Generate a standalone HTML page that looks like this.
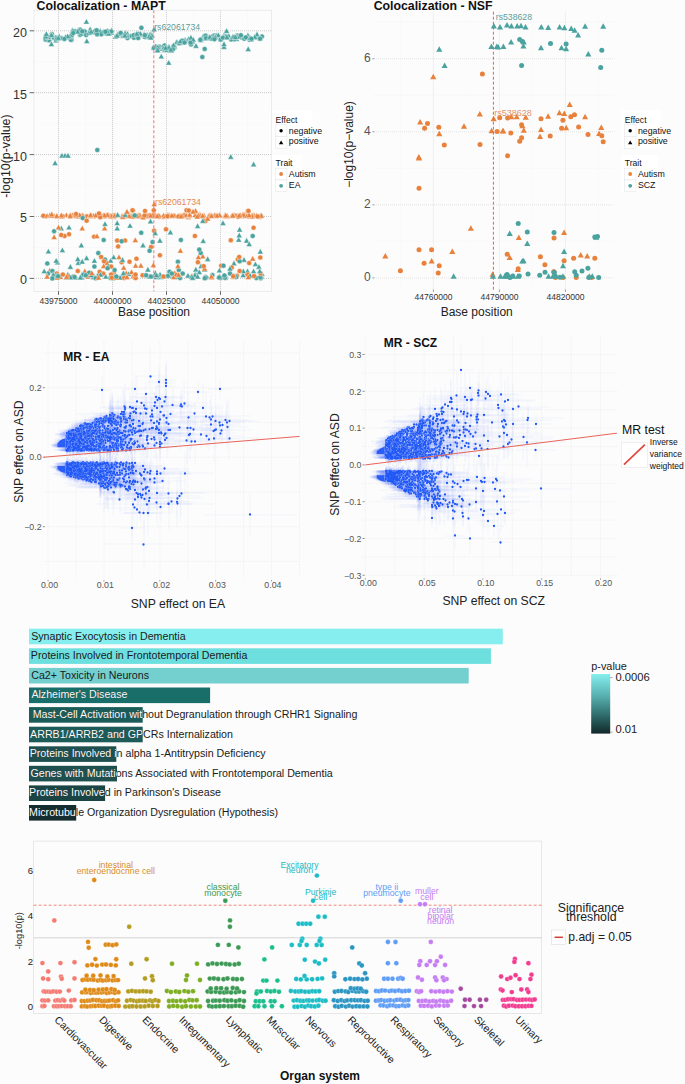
<!DOCTYPE html>
<html><head><meta charset="utf-8"><style>
html,body{margin:0;padding:0;background:#fcfcfc;}
svg{display:block;font-family:"Liberation Sans",sans-serif;}
</style></head><body>
<svg width="685" height="1084" viewBox="0 0 685 1084">
<rect width="685" height="1084" fill="#fcfcfc"/>
<line x1="34.00" y1="247.45" x2="271.50" y2="247.45" stroke="#f6f6f6" stroke-width="0.6"/>
<line x1="34.00" y1="185.55" x2="271.50" y2="185.55" stroke="#f6f6f6" stroke-width="0.6"/>
<line x1="34.00" y1="123.65" x2="271.50" y2="123.65" stroke="#f6f6f6" stroke-width="0.6"/>
<line x1="34.00" y1="61.75" x2="271.50" y2="61.75" stroke="#f6f6f6" stroke-width="0.6"/>
<line x1="85.50" y1="10.20" x2="85.50" y2="291.30" stroke="#f6f6f6" stroke-width="0.6"/>
<line x1="139.50" y1="10.20" x2="139.50" y2="291.30" stroke="#f6f6f6" stroke-width="0.6"/>
<line x1="193.50" y1="10.20" x2="193.50" y2="291.30" stroke="#f6f6f6" stroke-width="0.6"/>
<line x1="247.50" y1="10.20" x2="247.50" y2="291.30" stroke="#f6f6f6" stroke-width="0.6"/>
<line x1="34.00" y1="278.40" x2="271.50" y2="278.40" stroke="#b4b4b4" stroke-width="0.7" stroke-dasharray="1,1"/>
<line x1="34.00" y1="216.50" x2="271.50" y2="216.50" stroke="#b4b4b4" stroke-width="0.7" stroke-dasharray="1,1"/>
<line x1="34.00" y1="154.60" x2="271.50" y2="154.60" stroke="#b4b4b4" stroke-width="0.7" stroke-dasharray="1,1"/>
<line x1="34.00" y1="92.70" x2="271.50" y2="92.70" stroke="#b4b4b4" stroke-width="0.7" stroke-dasharray="1,1"/>
<line x1="34.00" y1="30.80" x2="271.50" y2="30.80" stroke="#b4b4b4" stroke-width="0.7" stroke-dasharray="1,1"/>
<line x1="58.50" y1="10.20" x2="58.50" y2="291.30" stroke="#b4b4b4" stroke-width="0.7" stroke-dasharray="1,1"/>
<line x1="112.50" y1="10.20" x2="112.50" y2="291.30" stroke="#b4b4b4" stroke-width="0.7" stroke-dasharray="1,1"/>
<line x1="166.50" y1="10.20" x2="166.50" y2="291.30" stroke="#b4b4b4" stroke-width="0.7" stroke-dasharray="1,1"/>
<line x1="220.50" y1="10.20" x2="220.50" y2="291.30" stroke="#b4b4b4" stroke-width="0.7" stroke-dasharray="1,1"/>
<rect x="34.0" y="10.2" width="237.5" height="281.1" fill="none" stroke="#e4e4e4" stroke-width="0.7"/>
<line x1="29.60" y1="278.40" x2="34.00" y2="278.40" stroke="#444" stroke-width="0.8"/>
<text transform="translate(27.00,284.30) scale(1,1)" font-size="12.5" text-anchor="end" fill="#333">0</text>
<line x1="29.60" y1="216.50" x2="34.00" y2="216.50" stroke="#444" stroke-width="0.8"/>
<text transform="translate(27.00,222.40) scale(1,1)" font-size="12.5" text-anchor="end" fill="#333">5</text>
<line x1="29.60" y1="154.60" x2="34.00" y2="154.60" stroke="#444" stroke-width="0.8"/>
<text transform="translate(27.00,160.50) scale(1,1)" font-size="12.5" text-anchor="end" fill="#333">10</text>
<line x1="29.60" y1="92.70" x2="34.00" y2="92.70" stroke="#444" stroke-width="0.8"/>
<text transform="translate(27.00,98.60) scale(1,1)" font-size="12.5" text-anchor="end" fill="#333">15</text>
<line x1="29.60" y1="30.80" x2="34.00" y2="30.80" stroke="#444" stroke-width="0.8"/>
<text transform="translate(27.00,36.70) scale(1,1)" font-size="12.5" text-anchor="end" fill="#333">20</text>
<line x1="58.50" y1="291.30" x2="58.50" y2="294.90" stroke="#444" stroke-width="0.8"/>
<text transform="translate(58.50,303.60) scale(1,1)" font-size="8.55" text-anchor="middle" fill="#333">43975000</text>
<line x1="112.50" y1="291.30" x2="112.50" y2="294.90" stroke="#444" stroke-width="0.8"/>
<text transform="translate(112.50,303.60) scale(1,1)" font-size="8.55" text-anchor="middle" fill="#333">44000000</text>
<line x1="166.50" y1="291.30" x2="166.50" y2="294.90" stroke="#444" stroke-width="0.8"/>
<text transform="translate(166.50,303.60) scale(1,1)" font-size="8.55" text-anchor="middle" fill="#333">44025000</text>
<line x1="220.50" y1="291.30" x2="220.50" y2="294.90" stroke="#444" stroke-width="0.8"/>
<text transform="translate(220.50,303.60) scale(1,1)" font-size="8.55" text-anchor="middle" fill="#333">44050000</text>
<text transform="translate(154.00,316.20) scale(1,1)" font-size="12" text-anchor="middle" fill="#222">Base position</text>
<text transform="translate(10.00,156.10) rotate(-90) scale(1,1)" font-size="12.4" text-anchor="middle" fill="#222">-log10(p-value)</text>
<text transform="translate(36.60,10.00) scale(1,1)" font-size="12.3" font-weight="bold" fill="#111">Colocalization - MAPT</text>
<path d="M97.3 217.1L103.3 217.1L100.3 211.7Z" fill="#e8813c" stroke="#fff" stroke-width="0.5" stroke-opacity="0.8"/>
<circle cx="163.4" cy="217.1" r="2.5" fill="#e8813c" stroke="#fff" stroke-width="0.5" stroke-opacity="0.8"/>
<circle cx="149.2" cy="216.2" r="2.5" fill="#e8813c" stroke="#fff" stroke-width="0.5" stroke-opacity="0.8"/>
<path d="M216.3 217.9L222.3 217.9L219.3 212.5Z" fill="#e8813c" stroke="#fff" stroke-width="0.5" stroke-opacity="0.8"/>
<circle cx="159.1" cy="216.7" r="2.5" fill="#e8813c" stroke="#fff" stroke-width="0.5" stroke-opacity="0.8"/>
<path d="M184.7 218.1L190.7 218.1L187.7 212.7Z" fill="#e8813c" stroke="#fff" stroke-width="0.5" stroke-opacity="0.8"/>
<path d="M42.4 218.6L48.4 218.6L45.4 213.2Z" fill="#e8813c" stroke="#fff" stroke-width="0.5" stroke-opacity="0.8"/>
<path d="M196.9 218.0L202.9 218.0L199.9 212.6Z" fill="#e8813c" stroke="#fff" stroke-width="0.5" stroke-opacity="0.8"/>
<path d="M74.6 217.8L80.6 217.8L77.6 212.4Z" fill="#e8813c" stroke="#fff" stroke-width="0.5" stroke-opacity="0.8"/>
<path d="M231.2 217.6L237.2 217.6L234.2 212.2Z" fill="#e8813c" stroke="#fff" stroke-width="0.5" stroke-opacity="0.8"/>
<path d="M180.1 217.6L186.1 217.6L183.1 212.2Z" fill="#e8813c" stroke="#fff" stroke-width="0.5" stroke-opacity="0.8"/>
<path d="M73.1 218.1L79.1 218.1L76.1 212.7Z" fill="#e8813c" stroke="#fff" stroke-width="0.5" stroke-opacity="0.8"/>
<circle cx="43.3" cy="215.8" r="2.5" fill="#e8813c" stroke="#fff" stroke-width="0.5" stroke-opacity="0.8"/>
<path d="M58.1 219.0L64.1 219.0L61.1 213.6Z" fill="#e8813c" stroke="#fff" stroke-width="0.5" stroke-opacity="0.8"/>
<path d="M197.6 217.5L203.6 217.5L200.6 212.1Z" fill="#e8813c" stroke="#fff" stroke-width="0.5" stroke-opacity="0.8"/>
<path d="M250.2 217.7L256.2 217.7L253.2 212.3Z" fill="#e8813c" stroke="#fff" stroke-width="0.5" stroke-opacity="0.8"/>
<path d="M228.6 218.4L234.6 218.4L231.6 213.0Z" fill="#e8813c" stroke="#fff" stroke-width="0.5" stroke-opacity="0.8"/>
<path d="M241.7 217.1L247.7 217.1L244.7 211.7Z" fill="#e8813c" stroke="#fff" stroke-width="0.5" stroke-opacity="0.8"/>
<path d="M221.8 217.9L227.8 217.9L224.8 212.5Z" fill="#e8813c" stroke="#fff" stroke-width="0.5" stroke-opacity="0.8"/>
<circle cx="77.7" cy="215.6" r="2.5" fill="#e8813c" stroke="#fff" stroke-width="0.5" stroke-opacity="0.8"/>
<path d="M108.5 218.1L114.5 218.1L111.5 212.7Z" fill="#e8813c" stroke="#fff" stroke-width="0.5" stroke-opacity="0.8"/>
<path d="M142.8 217.8L148.8 217.8L145.8 212.4Z" fill="#e8813c" stroke="#fff" stroke-width="0.5" stroke-opacity="0.8"/>
<path d="M119.1 218.2L125.1 218.2L122.1 212.8Z" fill="#e8813c" stroke="#fff" stroke-width="0.5" stroke-opacity="0.8"/>
<circle cx="144.6" cy="216.5" r="2.5" fill="#e8813c" stroke="#fff" stroke-width="0.5" stroke-opacity="0.8"/>
<path d="M222.5 218.1L228.5 218.1L225.5 212.7Z" fill="#e8813c" stroke="#fff" stroke-width="0.5" stroke-opacity="0.8"/>
<path d="M196.2 218.1L202.2 218.1L199.2 212.7Z" fill="#e8813c" stroke="#fff" stroke-width="0.5" stroke-opacity="0.8"/>
<circle cx="167.1" cy="216.3" r="2.5" fill="#e8813c" stroke="#fff" stroke-width="0.5" stroke-opacity="0.8"/>
<path d="M215.9 218.0L221.9 218.0L218.9 212.6Z" fill="#e8813c" stroke="#fff" stroke-width="0.5" stroke-opacity="0.8"/>
<path d="M175.5 218.2L181.5 218.2L178.5 212.8Z" fill="#e8813c" stroke="#fff" stroke-width="0.5" stroke-opacity="0.8"/>
<path d="M105.6 217.5L111.6 217.5L108.6 212.1Z" fill="#e8813c" stroke="#fff" stroke-width="0.5" stroke-opacity="0.8"/>
<path d="M126.3 218.3L132.3 218.3L129.3 212.9Z" fill="#e8813c" stroke="#fff" stroke-width="0.5" stroke-opacity="0.8"/>
<path d="M200.9 218.4L206.9 218.4L203.9 213.0Z" fill="#e8813c" stroke="#fff" stroke-width="0.5" stroke-opacity="0.8"/>
<path d="M247.9 218.9L253.9 218.9L250.9 213.5Z" fill="#e8813c" stroke="#fff" stroke-width="0.5" stroke-opacity="0.8"/>
<path d="M221.9 218.4L227.9 218.4L224.9 213.0Z" fill="#e8813c" stroke="#fff" stroke-width="0.5" stroke-opacity="0.8"/>
<path d="M71.0 217.4L77.0 217.4L74.0 212.0Z" fill="#e8813c" stroke="#fff" stroke-width="0.5" stroke-opacity="0.8"/>
<path d="M79.6 217.6L85.6 217.6L82.6 212.2Z" fill="#e8813c" stroke="#fff" stroke-width="0.5" stroke-opacity="0.8"/>
<path d="M224.1 218.3L230.1 218.3L227.1 212.9Z" fill="#e8813c" stroke="#fff" stroke-width="0.5" stroke-opacity="0.8"/>
<path d="M74.6 218.2L80.6 218.2L77.6 212.8Z" fill="#e8813c" stroke="#fff" stroke-width="0.5" stroke-opacity="0.8"/>
<path d="M129.5 216.9L135.5 216.9L132.5 211.5Z" fill="#e8813c" stroke="#fff" stroke-width="0.5" stroke-opacity="0.8"/>
<path d="M152.5 217.5L158.5 217.5L155.5 212.1Z" fill="#e8813c" stroke="#fff" stroke-width="0.5" stroke-opacity="0.8"/>
<path d="M208.7 217.8L214.7 217.8L211.7 212.4Z" fill="#e8813c" stroke="#fff" stroke-width="0.5" stroke-opacity="0.8"/>
<path d="M130.7 218.5L136.7 218.5L133.7 213.1Z" fill="#e8813c" stroke="#fff" stroke-width="0.5" stroke-opacity="0.8"/>
<path d="M128.2 218.5L134.2 218.5L131.2 213.1Z" fill="#e8813c" stroke="#fff" stroke-width="0.5" stroke-opacity="0.8"/>
<path d="M185.3 219.6L191.3 219.6L188.3 214.2Z" fill="#e8813c" stroke="#fff" stroke-width="0.5" stroke-opacity="0.8"/>
<path d="M44.1 218.3L50.1 218.3L47.1 212.9Z" fill="#e8813c" stroke="#fff" stroke-width="0.5" stroke-opacity="0.8"/>
<path d="M63.4 217.6L69.4 217.6L66.4 212.2Z" fill="#e8813c" stroke="#fff" stroke-width="0.5" stroke-opacity="0.8"/>
<path d="M152.1 217.8L158.1 217.8L155.1 212.4Z" fill="#e8813c" stroke="#fff" stroke-width="0.5" stroke-opacity="0.8"/>
<path d="M74.8 219.1L80.8 219.1L77.8 213.7Z" fill="#e8813c" stroke="#fff" stroke-width="0.5" stroke-opacity="0.8"/>
<path d="M238.7 218.5L244.7 218.5L241.7 213.1Z" fill="#e8813c" stroke="#fff" stroke-width="0.5" stroke-opacity="0.8"/>
<path d="M71.2 218.2L77.2 218.2L74.2 212.8Z" fill="#e8813c" stroke="#fff" stroke-width="0.5" stroke-opacity="0.8"/>
<circle cx="260.1" cy="217.1" r="2.5" fill="#e8813c" stroke="#fff" stroke-width="0.5" stroke-opacity="0.8"/>
<circle cx="86.4" cy="216.3" r="2.5" fill="#e8813c" stroke="#fff" stroke-width="0.5" stroke-opacity="0.8"/>
<path d="M178.0 218.0L184.0 218.0L181.0 212.6Z" fill="#e8813c" stroke="#fff" stroke-width="0.5" stroke-opacity="0.8"/>
<path d="M166.8 217.8L172.8 217.8L169.8 212.4Z" fill="#e8813c" stroke="#fff" stroke-width="0.5" stroke-opacity="0.8"/>
<path d="M112.4 217.6L118.4 217.6L115.4 212.2Z" fill="#e8813c" stroke="#fff" stroke-width="0.5" stroke-opacity="0.8"/>
<circle cx="70.3" cy="216.5" r="2.5" fill="#e8813c" stroke="#fff" stroke-width="0.5" stroke-opacity="0.8"/>
<path d="M69.8 217.5L75.8 217.5L72.8 212.1Z" fill="#e8813c" stroke="#fff" stroke-width="0.5" stroke-opacity="0.8"/>
<path d="M163.3 218.4L169.3 218.4L166.3 213.0Z" fill="#e8813c" stroke="#fff" stroke-width="0.5" stroke-opacity="0.8"/>
<path d="M240.1 217.0L246.1 217.0L243.1 211.6Z" fill="#e8813c" stroke="#fff" stroke-width="0.5" stroke-opacity="0.8"/>
<circle cx="70.0" cy="216.3" r="2.5" fill="#e8813c" stroke="#fff" stroke-width="0.5" stroke-opacity="0.8"/>
<path d="M103.5 217.7L109.5 217.7L106.5 212.3Z" fill="#e8813c" stroke="#fff" stroke-width="0.5" stroke-opacity="0.8"/>
<path d="M222.8 218.3L228.8 218.3L225.8 212.9Z" fill="#e8813c" stroke="#fff" stroke-width="0.5" stroke-opacity="0.8"/>
<path d="M160.5 217.9L166.5 217.9L163.5 212.5Z" fill="#e8813c" stroke="#fff" stroke-width="0.5" stroke-opacity="0.8"/>
<circle cx="260.1" cy="216.2" r="2.5" fill="#e8813c" stroke="#fff" stroke-width="0.5" stroke-opacity="0.8"/>
<path d="M184.8 218.3L190.8 218.3L187.8 212.9Z" fill="#e8813c" stroke="#fff" stroke-width="0.5" stroke-opacity="0.8"/>
<path d="M124.0 217.3L130.0 217.3L127.0 211.9Z" fill="#e8813c" stroke="#fff" stroke-width="0.5" stroke-opacity="0.8"/>
<path d="M216.8 217.7L222.8 217.7L219.8 212.3Z" fill="#e8813c" stroke="#fff" stroke-width="0.5" stroke-opacity="0.8"/>
<path d="M71.5 218.0L77.5 218.0L74.5 212.6Z" fill="#e8813c" stroke="#fff" stroke-width="0.5" stroke-opacity="0.8"/>
<path d="M165.3 217.7L171.3 217.7L168.3 212.3Z" fill="#e8813c" stroke="#fff" stroke-width="0.5" stroke-opacity="0.8"/>
<path d="M165.0 217.5L171.0 217.5L168.0 212.1Z" fill="#e8813c" stroke="#fff" stroke-width="0.5" stroke-opacity="0.8"/>
<path d="M181.2 217.2L187.2 217.2L184.2 211.8Z" fill="#e8813c" stroke="#fff" stroke-width="0.5" stroke-opacity="0.8"/>
<path d="M251.1 217.9L257.1 217.9L254.1 212.5Z" fill="#e8813c" stroke="#fff" stroke-width="0.5" stroke-opacity="0.8"/>
<path d="M143.4 218.7L149.4 218.7L146.4 213.3Z" fill="#e8813c" stroke="#fff" stroke-width="0.5" stroke-opacity="0.8"/>
<path d="M206.8 217.6L212.8 217.6L209.8 212.2Z" fill="#e8813c" stroke="#fff" stroke-width="0.5" stroke-opacity="0.8"/>
<circle cx="149.9" cy="215.2" r="2.5" fill="#e8813c" stroke="#fff" stroke-width="0.5" stroke-opacity="0.8"/>
<path d="M130.0 218.1L136.0 218.1L133.0 212.7Z" fill="#e8813c" stroke="#fff" stroke-width="0.5" stroke-opacity="0.8"/>
<path d="M164.5 217.5L170.5 217.5L167.5 212.1Z" fill="#e8813c" stroke="#fff" stroke-width="0.5" stroke-opacity="0.8"/>
<circle cx="138.1" cy="216.6" r="2.5" fill="#e8813c" stroke="#fff" stroke-width="0.5" stroke-opacity="0.8"/>
<circle cx="113.6" cy="215.4" r="2.5" fill="#e8813c" stroke="#fff" stroke-width="0.5" stroke-opacity="0.8"/>
<path d="M201.0 217.8L207.0 217.8L204.0 212.4Z" fill="#e8813c" stroke="#fff" stroke-width="0.5" stroke-opacity="0.8"/>
<path d="M205.4 218.3L211.4 218.3L208.4 212.9Z" fill="#e8813c" stroke="#fff" stroke-width="0.5" stroke-opacity="0.8"/>
<path d="M67.4 217.3L73.4 217.3L70.4 211.9Z" fill="#e8813c" stroke="#fff" stroke-width="0.5" stroke-opacity="0.8"/>
<path d="M150.6 218.2L156.6 218.2L153.6 212.8Z" fill="#e8813c" stroke="#fff" stroke-width="0.5" stroke-opacity="0.8"/>
<path d="M155.8 217.9L161.8 217.9L158.8 212.5Z" fill="#e8813c" stroke="#fff" stroke-width="0.5" stroke-opacity="0.8"/>
<path d="M107.4 218.4L113.4 218.4L110.4 213.0Z" fill="#e8813c" stroke="#fff" stroke-width="0.5" stroke-opacity="0.8"/>
<circle cx="243.5" cy="216.0" r="2.5" fill="#e8813c" stroke="#fff" stroke-width="0.5" stroke-opacity="0.8"/>
<circle cx="189.5" cy="215.9" r="2.5" fill="#e8813c" stroke="#fff" stroke-width="0.5" stroke-opacity="0.8"/>
<path d="M88.8 218.5L94.8 218.5L91.8 213.1Z" fill="#e8813c" stroke="#fff" stroke-width="0.5" stroke-opacity="0.8"/>
<path d="M164.7 217.8L170.7 217.8L167.7 212.4Z" fill="#e8813c" stroke="#fff" stroke-width="0.5" stroke-opacity="0.8"/>
<path d="M67.2 218.2L73.2 218.2L70.2 212.8Z" fill="#e8813c" stroke="#fff" stroke-width="0.5" stroke-opacity="0.8"/>
<path d="M249.2 217.6L255.2 217.6L252.2 212.2Z" fill="#e8813c" stroke="#fff" stroke-width="0.5" stroke-opacity="0.8"/>
<path d="M111.4 218.1L117.4 218.1L114.4 212.7Z" fill="#e8813c" stroke="#fff" stroke-width="0.5" stroke-opacity="0.8"/>
<path d="M236.9 217.8L242.9 217.8L239.9 212.4Z" fill="#e8813c" stroke="#fff" stroke-width="0.5" stroke-opacity="0.8"/>
<path d="M168.8 218.6L174.8 218.6L171.8 213.2Z" fill="#e8813c" stroke="#fff" stroke-width="0.5" stroke-opacity="0.8"/>
<path d="M46.8 217.7L52.8 217.7L49.8 212.3Z" fill="#e8813c" stroke="#fff" stroke-width="0.5" stroke-opacity="0.8"/>
<circle cx="248.5" cy="216.5" r="2.5" fill="#e8813c" stroke="#fff" stroke-width="0.5" stroke-opacity="0.8"/>
<circle cx="147.0" cy="216.1" r="2.5" fill="#e8813c" stroke="#fff" stroke-width="0.5" stroke-opacity="0.8"/>
<path d="M237.3 217.6L243.3 217.6L240.3 212.2Z" fill="#e8813c" stroke="#fff" stroke-width="0.5" stroke-opacity="0.8"/>
<path d="M224.3 218.4L230.3 218.4L227.3 213.0Z" fill="#e8813c" stroke="#fff" stroke-width="0.5" stroke-opacity="0.8"/>
<circle cx="236.5" cy="215.8" r="2.5" fill="#e8813c" stroke="#fff" stroke-width="0.5" stroke-opacity="0.8"/>
<circle cx="87.4" cy="216.5" r="2.5" fill="#e8813c" stroke="#fff" stroke-width="0.5" stroke-opacity="0.8"/>
<path d="M51.0 218.3L57.0 218.3L54.0 212.9Z" fill="#e8813c" stroke="#fff" stroke-width="0.5" stroke-opacity="0.8"/>
<circle cx="202.7" cy="216.7" r="2.5" fill="#e8813c" stroke="#fff" stroke-width="0.5" stroke-opacity="0.8"/>
<path d="M196.9 216.9L202.9 216.9L199.9 211.5Z" fill="#e8813c" stroke="#fff" stroke-width="0.5" stroke-opacity="0.8"/>
<path d="M193.1 217.5L199.1 217.5L196.1 212.1Z" fill="#e8813c" stroke="#fff" stroke-width="0.5" stroke-opacity="0.8"/>
<path d="M89.1 218.3L95.1 218.3L92.1 212.9Z" fill="#e8813c" stroke="#fff" stroke-width="0.5" stroke-opacity="0.8"/>
<path d="M196.3 217.9L202.3 217.9L199.3 212.5Z" fill="#e8813c" stroke="#fff" stroke-width="0.5" stroke-opacity="0.8"/>
<path d="M186.2 217.7L192.2 217.7L189.2 212.3Z" fill="#e8813c" stroke="#fff" stroke-width="0.5" stroke-opacity="0.8"/>
<path d="M122.0 218.7L128.0 218.7L125.0 213.3Z" fill="#e8813c" stroke="#fff" stroke-width="0.5" stroke-opacity="0.8"/>
<path d="M90.4 219.0L96.4 219.0L93.4 213.6Z" fill="#e8813c" stroke="#fff" stroke-width="0.5" stroke-opacity="0.8"/>
<path d="M243.9 218.3L249.9 218.3L246.9 212.9Z" fill="#e8813c" stroke="#fff" stroke-width="0.5" stroke-opacity="0.8"/>
<circle cx="62.8" cy="216.6" r="2.5" fill="#e8813c" stroke="#fff" stroke-width="0.5" stroke-opacity="0.8"/>
<path d="M136.9 218.7L142.9 218.7L139.9 213.3Z" fill="#e8813c" stroke="#fff" stroke-width="0.5" stroke-opacity="0.8"/>
<path d="M171.9 218.2L177.9 218.2L174.9 212.8Z" fill="#e8813c" stroke="#fff" stroke-width="0.5" stroke-opacity="0.8"/>
<path d="M95.2 218.0L101.2 218.0L98.2 212.6Z" fill="#e8813c" stroke="#fff" stroke-width="0.5" stroke-opacity="0.8"/>
<path d="M206.2 218.3L212.2 218.3L209.2 212.9Z" fill="#e8813c" stroke="#fff" stroke-width="0.5" stroke-opacity="0.8"/>
<circle cx="104.4" cy="216.6" r="2.5" fill="#e8813c" stroke="#fff" stroke-width="0.5" stroke-opacity="0.8"/>
<path d="M257.3 218.2L263.3 218.2L260.3 212.8Z" fill="#e8813c" stroke="#fff" stroke-width="0.5" stroke-opacity="0.8"/>
<circle cx="144.6" cy="216.3" r="2.5" fill="#e8813c" stroke="#fff" stroke-width="0.5" stroke-opacity="0.8"/>
<path d="M150.0 218.6L156.0 218.6L153.0 213.2Z" fill="#e8813c" stroke="#fff" stroke-width="0.5" stroke-opacity="0.8"/>
<path d="M162.3 218.4L168.3 218.4L165.3 213.0Z" fill="#e8813c" stroke="#fff" stroke-width="0.5" stroke-opacity="0.8"/>
<path d="M212.3 218.5L218.3 218.5L215.3 213.1Z" fill="#e8813c" stroke="#fff" stroke-width="0.5" stroke-opacity="0.8"/>
<path d="M151.2 217.6L157.2 217.6L154.2 212.2Z" fill="#e8813c" stroke="#fff" stroke-width="0.5" stroke-opacity="0.8"/>
<path d="M249.3 218.8L255.3 218.8L252.3 213.4Z" fill="#e8813c" stroke="#fff" stroke-width="0.5" stroke-opacity="0.8"/>
<path d="M211.5 217.7L217.5 217.7L214.5 212.3Z" fill="#e8813c" stroke="#fff" stroke-width="0.5" stroke-opacity="0.8"/>
<path d="M136.9 217.4L142.9 217.4L139.9 212.0Z" fill="#e8813c" stroke="#fff" stroke-width="0.5" stroke-opacity="0.8"/>
<path d="M213.0 217.9L219.0 217.9L216.0 212.5Z" fill="#e8813c" stroke="#fff" stroke-width="0.5" stroke-opacity="0.8"/>
<path d="M88.7 218.4L94.7 218.4L91.7 213.0Z" fill="#e8813c" stroke="#fff" stroke-width="0.5" stroke-opacity="0.8"/>
<path d="M149.8 217.3L155.8 217.3L152.8 211.9Z" fill="#e8813c" stroke="#fff" stroke-width="0.5" stroke-opacity="0.8"/>
<circle cx="169.0" cy="216.1" r="2.5" fill="#e8813c" stroke="#fff" stroke-width="0.5" stroke-opacity="0.8"/>
<path d="M79.6 218.0L85.6 218.0L82.6 212.6Z" fill="#e8813c" stroke="#fff" stroke-width="0.5" stroke-opacity="0.8"/>
<path d="M135.6 218.0L141.6 218.0L138.6 212.6Z" fill="#e8813c" stroke="#fff" stroke-width="0.5" stroke-opacity="0.8"/>
<circle cx="100.8" cy="216.2" r="2.5" fill="#e8813c" stroke="#fff" stroke-width="0.5" stroke-opacity="0.8"/>
<path d="M165.2 218.3L171.2 218.3L168.2 212.9Z" fill="#e8813c" stroke="#fff" stroke-width="0.5" stroke-opacity="0.8"/>
<path d="M214.2 218.0L220.2 218.0L217.2 212.6Z" fill="#e8813c" stroke="#fff" stroke-width="0.5" stroke-opacity="0.8"/>
<path d="M49.3 217.7L55.3 217.7L52.3 212.3Z" fill="#e8813c" stroke="#fff" stroke-width="0.5" stroke-opacity="0.8"/>
<path d="M176.7 218.5L182.7 218.5L179.7 213.1Z" fill="#e8813c" stroke="#fff" stroke-width="0.5" stroke-opacity="0.8"/>
<circle cx="62.5" cy="216.3" r="2.5" fill="#e8813c" stroke="#fff" stroke-width="0.5" stroke-opacity="0.8"/>
<path d="M77.8 218.1L83.8 218.1L80.8 212.7Z" fill="#e8813c" stroke="#fff" stroke-width="0.5" stroke-opacity="0.8"/>
<path d="M222.8 217.7L228.8 217.7L225.8 212.3Z" fill="#e8813c" stroke="#fff" stroke-width="0.5" stroke-opacity="0.8"/>
<path d="M53.5 218.5L59.5 218.5L56.5 213.1Z" fill="#e8813c" stroke="#fff" stroke-width="0.5" stroke-opacity="0.8"/>
<path d="M253.5 217.8L259.5 217.8L256.5 212.4Z" fill="#e8813c" stroke="#fff" stroke-width="0.5" stroke-opacity="0.8"/>
<path d="M147.7 217.9L153.7 217.9L150.7 212.5Z" fill="#e8813c" stroke="#fff" stroke-width="0.5" stroke-opacity="0.8"/>
<path d="M140.2 219.7L146.2 219.7L143.2 214.3Z" fill="#e8813c" stroke="#fff" stroke-width="0.5" stroke-opacity="0.8"/>
<path d="M48.6 218.0L54.6 218.0L51.6 212.6Z" fill="#e8813c" stroke="#fff" stroke-width="0.5" stroke-opacity="0.8"/>
<path d="M126.4 216.9L132.4 216.9L129.4 211.5Z" fill="#e8813c" stroke="#fff" stroke-width="0.5" stroke-opacity="0.8"/>
<circle cx="136.4" cy="216.1" r="2.5" fill="#e8813c" stroke="#fff" stroke-width="0.5" stroke-opacity="0.8"/>
<path d="M207.9 218.0L213.9 218.0L210.9 212.6Z" fill="#e8813c" stroke="#fff" stroke-width="0.5" stroke-opacity="0.8"/>
<path d="M90.6 218.1L96.6 218.1L93.6 212.7Z" fill="#e8813c" stroke="#fff" stroke-width="0.5" stroke-opacity="0.8"/>
<circle cx="144.5" cy="215.5" r="2.5" fill="#e8813c" stroke="#fff" stroke-width="0.5" stroke-opacity="0.8"/>
<path d="M120.1 218.9L126.1 218.9L123.1 213.5Z" fill="#e8813c" stroke="#fff" stroke-width="0.5" stroke-opacity="0.8"/>
<path d="M48.7 216.7L54.7 216.7L51.7 211.3Z" fill="#e8813c" stroke="#fff" stroke-width="0.5" stroke-opacity="0.8"/>
<path d="M183.0 217.6L189.0 217.6L186.0 212.2Z" fill="#e8813c" stroke="#fff" stroke-width="0.5" stroke-opacity="0.8"/>
<path d="M230.2 217.9L236.2 217.9L233.2 212.5Z" fill="#e8813c" stroke="#fff" stroke-width="0.5" stroke-opacity="0.8"/>
<circle cx="238.0" cy="216.8" r="2.5" fill="#e8813c" stroke="#fff" stroke-width="0.5" stroke-opacity="0.8"/>
<path d="M123.8 217.9L129.8 217.9L126.8 212.5Z" fill="#e8813c" stroke="#fff" stroke-width="0.5" stroke-opacity="0.8"/>
<path d="M87.4 218.3L93.4 218.3L90.4 212.9Z" fill="#e8813c" stroke="#fff" stroke-width="0.5" stroke-opacity="0.8"/>
<path d="M76.1 217.8L82.1 217.8L79.1 212.4Z" fill="#e8813c" stroke="#fff" stroke-width="0.5" stroke-opacity="0.8"/>
<path d="M87.2 218.5L93.2 218.5L90.2 213.1Z" fill="#e8813c" stroke="#fff" stroke-width="0.5" stroke-opacity="0.8"/>
<path d="M258.5 218.0L264.5 218.0L261.5 212.6Z" fill="#e8813c" stroke="#fff" stroke-width="0.5" stroke-opacity="0.8"/>
<path d="M229.8 217.9L235.8 217.9L232.8 212.5Z" fill="#e8813c" stroke="#fff" stroke-width="0.5" stroke-opacity="0.8"/>
<path d="M192.1 217.5L198.1 217.5L195.1 212.1Z" fill="#e8813c" stroke="#fff" stroke-width="0.5" stroke-opacity="0.8"/>
<path d="M100.4 217.7L106.4 217.7L103.4 212.3Z" fill="#e8813c" stroke="#fff" stroke-width="0.5" stroke-opacity="0.8"/>
<circle cx="129.5" cy="216.2" r="2.5" fill="#e8813c" stroke="#fff" stroke-width="0.5" stroke-opacity="0.8"/>
<path d="M197.3 218.1L203.3 218.1L200.3 212.7Z" fill="#e8813c" stroke="#fff" stroke-width="0.5" stroke-opacity="0.8"/>
<path d="M246.1 217.5L252.1 217.5L249.1 212.1Z" fill="#e8813c" stroke="#fff" stroke-width="0.5" stroke-opacity="0.8"/>
<path d="M208.5 218.3L214.5 218.3L211.5 212.9Z" fill="#e8813c" stroke="#fff" stroke-width="0.5" stroke-opacity="0.8"/>
<path d="M110.9 219.2L116.9 219.2L113.9 213.8Z" fill="#e8813c" stroke="#fff" stroke-width="0.5" stroke-opacity="0.8"/>
<path d="M58.3 217.7L64.3 217.7L61.3 212.3Z" fill="#e8813c" stroke="#fff" stroke-width="0.5" stroke-opacity="0.8"/>
<path d="M154.2 218.4L160.2 218.4L157.2 213.0Z" fill="#e8813c" stroke="#fff" stroke-width="0.5" stroke-opacity="0.8"/>
<path d="M126.7 218.0L132.7 218.0L129.7 212.6Z" fill="#e8813c" stroke="#fff" stroke-width="0.5" stroke-opacity="0.8"/>
<path d="M171.0 217.9L177.0 217.9L174.0 212.5Z" fill="#e8813c" stroke="#fff" stroke-width="0.5" stroke-opacity="0.8"/>
<path d="M108.7 218.7L114.7 218.7L111.7 213.3Z" fill="#e8813c" stroke="#fff" stroke-width="0.5" stroke-opacity="0.8"/>
<path d="M195.5 217.7L201.5 217.7L198.5 212.3Z" fill="#e8813c" stroke="#fff" stroke-width="0.5" stroke-opacity="0.8"/>
<path d="M199.6 218.2L205.6 218.2L202.6 212.8Z" fill="#e8813c" stroke="#fff" stroke-width="0.5" stroke-opacity="0.8"/>
<path d="M101.7 218.3L107.7 218.3L104.7 212.9Z" fill="#e8813c" stroke="#fff" stroke-width="0.5" stroke-opacity="0.8"/>
<path d="M129.2 218.9L135.2 218.9L132.2 213.5Z" fill="#e8813c" stroke="#fff" stroke-width="0.5" stroke-opacity="0.8"/>
<path d="M104.3 217.3L110.3 217.3L107.3 211.9Z" fill="#e8813c" stroke="#fff" stroke-width="0.5" stroke-opacity="0.8"/>
<path d="M87.5 217.9L93.5 217.9L90.5 212.5Z" fill="#e8813c" stroke="#fff" stroke-width="0.5" stroke-opacity="0.8"/>
<circle cx="167.5" cy="216.2" r="2.5" fill="#e8813c" stroke="#fff" stroke-width="0.5" stroke-opacity="0.8"/>
<circle cx="257.6" cy="216.5" r="2.5" fill="#e8813c" stroke="#fff" stroke-width="0.5" stroke-opacity="0.8"/>
<path d="M87.6 217.3L93.6 217.3L90.6 211.9Z" fill="#e8813c" stroke="#fff" stroke-width="0.5" stroke-opacity="0.8"/>
<path d="M186.7 217.0L192.7 217.0L189.7 211.6Z" fill="#e8813c" stroke="#fff" stroke-width="0.5" stroke-opacity="0.8"/>
<path d="M179.2 218.4L185.2 218.4L182.2 213.0Z" fill="#e8813c" stroke="#fff" stroke-width="0.5" stroke-opacity="0.8"/>
<path d="M134.1 218.2L140.1 218.2L137.1 212.8Z" fill="#e8813c" stroke="#fff" stroke-width="0.5" stroke-opacity="0.8"/>
<path d="M112.2 217.9L118.2 217.9L115.2 212.5Z" fill="#e8813c" stroke="#fff" stroke-width="0.5" stroke-opacity="0.8"/>
<path d="M101.6 217.7L107.6 217.7L104.6 212.3Z" fill="#e8813c" stroke="#fff" stroke-width="0.5" stroke-opacity="0.8"/>
<path d="M76.7 217.6L82.7 217.6L79.7 212.2Z" fill="#e8813c" stroke="#fff" stroke-width="0.5" stroke-opacity="0.8"/>
<path d="M92.8 217.6L98.8 217.6L95.8 212.2Z" fill="#e8813c" stroke="#fff" stroke-width="0.5" stroke-opacity="0.8"/>
<path d="M73.2 217.8L79.2 217.8L76.2 212.4Z" fill="#e8813c" stroke="#fff" stroke-width="0.5" stroke-opacity="0.8"/>
<path d="M194.3 218.9L200.3 218.9L197.3 213.5Z" fill="#e8813c" stroke="#fff" stroke-width="0.5" stroke-opacity="0.8"/>
<path d="M126.1 218.3L132.1 218.3L129.1 212.9Z" fill="#e8813c" stroke="#fff" stroke-width="0.5" stroke-opacity="0.8"/>
<path d="M53.8 218.2L59.8 218.2L56.8 212.8Z" fill="#e8813c" stroke="#fff" stroke-width="0.5" stroke-opacity="0.8"/>
<path d="M168.9 217.9L174.9 217.9L171.9 212.5Z" fill="#e8813c" stroke="#fff" stroke-width="0.5" stroke-opacity="0.8"/>
<path d="M111.6 218.1L117.6 218.1L114.6 212.7Z" fill="#e8813c" stroke="#fff" stroke-width="0.5" stroke-opacity="0.8"/>
<path d="M236.2 217.9L242.2 217.9L239.2 212.5Z" fill="#e8813c" stroke="#fff" stroke-width="0.5" stroke-opacity="0.8"/>
<path d="M97.6 218.2L103.6 218.2L100.6 212.8Z" fill="#e8813c" stroke="#fff" stroke-width="0.5" stroke-opacity="0.8"/>
<circle cx="178.4" cy="216.6" r="2.5" fill="#e8813c" stroke="#fff" stroke-width="0.5" stroke-opacity="0.8"/>
<path d="M119.8 219.2L125.8 219.2L122.8 213.8Z" fill="#e8813c" stroke="#fff" stroke-width="0.5" stroke-opacity="0.8"/>
<path d="M178.0 218.7L184.0 218.7L181.0 213.3Z" fill="#e8813c" stroke="#fff" stroke-width="0.5" stroke-opacity="0.8"/>
<path d="M69.7 34.5L75.7 34.5L72.7 29.1Z" fill="#4ba39f" stroke="#fff" stroke-width="0.5" stroke-opacity="0.8"/>
<path d="M201.8 41.0L207.8 41.0L204.8 35.6Z" fill="#4ba39f" stroke="#fff" stroke-width="0.5" stroke-opacity="0.8"/>
<path d="M252.4 266.6L258.4 266.6L255.4 261.2Z" fill="#4ba39f" stroke="#fff" stroke-width="0.5" stroke-opacity="0.8"/>
<path d="M69.8 34.9L75.8 34.9L72.8 29.5Z" fill="#4ba39f" stroke="#fff" stroke-width="0.5" stroke-opacity="0.8"/>
<circle cx="98.3" cy="253.1" r="2.5" fill="#4ba39f" stroke="#fff" stroke-width="0.5" stroke-opacity="0.8"/>
<path d="M147.5 223.7L153.5 223.7L150.5 218.3Z" fill="#4ba39f" stroke="#fff" stroke-width="0.5" stroke-opacity="0.8"/>
<circle cx="133.4" cy="277.0" r="2.5" fill="#e8813c" stroke="#fff" stroke-width="0.5" stroke-opacity="0.8"/>
<path d="M67.8 39.6L73.8 39.6L70.8 34.2Z" fill="#4ba39f" stroke="#fff" stroke-width="0.5" stroke-opacity="0.8"/>
<path d="M123.2 275.5L129.2 275.5L126.2 270.1Z" fill="#e8813c" stroke="#fff" stroke-width="0.5" stroke-opacity="0.8"/>
<path d="M153.1 279.4L159.1 279.4L156.1 274.0Z" fill="#4ba39f" stroke="#fff" stroke-width="0.5" stroke-opacity="0.8"/>
<circle cx="200.1" cy="40.0" r="2.5" fill="#4ba39f" stroke="#fff" stroke-width="0.5" stroke-opacity="0.8"/>
<path d="M58.2 230.7L64.2 230.7L61.2 225.3Z" fill="#4ba39f" stroke="#fff" stroke-width="0.5" stroke-opacity="0.8"/>
<circle cx="77.8" cy="271.0" r="2.5" fill="#e8813c" stroke="#fff" stroke-width="0.5" stroke-opacity="0.8"/>
<path d="M42.7 39.8L48.7 39.8L45.7 34.4Z" fill="#4ba39f" stroke="#fff" stroke-width="0.5" stroke-opacity="0.8"/>
<path d="M230.6 279.2L236.6 279.2L233.6 273.8Z" fill="#e8813c" stroke="#fff" stroke-width="0.5" stroke-opacity="0.8"/>
<circle cx="123.2" cy="277.2" r="2.5" fill="#4ba39f" stroke="#fff" stroke-width="0.5" stroke-opacity="0.8"/>
<circle cx="157.5" cy="47.9" r="2.5" fill="#4ba39f" stroke="#fff" stroke-width="0.5" stroke-opacity="0.8"/>
<circle cx="261.9" cy="36.4" r="2.5" fill="#4ba39f" stroke="#fff" stroke-width="0.5" stroke-opacity="0.8"/>
<path d="M69.4 32.7L75.4 32.7L72.4 27.3Z" fill="#4ba39f" stroke="#fff" stroke-width="0.5" stroke-opacity="0.8"/>
<circle cx="205.4" cy="221.0" r="2.5" fill="#e8813c" stroke="#fff" stroke-width="0.5" stroke-opacity="0.8"/>
<circle cx="72.9" cy="276.7" r="2.5" fill="#4ba39f" stroke="#fff" stroke-width="0.5" stroke-opacity="0.8"/>
<circle cx="71.4" cy="38.3" r="2.5" fill="#4ba39f" stroke="#fff" stroke-width="0.5" stroke-opacity="0.8"/>
<circle cx="164.5" cy="45.4" r="2.5" fill="#4ba39f" stroke="#fff" stroke-width="0.5" stroke-opacity="0.8"/>
<path d="M150.7 49.9L156.7 49.9L153.7 44.5Z" fill="#4ba39f" stroke="#fff" stroke-width="0.5" stroke-opacity="0.8"/>
<path d="M259.0 276.3L265.0 276.3L262.0 270.9Z" fill="#4ba39f" stroke="#fff" stroke-width="0.5" stroke-opacity="0.8"/>
<path d="M220.9 37.7L226.9 37.7L223.9 32.3Z" fill="#4ba39f" stroke="#fff" stroke-width="0.5" stroke-opacity="0.8"/>
<path d="M125.6 276.3L131.6 276.3L128.6 270.9Z" fill="#4ba39f" stroke="#fff" stroke-width="0.5" stroke-opacity="0.8"/>
<circle cx="256.3" cy="278.0" r="2.5" fill="#4ba39f" stroke="#fff" stroke-width="0.5" stroke-opacity="0.8"/>
<circle cx="151.7" cy="37.0" r="2.5" fill="#4ba39f" stroke="#fff" stroke-width="0.5" stroke-opacity="0.8"/>
<circle cx="162.2" cy="47.4" r="2.5" fill="#4ba39f" stroke="#fff" stroke-width="0.5" stroke-opacity="0.8"/>
<circle cx="186.5" cy="210.3" r="2.5" fill="#e8813c" stroke="#fff" stroke-width="0.5" stroke-opacity="0.8"/>
<path d="M157.5 279.5L163.5 279.5L160.5 274.1Z" fill="#4ba39f" stroke="#fff" stroke-width="0.5" stroke-opacity="0.8"/>
<path d="M203.9 38.9L209.9 38.9L206.9 33.5Z" fill="#4ba39f" stroke="#fff" stroke-width="0.5" stroke-opacity="0.8"/>
<path d="M233.5 41.2L239.5 41.2L236.5 35.8Z" fill="#4ba39f" stroke="#fff" stroke-width="0.5" stroke-opacity="0.8"/>
<path d="M81.8 273.6L87.8 273.6L84.8 268.2Z" fill="#e8813c" stroke="#fff" stroke-width="0.5" stroke-opacity="0.8"/>
<path d="M108.7 32.6L114.7 32.6L111.7 27.2Z" fill="#4ba39f" stroke="#fff" stroke-width="0.5" stroke-opacity="0.8"/>
<circle cx="256.9" cy="36.6" r="2.5" fill="#4ba39f" stroke="#fff" stroke-width="0.5" stroke-opacity="0.8"/>
<circle cx="113.7" cy="272.7" r="2.5" fill="#e8813c" stroke="#fff" stroke-width="0.5" stroke-opacity="0.8"/>
<path d="M46.8 272.8L52.8 272.8L49.8 267.4Z" fill="#e8813c" stroke="#fff" stroke-width="0.5" stroke-opacity="0.8"/>
<path d="M107.6 263.1L113.6 263.1L110.6 257.7Z" fill="#4ba39f" stroke="#fff" stroke-width="0.5" stroke-opacity="0.8"/>
<path d="M71.8 33.4L77.8 33.4L74.8 28.0Z" fill="#4ba39f" stroke="#fff" stroke-width="0.5" stroke-opacity="0.8"/>
<path d="M50.8 40.2L56.8 40.2L53.8 34.8Z" fill="#4ba39f" stroke="#fff" stroke-width="0.5" stroke-opacity="0.8"/>
<path d="M122.1 217.2L128.1 217.2L125.1 211.8Z" fill="#4ba39f" stroke="#fff" stroke-width="0.5" stroke-opacity="0.8"/>
<circle cx="188.7" cy="40.4" r="2.5" fill="#4ba39f" stroke="#fff" stroke-width="0.5" stroke-opacity="0.8"/>
<circle cx="100.2" cy="217.2" r="2.5" fill="#e8813c" stroke="#fff" stroke-width="0.5" stroke-opacity="0.8"/>
<path d="M231.0 265.7L237.0 265.7L234.0 260.3Z" fill="#4ba39f" stroke="#fff" stroke-width="0.5" stroke-opacity="0.8"/>
<path d="M258.6 278.9L264.6 278.9L261.6 273.5Z" fill="#4ba39f" stroke="#fff" stroke-width="0.5" stroke-opacity="0.8"/>
<circle cx="136.5" cy="258.7" r="2.5" fill="#e8813c" stroke="#fff" stroke-width="0.5" stroke-opacity="0.8"/>
<path d="M132.5 37.1L138.5 37.1L135.5 31.7Z" fill="#4ba39f" stroke="#fff" stroke-width="0.5" stroke-opacity="0.8"/>
<circle cx="237.1" cy="35.6" r="2.5" fill="#4ba39f" stroke="#fff" stroke-width="0.5" stroke-opacity="0.8"/>
<path d="M156.9 243.0L162.9 243.0L159.9 237.6Z" fill="#4ba39f" stroke="#fff" stroke-width="0.5" stroke-opacity="0.8"/>
<circle cx="113.7" cy="278.3" r="2.5" fill="#4ba39f" stroke="#fff" stroke-width="0.5" stroke-opacity="0.8"/>
<path d="M78.7 280.1L84.7 280.1L81.7 274.7Z" fill="#4ba39f" stroke="#fff" stroke-width="0.5" stroke-opacity="0.8"/>
<circle cx="106.7" cy="263.1" r="2.5" fill="#e8813c" stroke="#fff" stroke-width="0.5" stroke-opacity="0.8"/>
<circle cx="146.1" cy="275.3" r="2.5" fill="#4ba39f" stroke="#fff" stroke-width="0.5" stroke-opacity="0.8"/>
<circle cx="188.7" cy="40.3" r="2.5" fill="#4ba39f" stroke="#fff" stroke-width="0.5" stroke-opacity="0.8"/>
<path d="M160.0 278.8L166.0 278.8L163.0 273.4Z" fill="#4ba39f" stroke="#fff" stroke-width="0.5" stroke-opacity="0.8"/>
<circle cx="174.6" cy="47.5" r="2.5" fill="#4ba39f" stroke="#fff" stroke-width="0.5" stroke-opacity="0.8"/>
<path d="M177.4 253.1L183.4 253.1L180.4 247.7Z" fill="#e8813c" stroke="#fff" stroke-width="0.5" stroke-opacity="0.8"/>
<path d="M201.6 271.9L207.6 271.9L204.6 266.5Z" fill="#4ba39f" stroke="#fff" stroke-width="0.5" stroke-opacity="0.8"/>
<path d="M185.0 278.0L191.0 278.0L188.0 272.6Z" fill="#4ba39f" stroke="#fff" stroke-width="0.5" stroke-opacity="0.8"/>
<circle cx="72.7" cy="32.9" r="2.5" fill="#4ba39f" stroke="#fff" stroke-width="0.5" stroke-opacity="0.8"/>
<path d="M91.4 33.1L97.4 33.1L94.4 27.7Z" fill="#4ba39f" stroke="#fff" stroke-width="0.5" stroke-opacity="0.8"/>
<circle cx="188.8" cy="210.5" r="2.5" fill="#e8813c" stroke="#fff" stroke-width="0.5" stroke-opacity="0.8"/>
<path d="M110.8 278.8L116.8 278.8L113.8 273.4Z" fill="#4ba39f" stroke="#fff" stroke-width="0.5" stroke-opacity="0.8"/>
<circle cx="191.0" cy="44.4" r="2.5" fill="#4ba39f" stroke="#fff" stroke-width="0.5" stroke-opacity="0.8"/>
<path d="M185.6 41.4L191.6 41.4L188.6 36.0Z" fill="#4ba39f" stroke="#fff" stroke-width="0.5" stroke-opacity="0.8"/>
<path d="M253.8 39.7L259.8 39.7L256.8 34.3Z" fill="#4ba39f" stroke="#fff" stroke-width="0.5" stroke-opacity="0.8"/>
<path d="M170.0 278.9L176.0 278.9L173.0 273.5Z" fill="#4ba39f" stroke="#fff" stroke-width="0.5" stroke-opacity="0.8"/>
<path d="M73.0 280.1L79.0 280.1L76.0 274.7Z" fill="#4ba39f" stroke="#fff" stroke-width="0.5" stroke-opacity="0.8"/>
<circle cx="249.6" cy="39.8" r="2.5" fill="#4ba39f" stroke="#fff" stroke-width="0.5" stroke-opacity="0.8"/>
<path d="M102.8 278.9L108.8 278.9L105.8 273.5Z" fill="#4ba39f" stroke="#fff" stroke-width="0.5" stroke-opacity="0.8"/>
<path d="M254.0 36.7L260.0 36.7L257.0 31.3Z" fill="#4ba39f" stroke="#fff" stroke-width="0.5" stroke-opacity="0.8"/>
<path d="M62.6 39.3L68.6 39.3L65.6 33.9Z" fill="#4ba39f" stroke="#fff" stroke-width="0.5" stroke-opacity="0.8"/>
<path d="M124.0 214.0L130.0 214.0L127.0 208.6Z" fill="#e8813c" stroke="#fff" stroke-width="0.5" stroke-opacity="0.8"/>
<path d="M161.6 52.5L167.6 52.5L164.6 47.1Z" fill="#4ba39f" stroke="#fff" stroke-width="0.5" stroke-opacity="0.8"/>
<circle cx="214.0" cy="35.4" r="2.5" fill="#4ba39f" stroke="#fff" stroke-width="0.5" stroke-opacity="0.8"/>
<path d="M157.0 276.8L163.0 276.8L160.0 271.4Z" fill="#4ba39f" stroke="#fff" stroke-width="0.5" stroke-opacity="0.8"/>
<path d="M216.4 278.9L222.4 278.9L219.4 273.5Z" fill="#4ba39f" stroke="#fff" stroke-width="0.5" stroke-opacity="0.8"/>
<path d="M124.4 36.1L130.4 36.1L127.4 30.7Z" fill="#4ba39f" stroke="#fff" stroke-width="0.5" stroke-opacity="0.8"/>
<path d="M244.5 273.6L250.5 273.6L247.5 268.2Z" fill="#4ba39f" stroke="#fff" stroke-width="0.5" stroke-opacity="0.8"/>
<path d="M132.3 242.4L138.3 242.4L135.3 237.0Z" fill="#e8813c" stroke="#fff" stroke-width="0.5" stroke-opacity="0.8"/>
<circle cx="85.1" cy="33.9" r="2.5" fill="#4ba39f" stroke="#fff" stroke-width="0.5" stroke-opacity="0.8"/>
<circle cx="98.9" cy="274.9" r="2.5" fill="#4ba39f" stroke="#fff" stroke-width="0.5" stroke-opacity="0.8"/>
<path d="M236.6 231.9L242.6 231.9L239.6 226.5Z" fill="#4ba39f" stroke="#fff" stroke-width="0.5" stroke-opacity="0.8"/>
<circle cx="146.7" cy="35.1" r="2.5" fill="#4ba39f" stroke="#fff" stroke-width="0.5" stroke-opacity="0.8"/>
<path d="M138.3 37.1L144.3 37.1L141.3 31.7Z" fill="#4ba39f" stroke="#fff" stroke-width="0.5" stroke-opacity="0.8"/>
<path d="M146.3 279.0L152.3 279.0L149.3 273.6Z" fill="#4ba39f" stroke="#fff" stroke-width="0.5" stroke-opacity="0.8"/>
<path d="M105.5 268.4L111.5 268.4L108.5 263.0Z" fill="#4ba39f" stroke="#fff" stroke-width="0.5" stroke-opacity="0.8"/>
<path d="M45.4 253.8L51.4 253.8L48.4 248.4Z" fill="#4ba39f" stroke="#fff" stroke-width="0.5" stroke-opacity="0.8"/>
<path d="M239.8 39.9L245.8 39.9L242.8 34.5Z" fill="#4ba39f" stroke="#fff" stroke-width="0.5" stroke-opacity="0.8"/>
<path d="M257.0 40.6L263.0 40.6L260.0 35.2Z" fill="#4ba39f" stroke="#fff" stroke-width="0.5" stroke-opacity="0.8"/>
<circle cx="69.0" cy="234.2" r="2.5" fill="#e8813c" stroke="#fff" stroke-width="0.5" stroke-opacity="0.8"/>
<path d="M112.4 38.9L118.4 38.9L115.4 33.5Z" fill="#4ba39f" stroke="#fff" stroke-width="0.5" stroke-opacity="0.8"/>
<circle cx="248.8" cy="36.9" r="2.5" fill="#4ba39f" stroke="#fff" stroke-width="0.5" stroke-opacity="0.8"/>
<path d="M57.3 278.5L63.3 278.5L60.3 273.1Z" fill="#4ba39f" stroke="#fff" stroke-width="0.5" stroke-opacity="0.8"/>
<circle cx="234.0" cy="37.0" r="2.5" fill="#4ba39f" stroke="#fff" stroke-width="0.5" stroke-opacity="0.8"/>
<path d="M241.0 262.2L247.0 262.2L244.0 256.8Z" fill="#4ba39f" stroke="#fff" stroke-width="0.5" stroke-opacity="0.8"/>
<path d="M119.3 37.1L125.3 37.1L122.3 31.7Z" fill="#4ba39f" stroke="#fff" stroke-width="0.5" stroke-opacity="0.8"/>
<path d="M111.5 279.2L117.5 279.2L114.5 273.8Z" fill="#4ba39f" stroke="#fff" stroke-width="0.5" stroke-opacity="0.8"/>
<path d="M66.4 39.7L72.4 39.7L69.4 34.3Z" fill="#4ba39f" stroke="#fff" stroke-width="0.5" stroke-opacity="0.8"/>
<circle cx="247.5" cy="274.5" r="2.5" fill="#e8813c" stroke="#fff" stroke-width="0.5" stroke-opacity="0.8"/>
<circle cx="54.1" cy="231.2" r="2.5" fill="#4ba39f" stroke="#fff" stroke-width="0.5" stroke-opacity="0.8"/>
<path d="M71.6 279.0L77.6 279.0L74.6 273.6Z" fill="#e8813c" stroke="#fff" stroke-width="0.5" stroke-opacity="0.8"/>
<path d="M165.6 278.0L171.6 278.0L168.6 272.6Z" fill="#4ba39f" stroke="#fff" stroke-width="0.5" stroke-opacity="0.8"/>
<path d="M219.8 39.5L225.8 39.5L222.8 34.1Z" fill="#4ba39f" stroke="#fff" stroke-width="0.5" stroke-opacity="0.8"/>
<path d="M132.2 278.3L138.2 278.3L135.2 272.9Z" fill="#e8813c" stroke="#fff" stroke-width="0.5" stroke-opacity="0.8"/>
<circle cx="55.8" cy="37.5" r="2.5" fill="#4ba39f" stroke="#fff" stroke-width="0.5" stroke-opacity="0.8"/>
<path d="M200.4 38.4L206.4 38.4L203.4 33.0Z" fill="#4ba39f" stroke="#fff" stroke-width="0.5" stroke-opacity="0.8"/>
<circle cx="172.8" cy="46.9" r="2.5" fill="#4ba39f" stroke="#fff" stroke-width="0.5" stroke-opacity="0.8"/>
<circle cx="97.2" cy="34.5" r="2.5" fill="#4ba39f" stroke="#fff" stroke-width="0.5" stroke-opacity="0.8"/>
<circle cx="82.7" cy="218.0" r="2.5" fill="#4ba39f" stroke="#fff" stroke-width="0.5" stroke-opacity="0.8"/>
<path d="M209.3 39.5L215.3 39.5L212.3 34.1Z" fill="#4ba39f" stroke="#fff" stroke-width="0.5" stroke-opacity="0.8"/>
<circle cx="157.6" cy="276.2" r="2.5" fill="#4ba39f" stroke="#fff" stroke-width="0.5" stroke-opacity="0.8"/>
<circle cx="105.0" cy="259.6" r="2.5" fill="#4ba39f" stroke="#fff" stroke-width="0.5" stroke-opacity="0.8"/>
<circle cx="111.1" cy="274.5" r="2.5" fill="#e8813c" stroke="#fff" stroke-width="0.5" stroke-opacity="0.8"/>
<path d="M53.1 42.8L59.1 42.8L56.1 37.4Z" fill="#4ba39f" stroke="#fff" stroke-width="0.5" stroke-opacity="0.8"/>
<circle cx="237.0" cy="275.7" r="2.5" fill="#e8813c" stroke="#fff" stroke-width="0.5" stroke-opacity="0.8"/>
<path d="M240.1 277.6L246.1 277.6L243.1 272.2Z" fill="#4ba39f" stroke="#fff" stroke-width="0.5" stroke-opacity="0.8"/>
<circle cx="97.3" cy="150.0" r="2.5" fill="#4ba39f" stroke="#fff" stroke-width="0.5" stroke-opacity="0.8"/>
<circle cx="127.4" cy="38.1" r="2.5" fill="#4ba39f" stroke="#fff" stroke-width="0.5" stroke-opacity="0.8"/>
<path d="M75.3 265.2L81.3 265.2L78.3 259.8Z" fill="#4ba39f" stroke="#fff" stroke-width="0.5" stroke-opacity="0.8"/>
<path d="M132.1 37.7L138.1 37.7L135.1 32.3Z" fill="#4ba39f" stroke="#fff" stroke-width="0.5" stroke-opacity="0.8"/>
<path d="M83.8 43.5L89.8 43.5L86.8 38.1Z" fill="#4ba39f" stroke="#fff" stroke-width="0.5" stroke-opacity="0.8"/>
<circle cx="236.1" cy="277.1" r="2.5" fill="#4ba39f" stroke="#fff" stroke-width="0.5" stroke-opacity="0.8"/>
<circle cx="111.1" cy="266.6" r="2.5" fill="#e8813c" stroke="#fff" stroke-width="0.5" stroke-opacity="0.8"/>
<circle cx="172.6" cy="48.0" r="2.5" fill="#4ba39f" stroke="#fff" stroke-width="0.5" stroke-opacity="0.8"/>
<path d="M59.0 158.0L65.0 158.0L62.0 152.6Z" fill="#4ba39f" stroke="#fff" stroke-width="0.5" stroke-opacity="0.8"/>
<path d="M220.3 40.1L226.3 40.1L223.3 34.7Z" fill="#4ba39f" stroke="#fff" stroke-width="0.5" stroke-opacity="0.8"/>
<path d="M192.8 271.9L198.8 271.9L195.8 266.5Z" fill="#4ba39f" stroke="#fff" stroke-width="0.5" stroke-opacity="0.8"/>
<path d="M213.1 37.6L219.1 37.6L216.1 32.2Z" fill="#4ba39f" stroke="#fff" stroke-width="0.5" stroke-opacity="0.8"/>
<path d="M158.3 58.8L164.3 58.8L161.3 53.4Z" fill="#4ba39f" stroke="#fff" stroke-width="0.5" stroke-opacity="0.8"/>
<path d="M62.0 158.0L68.0 158.0L65.0 152.6Z" fill="#4ba39f" stroke="#fff" stroke-width="0.5" stroke-opacity="0.8"/>
<path d="M167.0 52.3L173.0 52.3L170.0 46.9Z" fill="#4ba39f" stroke="#fff" stroke-width="0.5" stroke-opacity="0.8"/>
<circle cx="79.9" cy="35.0" r="2.5" fill="#4ba39f" stroke="#fff" stroke-width="0.5" stroke-opacity="0.8"/>
<path d="M79.2 230.7L85.2 230.7L82.2 225.3Z" fill="#e8813c" stroke="#fff" stroke-width="0.5" stroke-opacity="0.8"/>
<path d="M85.0 278.9L91.0 278.9L88.0 273.5Z" fill="#e8813c" stroke="#fff" stroke-width="0.5" stroke-opacity="0.8"/>
<circle cx="79.9" cy="29.6" r="2.5" fill="#4ba39f" stroke="#fff" stroke-width="0.5" stroke-opacity="0.8"/>
<path d="M103.9 34.2L109.9 34.2L106.9 28.8Z" fill="#4ba39f" stroke="#fff" stroke-width="0.5" stroke-opacity="0.8"/>
<path d="M67.4 269.2L73.4 269.2L70.4 263.8Z" fill="#4ba39f" stroke="#fff" stroke-width="0.5" stroke-opacity="0.8"/>
<path d="M201.6 38.8L207.6 38.8L204.6 33.4Z" fill="#4ba39f" stroke="#fff" stroke-width="0.5" stroke-opacity="0.8"/>
<circle cx="201.0" cy="39.6" r="2.5" fill="#4ba39f" stroke="#fff" stroke-width="0.5" stroke-opacity="0.8"/>
<path d="M59.4 252.6L65.4 252.6L62.4 247.2Z" fill="#4ba39f" stroke="#fff" stroke-width="0.5" stroke-opacity="0.8"/>
<path d="M247.1 278.0L253.1 278.0L250.1 272.6Z" fill="#4ba39f" stroke="#fff" stroke-width="0.5" stroke-opacity="0.8"/>
<path d="M132.6 268.0L138.6 268.0L135.6 262.6Z" fill="#e8813c" stroke="#fff" stroke-width="0.5" stroke-opacity="0.8"/>
<circle cx="244.3" cy="38.7" r="2.5" fill="#4ba39f" stroke="#fff" stroke-width="0.5" stroke-opacity="0.8"/>
<circle cx="202.3" cy="57.0" r="2.5" fill="#4ba39f" stroke="#fff" stroke-width="0.5" stroke-opacity="0.8"/>
<path d="M42.9 37.2L48.9 37.2L45.9 31.8Z" fill="#4ba39f" stroke="#fff" stroke-width="0.5" stroke-opacity="0.8"/>
<circle cx="247.8" cy="210.9" r="2.5" fill="#e8813c" stroke="#fff" stroke-width="0.5" stroke-opacity="0.8"/>
<path d="M173.2 45.0L179.2 45.0L176.2 39.6Z" fill="#4ba39f" stroke="#fff" stroke-width="0.5" stroke-opacity="0.8"/>
<circle cx="133.2" cy="36.1" r="2.5" fill="#4ba39f" stroke="#fff" stroke-width="0.5" stroke-opacity="0.8"/>
<path d="M77.1 34.2L83.1 34.2L80.1 28.8Z" fill="#4ba39f" stroke="#fff" stroke-width="0.5" stroke-opacity="0.8"/>
<circle cx="226.6" cy="36.2" r="2.5" fill="#4ba39f" stroke="#fff" stroke-width="0.5" stroke-opacity="0.8"/>
<circle cx="89.6" cy="32.2" r="2.5" fill="#4ba39f" stroke="#fff" stroke-width="0.5" stroke-opacity="0.8"/>
<path d="M192.7 276.8L198.7 276.8L195.7 271.4Z" fill="#4ba39f" stroke="#fff" stroke-width="0.5" stroke-opacity="0.8"/>
<path d="M56.2 38.7L62.2 38.7L59.2 33.3Z" fill="#4ba39f" stroke="#fff" stroke-width="0.5" stroke-opacity="0.8"/>
<path d="M49.1 39.7L55.1 39.7L52.1 34.3Z" fill="#4ba39f" stroke="#fff" stroke-width="0.5" stroke-opacity="0.8"/>
<path d="M189.0 278.5L195.0 278.5L192.0 273.1Z" fill="#e8813c" stroke="#fff" stroke-width="0.5" stroke-opacity="0.8"/>
<circle cx="230.8" cy="240.3" r="2.5" fill="#e8813c" stroke="#fff" stroke-width="0.5" stroke-opacity="0.8"/>
<path d="M46.2 39.8L52.2 39.8L49.2 34.4Z" fill="#4ba39f" stroke="#fff" stroke-width="0.5" stroke-opacity="0.8"/>
<path d="M137.2 37.4L143.2 37.4L140.2 32.0Z" fill="#4ba39f" stroke="#fff" stroke-width="0.5" stroke-opacity="0.8"/>
<path d="M76.1 32.7L82.1 32.7L79.1 27.3Z" fill="#4ba39f" stroke="#fff" stroke-width="0.5" stroke-opacity="0.8"/>
<path d="M220.0 225.5L226.0 225.5L223.0 220.1Z" fill="#4ba39f" stroke="#fff" stroke-width="0.5" stroke-opacity="0.8"/>
<path d="M117.1 280.0L123.1 280.0L120.1 274.6Z" fill="#4ba39f" stroke="#fff" stroke-width="0.5" stroke-opacity="0.8"/>
<path d="M221.0 49.3L227.0 49.3L224.0 43.9Z" fill="#4ba39f" stroke="#fff" stroke-width="0.5" stroke-opacity="0.8"/>
<path d="M90.1 278.3L96.1 278.3L93.1 272.9Z" fill="#4ba39f" stroke="#fff" stroke-width="0.5" stroke-opacity="0.8"/>
<path d="M245.2 51.4L251.2 51.4L248.2 46.0Z" fill="#4ba39f" stroke="#fff" stroke-width="0.5" stroke-opacity="0.8"/>
<path d="M87.0 34.7L93.0 34.7L90.0 29.3Z" fill="#4ba39f" stroke="#fff" stroke-width="0.5" stroke-opacity="0.8"/>
<path d="M196.3 274.5L202.3 274.5L199.3 269.1Z" fill="#4ba39f" stroke="#fff" stroke-width="0.5" stroke-opacity="0.8"/>
<circle cx="259.4" cy="38.4" r="2.5" fill="#4ba39f" stroke="#fff" stroke-width="0.5" stroke-opacity="0.8"/>
<circle cx="225.8" cy="278.1" r="2.5" fill="#4ba39f" stroke="#fff" stroke-width="0.5" stroke-opacity="0.8"/>
<path d="M66.0 229.8L72.0 229.8L69.0 224.4Z" fill="#4ba39f" stroke="#fff" stroke-width="0.5" stroke-opacity="0.8"/>
<path d="M193.0 48.2L199.0 48.2L196.0 42.8Z" fill="#4ba39f" stroke="#fff" stroke-width="0.5" stroke-opacity="0.8"/>
<path d="M200.2 243.3L206.2 243.3L203.2 237.9Z" fill="#4ba39f" stroke="#fff" stroke-width="0.5" stroke-opacity="0.8"/>
<circle cx="89.2" cy="272.7" r="2.5" fill="#4ba39f" stroke="#fff" stroke-width="0.5" stroke-opacity="0.8"/>
<circle cx="49.2" cy="38.3" r="2.5" fill="#4ba39f" stroke="#fff" stroke-width="0.5" stroke-opacity="0.8"/>
<path d="M157.5 51.1L163.5 51.1L160.5 45.7Z" fill="#4ba39f" stroke="#fff" stroke-width="0.5" stroke-opacity="0.8"/>
<path d="M131.6 37.4L137.6 37.4L134.6 32.0Z" fill="#4ba39f" stroke="#fff" stroke-width="0.5" stroke-opacity="0.8"/>
<path d="M173.9 44.4L179.9 44.4L176.9 39.0Z" fill="#4ba39f" stroke="#fff" stroke-width="0.5" stroke-opacity="0.8"/>
<circle cx="48.4" cy="39.9" r="2.5" fill="#4ba39f" stroke="#fff" stroke-width="0.5" stroke-opacity="0.8"/>
<circle cx="131.5" cy="36.1" r="2.5" fill="#4ba39f" stroke="#fff" stroke-width="0.5" stroke-opacity="0.8"/>
<path d="M143.9 39.4L149.9 39.4L146.9 34.0Z" fill="#4ba39f" stroke="#fff" stroke-width="0.5" stroke-opacity="0.8"/>
<path d="M135.2 36.8L141.2 36.8L138.2 31.4Z" fill="#4ba39f" stroke="#fff" stroke-width="0.5" stroke-opacity="0.8"/>
<circle cx="108.0" cy="31.5" r="2.5" fill="#4ba39f" stroke="#fff" stroke-width="0.5" stroke-opacity="0.8"/>
<circle cx="145.4" cy="35.6" r="2.5" fill="#4ba39f" stroke="#fff" stroke-width="0.5" stroke-opacity="0.8"/>
<circle cx="249.2" cy="263.1" r="2.5" fill="#e8813c" stroke="#fff" stroke-width="0.5" stroke-opacity="0.8"/>
<circle cx="64.5" cy="236.0" r="2.5" fill="#e8813c" stroke="#fff" stroke-width="0.5" stroke-opacity="0.8"/>
<circle cx="231.7" cy="267.4" r="2.5" fill="#e8813c" stroke="#fff" stroke-width="0.5" stroke-opacity="0.8"/>
<circle cx="137.6" cy="36.4" r="2.5" fill="#4ba39f" stroke="#fff" stroke-width="0.5" stroke-opacity="0.8"/>
<path d="M147.4 278.9L153.4 278.9L150.4 273.5Z" fill="#4ba39f" stroke="#fff" stroke-width="0.5" stroke-opacity="0.8"/>
<path d="M43.4 40.4L49.4 40.4L46.4 35.0Z" fill="#4ba39f" stroke="#fff" stroke-width="0.5" stroke-opacity="0.8"/>
<path d="M178.7 44.9L184.7 44.9L181.7 39.5Z" fill="#4ba39f" stroke="#fff" stroke-width="0.5" stroke-opacity="0.8"/>
<path d="M57.3 279.3L63.3 279.3L60.3 273.9Z" fill="#e8813c" stroke="#fff" stroke-width="0.5" stroke-opacity="0.8"/>
<circle cx="56.8" cy="273.6" r="2.5" fill="#e8813c" stroke="#fff" stroke-width="0.5" stroke-opacity="0.8"/>
<circle cx="100.3" cy="33.7" r="2.5" fill="#4ba39f" stroke="#fff" stroke-width="0.5" stroke-opacity="0.8"/>
<path d="M168.4 53.1L174.4 53.1L171.4 47.7Z" fill="#4ba39f" stroke="#fff" stroke-width="0.5" stroke-opacity="0.8"/>
<path d="M147.7 38.6L153.7 38.6L150.7 33.2Z" fill="#4ba39f" stroke="#fff" stroke-width="0.5" stroke-opacity="0.8"/>
<path d="M79.0 277.0L85.0 277.0L82.0 271.6Z" fill="#4ba39f" stroke="#fff" stroke-width="0.5" stroke-opacity="0.8"/>
<circle cx="82.3" cy="32.8" r="2.5" fill="#4ba39f" stroke="#fff" stroke-width="0.5" stroke-opacity="0.8"/>
<path d="M204.7 261.4L210.7 261.4L207.7 256.0Z" fill="#4ba39f" stroke="#fff" stroke-width="0.5" stroke-opacity="0.8"/>
<circle cx="169.4" cy="50.8" r="2.5" fill="#4ba39f" stroke="#fff" stroke-width="0.5" stroke-opacity="0.8"/>
<path d="M221.0 46.5L227.0 46.5L224.0 41.1Z" fill="#4ba39f" stroke="#fff" stroke-width="0.5" stroke-opacity="0.8"/>
<path d="M63.4 279.8L69.4 279.8L66.4 274.4Z" fill="#4ba39f" stroke="#fff" stroke-width="0.5" stroke-opacity="0.8"/>
<circle cx="61.2" cy="235.0" r="2.5" fill="#e8813c" stroke="#fff" stroke-width="0.5" stroke-opacity="0.8"/>
<path d="M55.5 229.8L61.5 229.8L58.5 224.4Z" fill="#e8813c" stroke="#fff" stroke-width="0.5" stroke-opacity="0.8"/>
<path d="M64.8 276.9L70.8 276.9L67.8 271.5Z" fill="#4ba39f" stroke="#fff" stroke-width="0.5" stroke-opacity="0.8"/>
<path d="M147.9 36.8L153.9 36.8L150.9 31.4Z" fill="#4ba39f" stroke="#fff" stroke-width="0.5" stroke-opacity="0.8"/>
<circle cx="167.2" cy="49.6" r="2.5" fill="#4ba39f" stroke="#fff" stroke-width="0.5" stroke-opacity="0.8"/>
<path d="M137.6 36.7L143.6 36.7L140.6 31.3Z" fill="#4ba39f" stroke="#fff" stroke-width="0.5" stroke-opacity="0.8"/>
<circle cx="138.7" cy="35.2" r="2.5" fill="#4ba39f" stroke="#fff" stroke-width="0.5" stroke-opacity="0.8"/>
<path d="M120.0 38.2L126.0 38.2L123.0 32.8Z" fill="#4ba39f" stroke="#fff" stroke-width="0.5" stroke-opacity="0.8"/>
<circle cx="94.4" cy="266.6" r="2.5" fill="#4ba39f" stroke="#fff" stroke-width="0.5" stroke-opacity="0.8"/>
<path d="M66.1 278.5L72.1 278.5L69.1 273.1Z" fill="#e8813c" stroke="#fff" stroke-width="0.5" stroke-opacity="0.8"/>
<path d="M199.8 258.7L205.8 258.7L202.8 253.3Z" fill="#e8813c" stroke="#fff" stroke-width="0.5" stroke-opacity="0.8"/>
<path d="M147.2 37.7L153.2 37.7L150.2 32.3Z" fill="#4ba39f" stroke="#fff" stroke-width="0.5" stroke-opacity="0.8"/>
<circle cx="48.0" cy="273.6" r="2.5" fill="#4ba39f" stroke="#fff" stroke-width="0.5" stroke-opacity="0.8"/>
<path d="M235.7 242.1L241.7 242.1L238.7 236.7Z" fill="#4ba39f" stroke="#fff" stroke-width="0.5" stroke-opacity="0.8"/>
<circle cx="168.6" cy="47.8" r="2.5" fill="#4ba39f" stroke="#fff" stroke-width="0.5" stroke-opacity="0.8"/>
<path d="M222.3 279.8L228.3 279.8L225.3 274.4Z" fill="#4ba39f" stroke="#fff" stroke-width="0.5" stroke-opacity="0.8"/>
<path d="M245.3 279.6L251.3 279.6L248.3 274.2Z" fill="#e8813c" stroke="#fff" stroke-width="0.5" stroke-opacity="0.8"/>
<circle cx="260.1" cy="38.7" r="2.5" fill="#4ba39f" stroke="#fff" stroke-width="0.5" stroke-opacity="0.8"/>
<circle cx="159.1" cy="46.5" r="2.5" fill="#4ba39f" stroke="#fff" stroke-width="0.5" stroke-opacity="0.8"/>
<circle cx="166.0" cy="229.3" r="2.5" fill="#e8813c" stroke="#fff" stroke-width="0.5" stroke-opacity="0.8"/>
<circle cx="48.5" cy="37.9" r="2.5" fill="#4ba39f" stroke="#fff" stroke-width="0.5" stroke-opacity="0.8"/>
<circle cx="103.2" cy="273.6" r="2.5" fill="#e8813c" stroke="#fff" stroke-width="0.5" stroke-opacity="0.8"/>
<circle cx="94.1" cy="236.8" r="2.5" fill="#e8813c" stroke="#fff" stroke-width="0.5" stroke-opacity="0.8"/>
<circle cx="135.6" cy="278.0" r="2.5" fill="#e8813c" stroke="#fff" stroke-width="0.5" stroke-opacity="0.8"/>
<path d="M171.3 48.2L177.3 48.2L174.3 42.8Z" fill="#4ba39f" stroke="#fff" stroke-width="0.5" stroke-opacity="0.8"/>
<circle cx="220.4" cy="39.8" r="2.5" fill="#4ba39f" stroke="#fff" stroke-width="0.5" stroke-opacity="0.8"/>
<path d="M189.3 43.1L195.3 43.1L192.3 37.7Z" fill="#4ba39f" stroke="#fff" stroke-width="0.5" stroke-opacity="0.8"/>
<circle cx="252.7" cy="235.9" r="2.5" fill="#4ba39f" stroke="#fff" stroke-width="0.5" stroke-opacity="0.8"/>
<circle cx="145.0" cy="210.9" r="2.5" fill="#e8813c" stroke="#fff" stroke-width="0.5" stroke-opacity="0.8"/>
<circle cx="212.4" cy="275.0" r="2.5" fill="#4ba39f" stroke="#fff" stroke-width="0.5" stroke-opacity="0.8"/>
<path d="M87.2 31.6L93.2 31.6L90.2 26.2Z" fill="#4ba39f" stroke="#fff" stroke-width="0.5" stroke-opacity="0.8"/>
<circle cx="180.9" cy="239.9" r="2.5" fill="#4ba39f" stroke="#fff" stroke-width="0.5" stroke-opacity="0.8"/>
<path d="M189.2 43.9L195.2 43.9L192.2 38.5Z" fill="#4ba39f" stroke="#fff" stroke-width="0.5" stroke-opacity="0.8"/>
<circle cx="133.0" cy="210.5" r="2.5" fill="#e8813c" stroke="#fff" stroke-width="0.5" stroke-opacity="0.8"/>
<circle cx="176.5" cy="277.1" r="2.5" fill="#4ba39f" stroke="#fff" stroke-width="0.5" stroke-opacity="0.8"/>
<circle cx="99.0" cy="213.4" r="2.5" fill="#e8813c" stroke="#fff" stroke-width="0.5" stroke-opacity="0.8"/>
<path d="M81.8 33.7L87.8 33.7L84.8 28.3Z" fill="#4ba39f" stroke="#fff" stroke-width="0.5" stroke-opacity="0.8"/>
<circle cx="45.5" cy="39.8" r="2.5" fill="#4ba39f" stroke="#fff" stroke-width="0.5" stroke-opacity="0.8"/>
<path d="M101.6 230.7L107.6 230.7L104.6 225.3Z" fill="#e8813c" stroke="#fff" stroke-width="0.5" stroke-opacity="0.8"/>
<circle cx="221.2" cy="265.7" r="2.5" fill="#e8813c" stroke="#fff" stroke-width="0.5" stroke-opacity="0.8"/>
<circle cx="138.3" cy="33.9" r="2.5" fill="#4ba39f" stroke="#fff" stroke-width="0.5" stroke-opacity="0.8"/>
<circle cx="169.5" cy="271.8" r="2.5" fill="#4ba39f" stroke="#fff" stroke-width="0.5" stroke-opacity="0.8"/>
<path d="M227.0 271.0L233.0 271.0L230.0 265.6Z" fill="#4ba39f" stroke="#fff" stroke-width="0.5" stroke-opacity="0.8"/>
<circle cx="151.0" cy="247.0" r="2.5" fill="#e8813c" stroke="#fff" stroke-width="0.5" stroke-opacity="0.8"/>
<path d="M225.8 38.3L231.8 38.3L228.8 32.9Z" fill="#4ba39f" stroke="#fff" stroke-width="0.5" stroke-opacity="0.8"/>
<path d="M166.0 49.2L172.0 49.2L169.0 43.8Z" fill="#4ba39f" stroke="#fff" stroke-width="0.5" stroke-opacity="0.8"/>
<path d="M156.1 49.7L162.1 49.7L159.1 44.3Z" fill="#4ba39f" stroke="#fff" stroke-width="0.5" stroke-opacity="0.8"/>
<circle cx="180.1" cy="278.0" r="2.5" fill="#4ba39f" stroke="#fff" stroke-width="0.5" stroke-opacity="0.8"/>
<circle cx="121.6" cy="262.2" r="2.5" fill="#e8813c" stroke="#fff" stroke-width="0.5" stroke-opacity="0.8"/>
<path d="M97.4 33.2L103.4 33.2L100.4 27.8Z" fill="#4ba39f" stroke="#fff" stroke-width="0.5" stroke-opacity="0.8"/>
<circle cx="132.5" cy="210.3" r="2.5" fill="#e8813c" stroke="#fff" stroke-width="0.5" stroke-opacity="0.8"/>
<circle cx="49.1" cy="40.2" r="2.5" fill="#4ba39f" stroke="#fff" stroke-width="0.5" stroke-opacity="0.8"/>
<circle cx="234.6" cy="37.3" r="2.5" fill="#4ba39f" stroke="#fff" stroke-width="0.5" stroke-opacity="0.8"/>
<circle cx="124.3" cy="278.0" r="2.5" fill="#e8813c" stroke="#fff" stroke-width="0.5" stroke-opacity="0.8"/>
<circle cx="248.5" cy="210.9" r="2.5" fill="#e8813c" stroke="#fff" stroke-width="0.5" stroke-opacity="0.8"/>
<path d="M108.3 34.9L114.3 34.9L111.3 29.5Z" fill="#4ba39f" stroke="#fff" stroke-width="0.5" stroke-opacity="0.8"/>
<path d="M187.7 41.5L193.7 41.5L190.7 36.1Z" fill="#4ba39f" stroke="#fff" stroke-width="0.5" stroke-opacity="0.8"/>
<path d="M54.5 264.8L60.5 264.8L57.5 259.4Z" fill="#4ba39f" stroke="#fff" stroke-width="0.5" stroke-opacity="0.8"/>
<path d="M77.6 36.1L83.6 36.1L80.6 30.7Z" fill="#4ba39f" stroke="#fff" stroke-width="0.5" stroke-opacity="0.8"/>
<path d="M114.7 217.2L120.7 217.2L117.7 211.8Z" fill="#4ba39f" stroke="#fff" stroke-width="0.5" stroke-opacity="0.8"/>
<circle cx="71.5" cy="40.0" r="2.5" fill="#4ba39f" stroke="#fff" stroke-width="0.5" stroke-opacity="0.8"/>
<path d="M250.6 166.7L256.6 166.7L253.6 161.3Z" fill="#4ba39f" stroke="#fff" stroke-width="0.5" stroke-opacity="0.8"/>
<path d="M94.0 238.6L100.0 238.6L97.0 233.2Z" fill="#e8813c" stroke="#fff" stroke-width="0.5" stroke-opacity="0.8"/>
<path d="M220.8 40.1L226.8 40.1L223.8 34.7Z" fill="#4ba39f" stroke="#fff" stroke-width="0.5" stroke-opacity="0.8"/>
<path d="M96.4 33.8L102.4 33.8L99.4 28.4Z" fill="#4ba39f" stroke="#fff" stroke-width="0.5" stroke-opacity="0.8"/>
<path d="M91.4 278.9L97.4 278.9L94.4 273.5Z" fill="#4ba39f" stroke="#fff" stroke-width="0.5" stroke-opacity="0.8"/>
<path d="M74.8 261.4L80.8 261.4L77.8 256.0Z" fill="#4ba39f" stroke="#fff" stroke-width="0.5" stroke-opacity="0.8"/>
<circle cx="83.4" cy="274.7" r="2.5" fill="#4ba39f" stroke="#fff" stroke-width="0.5" stroke-opacity="0.8"/>
<circle cx="52.4" cy="271.0" r="2.5" fill="#4ba39f" stroke="#fff" stroke-width="0.5" stroke-opacity="0.8"/>
<circle cx="108.2" cy="33.4" r="2.5" fill="#4ba39f" stroke="#fff" stroke-width="0.5" stroke-opacity="0.8"/>
<circle cx="234.4" cy="39.3" r="2.5" fill="#4ba39f" stroke="#fff" stroke-width="0.5" stroke-opacity="0.8"/>
<path d="M243.6 243.0L249.6 243.0L246.6 237.6Z" fill="#4ba39f" stroke="#fff" stroke-width="0.5" stroke-opacity="0.8"/>
<circle cx="152.6" cy="242.0" r="2.5" fill="#4ba39f" stroke="#fff" stroke-width="0.5" stroke-opacity="0.8"/>
<circle cx="211.8" cy="38.1" r="2.5" fill="#4ba39f" stroke="#fff" stroke-width="0.5" stroke-opacity="0.8"/>
<circle cx="205.4" cy="277.1" r="2.5" fill="#4ba39f" stroke="#fff" stroke-width="0.5" stroke-opacity="0.8"/>
<circle cx="51.8" cy="33.9" r="2.5" fill="#4ba39f" stroke="#fff" stroke-width="0.5" stroke-opacity="0.8"/>
<circle cx="197.9" cy="262.2" r="2.5" fill="#e8813c" stroke="#fff" stroke-width="0.5" stroke-opacity="0.8"/>
<path d="M222.3 278.9L228.3 278.9L225.3 273.5Z" fill="#e8813c" stroke="#fff" stroke-width="0.5" stroke-opacity="0.8"/>
<path d="M141.0 36.7L147.0 36.7L144.0 31.3Z" fill="#4ba39f" stroke="#fff" stroke-width="0.5" stroke-opacity="0.8"/>
<path d="M152.5 275.4L158.5 275.4L155.5 270.0Z" fill="#4ba39f" stroke="#fff" stroke-width="0.5" stroke-opacity="0.8"/>
<path d="M187.9 40.0L193.9 40.0L190.9 34.6Z" fill="#4ba39f" stroke="#fff" stroke-width="0.5" stroke-opacity="0.8"/>
<circle cx="154.8" cy="47.0" r="2.5" fill="#4ba39f" stroke="#fff" stroke-width="0.5" stroke-opacity="0.8"/>
<circle cx="154.1" cy="230.7" r="2.5" fill="#e8813c" stroke="#fff" stroke-width="0.5" stroke-opacity="0.8"/>
<path d="M48.4 46.5L54.4 46.5L51.4 41.1Z" fill="#4ba39f" stroke="#fff" stroke-width="0.5" stroke-opacity="0.8"/>
<path d="M83.4 24.1L89.4 24.1L86.4 18.7Z" fill="#4ba39f" stroke="#fff" stroke-width="0.5" stroke-opacity="0.8"/>
<circle cx="223.5" cy="265.7" r="2.5" fill="#4ba39f" stroke="#fff" stroke-width="0.5" stroke-opacity="0.8"/>
<path d="M195.4 259.6L201.4 259.6L198.4 254.2Z" fill="#e8813c" stroke="#fff" stroke-width="0.5" stroke-opacity="0.8"/>
<circle cx="151.2" cy="35.1" r="2.5" fill="#4ba39f" stroke="#fff" stroke-width="0.5" stroke-opacity="0.8"/>
<circle cx="76.0" cy="214.0" r="2.5" fill="#e8813c" stroke="#fff" stroke-width="0.5" stroke-opacity="0.8"/>
<circle cx="110.6" cy="278.0" r="2.5" fill="#4ba39f" stroke="#fff" stroke-width="0.5" stroke-opacity="0.8"/>
<circle cx="86.6" cy="220.7" r="2.5" fill="#e8813c" stroke="#fff" stroke-width="0.5" stroke-opacity="0.8"/>
<circle cx="153.8" cy="210.3" r="2.5" fill="#e8813c" stroke="#fff" stroke-width="0.5" stroke-opacity="0.8"/>
<circle cx="125.1" cy="240.6" r="2.5" fill="#e8813c" stroke="#fff" stroke-width="0.5" stroke-opacity="0.8"/>
<path d="M154.4 53.1L160.4 53.1L157.4 47.7Z" fill="#4ba39f" stroke="#fff" stroke-width="0.5" stroke-opacity="0.8"/>
<circle cx="117.2" cy="240.6" r="2.5" fill="#e8813c" stroke="#fff" stroke-width="0.5" stroke-opacity="0.8"/>
<path d="M114.2 230.7L120.2 230.7L117.2 225.3Z" fill="#4ba39f" stroke="#fff" stroke-width="0.5" stroke-opacity="0.8"/>
<path d="M151.0 31.8L157.0 31.8L154.0 26.4Z" fill="#4ba39f" stroke="#fff" stroke-width="0.5" stroke-opacity="0.8"/>
<path d="M151.2 206.5L157.2 206.5L154.2 201.1Z" fill="#e8813c" stroke="#fff" stroke-width="0.5" stroke-opacity="0.8"/>
<path d="M52.1 165.4L58.1 165.4L55.1 160.0Z" fill="#4ba39f" stroke="#fff" stroke-width="0.5" stroke-opacity="0.8"/>
<path d="M240.3 273.6L246.3 273.6L243.3 268.2Z" fill="#4ba39f" stroke="#fff" stroke-width="0.5" stroke-opacity="0.8"/>
<path d="M176.4 45.3L182.4 45.3L179.4 39.9Z" fill="#4ba39f" stroke="#fff" stroke-width="0.5" stroke-opacity="0.8"/>
<circle cx="101.5" cy="32.5" r="2.5" fill="#4ba39f" stroke="#fff" stroke-width="0.5" stroke-opacity="0.8"/>
<circle cx="71.9" cy="35.0" r="2.5" fill="#4ba39f" stroke="#fff" stroke-width="0.5" stroke-opacity="0.8"/>
<path d="M198.1 268.4L204.1 268.4L201.1 263.0Z" fill="#4ba39f" stroke="#fff" stroke-width="0.5" stroke-opacity="0.8"/>
<path d="M171.8 275.4L177.8 275.4L174.8 270.0Z" fill="#e8813c" stroke="#fff" stroke-width="0.5" stroke-opacity="0.8"/>
<circle cx="178.8" cy="270.1" r="2.5" fill="#4ba39f" stroke="#fff" stroke-width="0.5" stroke-opacity="0.8"/>
<path d="M167.4 234.7L173.4 234.7L170.4 229.3Z" fill="#4ba39f" stroke="#fff" stroke-width="0.5" stroke-opacity="0.8"/>
<path d="M153.4 277.5L159.4 277.5L156.4 272.1Z" fill="#4ba39f" stroke="#fff" stroke-width="0.5" stroke-opacity="0.8"/>
<circle cx="99.7" cy="271.8" r="2.5" fill="#e8813c" stroke="#fff" stroke-width="0.5" stroke-opacity="0.8"/>
<circle cx="75.2" cy="31.2" r="2.5" fill="#4ba39f" stroke="#fff" stroke-width="0.5" stroke-opacity="0.8"/>
<circle cx="231.1" cy="39.4" r="2.5" fill="#4ba39f" stroke="#fff" stroke-width="0.5" stroke-opacity="0.8"/>
<circle cx="260.7" cy="278.3" r="2.5" fill="#4ba39f" stroke="#fff" stroke-width="0.5" stroke-opacity="0.8"/>
<path d="M74.6 33.9L80.6 33.9L77.6 28.5Z" fill="#4ba39f" stroke="#fff" stroke-width="0.5" stroke-opacity="0.8"/>
<circle cx="57.7" cy="39.1" r="2.5" fill="#4ba39f" stroke="#fff" stroke-width="0.5" stroke-opacity="0.8"/>
<circle cx="95.9" cy="32.8" r="2.5" fill="#4ba39f" stroke="#fff" stroke-width="0.5" stroke-opacity="0.8"/>
<circle cx="111.2" cy="31.5" r="2.5" fill="#4ba39f" stroke="#fff" stroke-width="0.5" stroke-opacity="0.8"/>
<circle cx="182.7" cy="273.6" r="2.5" fill="#4ba39f" stroke="#fff" stroke-width="0.5" stroke-opacity="0.8"/>
<path d="M100.7 268.4L106.7 268.4L103.7 263.0Z" fill="#e8813c" stroke="#fff" stroke-width="0.5" stroke-opacity="0.8"/>
<circle cx="220.5" cy="277.9" r="2.5" fill="#4ba39f" stroke="#fff" stroke-width="0.5" stroke-opacity="0.8"/>
<circle cx="260.3" cy="277.2" r="2.5" fill="#4ba39f" stroke="#fff" stroke-width="0.5" stroke-opacity="0.8"/>
<path d="M233.6 39.0L239.6 39.0L236.6 33.6Z" fill="#4ba39f" stroke="#fff" stroke-width="0.5" stroke-opacity="0.8"/>
<path d="M216.4 272.8L222.4 272.8L219.4 267.4Z" fill="#4ba39f" stroke="#fff" stroke-width="0.5" stroke-opacity="0.8"/>
<circle cx="237.8" cy="259.6" r="2.5" fill="#e8813c" stroke="#fff" stroke-width="0.5" stroke-opacity="0.8"/>
<path d="M165.7 65.1L171.7 65.1L168.7 59.7Z" fill="#4ba39f" stroke="#fff" stroke-width="0.5" stroke-opacity="0.8"/>
<circle cx="123.9" cy="35.3" r="2.5" fill="#4ba39f" stroke="#fff" stroke-width="0.5" stroke-opacity="0.8"/>
<path d="M236.0 38.9L242.0 38.9L239.0 33.5Z" fill="#4ba39f" stroke="#fff" stroke-width="0.5" stroke-opacity="0.8"/>
<circle cx="206.1" cy="35.7" r="2.5" fill="#4ba39f" stroke="#fff" stroke-width="0.5" stroke-opacity="0.8"/>
<circle cx="70.8" cy="39.8" r="2.5" fill="#4ba39f" stroke="#fff" stroke-width="0.5" stroke-opacity="0.8"/>
<circle cx="45.9" cy="36.1" r="2.5" fill="#4ba39f" stroke="#fff" stroke-width="0.5" stroke-opacity="0.8"/>
<circle cx="101.5" cy="33.3" r="2.5" fill="#4ba39f" stroke="#fff" stroke-width="0.5" stroke-opacity="0.8"/>
<path d="M65.0 158.0L71.0 158.0L68.0 152.6Z" fill="#4ba39f" stroke="#fff" stroke-width="0.5" stroke-opacity="0.8"/>
<circle cx="111.9" cy="277.8" r="2.5" fill="#e8813c" stroke="#fff" stroke-width="0.5" stroke-opacity="0.8"/>
<circle cx="167.9" cy="275.9" r="2.5" fill="#4ba39f" stroke="#fff" stroke-width="0.5" stroke-opacity="0.8"/>
<path d="M215.3 37.4L221.3 37.4L218.3 32.0Z" fill="#4ba39f" stroke="#fff" stroke-width="0.5" stroke-opacity="0.8"/>
<circle cx="247.0" cy="37.1" r="2.5" fill="#4ba39f" stroke="#fff" stroke-width="0.5" stroke-opacity="0.8"/>
<circle cx="58.1" cy="39.0" r="2.5" fill="#4ba39f" stroke="#fff" stroke-width="0.5" stroke-opacity="0.8"/>
<path d="M170.8 279.6L176.8 279.6L173.8 274.2Z" fill="#e8813c" stroke="#fff" stroke-width="0.5" stroke-opacity="0.8"/>
<path d="M48.6 37.1L54.6 37.1L51.6 31.7Z" fill="#4ba39f" stroke="#fff" stroke-width="0.5" stroke-opacity="0.8"/>
<path d="M78.3 247.7L84.3 247.7L81.3 242.3Z" fill="#4ba39f" stroke="#fff" stroke-width="0.5" stroke-opacity="0.8"/>
<path d="M114.2 225.5L120.2 225.5L117.2 220.1Z" fill="#4ba39f" stroke="#fff" stroke-width="0.5" stroke-opacity="0.8"/>
<circle cx="141.2" cy="232.8" r="2.5" fill="#4ba39f" stroke="#fff" stroke-width="0.5" stroke-opacity="0.8"/>
<circle cx="251.9" cy="39.6" r="2.5" fill="#4ba39f" stroke="#fff" stroke-width="0.5" stroke-opacity="0.8"/>
<path d="M208.6 279.8L214.6 279.8L211.6 274.4Z" fill="#e8813c" stroke="#fff" stroke-width="0.5" stroke-opacity="0.8"/>
<path d="M208.5 39.2L214.5 39.2L211.5 33.8Z" fill="#4ba39f" stroke="#fff" stroke-width="0.5" stroke-opacity="0.8"/>
<circle cx="206.2" cy="36.5" r="2.5" fill="#4ba39f" stroke="#fff" stroke-width="0.5" stroke-opacity="0.8"/>
<path d="M201.6 271.0L207.6 271.0L204.6 265.6Z" fill="#e8813c" stroke="#fff" stroke-width="0.5" stroke-opacity="0.8"/>
<circle cx="179.1" cy="43.2" r="2.5" fill="#4ba39f" stroke="#fff" stroke-width="0.5" stroke-opacity="0.8"/>
<path d="M208.4 278.8L214.4 278.8L211.4 273.4Z" fill="#e8813c" stroke="#fff" stroke-width="0.5" stroke-opacity="0.8"/>
<path d="M229.8 39.2L235.8 39.2L232.8 33.8Z" fill="#4ba39f" stroke="#fff" stroke-width="0.5" stroke-opacity="0.8"/>
<circle cx="84.6" cy="31.5" r="2.5" fill="#4ba39f" stroke="#fff" stroke-width="0.5" stroke-opacity="0.8"/>
<path d="M102.0 226.3L108.0 226.3L105.0 220.9Z" fill="#4ba39f" stroke="#fff" stroke-width="0.5" stroke-opacity="0.8"/>
<circle cx="206.2" cy="277.6" r="2.5" fill="#4ba39f" stroke="#fff" stroke-width="0.5" stroke-opacity="0.8"/>
<path d="M53.3 41.0L59.3 41.0L56.3 35.6Z" fill="#4ba39f" stroke="#fff" stroke-width="0.5" stroke-opacity="0.8"/>
<circle cx="253.6" cy="227.7" r="2.5" fill="#e8813c" stroke="#fff" stroke-width="0.5" stroke-opacity="0.8"/>
<path d="M192.5 213.2L198.5 213.2L195.5 207.8Z" fill="#e8813c" stroke="#fff" stroke-width="0.5" stroke-opacity="0.8"/>
<path d="M246.2 246.5L252.2 246.5L249.2 241.1Z" fill="#4ba39f" stroke="#fff" stroke-width="0.5" stroke-opacity="0.8"/>
<circle cx="225.1" cy="277.8" r="2.5" fill="#4ba39f" stroke="#fff" stroke-width="0.5" stroke-opacity="0.8"/>
<path d="M255.9 269.2L261.9 269.2L258.9 263.8Z" fill="#4ba39f" stroke="#fff" stroke-width="0.5" stroke-opacity="0.8"/>
<path d="M45.5 39.6L51.5 39.6L48.5 34.2Z" fill="#4ba39f" stroke="#fff" stroke-width="0.5" stroke-opacity="0.8"/>
<path d="M182.1 42.2L188.1 42.2L185.1 36.8Z" fill="#4ba39f" stroke="#fff" stroke-width="0.5" stroke-opacity="0.8"/>
<circle cx="224.4" cy="275.4" r="2.5" fill="#4ba39f" stroke="#fff" stroke-width="0.5" stroke-opacity="0.8"/>
<path d="M249.7 261.0L255.7 261.0L252.7 255.6Z" fill="#e8813c" stroke="#fff" stroke-width="0.5" stroke-opacity="0.8"/>
<path d="M51.1 239.5L57.1 239.5L54.1 234.1Z" fill="#e8813c" stroke="#fff" stroke-width="0.5" stroke-opacity="0.8"/>
<path d="M96.6 35.0L102.6 35.0L99.6 29.6Z" fill="#4ba39f" stroke="#fff" stroke-width="0.5" stroke-opacity="0.8"/>
<circle cx="121.6" cy="241.2" r="2.5" fill="#4ba39f" stroke="#fff" stroke-width="0.5" stroke-opacity="0.8"/>
<path d="M227.8 159.2L233.8 159.2L230.8 153.8Z" fill="#4ba39f" stroke="#fff" stroke-width="0.5" stroke-opacity="0.8"/>
<circle cx="91.3" cy="32.6" r="2.5" fill="#4ba39f" stroke="#fff" stroke-width="0.5" stroke-opacity="0.8"/>
<path d="M50.3 277.1L56.3 277.1L53.3 271.7Z" fill="#4ba39f" stroke="#fff" stroke-width="0.5" stroke-opacity="0.8"/>
<circle cx="100.0" cy="32.2" r="2.5" fill="#4ba39f" stroke="#fff" stroke-width="0.5" stroke-opacity="0.8"/>
<path d="M178.5 43.3L184.5 43.3L181.5 37.9Z" fill="#4ba39f" stroke="#fff" stroke-width="0.5" stroke-opacity="0.8"/>
<circle cx="129.5" cy="261.7" r="2.5" fill="#e8813c" stroke="#fff" stroke-width="0.5" stroke-opacity="0.8"/>
<path d="M224.1 39.9L230.1 39.9L227.1 34.5Z" fill="#4ba39f" stroke="#fff" stroke-width="0.5" stroke-opacity="0.8"/>
<path d="M250.6 273.6L256.6 273.6L253.6 268.2Z" fill="#4ba39f" stroke="#fff" stroke-width="0.5" stroke-opacity="0.8"/>
<circle cx="126.6" cy="36.2" r="2.5" fill="#4ba39f" stroke="#fff" stroke-width="0.5" stroke-opacity="0.8"/>
<path d="M53.8 278.0L59.8 278.0L56.8 272.6Z" fill="#4ba39f" stroke="#fff" stroke-width="0.5" stroke-opacity="0.8"/>
<path d="M54.2 280.0L60.2 280.0L57.2 274.6Z" fill="#e8813c" stroke="#fff" stroke-width="0.5" stroke-opacity="0.8"/>
<circle cx="176.5" cy="275.0" r="2.5" fill="#e8813c" stroke="#fff" stroke-width="0.5" stroke-opacity="0.8"/>
<circle cx="205.5" cy="35.8" r="2.5" fill="#4ba39f" stroke="#fff" stroke-width="0.5" stroke-opacity="0.8"/>
<circle cx="260.7" cy="273.6" r="2.5" fill="#e8813c" stroke="#fff" stroke-width="0.5" stroke-opacity="0.8"/>
<path d="M146.9 36.8L152.9 36.8L149.9 31.4Z" fill="#4ba39f" stroke="#fff" stroke-width="0.5" stroke-opacity="0.8"/>
<circle cx="159.9" cy="255.2" r="2.5" fill="#e8813c" stroke="#fff" stroke-width="0.5" stroke-opacity="0.8"/>
<path d="M140.0 247.7L146.0 247.7L143.0 242.3Z" fill="#4ba39f" stroke="#fff" stroke-width="0.5" stroke-opacity="0.8"/>
<path d="M59.0 40.3L65.0 40.3L62.0 34.9Z" fill="#4ba39f" stroke="#fff" stroke-width="0.5" stroke-opacity="0.8"/>
<circle cx="203.7" cy="266.2" r="2.5" fill="#e8813c" stroke="#fff" stroke-width="0.5" stroke-opacity="0.8"/>
<path d="M120.4 275.4L126.4 275.4L123.4 270.0Z" fill="#4ba39f" stroke="#fff" stroke-width="0.5" stroke-opacity="0.8"/>
<path d="M170.4 47.6L176.4 47.6L173.4 42.2Z" fill="#4ba39f" stroke="#fff" stroke-width="0.5" stroke-opacity="0.8"/>
<circle cx="158.2" cy="47.5" r="2.5" fill="#4ba39f" stroke="#fff" stroke-width="0.5" stroke-opacity="0.8"/>
<circle cx="239.6" cy="271.0" r="2.5" fill="#e8813c" stroke="#fff" stroke-width="0.5" stroke-opacity="0.8"/>
<path d="M247.0 40.3L253.0 40.3L250.0 34.9Z" fill="#4ba39f" stroke="#fff" stroke-width="0.5" stroke-opacity="0.8"/>
<path d="M41.2 273.6L47.2 273.6L44.2 268.2Z" fill="#4ba39f" stroke="#fff" stroke-width="0.5" stroke-opacity="0.8"/>
<circle cx="164.4" cy="48.7" r="2.5" fill="#4ba39f" stroke="#fff" stroke-width="0.5" stroke-opacity="0.8"/>
<path d="M190.2 42.0L196.2 42.0L193.2 36.6Z" fill="#4ba39f" stroke="#fff" stroke-width="0.5" stroke-opacity="0.8"/>
<circle cx="220.8" cy="39.4" r="2.5" fill="#4ba39f" stroke="#fff" stroke-width="0.5" stroke-opacity="0.8"/>
<circle cx="200.7" cy="40.3" r="2.5" fill="#4ba39f" stroke="#fff" stroke-width="0.5" stroke-opacity="0.8"/>
<circle cx="45.6" cy="38.8" r="2.5" fill="#4ba39f" stroke="#fff" stroke-width="0.5" stroke-opacity="0.8"/>
<circle cx="107.6" cy="268.3" r="2.5" fill="#4ba39f" stroke="#fff" stroke-width="0.5" stroke-opacity="0.8"/>
<circle cx="212.9" cy="36.5" r="2.5" fill="#4ba39f" stroke="#fff" stroke-width="0.5" stroke-opacity="0.8"/>
<path d="M230.8 278.1L236.8 278.1L233.8 272.7Z" fill="#4ba39f" stroke="#fff" stroke-width="0.5" stroke-opacity="0.8"/>
<path d="M67.8 279.8L73.8 279.8L70.8 274.4Z" fill="#4ba39f" stroke="#fff" stroke-width="0.5" stroke-opacity="0.8"/>
<path d="M244.9 37.7L250.9 37.7L247.9 32.3Z" fill="#4ba39f" stroke="#fff" stroke-width="0.5" stroke-opacity="0.8"/>
<path d="M256.8 273.6L262.8 273.6L259.8 268.2Z" fill="#4ba39f" stroke="#fff" stroke-width="0.5" stroke-opacity="0.8"/>
<circle cx="134.0" cy="37.8" r="2.5" fill="#4ba39f" stroke="#fff" stroke-width="0.5" stroke-opacity="0.8"/>
<path d="M113.4 280.0L119.4 280.0L116.4 274.6Z" fill="#e8813c" stroke="#fff" stroke-width="0.5" stroke-opacity="0.8"/>
<circle cx="254.0" cy="276.0" r="2.5" fill="#e8813c" stroke="#fff" stroke-width="0.5" stroke-opacity="0.8"/>
<path d="M148.7 38.0L154.7 38.0L151.7 32.6Z" fill="#4ba39f" stroke="#fff" stroke-width="0.5" stroke-opacity="0.8"/>
<path d="M251.7 39.3L257.7 39.3L254.7 33.9Z" fill="#4ba39f" stroke="#fff" stroke-width="0.5" stroke-opacity="0.8"/>
<path d="M110.7 259.6L116.7 259.6L113.7 254.2Z" fill="#4ba39f" stroke="#fff" stroke-width="0.5" stroke-opacity="0.8"/>
<circle cx="149.6" cy="250.8" r="2.5" fill="#4ba39f" stroke="#fff" stroke-width="0.5" stroke-opacity="0.8"/>
<circle cx="73.5" cy="31.5" r="2.5" fill="#4ba39f" stroke="#fff" stroke-width="0.5" stroke-opacity="0.8"/>
<path d="M152.8 48.6L158.8 48.6L155.8 43.2Z" fill="#4ba39f" stroke="#fff" stroke-width="0.5" stroke-opacity="0.8"/>
<circle cx="118.1" cy="246.4" r="2.5" fill="#e8813c" stroke="#fff" stroke-width="0.5" stroke-opacity="0.8"/>
<path d="M191.8 277.4L197.8 277.4L194.8 272.0Z" fill="#4ba39f" stroke="#fff" stroke-width="0.5" stroke-opacity="0.8"/>
<circle cx="171.8" cy="273.5" r="2.5" fill="#4ba39f" stroke="#fff" stroke-width="0.5" stroke-opacity="0.8"/>
<circle cx="47.3" cy="263.4" r="2.5" fill="#4ba39f" stroke="#fff" stroke-width="0.5" stroke-opacity="0.8"/>
<path d="M205.0 40.6L211.0 40.6L208.0 35.2Z" fill="#4ba39f" stroke="#fff" stroke-width="0.5" stroke-opacity="0.8"/>
<path d="M137.3 36.1L143.3 36.1L140.3 30.7Z" fill="#4ba39f" stroke="#fff" stroke-width="0.5" stroke-opacity="0.8"/>
<path d="M90.8 279.2L96.8 279.2L93.8 273.8Z" fill="#4ba39f" stroke="#fff" stroke-width="0.5" stroke-opacity="0.8"/>
<circle cx="177.9" cy="261.7" r="2.5" fill="#4ba39f" stroke="#fff" stroke-width="0.5" stroke-opacity="0.8"/>
<circle cx="141.4" cy="27.8" r="2.5" fill="#4ba39f" stroke="#fff" stroke-width="0.5" stroke-opacity="0.8"/>
<circle cx="190.5" cy="42.7" r="2.5" fill="#4ba39f" stroke="#fff" stroke-width="0.5" stroke-opacity="0.8"/>
<circle cx="94.9" cy="31.6" r="2.5" fill="#4ba39f" stroke="#fff" stroke-width="0.5" stroke-opacity="0.8"/>
<circle cx="101.4" cy="34.2" r="2.5" fill="#4ba39f" stroke="#fff" stroke-width="0.5" stroke-opacity="0.8"/>
<path d="M247.8 40.4L253.8 40.4L250.8 35.0Z" fill="#4ba39f" stroke="#fff" stroke-width="0.5" stroke-opacity="0.8"/>
<circle cx="82.2" cy="31.3" r="2.5" fill="#4ba39f" stroke="#fff" stroke-width="0.5" stroke-opacity="0.8"/>
<circle cx="234.2" cy="37.2" r="2.5" fill="#4ba39f" stroke="#fff" stroke-width="0.5" stroke-opacity="0.8"/>
<path d="M204.7 221.1L210.7 221.1L207.7 215.7Z" fill="#e8813c" stroke="#fff" stroke-width="0.5" stroke-opacity="0.8"/>
<circle cx="62.9" cy="274.5" r="2.5" fill="#e8813c" stroke="#fff" stroke-width="0.5" stroke-opacity="0.8"/>
<path d="M77.4 279.8L83.4 279.8L80.4 274.4Z" fill="#4ba39f" stroke="#fff" stroke-width="0.5" stroke-opacity="0.8"/>
<circle cx="104.0" cy="261.3" r="2.5" fill="#e8813c" stroke="#fff" stroke-width="0.5" stroke-opacity="0.8"/>
<path d="M90.6 279.4L96.6 279.4L93.6 274.0Z" fill="#4ba39f" stroke="#fff" stroke-width="0.5" stroke-opacity="0.8"/>
<path d="M232.4 39.6L238.4 39.6L235.4 34.2Z" fill="#4ba39f" stroke="#fff" stroke-width="0.5" stroke-opacity="0.8"/>
<circle cx="172.9" cy="49.3" r="2.5" fill="#4ba39f" stroke="#fff" stroke-width="0.5" stroke-opacity="0.8"/>
<circle cx="103.7" cy="240.0" r="2.5" fill="#4ba39f" stroke="#fff" stroke-width="0.5" stroke-opacity="0.8"/>
<circle cx="150.9" cy="276.6" r="2.5" fill="#4ba39f" stroke="#fff" stroke-width="0.5" stroke-opacity="0.8"/>
<path d="M92.3 34.7L98.3 34.7L95.3 29.3Z" fill="#4ba39f" stroke="#fff" stroke-width="0.5" stroke-opacity="0.8"/>
<path d="M63.6 279.2L69.6 279.2L66.6 273.8Z" fill="#e8813c" stroke="#fff" stroke-width="0.5" stroke-opacity="0.8"/>
<circle cx="246.4" cy="37.4" r="2.5" fill="#4ba39f" stroke="#fff" stroke-width="0.5" stroke-opacity="0.8"/>
<path d="M194.6 278.9L200.6 278.9L197.6 273.5Z" fill="#4ba39f" stroke="#fff" stroke-width="0.5" stroke-opacity="0.8"/>
<path d="M164.0 52.3L170.0 52.3L167.0 46.9Z" fill="#4ba39f" stroke="#fff" stroke-width="0.5" stroke-opacity="0.8"/>
<path d="M179.7 43.4L185.7 43.4L182.7 38.0Z" fill="#4ba39f" stroke="#fff" stroke-width="0.5" stroke-opacity="0.8"/>
<path d="M236.2 237.7L242.2 237.7L239.2 232.3Z" fill="#4ba39f" stroke="#fff" stroke-width="0.5" stroke-opacity="0.8"/>
<circle cx="230.0" cy="273.6" r="2.5" fill="#4ba39f" stroke="#fff" stroke-width="0.5" stroke-opacity="0.8"/>
<circle cx="116.4" cy="276.6" r="2.5" fill="#4ba39f" stroke="#fff" stroke-width="0.5" stroke-opacity="0.8"/>
<circle cx="219.1" cy="277.5" r="2.5" fill="#4ba39f" stroke="#fff" stroke-width="0.5" stroke-opacity="0.8"/>
<path d="M45.3 39.5L51.3 39.5L48.3 34.1Z" fill="#4ba39f" stroke="#fff" stroke-width="0.5" stroke-opacity="0.8"/>
<path d="M42.6 38.8L48.6 38.8L45.6 33.4Z" fill="#4ba39f" stroke="#fff" stroke-width="0.5" stroke-opacity="0.8"/>
<path d="M124.0 279.4L130.0 279.4L127.0 274.0Z" fill="#e8813c" stroke="#fff" stroke-width="0.5" stroke-opacity="0.8"/>
<circle cx="168.7" cy="48.4" r="2.5" fill="#4ba39f" stroke="#fff" stroke-width="0.5" stroke-opacity="0.8"/>
<circle cx="182.4" cy="40.8" r="2.5" fill="#4ba39f" stroke="#fff" stroke-width="0.5" stroke-opacity="0.8"/>
<path d="M91.4 263.1L97.4 263.1L94.4 257.7Z" fill="#4ba39f" stroke="#fff" stroke-width="0.5" stroke-opacity="0.8"/>
<path d="M79.2 264.0L85.2 264.0L82.2 258.6Z" fill="#4ba39f" stroke="#fff" stroke-width="0.5" stroke-opacity="0.8"/>
<path d="M197.9 42.3L203.9 42.3L200.9 36.9Z" fill="#4ba39f" stroke="#fff" stroke-width="0.5" stroke-opacity="0.8"/>
<circle cx="133.7" cy="35.3" r="2.5" fill="#4ba39f" stroke="#fff" stroke-width="0.5" stroke-opacity="0.8"/>
<circle cx="106.5" cy="33.7" r="2.5" fill="#4ba39f" stroke="#fff" stroke-width="0.5" stroke-opacity="0.8"/>
<path d="M150.4 267.5L156.4 267.5L153.4 262.1Z" fill="#e8813c" stroke="#fff" stroke-width="0.5" stroke-opacity="0.8"/>
<path d="M88.3 277.6L94.3 277.6L91.3 272.2Z" fill="#4ba39f" stroke="#fff" stroke-width="0.5" stroke-opacity="0.8"/>
<path d="M43.4 36.3L49.4 36.3L46.4 30.9Z" fill="#4ba39f" stroke="#fff" stroke-width="0.5" stroke-opacity="0.8"/>
<circle cx="58.1" cy="276.3" r="2.5" fill="#4ba39f" stroke="#fff" stroke-width="0.5" stroke-opacity="0.8"/>
<path d="M53.2 263.1L59.2 263.1L56.2 257.7Z" fill="#4ba39f" stroke="#fff" stroke-width="0.5" stroke-opacity="0.8"/>
<circle cx="260.3" cy="257.5" r="2.5" fill="#e8813c" stroke="#fff" stroke-width="0.5" stroke-opacity="0.8"/>
<circle cx="104.3" cy="31.8" r="2.5" fill="#4ba39f" stroke="#fff" stroke-width="0.5" stroke-opacity="0.8"/>
<circle cx="73.2" cy="33.1" r="2.5" fill="#4ba39f" stroke="#fff" stroke-width="0.5" stroke-opacity="0.8"/>
<path d="M188.5 278.9L194.5 278.9L191.5 273.5Z" fill="#4ba39f" stroke="#fff" stroke-width="0.5" stroke-opacity="0.8"/>
<circle cx="137.2" cy="35.7" r="2.5" fill="#4ba39f" stroke="#fff" stroke-width="0.5" stroke-opacity="0.8"/>
<path d="M114.8 36.6L120.8 36.6L117.8 31.2Z" fill="#4ba39f" stroke="#fff" stroke-width="0.5" stroke-opacity="0.8"/>
<path d="M199.8 223.3L205.8 223.3L202.8 217.9Z" fill="#4ba39f" stroke="#fff" stroke-width="0.5" stroke-opacity="0.8"/>
<path d="M175.6 277.2L181.6 277.2L178.6 271.8Z" fill="#e8813c" stroke="#fff" stroke-width="0.5" stroke-opacity="0.8"/>
<circle cx="74.6" cy="277.1" r="2.5" fill="#4ba39f" stroke="#fff" stroke-width="0.5" stroke-opacity="0.8"/>
<path d="M119.5 262.2L125.5 262.2L122.5 256.8Z" fill="#4ba39f" stroke="#fff" stroke-width="0.5" stroke-opacity="0.8"/>
<circle cx="153.9" cy="48.0" r="2.5" fill="#4ba39f" stroke="#fff" stroke-width="0.5" stroke-opacity="0.8"/>
<circle cx="95.7" cy="278.3" r="2.5" fill="#4ba39f" stroke="#fff" stroke-width="0.5" stroke-opacity="0.8"/>
<path d="M137.9 268.0L143.9 268.0L140.9 262.6Z" fill="#e8813c" stroke="#fff" stroke-width="0.5" stroke-opacity="0.8"/>
<path d="M189.6 280.2L195.6 280.2L192.6 274.8Z" fill="#4ba39f" stroke="#fff" stroke-width="0.5" stroke-opacity="0.8"/>
<circle cx="200.7" cy="252.9" r="2.5" fill="#4ba39f" stroke="#fff" stroke-width="0.5" stroke-opacity="0.8"/>
<path d="M181.8 43.7L187.8 43.7L184.8 38.3Z" fill="#4ba39f" stroke="#fff" stroke-width="0.5" stroke-opacity="0.8"/>
<circle cx="101.1" cy="256.9" r="2.5" fill="#e8813c" stroke="#fff" stroke-width="0.5" stroke-opacity="0.8"/>
<path d="M55.3 40.2L61.3 40.2L58.3 34.8Z" fill="#4ba39f" stroke="#fff" stroke-width="0.5" stroke-opacity="0.8"/>
<path d="M177.3 43.7L183.3 43.7L180.3 38.3Z" fill="#4ba39f" stroke="#fff" stroke-width="0.5" stroke-opacity="0.8"/>
<circle cx="206.0" cy="38.1" r="2.5" fill="#4ba39f" stroke="#fff" stroke-width="0.5" stroke-opacity="0.8"/>
<circle cx="134.7" cy="215.4" r="2.5" fill="#4ba39f" stroke="#fff" stroke-width="0.5" stroke-opacity="0.8"/>
<circle cx="204.8" cy="278.2" r="2.5" fill="#4ba39f" stroke="#fff" stroke-width="0.5" stroke-opacity="0.8"/>
<circle cx="120.7" cy="32.9" r="2.5" fill="#4ba39f" stroke="#fff" stroke-width="0.5" stroke-opacity="0.8"/>
<path d="M257.3 254.0L263.3 254.0L260.3 248.6Z" fill="#4ba39f" stroke="#fff" stroke-width="0.5" stroke-opacity="0.8"/>
<circle cx="142.6" cy="275.3" r="2.5" fill="#e8813c" stroke="#fff" stroke-width="0.5" stroke-opacity="0.8"/>
<path d="M168.0 52.0L174.0 52.0L171.0 46.6Z" fill="#4ba39f" stroke="#fff" stroke-width="0.5" stroke-opacity="0.8"/>
<path d="M97.6 277.1L103.6 277.1L100.6 271.7Z" fill="#4ba39f" stroke="#fff" stroke-width="0.5" stroke-opacity="0.8"/>
<path d="M223.6 33.3L229.6 33.3L226.6 27.9Z" fill="#4ba39f" stroke="#fff" stroke-width="0.5" stroke-opacity="0.8"/>
<path d="M142.2 39.0L148.2 39.0L145.2 33.6Z" fill="#4ba39f" stroke="#fff" stroke-width="0.5" stroke-opacity="0.8"/>
<circle cx="114.6" cy="270.1" r="2.5" fill="#4ba39f" stroke="#fff" stroke-width="0.5" stroke-opacity="0.8"/>
<path d="M105.7 36.0L111.7 36.0L108.7 30.6Z" fill="#4ba39f" stroke="#fff" stroke-width="0.5" stroke-opacity="0.8"/>
<path d="M66.3 39.2L72.3 39.2L69.3 33.8Z" fill="#4ba39f" stroke="#fff" stroke-width="0.5" stroke-opacity="0.8"/>
<circle cx="213.5" cy="38.4" r="2.5" fill="#4ba39f" stroke="#fff" stroke-width="0.5" stroke-opacity="0.8"/>
<path d="M174.9 268.4L180.9 268.4L177.9 263.0Z" fill="#e8813c" stroke="#fff" stroke-width="0.5" stroke-opacity="0.8"/>
<path d="M206.8 39.3L212.8 39.3L209.8 33.9Z" fill="#4ba39f" stroke="#fff" stroke-width="0.5" stroke-opacity="0.8"/>
<path d="M83.6 260.5L89.6 260.5L86.6 255.1Z" fill="#4ba39f" stroke="#fff" stroke-width="0.5" stroke-opacity="0.8"/>
<path d="M144.9 271.9L150.9 271.9L147.9 266.5Z" fill="#4ba39f" stroke="#fff" stroke-width="0.5" stroke-opacity="0.8"/>
<path d="M120.7 270.1L126.7 270.1L123.7 264.7Z" fill="#e8813c" stroke="#fff" stroke-width="0.5" stroke-opacity="0.8"/>
<path d="M64.6 38.6L70.6 38.6L67.6 33.2Z" fill="#4ba39f" stroke="#fff" stroke-width="0.5" stroke-opacity="0.8"/>
<circle cx="245.8" cy="37.4" r="2.5" fill="#4ba39f" stroke="#fff" stroke-width="0.5" stroke-opacity="0.8"/>
<circle cx="85.7" cy="275.3" r="2.5" fill="#4ba39f" stroke="#fff" stroke-width="0.5" stroke-opacity="0.8"/>
<path d="M146.2 38.8L152.2 38.8L149.2 33.4Z" fill="#4ba39f" stroke="#fff" stroke-width="0.5" stroke-opacity="0.8"/>
<circle cx="240.9" cy="35.2" r="2.5" fill="#4ba39f" stroke="#fff" stroke-width="0.5" stroke-opacity="0.8"/>
<circle cx="97.0" cy="34.0" r="2.5" fill="#4ba39f" stroke="#fff" stroke-width="0.5" stroke-opacity="0.8"/>
<path d="M162.7 50.1L168.7 50.1L165.7 44.7Z" fill="#4ba39f" stroke="#fff" stroke-width="0.5" stroke-opacity="0.8"/>
<path d="M116.0 259.6L122.0 259.6L119.0 254.2Z" fill="#e8813c" stroke="#fff" stroke-width="0.5" stroke-opacity="0.8"/>
<circle cx="138.2" cy="38.1" r="2.5" fill="#4ba39f" stroke="#fff" stroke-width="0.5" stroke-opacity="0.8"/>
<path d="M88.8 275.4L94.8 275.4L91.8 270.0Z" fill="#e8813c" stroke="#fff" stroke-width="0.5" stroke-opacity="0.8"/>
<circle cx="163.6" cy="276.6" r="2.5" fill="#e8813c" stroke="#fff" stroke-width="0.5" stroke-opacity="0.8"/>
<path d="M194.6 228.4L200.6 228.4L197.6 223.0Z" fill="#4ba39f" stroke="#fff" stroke-width="0.5" stroke-opacity="0.8"/>
<circle cx="64.4" cy="38.9" r="2.5" fill="#4ba39f" stroke="#fff" stroke-width="0.5" stroke-opacity="0.8"/>
<path d="M127.0 228.1L133.0 228.1L130.0 222.7Z" fill="#4ba39f" stroke="#fff" stroke-width="0.5" stroke-opacity="0.8"/>
<path d="M122.1 35.5L128.1 35.5L125.1 30.1Z" fill="#4ba39f" stroke="#fff" stroke-width="0.5" stroke-opacity="0.8"/>
<circle cx="184.5" cy="42.6" r="2.5" fill="#4ba39f" stroke="#fff" stroke-width="0.5" stroke-opacity="0.8"/>
<circle cx="239.6" cy="261.3" r="2.5" fill="#4ba39f" stroke="#fff" stroke-width="0.5" stroke-opacity="0.8"/>
<path d="M154.7 49.8L160.7 49.8L157.7 44.4Z" fill="#4ba39f" stroke="#fff" stroke-width="0.5" stroke-opacity="0.8"/>
<circle cx="96.6" cy="30.3" r="2.5" fill="#4ba39f" stroke="#fff" stroke-width="0.5" stroke-opacity="0.8"/>
<circle cx="86.1" cy="35.1" r="2.5" fill="#4ba39f" stroke="#fff" stroke-width="0.5" stroke-opacity="0.8"/>
<circle cx="52.3" cy="278.4" r="2.5" fill="#4ba39f" stroke="#fff" stroke-width="0.5" stroke-opacity="0.8"/>
<path d="M104.2 33.2L110.2 33.2L107.2 27.8Z" fill="#4ba39f" stroke="#fff" stroke-width="0.5" stroke-opacity="0.8"/>
<path d="M246.9 40.4L252.9 40.4L249.9 35.0Z" fill="#4ba39f" stroke="#fff" stroke-width="0.5" stroke-opacity="0.8"/>
<circle cx="146.1" cy="275.2" r="2.5" fill="#4ba39f" stroke="#fff" stroke-width="0.5" stroke-opacity="0.8"/>
<circle cx="194.9" cy="235.9" r="2.5" fill="#e8813c" stroke="#fff" stroke-width="0.5" stroke-opacity="0.8"/>
<path d="M147.8 39.9L153.8 39.9L150.8 34.5Z" fill="#4ba39f" stroke="#fff" stroke-width="0.5" stroke-opacity="0.8"/>
<circle cx="105.5" cy="31.8" r="2.5" fill="#4ba39f" stroke="#fff" stroke-width="0.5" stroke-opacity="0.8"/>
<circle cx="251.4" cy="38.7" r="2.5" fill="#4ba39f" stroke="#fff" stroke-width="0.5" stroke-opacity="0.8"/>
<path d="M190.0 214.0L196.0 214.0L193.0 208.6Z" fill="#e8813c" stroke="#fff" stroke-width="0.5" stroke-opacity="0.8"/>
<path d="M95.4 280.0L101.4 280.0L98.4 274.6Z" fill="#e8813c" stroke="#fff" stroke-width="0.5" stroke-opacity="0.8"/>
<circle cx="222.9" cy="37.7" r="2.5" fill="#4ba39f" stroke="#fff" stroke-width="0.5" stroke-opacity="0.8"/>
<path d="M44.1 278.9L50.1 278.9L47.1 273.5Z" fill="#e8813c" stroke="#fff" stroke-width="0.5" stroke-opacity="0.8"/>
<path d="M48.4 37.4L54.4 37.4L51.4 32.0Z" fill="#4ba39f" stroke="#fff" stroke-width="0.5" stroke-opacity="0.8"/>
<path d="M223.9 39.4L229.9 39.4L226.9 34.0Z" fill="#4ba39f" stroke="#fff" stroke-width="0.5" stroke-opacity="0.8"/>
<circle cx="239.2" cy="256.9" r="2.5" fill="#e8813c" stroke="#fff" stroke-width="0.5" stroke-opacity="0.8"/>
<circle cx="199.3" cy="249.6" r="2.5" fill="#4ba39f" stroke="#fff" stroke-width="0.5" stroke-opacity="0.8"/>
<path d="M128.5 274.5L134.5 274.5L131.5 269.1Z" fill="#e8813c" stroke="#fff" stroke-width="0.5" stroke-opacity="0.8"/>
<path d="M212.4 39.6L218.4 39.6L215.4 34.2Z" fill="#4ba39f" stroke="#fff" stroke-width="0.5" stroke-opacity="0.8"/>
<path d="M152.2 235.4L158.2 235.4L155.2 230.0Z" fill="#4ba39f" stroke="#fff" stroke-width="0.5" stroke-opacity="0.8"/>
<path d="M85.9 35.3L91.9 35.3L88.9 29.9Z" fill="#4ba39f" stroke="#fff" stroke-width="0.5" stroke-opacity="0.8"/>
<path d="M197.3 41.6L203.3 41.6L200.3 36.2Z" fill="#4ba39f" stroke="#fff" stroke-width="0.5" stroke-opacity="0.8"/>
<path d="M88.2 34.0L94.2 34.0L91.2 28.6Z" fill="#4ba39f" stroke="#fff" stroke-width="0.5" stroke-opacity="0.8"/>
<circle cx="204.7" cy="48.9" r="2.5" fill="#4ba39f" stroke="#fff" stroke-width="0.5" stroke-opacity="0.8"/>
<path d="M209.3 40.9L215.3 40.9L212.3 35.5Z" fill="#4ba39f" stroke="#fff" stroke-width="0.5" stroke-opacity="0.8"/>
<circle cx="233.2" cy="276.3" r="2.5" fill="#e8813c" stroke="#fff" stroke-width="0.5" stroke-opacity="0.8"/>
<circle cx="144.8" cy="35.2" r="2.5" fill="#4ba39f" stroke="#fff" stroke-width="0.5" stroke-opacity="0.8"/>
<path d="M133.8 36.1L139.8 36.1L136.8 30.7Z" fill="#4ba39f" stroke="#fff" stroke-width="0.5" stroke-opacity="0.8"/>
<path d="M154.6 52.5L160.6 52.5L157.6 47.1Z" fill="#4ba39f" stroke="#fff" stroke-width="0.5" stroke-opacity="0.8"/>
<circle cx="200.4" cy="39.8" r="2.5" fill="#4ba39f" stroke="#fff" stroke-width="0.5" stroke-opacity="0.8"/>
<circle cx="214.4" cy="39.3" r="2.5" fill="#4ba39f" stroke="#fff" stroke-width="0.5" stroke-opacity="0.8"/>
<path d="M121.8 37.9L127.8 37.9L124.8 32.5Z" fill="#4ba39f" stroke="#fff" stroke-width="0.5" stroke-opacity="0.8"/>
<circle cx="135.5" cy="274.6" r="2.5" fill="#e8813c" stroke="#fff" stroke-width="0.5" stroke-opacity="0.8"/>
<path d="M114.0 38.0L120.0 38.0L117.0 32.6Z" fill="#4ba39f" stroke="#fff" stroke-width="0.5" stroke-opacity="0.8"/>
<line x1="153.80" y1="10.20" x2="153.80" y2="291.30" stroke="#f08080" stroke-width="1.1" stroke-dasharray="3,2"/>
<text transform="translate(154.20,30.40) scale(1,1)" font-size="8.7" fill="#5d9c99">rs62061734</text>
<text transform="translate(155.00,204.70) scale(1,1)" font-size="8.7" fill="#e5874e">rs62061734</text>
<rect x="271.90" y="110.40" width="40.40" height="38.30" fill="#ffffff"/>
<rect x="271.90" y="154.80" width="30.00" height="36.70" fill="#ffffff"/>
<text transform="translate(275.60,122.80) scale(1,1)" font-size="8.6" fill="#111">Effect</text>
<rect x="275.3" y="124.8" width="11.6" height="11.75" fill="#ffffff" stroke="#e6e6e6" stroke-width="0.6"/>
<circle cx="281.1" cy="130.8" r="1.7" fill="#000"/>
<text transform="translate(288.80,133.70) scale(1,1)" font-size="8.8" fill="#111">negative</text>
<rect x="275.3" y="136.6" width="11.6" height="11.75" fill="#ffffff" stroke="#e6e6e6" stroke-width="0.6"/>
<path d="M278.9 144.3L283.3 144.3L281.1 140.4Z" fill="#000"/>
<text transform="translate(288.80,143.80) scale(1,1)" font-size="8.8" fill="#111">positive</text>
<text transform="translate(275.60,166.20) scale(1,1)" font-size="8.6" fill="#111">Trait</text>
<rect x="275.3" y="168.2" width="11.6" height="11.75" fill="#ffffff" stroke="#e6e6e6" stroke-width="0.6"/>
<circle cx="281.1" cy="174.0" r="1.9" fill="#e8813c"/>
<text transform="translate(288.80,177.40) scale(1,1)" font-size="8.8" fill="#111">Autism</text>
<rect x="275.3" y="179.9" width="11.6" height="11.75" fill="#ffffff" stroke="#e6e6e6" stroke-width="0.6"/>
<circle cx="281.1" cy="185.8" r="1.9" fill="#4ba39f"/>
<text transform="translate(288.80,188.00) scale(1,1)" font-size="8.8" fill="#111">EA</text>
<line x1="374.00" y1="241.37" x2="614.20" y2="241.37" stroke="#f6f6f6" stroke-width="0.6"/>
<line x1="374.00" y1="168.31" x2="614.20" y2="168.31" stroke="#f6f6f6" stroke-width="0.6"/>
<line x1="374.00" y1="95.25" x2="614.20" y2="95.25" stroke="#f6f6f6" stroke-width="0.6"/>
<line x1="374.00" y1="22.19" x2="614.20" y2="22.19" stroke="#f6f6f6" stroke-width="0.6"/>
<line x1="400.40" y1="11.70" x2="400.40" y2="290.00" stroke="#f6f6f6" stroke-width="0.6"/>
<line x1="466.40" y1="11.70" x2="466.40" y2="290.00" stroke="#f6f6f6" stroke-width="0.6"/>
<line x1="532.40" y1="11.70" x2="532.40" y2="290.00" stroke="#f6f6f6" stroke-width="0.6"/>
<line x1="598.40" y1="11.70" x2="598.40" y2="290.00" stroke="#f6f6f6" stroke-width="0.6"/>
<line x1="374.00" y1="277.90" x2="614.20" y2="277.90" stroke="#dadada" stroke-width="0.7" stroke-dasharray="1,1"/>
<line x1="374.00" y1="204.84" x2="614.20" y2="204.84" stroke="#dadada" stroke-width="0.7" stroke-dasharray="1,1"/>
<line x1="374.00" y1="131.78" x2="614.20" y2="131.78" stroke="#dadada" stroke-width="0.7" stroke-dasharray="1,1"/>
<line x1="374.00" y1="58.72" x2="614.20" y2="58.72" stroke="#dadada" stroke-width="0.7" stroke-dasharray="1,1"/>
<line x1="433.40" y1="11.70" x2="433.40" y2="290.00" stroke="#dadada" stroke-width="0.7" stroke-dasharray="1,1"/>
<line x1="499.40" y1="11.70" x2="499.40" y2="290.00" stroke="#dadada" stroke-width="0.7" stroke-dasharray="1,1"/>
<line x1="565.40" y1="11.70" x2="565.40" y2="290.00" stroke="#dadada" stroke-width="0.7" stroke-dasharray="1,1"/>
<line x1="372.40" y1="277.90" x2="374.40" y2="277.90" stroke="#777" stroke-width="0.7"/>
<text transform="translate(370.60,281.10) scale(1,1)" font-size="12" text-anchor="end" fill="#555">0</text>
<line x1="372.40" y1="204.84" x2="374.40" y2="204.84" stroke="#777" stroke-width="0.7"/>
<text transform="translate(370.60,208.04) scale(1,1)" font-size="12" text-anchor="end" fill="#555">2</text>
<line x1="372.40" y1="131.78" x2="374.40" y2="131.78" stroke="#777" stroke-width="0.7"/>
<text transform="translate(370.60,134.98) scale(1,1)" font-size="12" text-anchor="end" fill="#555">4</text>
<line x1="372.40" y1="58.72" x2="374.40" y2="58.72" stroke="#777" stroke-width="0.7"/>
<text transform="translate(370.60,61.92) scale(1,1)" font-size="12" text-anchor="end" fill="#555">6</text>
<line x1="433.40" y1="289.50" x2="433.40" y2="292.00" stroke="#777" stroke-width="0.7"/>
<text transform="translate(433.40,300.30) scale(1,1)" font-size="8.55" text-anchor="middle" fill="#333">44760000</text>
<line x1="499.40" y1="289.50" x2="499.40" y2="292.00" stroke="#777" stroke-width="0.7"/>
<text transform="translate(499.40,300.30) scale(1,1)" font-size="8.55" text-anchor="middle" fill="#333">44790000</text>
<line x1="565.40" y1="289.50" x2="565.40" y2="292.00" stroke="#777" stroke-width="0.7"/>
<text transform="translate(565.40,300.30) scale(1,1)" font-size="8.55" text-anchor="middle" fill="#333">44820000</text>
<text transform="translate(476.70,315.60) scale(1,1)" font-size="12" text-anchor="middle" fill="#222">Base position</text>
<text transform="translate(352.60,144.50) rotate(-90) scale(1,1)" font-size="12.0" text-anchor="middle" fill="#222">−log10(p−value)</text>
<text transform="translate(373.70,9.90) scale(1,1)" font-size="12.3" font-weight="bold" fill="#111">Colocalization - NSF</text>
<circle cx="507.6" cy="118.0" r="2.5" fill="#e8813c"/>
<circle cx="521.6" cy="124.8" r="2.5" fill="#e8813c"/>
<circle cx="510.8" cy="132.9" r="2.5" fill="#e8813c"/>
<circle cx="521.6" cy="137.7" r="2.5" fill="#e8813c"/>
<circle cx="519.7" cy="141.2" r="2.5" fill="#e8813c"/>
<circle cx="541.0" cy="118.8" r="2.5" fill="#e8813c"/>
<circle cx="562.9" cy="120.2" r="2.5" fill="#e8813c"/>
<circle cx="570.8" cy="116.7" r="2.5" fill="#e8813c"/>
<circle cx="574.5" cy="114.8" r="2.5" fill="#e8813c"/>
<circle cx="561.6" cy="128.3" r="2.5" fill="#e8813c"/>
<circle cx="578.6" cy="126.9" r="2.5" fill="#e8813c"/>
<circle cx="588.0" cy="134.5" r="2.5" fill="#e8813c"/>
<circle cx="550.2" cy="136.1" r="2.5" fill="#e8813c"/>
<circle cx="601.8" cy="135.8" r="2.5" fill="#e8813c"/>
<circle cx="603.2" cy="141.8" r="2.5" fill="#e8813c"/>
<circle cx="507.6" cy="155.8" r="2.5" fill="#e8813c"/>
<circle cx="427.5" cy="123.5" r="2.5" fill="#e8813c"/>
<circle cx="424.6" cy="128.2" r="2.5" fill="#e8813c"/>
<circle cx="438.8" cy="127.2" r="2.5" fill="#e8813c"/>
<circle cx="444.3" cy="145.0" r="2.5" fill="#e8813c"/>
<circle cx="480.0" cy="144.5" r="2.5" fill="#e8813c"/>
<circle cx="482.4" cy="74.1" r="2.5" fill="#e8813c"/>
<circle cx="497.1" cy="131.4" r="2.5" fill="#e8813c"/>
<circle cx="499.7" cy="117.7" r="2.5" fill="#e8813c"/>
<circle cx="419.0" cy="188.3" r="2.5" fill="#e8813c"/>
<circle cx="400.4" cy="270.8" r="2.5" fill="#e8813c"/>
<circle cx="419.0" cy="249.7" r="2.5" fill="#e8813c"/>
<circle cx="424.1" cy="263.3" r="2.5" fill="#e8813c"/>
<circle cx="431.6" cy="249.7" r="2.5" fill="#e8813c"/>
<circle cx="439.2" cy="265.8" r="2.5" fill="#e8813c"/>
<circle cx="438.2" cy="272.9" r="2.5" fill="#e8813c"/>
<circle cx="507.2" cy="254.2" r="2.5" fill="#e8813c"/>
<circle cx="518.2" cy="268.8" r="2.5" fill="#e8813c"/>
<circle cx="540.4" cy="256.7" r="2.5" fill="#e8813c"/>
<circle cx="544.9" cy="264.8" r="2.5" fill="#e8813c"/>
<circle cx="554.0" cy="271.9" r="2.5" fill="#e8813c"/>
<circle cx="564.1" cy="260.8" r="2.5" fill="#e8813c"/>
<circle cx="573.6" cy="258.3" r="2.5" fill="#e8813c"/>
<circle cx="594.8" cy="258.3" r="2.5" fill="#e8813c"/>
<circle cx="555.5" cy="277.4" r="2.5" fill="#e8813c"/>
<circle cx="554.0" cy="238.0" r="2.5" fill="#e8813c"/>
<circle cx="553.7" cy="271.7" r="2.5" fill="#e8813c"/>
<circle cx="563.0" cy="277.5" r="2.5" fill="#e8813c"/>
<circle cx="591.7" cy="277.5" r="2.5" fill="#e8813c"/>
<circle cx="576.2" cy="277.5" r="2.5" fill="#e8813c"/>
<path d="M522.7 119.8L528.8 119.8L525.7 114.3Z" fill="#e8813c"/>
<path d="M545.1 118.8L551.1 118.8L548.1 113.3Z" fill="#e8813c"/>
<path d="M556.4 115.2L562.4 115.2L559.4 109.7Z" fill="#e8813c"/>
<path d="M561.2 116.0L567.3 116.0L564.3 110.5Z" fill="#e8813c"/>
<path d="M566.7 107.1L572.8 107.1L569.7 101.6Z" fill="#e8813c"/>
<path d="M582.1 119.3L588.1 119.3L585.1 113.8Z" fill="#e8813c"/>
<path d="M500.1 133.6L506.2 133.6L503.2 128.1Z" fill="#e8813c"/>
<path d="M520.8 132.8L526.8 132.8L523.8 127.3Z" fill="#e8813c"/>
<path d="M538.0 132.0L544.0 132.0L541.0 126.5Z" fill="#e8813c"/>
<path d="M537.0 139.0L543.0 139.0L540.0 133.5Z" fill="#e8813c"/>
<path d="M563.2 130.3L569.2 130.3L566.2 124.8Z" fill="#e8813c"/>
<path d="M598.2 130.1L604.3 130.1L601.3 124.6Z" fill="#e8813c"/>
<path d="M596.1 136.0L602.1 136.0L599.1 130.5Z" fill="#e8813c"/>
<path d="M417.1 124.5L423.2 124.5L420.1 119.0Z" fill="#e8813c"/>
<path d="M436.2 136.3L442.4 136.3L439.3 130.8Z" fill="#e8813c"/>
<path d="M460.9 128.7L467.1 128.7L464.0 123.2Z" fill="#e8813c"/>
<path d="M476.8 116.6L482.9 116.6L479.8 111.1Z" fill="#e8813c"/>
<path d="M490.6 121.3L496.8 121.3L493.7 115.8Z" fill="#e8813c"/>
<path d="M488.6 133.2L494.7 133.2L491.6 127.7Z" fill="#e8813c"/>
<path d="M499.8 133.2L505.9 133.2L502.9 127.7Z" fill="#e8813c"/>
<path d="M430.2 79.3L436.4 79.3L433.3 73.8Z" fill="#e8813c"/>
<path d="M415.8 159.4L421.9 159.4L418.8 153.9Z" fill="#e8813c"/>
<path d="M508.2 119.3L514.4 119.3L511.3 113.8Z" fill="#e8813c"/>
<path d="M513.7 119.3L519.8 119.3L516.7 113.8Z" fill="#e8813c"/>
<path d="M519.5 128.3L525.5 128.3L522.5 122.8Z" fill="#e8813c"/>
<path d="M415.9 160.4L422.1 160.4L419.0 154.9Z" fill="#e8813c"/>
<path d="M382.2 258.5L388.4 258.5L385.3 253.0Z" fill="#e8813c"/>
<path d="M428.6 263.6L434.7 263.6L431.6 258.1Z" fill="#e8813c"/>
<path d="M449.2 254.0L455.4 254.0L452.3 248.5Z" fill="#e8813c"/>
<path d="M467.8 230.8L473.9 230.8L470.9 225.3Z" fill="#e8813c"/>
<path d="M515.8 239.9L521.8 239.9L518.8 234.4Z" fill="#e8813c"/>
<path d="M506.6 260.1L512.8 260.1L509.7 254.6Z" fill="#e8813c"/>
<path d="M561.1 234.9L567.1 234.9L564.1 229.4Z" fill="#e8813c"/>
<path d="M577.7 257.5L583.8 257.5L580.7 252.0Z" fill="#e8813c"/>
<path d="M584.2 258.5L590.2 258.5L587.2 253.0Z" fill="#e8813c"/>
<path d="M489.6 276.7L495.7 276.7L492.6 271.2Z" fill="#e8813c"/>
<path d="M514.8 272.0L520.8 272.0L517.8 266.5Z" fill="#e8813c"/>
<circle cx="519.7" cy="39.6" r="2.5" fill="#4ba39f"/>
<circle cx="522.3" cy="41.5" r="2.5" fill="#4ba39f"/>
<circle cx="550.5" cy="43.4" r="2.5" fill="#4ba39f"/>
<circle cx="566.1" cy="44.1" r="2.5" fill="#4ba39f"/>
<circle cx="601.8" cy="50.2" r="2.5" fill="#4ba39f"/>
<circle cx="521.6" cy="65.6" r="2.5" fill="#4ba39f"/>
<circle cx="600.7" cy="67.5" r="2.5" fill="#4ba39f"/>
<circle cx="518.2" cy="223.5" r="2.5" fill="#4ba39f"/>
<circle cx="527.3" cy="232.1" r="2.5" fill="#4ba39f"/>
<circle cx="554.0" cy="232.6" r="2.5" fill="#4ba39f"/>
<circle cx="594.8" cy="237.1" r="2.5" fill="#4ba39f"/>
<circle cx="597.5" cy="236.5" r="2.5" fill="#4ba39f"/>
<circle cx="507.0" cy="274.6" r="2.5" fill="#4ba39f"/>
<circle cx="512.8" cy="276.0" r="2.5" fill="#4ba39f"/>
<circle cx="519.3" cy="276.0" r="2.5" fill="#4ba39f"/>
<circle cx="528.0" cy="274.0" r="2.5" fill="#4ba39f"/>
<circle cx="539.7" cy="275.2" r="2.5" fill="#4ba39f"/>
<circle cx="545.0" cy="272.3" r="2.5" fill="#4ba39f"/>
<circle cx="554.3" cy="272.3" r="2.5" fill="#4ba39f"/>
<circle cx="555.2" cy="276.0" r="2.5" fill="#4ba39f"/>
<circle cx="574.7" cy="271.7" r="2.5" fill="#4ba39f"/>
<circle cx="576.2" cy="275.2" r="2.5" fill="#4ba39f"/>
<circle cx="582.0" cy="271.1" r="2.5" fill="#4ba39f"/>
<circle cx="587.9" cy="268.2" r="2.5" fill="#4ba39f"/>
<circle cx="588.8" cy="277.5" r="2.5" fill="#4ba39f"/>
<circle cx="598.7" cy="277.5" r="2.5" fill="#4ba39f"/>
<circle cx="510.0" cy="277.4" r="2.5" fill="#4ba39f"/>
<circle cx="560.0" cy="277.2" r="2.5" fill="#4ba39f"/>
<path d="M490.8 28.4L496.9 28.4L493.9 22.9Z" fill="#4ba39f"/>
<path d="M496.9 29.4L503.1 29.4L500.0 23.9Z" fill="#4ba39f"/>
<path d="M503.9 27.5L510.1 27.5L507.0 22.0Z" fill="#4ba39f"/>
<path d="M508.3 28.4L514.4 28.4L511.4 22.9Z" fill="#4ba39f"/>
<path d="M514.2 28.4L520.2 28.4L517.2 22.9Z" fill="#4ba39f"/>
<path d="M522.5 29.4L528.5 29.4L525.5 23.9Z" fill="#4ba39f"/>
<path d="M538.2 29.4L544.3 29.4L541.3 23.9Z" fill="#4ba39f"/>
<path d="M545.2 29.9L551.2 29.9L548.2 24.4Z" fill="#4ba39f"/>
<path d="M556.6 29.4L562.6 29.4L559.6 23.9Z" fill="#4ba39f"/>
<path d="M561.4 30.2L567.4 30.2L564.4 24.7Z" fill="#4ba39f"/>
<path d="M568.2 30.9L574.2 30.9L571.2 25.4Z" fill="#4ba39f"/>
<path d="M571.6 32.8L577.6 32.8L574.6 27.3Z" fill="#4ba39f"/>
<path d="M575.1 37.5L581.1 37.5L578.1 32.0Z" fill="#4ba39f"/>
<path d="M582.1 28.8L588.1 28.8L585.1 23.3Z" fill="#4ba39f"/>
<path d="M600.2 28.8L606.2 28.8L603.2 23.3Z" fill="#4ba39f"/>
<path d="M518.0 28.3L524.0 28.3L521.0 22.8Z" fill="#4ba39f"/>
<path d="M488.3 49.1L494.4 49.1L491.4 43.6Z" fill="#4ba39f"/>
<path d="M493.8 49.1L499.9 49.1L496.8 43.6Z" fill="#4ba39f"/>
<path d="M495.1 49.4L501.2 49.4L498.2 43.9Z" fill="#4ba39f"/>
<path d="M500.3 49.1L506.4 49.1L503.4 43.6Z" fill="#4ba39f"/>
<path d="M508.1 44.5L514.1 44.5L511.1 39.0Z" fill="#4ba39f"/>
<path d="M520.8 44.5L526.8 44.5L523.8 39.0Z" fill="#4ba39f"/>
<path d="M520.4 48.4L526.4 48.4L523.4 42.9Z" fill="#4ba39f"/>
<path d="M538.0 50.3L544.0 50.3L541.0 44.8Z" fill="#4ba39f"/>
<path d="M558.5 50.3L564.5 50.3L561.5 44.8Z" fill="#4ba39f"/>
<path d="M563.1 51.3L569.1 51.3L566.1 45.8Z" fill="#4ba39f"/>
<path d="M585.2 56.6L591.3 56.6L588.3 51.1Z" fill="#4ba39f"/>
<path d="M436.2 51.7L442.4 51.7L439.3 46.2Z" fill="#4ba39f"/>
<path d="M441.6 68.0L447.7 68.0L444.6 62.5Z" fill="#4ba39f"/>
<path d="M593.2 239.8L599.2 239.8L596.2 234.3Z" fill="#4ba39f"/>
<path d="M506.6 235.9L512.8 235.9L509.7 230.4Z" fill="#4ba39f"/>
<path d="M524.2 246.0L530.3 246.0L527.3 240.5Z" fill="#4ba39f"/>
<path d="M561.1 254.0L567.1 254.0L564.1 248.5Z" fill="#4ba39f"/>
<path d="M519.2 263.6L525.3 263.6L522.3 258.1Z" fill="#4ba39f"/>
<path d="M560.0 268.2L566.0 268.2L563.0 262.7Z" fill="#4ba39f"/>
<path d="M520.6 263.3L526.6 263.3L523.6 257.8Z" fill="#4ba39f"/>
<path d="M450.6 278.7L456.7 278.7L453.6 273.2Z" fill="#4ba39f"/>
<path d="M489.9 278.7L496.1 278.7L493.0 273.2Z" fill="#4ba39f"/>
<path d="M501.6 278.7L507.8 278.7L504.7 273.2Z" fill="#4ba39f"/>
<path d="M503.9 278.7L510.1 278.7L507.0 273.2Z" fill="#4ba39f"/>
<path d="M505.9 278.7L512.0 278.7L509.0 273.2Z" fill="#4ba39f"/>
<path d="M510.3 278.7L516.4 278.7L513.4 273.2Z" fill="#4ba39f"/>
<path d="M514.8 278.7L520.8 278.7L517.8 273.2Z" fill="#4ba39f"/>
<path d="M549.8 278.7L555.8 278.7L552.8 273.2Z" fill="#4ba39f"/>
<path d="M552.8 278.7L558.8 278.7L555.8 273.2Z" fill="#4ba39f"/>
<path d="M560.0 278.7L566.0 278.7L563.0 273.2Z" fill="#4ba39f"/>
<path d="M586.2 278.7L592.3 278.7L589.3 273.2Z" fill="#4ba39f"/>
<path d="M589.2 278.7L595.3 278.7L592.3 273.2Z" fill="#4ba39f"/>
<path d="M497.4 278.7L503.6 278.7L500.5 273.2Z" fill="#4ba39f"/>
<path d="M545.5 278.7L551.5 278.7L548.5 273.2Z" fill="#4ba39f"/>
<line x1="493.40" y1="11.70" x2="493.40" y2="290.00" stroke="#e06060" stroke-width="1.0" stroke-dasharray="3,2"/>
<text transform="translate(495.80,19.60) scale(1,1)" font-size="8.7" fill="#5d9c99">rs538628</text>
<text transform="translate(494.20,115.60) scale(1,1)" font-size="9.0" fill="#e3946a">rs538628</text>
<rect x="621.00" y="110.40" width="40.40" height="38.30" fill="#ffffff"/>
<rect x="621.00" y="154.80" width="36.50" height="36.70" fill="#ffffff"/>
<text transform="translate(624.70,122.80) scale(1,1)" font-size="8.6" fill="#111">Effect</text>
<rect x="624.4" y="124.8" width="11.6" height="11.75" fill="#ffffff" stroke="#e6e6e6" stroke-width="0.6"/>
<circle cx="630.2" cy="130.8" r="1.7" fill="#000"/>
<text transform="translate(637.90,133.70) scale(1,1)" font-size="8.8" fill="#111">negative</text>
<rect x="624.4" y="136.6" width="11.6" height="11.75" fill="#ffffff" stroke="#e6e6e6" stroke-width="0.6"/>
<path d="M628.0 144.3L632.4 144.3L630.2 140.4Z" fill="#000"/>
<text transform="translate(637.90,143.80) scale(1,1)" font-size="8.8" fill="#111">positive</text>
<text transform="translate(624.70,166.20) scale(1,1)" font-size="8.6" fill="#111">Trait</text>
<rect x="624.4" y="168.2" width="11.6" height="11.75" fill="#ffffff" stroke="#e6e6e6" stroke-width="0.6"/>
<circle cx="630.2" cy="174.0" r="1.9" fill="#e8813c"/>
<text transform="translate(637.90,177.40) scale(1,1)" font-size="8.8" fill="#111">Autism</text>
<rect x="624.4" y="179.9" width="11.6" height="11.75" fill="#ffffff" stroke="#e6e6e6" stroke-width="0.6"/>
<circle cx="630.2" cy="185.8" r="1.9" fill="#4ba39f"/>
<text transform="translate(637.90,188.00) scale(1,1)" font-size="8.8" fill="#111">SCZ</text>
<line x1="44.00" y1="561.45" x2="299.50" y2="561.45" stroke="#e8e8e8" stroke-width="0.6" stroke-dasharray="1,1"/>
<line x1="44.00" y1="526.70" x2="299.50" y2="526.70" stroke="#e8e8e8" stroke-width="0.6" stroke-dasharray="1,1"/>
<line x1="44.00" y1="491.95" x2="299.50" y2="491.95" stroke="#e8e8e8" stroke-width="0.6" stroke-dasharray="1,1"/>
<line x1="44.00" y1="457.20" x2="299.50" y2="457.20" stroke="#e8e8e8" stroke-width="0.6" stroke-dasharray="1,1"/>
<line x1="44.00" y1="422.45" x2="299.50" y2="422.45" stroke="#e8e8e8" stroke-width="0.6" stroke-dasharray="1,1"/>
<line x1="44.00" y1="387.70" x2="299.50" y2="387.70" stroke="#e8e8e8" stroke-width="0.6" stroke-dasharray="1,1"/>
<line x1="44.00" y1="352.95" x2="299.50" y2="352.95" stroke="#e8e8e8" stroke-width="0.6" stroke-dasharray="1,1"/>
<line x1="48.10" y1="341.00" x2="48.10" y2="578.70" stroke="#e8e8e8" stroke-width="0.6" stroke-dasharray="1,1"/>
<line x1="76.03" y1="341.00" x2="76.03" y2="578.70" stroke="#e8e8e8" stroke-width="0.6" stroke-dasharray="1,1"/>
<line x1="103.95" y1="341.00" x2="103.95" y2="578.70" stroke="#e8e8e8" stroke-width="0.6" stroke-dasharray="1,1"/>
<line x1="131.88" y1="341.00" x2="131.88" y2="578.70" stroke="#e8e8e8" stroke-width="0.6" stroke-dasharray="1,1"/>
<line x1="159.80" y1="341.00" x2="159.80" y2="578.70" stroke="#e8e8e8" stroke-width="0.6" stroke-dasharray="1,1"/>
<line x1="187.72" y1="341.00" x2="187.72" y2="578.70" stroke="#e8e8e8" stroke-width="0.6" stroke-dasharray="1,1"/>
<line x1="215.65" y1="341.00" x2="215.65" y2="578.70" stroke="#e8e8e8" stroke-width="0.6" stroke-dasharray="1,1"/>
<line x1="243.58" y1="341.00" x2="243.58" y2="578.70" stroke="#e8e8e8" stroke-width="0.6" stroke-dasharray="1,1"/>
<line x1="271.50" y1="341.00" x2="271.50" y2="578.70" stroke="#e8e8e8" stroke-width="0.6" stroke-dasharray="1,1"/>
<line x1="299.43" y1="341.00" x2="299.43" y2="578.70" stroke="#e8e8e8" stroke-width="0.6" stroke-dasharray="1,1"/>
<text transform="translate(63.30,360.60) scale(1,1)" font-size="12" font-weight="bold" fill="#111">MR - EA</text>
<text transform="translate(41.60,390.90) scale(1,1)" font-size="8.8" text-anchor="end" fill="#555">0.2</text>
<line x1="42.80" y1="387.70" x2="44.80" y2="387.70" stroke="#666" stroke-width="0.7"/>
<text transform="translate(41.60,460.40) scale(1,1)" font-size="8.8" text-anchor="end" fill="#555">0.0</text>
<line x1="42.80" y1="457.20" x2="44.80" y2="457.20" stroke="#666" stroke-width="0.7"/>
<text transform="translate(41.60,529.90) scale(1,1)" font-size="8.8" text-anchor="end" fill="#555">−0.2</text>
<line x1="42.80" y1="526.70" x2="44.80" y2="526.70" stroke="#666" stroke-width="0.7"/>
<line x1="48.10" y1="579.90" x2="48.10" y2="581.50" stroke="#666" stroke-width="0.6"/>
<text transform="translate(49.50,587.90) scale(1,1)" font-size="8.8" text-anchor="middle" fill="#555">0.00</text>
<line x1="103.95" y1="579.90" x2="103.95" y2="581.50" stroke="#666" stroke-width="0.6"/>
<text transform="translate(105.35,587.90) scale(1,1)" font-size="8.8" text-anchor="middle" fill="#555">0.01</text>
<line x1="159.80" y1="579.90" x2="159.80" y2="581.50" stroke="#666" stroke-width="0.6"/>
<text transform="translate(161.50,587.90) scale(1,1)" font-size="8.8" text-anchor="middle" fill="#555">0.02</text>
<line x1="215.65" y1="579.90" x2="215.65" y2="581.50" stroke="#666" stroke-width="0.6"/>
<text transform="translate(217.35,587.90) scale(1,1)" font-size="8.8" text-anchor="middle" fill="#555">0.03</text>
<line x1="271.50" y1="579.90" x2="271.50" y2="581.50" stroke="#666" stroke-width="0.6"/>
<text transform="translate(272.90,587.90) scale(1,1)" font-size="8.8" text-anchor="middle" fill="#555">0.04</text>
<text transform="translate(177.90,607.90) scale(1,1)" font-size="12.2" text-anchor="middle" fill="#222">SNP effect on EA</text>
<text transform="translate(22.50,451.60) rotate(-90) scale(1,1)" font-size="12.2" text-anchor="middle" fill="#222">SNP effect on ASD</text>
<path d="M51 445H65M58 444V446M54 467H63M58 465V468M52 445H67M60 444V446M56 466H63M60 465V468M51 466H68M60 465V467M52 447H68M60 444V450M52 467H69M60 465V468M53 445H69M61 443V447M53 442H70M62 441V444M58 467H66M62 464V469M56 444H70M63 442V445M57 443H70M63 441V445M59 470H68M63 467V473M55 466H72M64 465V468M56 446H71M64 444V448M61 442H67M64 441V443M57 441H71M64 438V444M58 468H71M64 466V469M58 440H72M65 439V441M60 472H70M65 470V474M61 449H72M66 442V455M54 466H78M66 461V471M57 447H76M66 443V451M57 467H75M66 460V474M54 448H79M66 445V451M63 440H71M67 435V444M62 475H72M67 472V478M55 434H79M67 431V437M57 470H77M67 468V472M61 438H73M67 435V440M60 451H74M67 448V453M62 450H72M67 448V452M57 465H78M68 462V468M62 435H74M68 432V439M56 472H80M68 467V476M58 464H78M68 458V470M60 469H77M68 466V473M63 433H74M68 430V435M63 434H74M69 430V439M64 435H74M69 430V440M55 443H84M69 438V447M57 450H83M70 446V453M64 446H76M70 440V452M62 473H77M70 467V480M66 469H74M70 463V476M56 475H83M70 468V482M58 449H82M70 444V455M67 440H73M70 438V443M62 433H78M70 430V437M60 436H81M71 432V440M64 445H78M71 439V450M59 444H82M71 439V450M63 464H78M71 460V469M67 474H75M71 468V479M62 468H81M71 464V473M60 434H83M72 430V437M58 434H86M72 429V439M61 436H83M72 429V443M66 470H80M73 468V472M69 435H77M73 429V440M65 474H82M73 468V481M61 474H85M73 468V481M64 464H82M73 459V470M70 466H77M73 463V469M61 463H86M74 457V470M66 467H81M74 462V471M70 441H77M74 436V445M65 473H83M74 468V477M67 431H81M74 426V436M59 436H89M74 434V439M65 436H84M74 432V440M60 433H89M75 431V436M63 475H87M75 472V478M68 440H82M75 433V446M68 466H83M75 463V468M71 464H80M75 461V467M63 446H88M75 442V450M71 450H80M76 445V455M65 441H86M76 437V444M61 438H91M76 431V444M71 446H80M76 442V449M63 469H89M76 465V474M70 464H82M76 459V469M72 428H80M76 422V434M69 445H84M76 441V448M65 448H88M76 445V451M65 448H88M77 443V453M73 467H80M77 460V473M67 450H87M77 447V453M66 472H89M77 466V479M70 440H85M77 437V444M66 442H89M78 436V447M67 477H88M78 473V480M70 435H86M78 429V442M64 450H92M78 444V455M74 464H82M78 457V471M73 430H83M78 426V434M72 473H84M78 467V480M67 463H91M79 458V468M69 441H88M79 437V446M67 442H90M79 440V445M66 430H92M79 426V434M69 470H88M79 466V474M65 469H93M79 464V474M70 447H88M79 442V452M73 431H86M79 426V436M76 449H83M79 443V454M70 443H89M80 437V449M71 448H88M80 444V452M67 467H93M80 462V472M75 469H84M80 466V471M65 474H95M80 469V480M76 477H84M80 471V483M67 474H93M80 468V480M72 427H89M81 422V433M73 435H88M81 432V439M74 443H88M81 439V447M69 429H93M81 425V434M72 450H91M81 444V456M74 464H89M81 460V468M69 432H95M82 429V436M77 463H88M82 458V467M72 439H93M82 434V444M70 429H95M82 423V434M73 447H92M83 443V452M78 477H87M83 470V483M71 466H95M83 463V468M74 441H93M83 436V446M76 426H90M83 422V430M78 444H89M83 439V449M71 475H96M83 469V480M79 472H88M84 470V475M77 440H91M84 437V443M75 466H93M84 460V473M70 449H99M84 444V455M75 442H94M84 437V448M71 424H99M85 419V429M80 475H91M85 468V481M72 425H99M85 421V429M77 472H95M86 466V477M80 463H93M86 457V468M77 442H96M86 438V447M81 442H92M87 439V446M76 426H97M87 424V428M79 430H95M87 424V436M75 465H99M87 462V468M81 437H93M87 430V443M81 432H95M88 426V437M81 473H95M88 468V478M78 466H99M88 463V469M82 441H96M89 435V447M82 436H98M90 434V438M80 439H100M90 435V442M85 434H95M90 431V438M82 426H98M90 419V432M78 466H103M90 463V470M80 436H101M90 429V443M81 479H101M91 474V484M81 425H101M91 420V430M82 464H101M91 459V468M79 445H103M91 440V450M86 482H96M91 478V487M84 463H100M92 456V470M87 427H98M92 425V430M87 448H98M92 444V452M87 442H98M92 439V446M82 440H103M92 434V445M80 443H105M92 437V449M87 475H99M93 472V478M86 465H101M94 459V470M90 448H98M94 444V452M91 450H97M94 444V457M83 478H106M94 474V481M85 448H104M94 445V452M84 480H105M94 478V483M87 427H102M94 424V429M91 474H99M95 468V481M81 432H109M95 426V438M88 433H101M95 428V439M91 478H99M95 474V483M86 420H105M95 415V426M87 464H104M96 460V467M83 423H108M96 419V428M91 479H100M96 476V482M85 466H106M96 463V469M86 439H106M96 432V446M88 482H104M96 478V486M90 448H102M96 445V451M82 472H111M96 469V476M83 435H110M97 432V437M90 474H105M97 467V481M83 464H112M97 458V470M85 472H110M97 470V475M94 472H101M97 465V479M93 432H102M98 430V434M95 474H102M98 468V480M85 474H112M99 469V478M96 437H102M99 435V440M86 448H112M99 443V453M95 436H103M99 431V441M94 451H105M99 446V455M91 483H108M99 479V487M90 448H109M99 442V453M88 471H112M100 467V474M96 421H104M100 416V427M91 450H109M100 445V456M62 465H138M100 453V477M69 485H132M100 474V496M64 483H137M100 461V505M89 442H112M100 437V447M93 439H109M101 433V445M94 480H107M101 476V484M92 443H110M101 438V449M78 475H124M101 466V483M88 479H115M101 473V485M81 463H122M101 445V481M95 434H108M102 428V439M94 477H110M102 475V480M99 473H106M103 466V479M97 476H108M103 473V478M99 420H107M103 416V423M88 471H118M103 467V476M72 474H135M104 463V486M98 447H109M104 441V453M95 469H112M104 464V475M94 482H113M104 479V484M65 471H142M104 454V487M96 477H112M104 474V480M95 449H114M104 445V453M93 436H116M104 433V438M96 476H113M104 469V482M98 426H111M105 421V432M72 475H138M105 460V489M76 488H134M105 469V507M100 433H110M105 428V438M96 479H115M105 460V498M94 485H117M105 479V491M100 471H111M106 466V476M76 468H136M106 459V477M94 438H118M106 435V441M103 435H110M106 433V437M81 487H132M106 467V508M100 447H113M107 444V450M67 486H146M107 465V507M96 472H119M108 467V477M95 464H120M108 453V475M69 469H147M108 444V493M100 432H116M108 427V436M94 470H122M108 468V472M103 449H115M109 446V452M77 471H140M109 460V481M96 485H121M109 482V488M102 450H118M110 446V454M105 475H115M110 469V482M89 446H131M110 422V471M96 442H124M110 432V452M78 447H142M110 434V461M91 421H129M110 401V441M73 450H148M110 437V464M99 418H122M110 413V423M75 422H147M111 406V438M97 416H126M112 392V439M101 447H123M112 443V452M91 482H133M112 463V500M100 421H123M112 411V431M105 466H119M112 460V472M106 419H118M112 412V425M102 443H123M113 440V446M106 466H120M113 461V470M101 437H125M113 432V441M103 493H124M114 478V507M107 472H121M114 467V477M106 440H123M114 433V446M94 468H135M114 461V476M91 429H140M115 422V436M108 463H123M115 458V468M107 434H124M115 430V437M110 432H122M116 426V439M83 433H151M117 411V456M105 422H131M118 420V425M111 416H125M118 411V422M113 439H124M118 436V442M113 417H125M119 413V422M81 430H158M120 415V445M110 472H130M120 470V475M115 442H127M121 439V445M115 421H128M121 417V424M113 473H130M122 468V479M115 445H129M122 440V449M107 412H137M122 409V415M111 471H134M122 468V473M119 442H126M122 438V445M108 448H137M122 444V452M119 464H126M122 461V467M94 436H153M123 421V450M90 413H157M124 399V427M112 445H136M124 426V464M112 476H136M124 466V487M107 414H142M125 403V425M105 409H145M125 394V425M121 442H130M125 435V449M122 428H129M125 422V434M113 482H138M126 476V489M114 465H138M126 462V469M111 471H141M126 468V475M117 474H135M126 470V478M121 419H131M126 416V422M112 482H141M127 479V484M120 420H134M127 414V426M102 447H153M127 428V465M115 448H141M128 444V452M113 468H145M129 455V482M125 442H133M129 436V449M121 464H138M129 459V468M116 426H144M130 418V433M112 416H148M130 398V434M126 449H134M130 446V452M125 450H135M130 448V452M127 447H135M131 443V452M122 427H140M131 424V430M121 448H141M131 441V455M121 469H141M131 466V472M118 484H145M132 480V489M123 434H143M133 421V448M125 420H142M133 416V424M106 474H161M134 457V490M131 411H137M134 408V414M105 499H165M135 494V505M118 471H154M136 460V482M119 510H154M137 493V526M116 497H160M138 489V505M121 436H159M140 422V450M119 496H163M141 482V509M124 475H159M141 453V498M107 447H178M143 438V456M131 479H158M145 463V496M111 469H179M145 447V492M126 448H164M145 442V455M124 494H168M146 482V506M130 438H164M147 427V449M111 417H190M151 397V437M144 403H165M155 392V414M127 429H185M156 423V435M123 474H191M157 468V480M124 472H190M157 453V490M132 493H183M157 474V511M149 429H166M158 412V445M138 423H180M159 400V447M151 415H176M164 409V421M142 440H188M165 433V447M156 383H176M166 363V403M145 430H192M168 409V451M145 504H192M169 497V511M141 504H214M177 489V518M159 496H200M180 471V521M157 427H202M180 403V451M155 493H208M181 471V516M150 417H227M188 393V442M167 434H212M190 409V459M184 408H221M203 383V434M178 421H253M216 404V438M208 389H232M220 379V399M207 427H248M227 403V450M200 421H258M229 398V444M203 515H297M250 493V537" stroke="#4d78ff" stroke-width="1" stroke-opacity="0.06" fill="none"/>
<path d="M51 467H67M59 466V468M52 446H66M59 444V448M56 469H64M60 468V470M57 468H63M60 466V469M56 469H64M60 467V471M56 469H66M61 467V471M56 470H66M61 469V471M55 467H68M61 466V469M55 443H68M61 441V444M53 445H70M61 443V446M59 469H65M62 468V470M56 442H70M63 439V445M58 445H68M63 443V446M60 446H66M63 444V449M57 442H69M63 439V444M59 441H68M64 439V443M58 447H72M65 444V450M57 467H73M65 465V470M59 440H71M65 437V443M60 443H71M66 440V445M54 439H78M66 437V441M60 436H73M66 431V441M59 450H74M67 445V456M63 463H71M67 457V469M58 442H76M67 440V444M53 450H81M67 446V454M54 465H79M67 461V468M60 463H73M67 458V468M60 468H74M67 463V473M61 466H73M67 462V470M64 451H70M67 448V454M62 472H72M67 469V475M61 466H74M68 459V473M60 443H75M68 437V449M59 474H78M68 468V480M56 470H80M68 465V476M56 463H80M68 457V469M56 471H81M68 469V473M63 469H74M68 465V474M59 466H78M69 464V468M61 473H76M69 466V480M64 474H74M69 468V479M64 441H74M69 438V443M64 448H74M69 443V453M56 470H82M69 463V476M66 440H72M69 435V444M57 476H82M70 471V481M66 433H73M70 426V440M63 441H76M70 434V447M55 434H85M70 428V439M62 446H78M70 444V449M57 442H84M70 437V446M61 474H80M70 472V477M57 434H84M70 428V440M58 450H83M71 446V454M68 435H74M71 432V437M67 473H75M71 466V480M67 470H75M71 466V473M59 447H83M71 444V450M67 477H75M71 472V482M58 439H85M71 437V442M66 468H78M72 462V474M58 471H86M72 466V477M66 469H78M72 463V475M63 474H81M72 471V478M65 473H79M72 471V475M67 463H78M72 457V470M66 438H79M73 433V443M69 442H76M73 440V444M62 451H83M73 444V457M68 445H77M73 442V449M70 439H76M73 436V441M64 451H82M73 446V455M65 469H81M73 462V475M66 434H81M73 429V438M59 463H88M74 457V469M61 436H87M74 431V441M66 451H82M74 447V454M59 447H88M74 442V452M62 447H86M74 445V449M59 450H89M74 446V454M60 477H89M74 471V482M61 439H87M74 434V444M66 450H83M75 447V452M69 447H80M75 442V452M64 430H85M75 424V436M71 475H80M75 468V482M63 433H88M75 426V440M66 444H85M76 441V447M71 448H80M76 445V451M68 445H84M76 440V450M66 473H86M76 468V478M72 467H80M76 461V473M63 473H90M76 468V479M66 437H87M76 433V440M64 477H90M77 474V480M64 437H90M77 433V440M64 470H91M77 466V475M68 450H87M77 444V457M72 464H83M78 461V468M71 466H84M78 463V470M70 447H86M78 441V453M64 431H92M78 427V435M69 470H87M78 464V476M66 442H90M78 438V446M72 447H85M78 443V450M72 471H84M78 467V476M66 472H91M78 467V477M75 448H82M79 442V454M72 451H86M79 445V456M72 445H86M79 440V450M66 464H92M79 460V469M69 466H90M80 462V470M67 444H92M80 441V446M74 473H86M80 466V480M67 470H93M80 465V475M76 442H83M80 436V448M68 426H93M80 420V432M68 434H92M80 430V437M72 450H89M80 444V457M71 441H90M80 436V447M66 436H95M80 430V442M77 428H84M80 425V431M73 444H89M81 439V450M68 463H94M81 458V468M73 464H90M81 457V471M68 469H95M81 465V473M71 439H91M81 436V442M68 473H95M81 469V477M74 444H89M81 441V446M70 449H94M82 445V453M76 451H88M82 448V454M70 472H94M82 468V475M78 477H87M82 472V481M72 463H93M82 457V470M78 440H87M82 437V443M76 450H89M83 446V453M78 436H87M83 431V440M79 442H86M83 436V449M78 464H88M83 460V469M71 477H96M83 475V479M80 447H87M83 441V452M70 429H97M83 422V435M78 431H90M84 427V435M78 448H90M84 441V455M80 433H88M84 427V440M70 434H98M84 429V440M79 449H90M84 447V452M81 444H88M84 439V449M81 436H88M85 432V440M71 479H99M85 474V484M80 478H91M85 473V482M79 437H92M85 432V443M78 464H93M85 458V471M78 424H92M85 418V430M80 447H91M86 444V450M76 473H95M86 468V478M71 464H101M86 458V470M77 428H95M86 425V431M76 436H96M86 430V442M77 464H96M86 461V468M73 424H100M86 419V429M76 471H97M86 468V474M76 481H97M86 474V487M78 436H95M87 430V442M72 474H101M87 467V481M80 437H93M87 434V440M77 471H97M87 468V474M75 441H98M87 438V444M74 463H100M87 457V468M79 467H95M87 461V472M75 450H99M87 447V454M74 450H101M87 445V455M80 473H95M88 468V479M75 466H101M88 460V472M82 481H96M89 475V487M78 450H100M89 447V452M82 445H96M89 443V447M77 465H102M90 462V467M76 474H103M90 470V477M83 424H97M90 418V431M86 426H93M90 423V429M82 437H98M90 432V441M81 442H100M90 439V446M83 449H99M91 446V451M78 444H104M91 441V447M85 427H97M91 424V430M81 442H101M91 436V448M80 472H103M92 469V476M81 450H103M92 448V452M80 434H105M92 430V439M81 464H104M93 459V468M84 441H101M93 436V446M80 423H106M93 420V426M81 463H105M93 460V465M88 469H98M93 465V473M88 450H98M93 445V455M85 445H102M93 440V450M82 472H106M94 467V477M85 473H102M94 467V479M81 450H107M94 445V455M82 476H107M95 471V480M85 468H105M95 463V472M90 431H100M95 429V433M84 449H106M95 445V454M90 475H101M95 472V478M84 447H108M96 443V451M92 425H99M96 419V431M90 466H102M96 464V469M83 425H110M96 421V428M93 450H100M96 447V453M85 442H107M96 440V444M91 422H103M97 415V429M89 437H106M98 431V442M94 475H102M98 470V480M88 420H108M98 418V422M90 464H106M98 459V470M90 466H107M99 461V472M88 446H110M99 439V453M92 477H106M99 472V482M91 425H107M99 421V429M93 451H106M99 445V456M94 467H106M100 461V472M86 477H114M100 474V480M70 466H130M100 452V479M95 423H105M100 421V426M96 480H104M100 477V482M87 483H113M100 480V485M67 468H134M100 445V491M94 480H107M101 473V486M77 480H124M101 469V492M88 434H114M101 430V437M95 481H108M101 476V486M74 479H129M101 464V495M66 484H137M101 473V494M66 481H137M102 467V494M96 449H107M102 446V451M98 477H105M102 472V483M87 425H117M102 420V431M92 469H113M102 466V471M83 477H123M103 470V484M67 477H138M103 461V494M95 426H110M103 420V433M91 447H114M103 441V453M97 471H108M103 466V475M90 464H116M103 458V470M91 435H115M103 431V439M84 469H123M103 450V488M91 474H116M103 467V480M95 478H111M103 475V480M92 422H115M103 418V427M97 434H110M104 428V441M100 426H108M104 420V433M89 445H119M104 442V449M89 447H119M104 443V451M95 480H115M105 473V486M93 440H118M105 435V445M95 477H116M105 471V484M96 464H115M105 462V466M97 465H116M106 463V468M75 479H138M107 457V501M99 428H114M107 423V434M100 463H115M107 459V467M100 450H114M107 443V456M98 433H117M107 427V439M95 463H120M107 460V466M103 451H112M107 446V455M96 450H119M108 444V456M94 441H122M108 437V445M98 466H118M108 460V472M105 438H112M108 436V440M102 473H115M109 467V479M101 420H116M109 414V426M97 484H121M109 478V491M105 447H114M110 444V450M97 483H122M110 478V489M96 434H124M110 430V437M78 451H143M110 438V464M105 483H116M111 480V486M107 424H115M111 418V430M104 472H120M112 468V476M76 414H148M112 398V430M88 467H137M113 451V484M98 467H127M113 464V470M91 446H135M113 424V469M78 484H149M113 478V491M110 448H117M114 442V455M99 450H128M114 445V455M110 433H118M114 427V440M105 478H123M114 474V482M102 439H126M114 433V445M105 443H125M115 433V453M100 465H131M115 458V471M108 422H123M116 417V427M97 430H135M116 411V449M99 446H134M117 421V471M104 441H129M117 437V444M104 482H130M117 480V485M110 441H123M117 438V444M111 467H124M117 462V472M111 430H123M117 427V433M109 417H126M117 415V420M106 436H128M117 429V443M102 438H133M118 422V453M106 429H129M118 425V432M105 475H130M118 472V477M105 432H134M119 406V458M113 437H127M120 435V440M114 487H128M121 482V491M116 414H125M121 408V420M112 421H130M121 416V427M105 485H137M121 472V498M109 446H134M122 441V451M94 414H152M123 388V440M108 466H138M123 459V473M115 464H131M123 459V468M117 414H131M124 410V418M118 482H129M124 476V487M115 439H134M125 436V441M118 470H133M126 464V475M107 419H145M126 412V427M121 422H133M127 419V426M110 491H146M128 481V500M122 443H136M129 440V446M115 487H143M129 475V498M119 488H139M129 484V492M98 482H161M130 470V495M123 418H137M130 408V429M118 416H142M130 413V420M122 441H139M131 437V444M123 439H140M131 422V456M103 430H162M132 406V454M108 408H158M133 382V434M119 481H147M133 475V488M125 467H142M133 459V474M126 433H144M135 428V439M112 431H166M139 426V436M122 513H157M140 505V520M133 424H152M143 411V437M119 406H169M144 394V417M136 394H156M146 382V406M129 488H163M146 479V496M136 505H158M147 492V517M139 436H156M147 413V459M126 444H170M148 429V458M112 501H186M149 486V516M126 429H172M149 419V439M122 439H181M151 433V445M134 417H171M152 411V422M144 478H165M154 473V484M148 483H161M154 478V488M137 440H172M155 430V449M147 382H171M159 367V397M123 412H198M160 401V423M149 507H173M161 492V522M139 469H190M164 462V475M156 380H176M166 360V400M155 405H190M173 387V423M156 473H214M185 452V495M171 428H211M191 405V451M187 439H231M209 428V451M194 417H226M210 400V435M197 430H233M215 412V449M213 423H240M227 400V445M199 438H260M229 416V460" stroke="#4d78ff" stroke-width="1" stroke-opacity="0.06" fill="none"/>
<path d="M50 445H66M58 442V448M49 467H67M58 464V469M55 445H65M60 442V447M52 469H68M60 467V471M52 444H69M60 443V445M52 447H69M61 445V449M56 444H66M61 442V446M56 467H68M62 466V468M57 447H68M63 445V449M55 468H72M64 466V471M57 440H74M65 438V442M58 472H73M65 469V475M60 444H71M65 442V446M57 470H74M66 467V473M59 443H73M66 441V445M63 471H69M66 470V472M57 465H76M66 461V469M63 471H70M66 468V474M53 466H80M67 463V470M60 434H74M67 430V438M62 433H73M67 427V440M55 435H80M67 432V438M55 434H81M68 428V440M58 469H78M68 466V472M60 470H76M68 466V473M63 472H74M69 470V475M54 445H83M69 442V447M62 463H76M69 459V468M65 432H73M69 429V435M64 448H75M69 445V450M65 437H74M69 431V444M56 445H83M69 439V451M62 450H77M69 448V453M64 443H75M69 437V449M59 470H81M70 465V476M65 435H75M70 431V438M61 451H79M70 444V457M64 472H76M70 466V478M64 445H77M70 439V451M65 434H76M71 428V440M59 463H83M71 459V467M60 435H82M71 429V442M62 449H80M71 445V453M67 439H75M71 433V446M60 472H82M71 468V476M66 470H77M71 466V473M60 472H84M72 469V476M67 463H77M72 460V466M65 466H79M72 463V470M59 468H86M72 465V472M62 447H83M72 445V450M64 464H82M73 460V468M65 466H81M73 462V469M63 474H83M73 471V477M62 432H85M73 428V436M68 463H78M73 460V466M58 450H88M73 445V456M69 438H78M73 433V442M68 447H79M73 442V452M70 447H77M74 444V451M68 447H79M74 441V452M65 466H83M74 460V472M65 443H82M74 439V446M70 465H78M74 461V469M70 472H78M74 468V476M64 440H85M74 437V444M60 475H89M75 469V481M65 477H84M75 471V483M67 449H82M75 444V454M71 466H79M75 461V470M62 430H88M75 424V436M60 469H89M75 466V471M65 469H85M75 464V474M71 443H79M75 440V447M62 449H88M75 446V452M64 449H88M76 443V455M65 464H87M76 458V469M64 438H88M76 434V442M67 450H86M76 444V456M64 463H90M77 457V468M68 442H85M77 439V444M66 438H88M77 436V440M73 448H81M77 443V454M73 437H81M77 430V443M66 476H88M77 471V482M66 475H88M77 470V479M71 449H83M77 442V456M69 428H86M77 424V433M65 472H90M77 466V477M69 444H86M78 442V446M66 467H90M78 462V472M74 449H81M78 445V454M68 438H88M78 433V442M66 443H90M78 439V447M69 440H88M78 434V447M71 434H86M78 429V439M73 433H84M78 426V439M74 478H83M78 474V483M72 440H85M78 433V447M64 472H94M79 465V478M74 476H84M79 473V478M65 442H93M79 439V445M67 444H91M79 439V450M67 431H91M79 428V434M68 443H90M79 437V450M71 463H88M79 459V467M74 463H85M79 457V469M72 471H87M79 466V476M74 449H86M80 445V453M76 475H84M80 469V481M66 473H95M80 470V476M75 468H86M80 463V473M76 472H85M80 465V479M75 438H86M81 432V444M71 440H91M81 433V446M69 463H93M81 459V467M70 427H92M81 423V431M71 470H92M81 465V476M69 474H94M81 471V476M71 429H92M82 426V432M72 441H92M82 439V443M72 443H93M83 437V449M79 469H86M83 467V472M71 464H95M83 460V467M78 476H88M83 469V482M72 472H94M83 465V478M79 464H88M83 458V470M71 435H97M84 431V439M70 449H99M84 446V452M71 424H98M85 417V430M72 438H98M85 435V441M70 467H100M85 462V471M73 473H98M86 467V480M80 463H92M86 457V469M75 467H97M86 463V472M83 468H90M86 462V474M77 442H96M87 436V449M83 433H92M87 427V440M84 464H92M88 462V467M78 448H98M88 442V455M81 445H95M88 442V449M80 436H97M89 431V442M81 465H97M89 463V467M81 472H98M89 468V476M76 428H102M89 422V434M86 432H93M89 428V436M78 440H101M90 437V442M81 439H99M90 435V443M76 465H105M90 460V470M84 480H96M90 473V487M80 465H101M90 461V469M87 466H94M90 464V469M81 463H99M90 458V468M79 426H102M91 421V431M79 463H102M91 460V465M80 446H102M91 443V449M86 438H97M91 435V441M81 437H102M92 433V440M85 434H99M92 430V438M88 480H96M92 473V486M86 472H98M92 470V474M80 445H104M92 439V451M86 431H99M92 425V437M85 463H100M92 459V467M79 443H106M93 437V449M78 441H107M93 437V445M85 464H101M93 457V470M84 428H103M93 425V431M85 465H102M93 463V468M83 475H104M94 471V480M84 423H103M94 419V427M82 442H106M94 436V449M84 466H105M94 464V469M91 466H99M95 461V471M83 450H107M95 447V453M82 467H109M95 461V473M81 467H110M95 462V473M84 420H107M95 417V422M82 478H109M95 474V482M91 430H100M96 424V435M87 481H105M96 478V483M88 481H103M96 474V487M91 438H101M96 433V443M84 432H108M96 428V437M93 468H99M96 466V471M83 445H110M97 441V449M86 434H107M97 429V438M88 438H106M97 433V442M91 450H102M97 445V456M86 466H109M97 462V470M92 433H103M97 428V439M94 469H101M98 463V475M92 446H104M98 441V450M86 439H111M98 436V443M85 484H113M99 481V486M95 475H105M100 470V479M63 473H137M100 464V481M68 477H132M100 467V487M89 440H112M100 437V443M86 478H114M100 474V482M78 471H122M100 456V487M88 433H112M100 427V439M87 433H113M100 428V438M91 464H110M100 458V470M65 463H136M100 439V488M96 467H105M100 463V471M78 487H123M101 475V498M96 419H105M101 414V425M96 440H106M101 434V446M96 438H106M101 434V442M89 444H114M101 440V448M94 423H109M101 417V429M97 484H106M102 479V489M93 442H111M102 437V446M95 430H110M103 428V433M89 446H117M103 441V451M95 425H110M103 421V428M91 441H115M103 438V444M95 472H111M103 465V479M99 437H108M103 435V439M100 463H108M104 459V467M66 473H142M104 451V495M95 483H113M104 477V489M100 464H108M104 462V466M96 463H112M104 456V469M90 437H119M104 432V443M95 421H115M105 415V426M101 476H110M105 469V482M96 418H115M106 414V422M98 475H115M106 473V477M96 431H116M106 428V435M96 482H117M106 479V486M99 471H113M106 465V478M99 449H114M106 445V454M88 471H125M107 451V490M101 467H113M107 464V469M93 420H121M107 416V424M94 418H121M107 414V423M97 465H118M108 461V468M99 486H117M108 481V491M103 465H114M109 461V470M99 418H120M109 416V420M105 482H113M109 478V486M98 447H121M109 442V452M103 446H116M110 442V450M97 432H123M110 429V435M72 447H148M110 432V462M83 431H137M110 412V449M94 433H126M110 411V455M100 416H120M110 401V431M89 435H132M110 419V451M92 449H129M110 432V466M107 468H114M111 462V474M100 423H122M111 400V447M99 432H124M111 425V439M97 464H126M111 458V469M89 478H134M111 455V500M100 439H124M112 432V446M101 421H124M112 416V425M100 466H126M113 463V468M109 433H117M113 430V437M79 430H147M113 422V438M84 420H142M113 396V444M102 474H125M113 470V477M106 438H122M114 432V444M107 415H121M114 408V421M105 474H124M114 470V477M111 446H118M114 440V453M79 420H151M115 412V428M109 422H122M115 419V425M108 434H122M115 431V437M102 475H129M115 456V494M103 466H128M116 460V471M113 465H119M116 458V471M103 448H128M116 443V453M110 475H122M116 468V482M112 425H121M116 421V428M109 425H123M116 421V429M102 483H131M116 476V490M109 449H125M117 443V455M111 421H122M117 415V427M105 434H128M117 431V438M110 480H124M117 474V486M107 441H128M117 437V445M102 438H132M117 429V447M111 444H124M117 437V450M93 424H142M118 399V449M114 440H122M118 433V447M109 446H127M118 441V450M107 437H130M118 434V440M105 446H132M119 440V452M107 485H132M120 470V500M105 499H135M120 484V514M107 470H133M120 465V476M102 475H137M120 468V482M109 484H130M120 478V491M108 425H132M120 422V429M113 426H128M120 422V431M102 465H140M121 457V473M107 425H134M121 418V432M113 439H129M121 432V445M112 463H130M121 458V467M113 440H130M122 436V443M111 448H133M122 444V451M109 440H135M122 436V444M117 449H130M123 443V455M115 468H132M124 464V472M117 479H132M124 475V484M112 431H137M124 429V433M121 431H128M124 428V434M124 431H133M128 424V438M116 435H141M129 428V441M108 469H149M129 455V483M112 478H146M129 464V492M107 431H150M129 414V447M118 426H143M130 416V435M123 417H138M130 414V419M102 467H160M131 449V484M106 468H158M132 452V485M120 444H145M132 442V446M121 473H144M132 456V491M121 424H144M133 420V428M124 481H145M135 477V485M125 431H144M135 428V434M124 490H146M135 482V498M121 443H150M135 426V460M123 413H149M136 406V420M112 402H162M137 376V427M106 430H173M139 421V439M111 431H168M140 414V449M130 474H151M140 459V488M113 475H169M141 464V486M105 498H178M141 472V523M127 489H159M143 484V495M123 466H163M143 460V472M128 472H160M144 459V484M137 489H155M146 472V505M137 413H155M146 397V429M134 409H159M147 396V421M129 487H166M147 474V500M124 473H175M150 459V488M134 480H165M150 467V492M134 420H168M151 404V436M130 411H174M152 388V433M137 443H176M156 428V458M148 503H165M157 479V526M134 426H179M157 416V437M141 400H174M157 385V416M134 398H185M159 374V422M128 474H193M161 464V483M139 433H184M161 419V447M137 436H191M164 427V444M150 433H181M165 419V448M154 397H177M166 389V406M135 422H198M166 406V439M164 502H190M177 477V527M165 405H196M181 395V414M160 403H209M184 380V426M155 428H220M188 419V437M157 435H221M189 420V450M167 430H219M193 418V441M174 416H251M212 405V428M202 429H230M216 413V446M203 433H237M220 423V444M190 430H253M222 418V443" stroke="#4d78ff" stroke-width="1" stroke-opacity="0.06" fill="none"/>
<path d="M51 444H68M59 442V447M56 468H63M59 465V470M53 445H66M60 444V447M55 467H65M60 465V468M51 446H69M60 444V448M54 446H67M61 445V448M53 446H68M61 444V447M55 446H67M61 443V448M53 468H71M62 466V469M55 445H71M63 444V446M55 469H71M63 467V471M60 467H67M64 465V469M55 469H73M64 467V471M60 445H70M65 443V446M61 444H68M65 442V446M57 471H73M65 470V473M60 445H70M65 443V448M59 467H72M65 465V469M58 471H73M65 468V473M62 467H69M66 466V469M55 466H78M66 462V471M57 467H76M67 460V473M54 450H79M67 446V454M56 464H78M67 459V468M56 447H79M67 440V454M61 465H74M67 458V472M54 474H81M67 472V476M64 446H71M68 443V450M62 464H73M68 461V467M63 433H73M68 430V435M62 445H74M68 443V448M54 444H82M68 437V451M60 433H78M69 428V437M60 451H77M69 447V455M59 435H79M69 429V441M64 448H74M69 444V453M59 432H80M69 429V435M57 444H81M69 437V451M55 447H85M70 441V453M60 442H79M70 436V448M65 468H75M70 465V472M58 438H82M70 435V441M56 470H84M70 467V474M56 469H84M70 464V473M62 444H79M70 442V446M60 434H80M70 431V436M64 441H77M70 436V447M61 450H81M71 444V456M68 431H74M71 428V433M60 471H82M71 467V475M59 441H83M71 437V445M65 464H78M71 461V467M58 464H85M71 459V468M59 437H84M71 431V443M67 474H76M72 467V481M64 465H80M72 463V468M62 473H81M72 469V477M70 445H76M73 442V448M66 471H80M73 468V475M67 444H78M73 440V448M61 442H84M73 436V447M66 451H80M73 444V458M63 442H83M73 437V446M62 463H84M73 461V465M68 439H78M73 436V442M67 442H79M73 439V445M60 450H86M73 447V452M67 474H79M73 469V479M63 436H84M73 429V442M69 467H78M73 465V470M69 441H79M74 439V444M63 448H85M74 442V454M67 436H81M74 431V441M67 468H82M74 461V474M61 450H88M74 443V456M64 474H84M74 470V478M65 468H84M74 462V475M65 466H85M75 460V472M70 450H79M75 447V453M62 442H88M75 439V446M67 465H83M75 460V471M61 477H89M75 472V482M66 474H84M75 467V480M63 476H87M75 472V479M67 430H85M76 424V436M72 465H80M76 458V471M72 466H80M76 461V471M70 474H82M76 470V477M64 434H88M76 430V438M72 476H81M77 472V480M63 444H90M77 442V446M68 446H86M77 442V451M63 447H91M77 440V454M74 468H80M77 463V472M64 431H91M77 425V437M70 463H85M77 459V466M73 477H82M77 472V483M74 436H81M77 432V439M69 463H86M78 461V466M64 449H92M78 443V454M65 446H90M78 444V449M67 477H89M78 471V483M64 432H92M78 426V437M75 471H81M78 469V473M64 450H93M78 448V452M75 428H82M78 424V432M72 467H85M79 462V472M67 447H90M79 440V454M71 440H87M79 434V446M69 441H89M79 438V444M74 464H84M79 459V469M75 471H84M79 468V475M74 446H85M79 443V448M67 450H93M80 446V454M72 437H89M80 435V440M76 441H84M80 436V445M66 477H95M80 473V480M76 439H84M80 436V443M72 451H89M81 448V454M77 472H85M81 469V475M68 476H94M81 471V481M78 468H85M81 462V475M74 464H88M81 462V466M77 427H85M81 424V429M78 436H85M81 432V441M70 434H94M82 430V437M70 471H93M82 468V475M75 448H92M83 442V453M80 446H87M84 442V450M78 466H90M84 461V471M77 474H90M84 472V477M75 443H93M84 437V448M74 463H94M84 457V469M75 473H94M85 470V476M73 438H97M85 431V444M78 449H92M85 443V456M78 479H92M85 472V485M71 471H99M85 466V476M81 468H89M85 465V471M74 471H96M85 467V475M78 446H92M85 443V450M82 475H89M85 469V482M82 427H89M86 422V433M79 478H92M86 475V482M80 446H92M86 441V452M80 477H92M86 470V483M74 466H98M86 460V472M83 469H90M86 464V474M73 471H100M86 468V474M80 468H93M86 465V470M82 449H92M87 442V455M80 426H94M87 420V432M80 478H94M87 471V484M76 471H98M87 469V474M79 463H95M87 457V469M74 439H101M87 434V444M76 446H100M88 442V450M75 424H101M88 418V430M78 428H98M88 425V432M81 433H95M88 431V436M81 440H96M89 438V443M74 481H103M89 477V484M76 439H102M89 436V442M81 464H97M89 461V466M76 431H102M89 426V436M74 426H104M89 422V431M79 446H100M90 444V448M86 473H93M90 468V478M80 450H100M90 445V454M84 471H95M90 465V478M83 441H97M90 438V445M87 464H94M90 459V469M85 444H96M91 440V448M80 475H102M91 468V481M80 430H103M91 427V434M87 449H95M91 444V454M77 472H105M91 468V476M88 469H95M92 465V473M80 473H103M92 471V475M78 450H105M92 447V454M88 449H95M92 444V453M87 471H97M92 468V473M89 432H95M92 429V436M85 466H99M92 461V470M87 476H97M92 470V482M88 471H97M92 465V476M87 445H98M92 443V447M86 433H99M92 430V436M87 445H98M92 442V447M85 475H102M93 469V481M90 430H96M93 424V436M80 466H107M93 461V472M88 464H100M94 461V466M81 443H106M94 441V445M80 446H108M94 444V448M82 433H106M94 427V439M89 441H99M94 438V443M91 465H98M94 458V472M86 449H103M95 444V454M85 471H105M95 467V475M82 464H110M96 457V471M89 467H102M96 463V471M87 434H105M96 429V440M86 477H106M96 471V483M85 431H107M96 427V435M90 434H102M96 432V437M84 473H109M97 466V480M90 419H103M97 413V425M88 429H106M97 425V433M88 473H106M97 470V475M84 478H110M97 473V482M89 473H106M97 468V478M86 463H108M97 461V465M84 420H111M98 417V423M92 449H104M98 443V455M84 437H112M98 430V444M83 465H113M98 458V472M90 426H107M98 422V431M86 446H111M98 439V453M94 427H103M99 422V432M87 436H111M99 432V440M95 437H103M99 432V443M92 447H107M99 442V452M95 466H105M100 463V468M89 428H110M100 422V434M93 464H107M100 462V466M93 431H107M100 424V437M81 479H119M100 469V488M92 444H108M100 438V450M87 447H113M100 443V451M96 418H105M100 413V424M90 476H110M100 470V482M92 472H109M100 453V492M87 475H113M100 451V498M92 418H109M101 412V425M69 464H133M101 456V472M87 480H117M102 478V482M91 439H113M102 434V444M91 466H113M102 462V470M88 477H116M102 473V482M73 471H132M102 462V479M94 481H110M102 477V485M92 465H113M103 461V469M93 481H112M103 478V485M96 433H110M103 427V439M88 483H118M103 478V489M97 421H109M103 416V425M100 442H107M103 437V446M93 436H114M104 432V440M94 427H114M104 422V432M86 488H122M104 462V513M92 476H116M104 474V479M94 463H115M105 460V466M90 417H119M105 414V420M90 480H119M105 477V483M94 450H117M106 444V457M92 443H119M106 441V445M102 419H109M106 415V423M94 480H118M106 476V484M102 465H110M106 458V471M93 437H119M106 431V443M95 416H118M106 412V421M93 438H122M107 435V440M99 478H115M107 472V483M96 451H119M107 444V458M105 429H111M108 425V433M101 431H115M108 428V433M100 421H118M109 416V425M103 479H116M110 476V482M103 472H117M110 469V475M100 440H121M110 425V455M101 466H119M110 463V468M89 433H132M110 414V452M94 420H127M110 398V442M73 421H148M110 412V429M104 437H118M111 430V444M77 487H145M111 480V495M105 471H117M111 468V475M102 438H120M111 432V443M83 439H139M111 430V448M100 467H122M111 462V473M98 439H125M112 413V464M103 438H121M112 432V443M92 418H132M112 407V429M100 413H125M112 394V432M81 416H146M113 406V427M109 471H118M113 466V476M99 492H128M113 468V516M108 472H119M114 467V478M105 485H123M114 480V489M100 433H130M115 427V440M109 439H122M115 433V444M104 444H127M116 438V449M109 421H123M116 417V425M112 447H121M116 441V453M109 485H124M116 480V489M110 423H123M116 418V427M107 448H127M117 441V455M107 473H127M117 457V489M112 440H122M117 436V444M110 480H125M118 476V485M103 449H132M118 445V453M103 441H132M118 430V452M111 467H128M119 464V470M109 438H132M120 433V442M114 444H126M120 441V447M109 446H132M120 441V452M111 433H131M121 426V440M112 441H130M121 434V447M120 412H128M124 408V416M108 406H141M124 390V422M113 417H135M124 413V421M105 427H144M125 404V451M120 435H130M125 431V439M114 487H137M125 480V493M110 422H141M126 400V445M112 467H141M126 461V472M116 463H137M126 456V469M121 448H132M127 442V453M114 436H141M128 412V461M121 474H136M129 469V479M123 467H135M129 464V470M125 470H133M129 465V476M104 418H156M130 412V425M108 481H151M130 470V493M125 430H136M131 428V433M124 473H137M131 471V476M103 466H162M132 452V479M95 504H170M133 495V513M104 480H163M134 465V496M104 508H164M134 491V524M105 482H165M135 472V491M96 428H176M136 404V453M108 409H164M136 402V417M128 441H147M137 437V446M109 495H167M138 478V511M123 432H153M138 422V441M128 421H150M139 414V427M125 447H154M140 438V455M125 414H156M140 397V430M121 431H162M141 421V441M114 483H170M142 468V499M120 495H165M143 476V514M118 423H168M143 411V435M120 430H167M143 418V443M124 513H163M144 491V535M134 499H156M145 486V512M109 408H181M145 395V422M138 430H153M145 423V436M136 376H164M150 346V406M118 428H186M152 418V438M131 406H178M154 392V420M129 397H183M156 386V408M141 430H177M159 417V444M139 442H181M160 426V458M135 444H185M160 437V452M146 432H177M161 425V440M134 418H199M167 396V440M145 504H192M169 478V530M161 430H178M170 423V437M156 414H185M171 404V424M146 502H197M172 490V513M176 413H213M195 402V425M201 431H227M214 421V441M194 422H245M219 404V441" stroke="#4d78ff" stroke-width="1" stroke-opacity="0.06" fill="none"/>
<path d="M53 445H63M58 442V448M51 467H66M58 465V468M54 446H63M58 444V448M50 467H67M59 465V470M53 445H64M59 443V446M54 444H66M60 441V446M51 446H69M60 444V448M56 445H65M60 444V446M56 447H70M63 445V448M56 445H72M64 443V447M57 441H71M64 439V443M60 470H69M64 468V472M58 447H71M64 444V449M58 443H72M65 442V444M57 470H74M65 469V471M61 446H69M65 444V447M61 443H70M65 442V444M62 442H69M65 440V445M57 441H74M65 439V444M57 467H75M66 464V470M62 450H71M67 448V453M54 473H80M67 471V475M55 441H78M67 439V444M55 471H79M67 467V475M64 444H70M67 438V449M59 450H75M67 447V453M53 474H81M67 470V477M53 463H81M67 456V469M53 468H81M67 462V474M61 437H74M67 431V443M57 465H78M67 461V469M55 447H80M67 445V450M62 467H74M68 462V471M58 448H78M68 442V453M63 471H74M69 467V476M63 473H75M69 469V476M55 464H82M69 461V467M58 467H79M69 462V473M62 432H76M69 426V438M65 447H73M69 441V454M55 442H83M69 439V444M57 447H81M69 443V451M61 473H77M69 469V476M60 432H78M69 428V436M61 435H77M69 433V437M55 467H83M69 464V471M64 472H75M69 468V475M57 443H82M69 441V446M58 444H81M69 441V447M62 448H77M69 443V453M59 468H79M69 464V473M62 471H77M70 467V474M66 439H73M70 433V446M65 450H74M70 444V456M64 471H76M70 469V473M60 433H80M70 428V438M67 470H73M70 466V474M57 470H84M70 466V475M67 471H74M70 464V477M63 447H79M71 442V453M59 444H82M71 442V447M61 469H81M71 466V471M65 436H78M71 431V441M67 444H76M71 438V450M63 451H80M71 444V457M59 440H85M72 436V444M59 448H85M72 444V452M65 440H79M72 435V444M59 463H85M72 458V469M58 431H86M72 424V437M61 474H84M72 468V480M67 467H78M73 463V471M62 448H84M73 441V455M58 430H88M73 427V434M68 473H78M73 468V478M65 430H80M73 425V436M64 465H81M73 459V470M59 470H87M73 465V474M67 447H79M73 441V452M65 471H81M73 464V478M64 440H83M74 436V443M63 444H85M74 438V449M69 438H80M74 432V444M64 440H84M74 437V444M69 476H80M74 471V481M60 445H89M75 441V448M63 475H86M75 470V481M71 468H78M75 465V470M63 464H86M75 460V469M64 470H86M75 465V475M70 434H80M75 431V437M66 431H84M75 426V435M68 445H82M75 440V450M68 450H83M76 446V454M64 435H87M76 432V438M68 446H83M76 443V449M61 447H90M76 444V450M65 477H86M76 471V484M66 436H86M76 432V440M67 434H86M76 431V438M65 444H87M76 439V450M66 470H87M77 464V477M73 469H80M77 465V473M62 472H91M77 466V479M69 476H85M77 469V482M67 435H87M77 430V440M69 444H85M77 439V449M72 447H82M77 440V453M65 446H90M77 443V448M71 428H84M78 425V430M70 477H85M78 472V482M73 477H83M78 472V483M64 447H92M78 444V449M73 429H83M78 426V431M70 471H85M78 468V475M73 430H83M78 425V434M71 448H86M78 446V451M72 441H85M78 438V445M67 433H90M78 430V436M66 466H91M78 461V472M68 464H88M78 462V466M71 472H86M79 465V478M69 439H89M79 434V444M69 439H89M79 433V445M71 436H87M79 429V442M70 441H89M79 438V444M74 479H85M80 477V481M66 464H93M80 460V469M75 464H85M80 460V468M67 469H93M80 465V473M77 475H83M80 471V478M76 430H85M80 427V434M74 430H87M81 426V434M75 465H87M81 460V469M71 470H92M81 464V477M73 440H89M81 434V446M74 441H89M81 438V445M70 479H92M81 473V485M74 445H89M81 440V450M74 433H89M81 430V436M67 467H96M82 464V469M69 468H95M82 465V471M75 430H89M82 427V434M74 426H89M82 422V429M77 446H87M82 441V451M78 477H86M82 474V480M73 450H91M82 448V453M72 426H93M82 419V433M72 470H92M82 466V473M78 445H86M82 438V451M78 471H87M82 466V477M76 433H88M82 431V436M72 431H92M82 428V435M73 470H92M82 464V476M77 439H88M83 436V442M74 470H92M83 467V472M78 473H87M83 466V480M79 463H87M83 460V465M78 475H88M83 470V480M71 479H95M83 473V486M78 463H89M83 460V466M71 446H96M83 442V451M77 463H90M83 460V465M73 474H94M84 471V477M73 428H94M84 424V431M80 450H88M84 447V454M70 446H99M84 443V449M75 435H94M84 432V439M72 450H97M85 444V456M72 471H98M85 465V477M77 476H93M85 473V478M78 478H93M85 474V482M76 439H95M86 433V444M78 479H94M86 474V485M76 441H96M86 437V446M80 433H93M86 427V439M81 428H91M86 424V431M72 435H101M86 429V442M78 467H95M87 464V470M75 439H98M87 436V442M77 479H97M87 477V482M75 463H99M87 459V468M76 443H99M87 438V448M82 434H93M87 429V439M82 442H93M88 436V448M81 464H95M88 461V467M74 472H102M88 468V475M79 432H97M88 428V436M77 466H99M88 460V472M83 464H93M88 460V468M77 479H100M89 477V481M76 468H101M89 465V472M85 436H93M89 433V440M75 450H103M89 444V457M78 431H100M89 428V434M75 435H104M89 431V438M86 448H93M89 445V451M83 446H96M90 443V450M80 449H100M90 442V456M79 466H100M90 463V469M80 433H100M90 430V436M83 441H97M90 437V445M76 475H104M90 471V479M86 476H95M90 472V481M76 429H105M91 424V434M80 447H102M91 442V452M86 443H96M91 438V447M84 476H98M91 470V482M77 445H106M91 443V448M87 473H97M92 469V478M88 435H96M92 431V439M84 464H100M92 461V468M88 472H97M92 466V478M87 469H98M92 463V475M81 469H106M93 464V475M87 440H100M93 435V444M90 476H97M94 471V482M90 442H99M94 440V445M90 431H99M95 425V438M92 463H98M95 456V470M82 432H108M95 430V434M85 443H105M95 438V448M92 469H99M95 467V471M82 424H109M96 420V428M82 447H110M96 444V450M83 437H108M96 433V441M92 449H100M96 447V451M82 440H110M96 435V445M90 463H104M97 459V466M90 466H105M97 462V470M86 478H111M98 473V482M90 430H107M99 427V434M68 471H132M100 460V482M86 427H114M100 423V431M94 441H107M100 437V446M87 482H114M100 474V490M78 478H123M101 459V498M95 484H107M101 481V486M92 435H110M101 431V440M70 475H132M101 455V495M81 483H122M101 475V490M91 470H112M101 464V476M89 471H114M101 466V476M95 445H108M102 439V450M88 471H115M102 464V478M98 482H106M102 476V488M92 390H112M102 376V404M96 463H108M102 458V468M63 472H141M102 461V483M90 465H115M102 458V471M96 443H109M103 440V446M95 447H111M103 441V453M95 473H111M103 466V479M98 463H108M103 458V469M73 486H133M103 476V496M98 419H109M103 416V422M95 475H112M104 472V478M98 464H110M104 457V470M95 448H114M104 442V455M97 421H112M105 415V427M93 428H116M105 423V433M93 466H118M105 464V468M96 430H115M105 428V432M97 434H114M105 429V438M94 463H117M106 461V466M102 477H110M106 470V483M94 430H118M106 425V434M99 463H114M106 460V466M100 479H113M107 476V483M96 438H118M107 434V442M102 475H112M107 471V479M79 487H137M108 480V494M99 489H117M108 467V512M103 463H113M108 458V469M98 426H118M108 423V429M93 484H123M108 461V508M103 481H115M109 476V486M104 486H113M109 480V492M86 466H134M110 452V479M85 423H135M110 403V443M72 440H148M110 429V451M94 419H126M110 408V429M101 484H119M110 480V489M84 421H137M111 410V432M105 450H117M111 446V454M96 420H126M111 418V422M106 432H117M111 427V438M92 418H131M112 405V432M88 418H135M112 395V440M104 464H120M112 457V470M107 426H118M112 423V428M106 481H120M113 475V488M108 481H118M113 477V484M105 419H122M113 414V424M107 478H120M114 475V482M104 474H124M114 472V476M104 470H124M114 466V473M106 428H123M115 411V446M100 483H129M115 480V487M107 445H123M115 425V465M102 486H129M115 483V489M104 486H127M116 481V492M78 423H153M116 402V444M79 465H153M116 454V476M101 485H131M116 483V487M108 450H127M117 448V453M103 417H133M118 396V438M115 446H124M119 439V452M82 479H156M119 458V500M111 464H129M120 459V468M113 418H128M121 413V422M116 422H125M121 420V424M104 438H138M121 420V456M114 447H128M121 442V453M112 438H131M121 432V445M112 485H133M122 480V490M87 478H159M123 462V495M109 416H138M123 412V421M109 419H139M124 413V425M121 443H130M125 437V449M122 438H130M126 435V441M122 451H130M126 445V456M116 436H138M127 429V443M118 445H138M128 442V447M125 418H133M129 413V422M99 435H160M129 424V446M108 487H153M130 474V499M120 473H143M131 468V477M120 421H144M132 414V427M116 408H148M132 396V419M129 463H135M132 457V469M124 466H141M133 459V472M119 428H148M133 416V440M124 444H144M134 438V451M124 442H144M134 429V454M105 481H165M135 466V496M116 463H154M135 450V475M113 432H159M136 417V447M131 447H144M138 444V450M129 426H148M138 424V428M122 445H155M139 438V453M110 494H170M140 481V508M104 544H184M144 520V568M107 478H181M144 466V491M132 440H161M147 431V448M130 472H165M147 451V494M133 491H164M149 465V516M126 415H178M152 407V423M121 423H187M154 414V432M133 438H175M154 428V447M142 427H171M156 416V437M124 433H194M159 425V440M143 447H177M160 432V462M150 399H170M160 384V414M139 481H186M163 468V493M137 402H191M164 376V427M156 386H176M166 366V406M152 406H209M181 391V421M165 441H208M187 417V464M177 442H206M191 435V449M174 441H215M195 418V464M184 392H212M198 382V402M186 416H226M206 392V441M207 425H233M220 414V436M204 425H241M222 405V445" stroke="#4d78ff" stroke-width="1" stroke-opacity="0.06" fill="none"/>
<path d="M54 468H63M58 466V470M55 466H64M59 464V469M52 446H67M60 443V448M55 467H66M60 466V468M53 468H68M61 466V471M56 443H67M61 440V446M55 470H68M61 467V473M57 445H67M62 442V447M56 468H69M62 466V470M55 446H70M62 443V448M56 469H71M63 466V472M57 470H73M65 468V472M57 470H75M66 468V472M59 472H72M66 470V474M57 470H76M66 467V473M54 464H79M66 461V467M57 446H76M66 440V452M58 445H75M67 442V447M58 436H75M67 434V438M61 443H72M67 437V449M54 464H80M67 457V471M62 451H72M67 447V454M61 444H73M67 438V450M63 465H72M67 461V470M58 468H76M67 464V472M64 473H71M67 469V476M53 443H82M68 440V446M61 438H74M68 434V442M60 449H76M68 442V455M59 442H77M68 440V445M54 440H82M68 437V443M64 449H73M68 447V452M58 436H79M68 433V439M65 468H72M69 463V472M63 446H74M69 440V452M64 472H73M69 466V479M56 463H81M69 459V467M60 447H78M69 444V450M59 466H79M69 464V468M56 464H82M69 461V467M60 434H78M69 427V441M62 435H77M69 430V439M64 465H75M69 458V472M57 464H82M70 459V469M63 435H76M70 431V439M65 464H75M70 459V468M63 437H77M70 431V444M67 465H74M71 460V469M61 433H80M71 429V438M60 434H82M71 428V441M63 433H79M71 429V437M61 441H82M71 436V446M59 467H83M71 462V471M62 470H81M72 465V476M67 432H77M72 426V439M66 465H78M72 460V470M66 474H79M73 469V480M67 439H78M73 433V444M67 466H79M73 460V472M59 468H87M73 464V472M64 450H82M73 447V454M65 463H81M73 460V465M62 432H84M73 430V435M63 474H83M73 471V477M64 475H83M73 473V478M59 467H87M73 461V473M65 448H81M73 442V454M67 469H80M74 465V472M61 438H87M74 432V443M67 440H83M75 434V446M65 463H85M75 459V467M68 477H83M75 474V481M65 435H86M76 431V439M69 433H83M76 430V436M72 466H80M76 461V471M66 467H87M76 461V473M67 449H86M77 444V454M70 466H84M77 461V470M73 431H81M77 424V437M73 449H82M77 446V451M66 470H88M77 464V477M63 435H92M77 431V439M65 448H90M78 443V453M69 469H87M78 467V471M74 430H82M78 425V434M67 464H89M78 460V468M75 466H82M78 462V469M72 434H84M78 430V439M72 465H85M78 458V471M66 450H91M78 445V454M75 450H83M79 443V456M76 446H82M79 441V451M74 433H84M79 426V440M64 469H94M79 466V472M66 434H93M79 431V438M69 465H90M79 460V470M73 431H86M80 425V438M68 442H91M80 438V447M66 449H93M80 445V454M68 463H92M80 460V467M74 448H86M80 441V454M71 426H89M80 423V429M72 451H88M80 444V457M69 447H92M80 440V453M65 477H95M80 474V479M76 468H85M81 464V473M73 467H88M81 462V472M70 469H92M81 462V475M72 471H90M81 468V474M77 425H86M81 421V430M76 463H86M81 461V465M77 438H86M81 435V441M69 470H93M81 467V474M68 440H95M81 433V446M74 463H89M81 460V466M70 440H93M82 437V444M74 449H90M82 442V456M77 439H87M82 433V446M69 432H96M82 425V439M76 475H89M82 471V480M79 468H86M82 465V471M79 448H86M83 445V450M68 447H97M83 442V453M79 477H86M83 470V484M70 447H96M83 442V453M73 429H93M83 424V434M79 476H88M83 474V478M69 439H98M84 435V443M75 434H92M84 431V437M69 442H98M84 439V445M71 440H96M84 438V442M70 428H98M84 424V432M80 465H88M84 459V470M70 471H98M84 469V473M79 444H90M84 438V451M79 440H90M84 435V445M80 443H89M85 438V448M71 476H98M85 473V478M71 463H99M85 461V465M74 442H96M85 440V444M72 433H98M85 426V440M75 424H96M85 420V427M71 449H100M86 444V454M80 449H92M86 443V455M75 436H97M86 434V438M81 433H91M86 426V439M76 438H97M86 435V442M72 446H101M87 442V450M73 464H100M87 460V469M80 468H93M87 463V472M81 480H92M87 477V482M73 469H102M87 463V475M84 469H91M87 465V472M74 473H101M87 468V479M79 478H96M87 475V480M82 448H93M88 443V453M80 470H95M88 467V472M74 446H101M88 441V450M78 441H99M88 435V446M74 477H103M88 473V481M74 468H103M89 463V472M84 463H94M89 460V467M83 478H95M89 475V481M77 443H101M89 436V449M76 431H102M89 425V437M76 471H103M89 466V477M78 475H101M89 470V479M78 471H101M90 467V474M76 473H103M90 467V479M76 424H103M90 420V429M81 427H98M90 422V431M78 468H101M90 462V475M84 450H96M90 443V457M84 469H97M91 462V475M85 481H96M91 478V484M87 476H95M91 474V479M81 471H101M91 464V477M84 450H98M91 447V452M78 470H105M91 464V476M77 449H106M91 446V452M84 427H99M92 424V431M83 437H100M92 433V440M77 468H107M92 465V471M87 425H98M92 421V429M86 451H98M92 444V457M82 436H104M93 432V440M89 464H97M93 458V471M82 439H104M93 437V442M83 480H103M93 474V486M89 470H99M94 464V477M81 482H108M95 476V488M82 425H108M95 420V431M85 476H105M95 471V480M89 427H102M95 421V433M88 430H105M96 424V437M89 474H103M96 467V480M83 468H109M96 462V474M90 430H103M96 428V433M90 427H103M96 421V432M85 467H108M97 460V474M85 473H109M97 468V478M90 463H104M97 456V469M91 445H105M98 440V449M87 470H109M98 468V472M85 470H111M98 463V477M85 443H112M98 439V448M89 421H108M99 418V425M92 479H105M99 472V486M86 446H112M99 444V449M88 476H110M99 474V479M91 436H107M99 430V441M87 423H112M100 418V428M85 432H114M100 430V434M85 436H114M100 430V443M89 446H111M100 442V451M88 474H112M100 467V481M86 478H114M100 466V491M63 474H137M100 450V497M91 441H109M100 438V443M63 478H137M100 459V497M91 475H111M101 469V482M63 476H138M101 465V487M93 476H110M101 471V481M90 442H113M102 436V449M90 437H114M102 434V440M96 422H108M102 415V428M90 435H115M102 431V440M90 436H116M103 430V442M100 443H106M103 438V449M92 473H114M103 469V477M89 450H118M103 447V453M101 422H108M104 415V429M90 440H120M105 433V446M101 450H109M105 448V452M101 448H109M105 442V454M95 484H115M105 478V490M97 432H113M105 429V435M92 421H119M105 415V427M91 420H120M105 418V423M97 436H114M106 433V438M97 470H116M106 467V474M101 475H112M107 468V482M100 463H114M107 458V469M87 469H127M107 451V487M100 473H114M107 471V476M98 439H117M107 434V444M94 483H121M108 476V489M80 484H136M108 477V491M100 483H116M108 480V485M101 437H116M108 430V443M102 451H115M108 444V457M100 434H117M109 428V439M102 422H115M109 416V428M79 481H139M109 461V501M105 438H113M109 434V441M99 419H119M109 416V422M103 468H116M110 465V471M98 415H122M110 411V419M99 482H121M110 469V495M94 439H126M110 424V453M90 418H131M110 392V444M99 469H122M110 462V475M83 422H137M110 410V434M75 470H145M110 445V494M106 434H115M110 429V440M97 473H124M110 469V477M78 431H143M110 424V437M97 422H124M111 418V426M89 421H132M111 414V428M99 482H123M111 476V488M97 443H125M111 436V449M100 465H123M111 461V469M84 434H139M112 423V445M101 475H122M112 468V481M97 475H127M112 473V478M105 435H119M112 432V437M107 444H118M113 438V451M103 422H122M113 419V425M96 423H129M113 405V440M76 423H149M113 408V438M110 418H117M113 413V423M109 419H118M113 413V425M100 415H127M114 410V420M100 483H128M114 479V487M77 423H153M115 415V432M101 464H129M115 458V471M106 438H123M115 431V445M111 423H119M115 418V429M93 484H138M115 471V497M110 441H124M117 435V447M112 463H122M117 459V467M110 428H125M117 423V433M110 442H125M118 435V448M113 451H123M118 445V456M112 432H125M118 429V435M108 480H129M119 474V487M110 434H127M119 428V440M110 475H130M120 470V480M104 419H137M121 396V442M108 443H133M121 440V447M110 439H132M121 434V445M108 418H134M121 416V421M85 433H158M122 420V445M116 450H129M122 445V455M119 433H126M122 431V436M116 464H131M123 459V468M118 440H129M124 434V445M102 436H147M124 419V453M101 469H148M125 445V492M99 408H151M125 384V432M120 475H131M125 470V480M115 431H137M126 429V434M116 427H135M126 424V429M107 489H145M126 467V510M113 463H140M127 458V469M119 490H135M127 480V499M113 468H143M128 462V474M107 448H152M130 442V454M100 407H159M130 392V421M106 425H154M130 414V436M122 489H138M130 485V493M117 414H144M130 408V420M116 439H146M131 433V445M122 528H142M132 514V542M119 432H144M132 429V436M102 482H162M132 471V494M124 466H141M132 460V471M125 470H140M133 454V486M113 485H154M133 468V502M118 412H149M134 402V422M125 389H145M135 374V404M128 493H145M137 478V508M112 482H163M138 468V496M124 494H153M139 485V503M125 426H156M140 418V434M130 435H152M141 427V444M123 403H160M142 396V409M133 445H152M143 430V461M123 489H168M146 474V503M124 513H172M148 490V535M127 498H172M149 486V510M112 471H189M151 445V497M124 428H182M153 417V439M146 446H164M155 431V460M128 408H185M157 395V422M120 421H194M157 406V437M143 424H175M159 413V435M147 420H173M160 415V425M128 433H194M161 424V442M144 444H179M161 437V450M135 406H190M162 394V419M155 416H173M164 405V427M149 434H181M165 422V447M155 438H178M167 418V458M134 493H203M168 481V505M139 424H198M168 401V447M152 498H202M177 492V504M171 406H194M182 389V424M174 434H228M201 421V448M168 436H245M207 424V448M181 419H241M211 395V443M195 425H227M211 417V432M188 439H240M214 415V462M202 420H249M226 411V429" stroke="#4d78ff" stroke-width="1" stroke-opacity="0.06" fill="none"/>
<path d="M57.5 447.0L57.5 443.5L60.0 440.5L63.0 439.0L66.8 438.3L66.8 447.0Z" fill="#2a5ef6"/>
<path d="M57.5 466.0L57.5 469.0L60.0 471.3L63.0 472.5L66.8 473.2L66.8 466.0Z" fill="#2a5ef6"/>
<path transform="scale(0.5)" d="M0 0m133 883h0m0 4h0m0 9h0m0 1h0m0 34h0m0 2h0m0 9h0m0 0h0m1-75h0m0 1h0m0 12h0m0 20h0m0 1h0m0 39h0m0 8h0m0 2h0m1-55h0m0 5h0m0 30h0m1-61h0m0 64h0m0 6h0m0 4h0m1-8h0m0 3h0m0 2h0m0 3h0m0 2h0m1-81h0m0 0h0m0 23h0m0 2h0m0 6h0m0 32h0m0 17h0m1-65h0m0 6h0m0 1h0m0 4h0m0 51h0m1-76h0m0 27h0m0 7h0m0 2h0m0 38h0m0 7h0m0 4h0m1-83h0m0 22h0m0 52h0m0 0h0m1-43h0m0 28h0m1-47h0m0 9h0m0 13h0m0 38h0m0 5h0m1-76h0m0 4h0m0 8h0m0 15h0m0 32h0m0 6h0m0 4h0m0 8h0m1-17h0m0 6h0m0 14h0m1-84h0m0 61h0m0 4h0m0 2h0m0 8h0m0 9h0m0 0h0m1-72h0m0 17h0m0 0h0m0 2h0m0 38h0m1-71h0m0 14h0m0 9h0m0 45h0m0 2h0m1-65h0m0 5h0m0 9h0m0 9h0m0 60h0m0 2h0m0 2h0m1-94h0m0 2h0m0 24h0m0 5h0m0 38h0m0 2h0m0 19h0m1-80h0m0 5h0m0 6h0m0 11h0m0 3h0m0 5h0m0 28h0m1-71h0m0 12h0m0 20h0m0 2h0m0 7h0m0 29h0m0 2h0m1 9h0m1-65h0m0 10h0m0 5h0m0 12h0m0 45h0m0 8h0m1-97h0m0 0h0m0 43h0m0 35h0m0 9h0m0 11h0m1-94h0m0 15h0m0 25h0m0 27h0m0 26h0m1-88h0m0 3h0m0 12h0m0 3h0m0 0h0m0 14h0m0 30h0m0 6h0m0 10h0m1-80h0m0 8h0m0 7h0m0 4h0m0 5h0m0 2h0m0 5h0m0 32h0m0 14h0m1-54h0m0 48h0m0 8h0m0 15h0m1-59h0m0 30h0m0 19h0m0 3h0m1-89h0m0 15h0m0 60h0m1-82h0m0 6h0m0 23h0m0 43h0m1-37h0m0 39h0m0 5h0m1-82h0m0 10h0m0 6h0m0 14h0m0 11h0m0 9h0m1-44h0m0 6h0m0 14h0m0 9h0m0 9h0m0 32h0m0 4h0m0 22h0m1-71h0m0 69h0m0 8h0m1-66h0m0 56h0m1-69h0m0 52h0m1-62h0m0 28h0m0 2h0m1 52h0m1-102h0m0 83h0m0 14h0m0 2h0m0 7h0m1 3h0m1-107h0m0 18h0m0 15h0m0 0h0m0 41h0m0 8h0m1-7h0m0 3h0m0 29h0m2-95h0m0 27h0m0 6h0m0 31h0m0 0h0m0 18h0m1-10h0m1-63h0m0 9h0m0 19h0m0 28h0m1-64h0m0 4h0m0 10h0m0 16h0m0 2h0m1-31h0m0 11h0m0 1h0m1-26h0m0 81h0m0 0h0m0 17h0m0 3h0m1-62h0m1-1h0m0 37h0m0 19h0m1-50h0m0 30h0m0 33h0m1-97h0m0 23h0m0 5h0m0 48h0m0 6h0m2-88h0m0 23h0m0 50h0m0 21h0m0 1h0m0 2h0m1-108h0m0 51h0m1-43h0m0 32h0m0 64h0m0 12h0m1-96h0m0 20h0m0 41h0m0 31h0m1-116h0m0 7h0m0 26h0m0 19h0m0 40h0m0 23h0m0 5h0m1-96h0m0 11h0m0 4h0m0 18h0m1-29h0m0 68h0m0 8h0m1-70h0m0 26h0m0 47h0m1-81h0m0 64h0m0 14h0m1-54h0m1 56h0m0 1h0m1-76h0m0 3h0m0 26h0m1-6h0m0 71h0m1-123h0m0 37h0m0 21h0m0 40h0m0 8h0m0 5h0m0 11h0m1-81h0m0 43h0m0 43h0m1-131h0m0 32h0m0 5h0m1 13h0m0 37h0m0 13h0m0 3h0m0 23h0m0 3h0m1-101h0m0 59h0m0 18h0m0 10h0m0 10h0m1-78h0m1-47h0m0 55h0m0 51h0m1-20h0m0 13h0m0 6h0m0 2h0m0 3h0m0 1h0m0 16h0m1-94h0m0 26h0m0 27h0m0 2h0m0 0h0m0 27h0m1-112h0m0 33h0m1 77h0m0 24h0m1-116h0m0 7h0m0 60h0m0 5h0m0 4h0m0 17h0m0 6h0m1-100h0m1 12h0m0 55h0m0 33h0m0 14h0m1-40h0m0 9h0m1-66h0m0 53h0m0 21h0m1-98h0m0 85h0m0 3h0m0 32h0m1-73h0m0 42h0m1-105h0m0 135h0m1-78h0m0 1h0m1-62h0m0 48h0m0 3h0m0 17h0m0 31h0m0 20h0m1-81h0m0 28h0m0 71h0m1-69h0m0 36h0m1-105h0m0 33h0m0 0h0m1-27h0m0 5h0m0 36h0m0 49h0m0 4h0m2-90h0m0 19h0m0 7h0m0 94h0m0 1h0m1-5h0m1-81h0m1-20h0m0 37h0m0 44h0m0 2h0m0 8h0m1-107h0m1 7h0m0 82h0m0 3h0m1-37h0m0 55h0m1-107h0m0 22h0m1 12h0m0 24h0m0 58h0m1-72h0m1-54h0m0 0h0m0 15h0m0 32h0m1 12h0m1-57h0m1 26h0m0 30h0m0 36h0m0 23h0m0 7h0m1-106h0m0 94h0m1-110h0m0 10h0m0 85h0m1-80h0m0 25h0m0 2h0m0 7h0m1-7h0m1-53h0m0 56h0m0 9h0m0 52h0m1-45h0m1-25h0m1 66h0m1-111h0m0 12h0m0 24h0m0 28h0m1-62h0m0 34h0m0 91h0m1-134h0m1 37h0m1 45h0m0 29h0m0 13h0m1-105h0m1 55h0m0 70h0m2-66h0m2-61h0m0 25h0m0 24h0m2-34h0m0 46h0m0 3h0m0 74h0m2-36h0m1 7h0m1-104h0m1 105h0m1-98h0m0 83h0m1 16h0m2-124h0m0 60h0m0 79h0m1 0h0m0 37h0m2-173h0m0 116h0m1-78h0m2 30h0m2-42h0m2 8h0m1 12h0m0 75h0m0 41h0m2-38h0m0 41h0m1-40h0m3 28h0m1 110h0m2-130h0m1-62h0m2-70h0m0 150h0m0 10h0m1-169h0m1 57h0m0 5h0m1 94h0m5-15h0m1-126h0m7 13h0m2-41h0m4 181h0m1-186h0m5-2h0m1 149h0m2-80h0m2 95h0m2-131h0m1 40h0m1-68h0m1 77h0m1-86h0m0 73h0m1-95h0m1 73h0m4 15h0m17 144h0m7-192h0m8-5h0m8 28h0m10 24h0m3 24h0m6-99h0m16 49h0m28-55h0m0 73h0m1 16h0m2-6h0m2-11h0m10 4h0m4-12h0m41 187h0" stroke="#ffffff" stroke-width="5.8" stroke-linecap="round" fill="none" stroke-opacity="0.4"/>
<path transform="scale(0.5)" d="M0 0m133 883h0m0 4h0m0 9h0m0 1h0m0 34h0m0 2h0m0 9h0m0 0h0m1-75h0m0 1h0m0 12h0m0 20h0m0 1h0m0 39h0m0 8h0m0 2h0m1-55h0m0 5h0m0 30h0m1-61h0m0 64h0m0 6h0m0 4h0m1-8h0m0 3h0m0 2h0m0 3h0m0 2h0m1-81h0m0 0h0m0 23h0m0 2h0m0 6h0m0 32h0m0 17h0m1-65h0m0 6h0m0 1h0m0 4h0m0 51h0m1-76h0m0 27h0m0 7h0m0 2h0m0 38h0m0 7h0m0 4h0m1-83h0m0 22h0m0 52h0m0 0h0m1-43h0m0 28h0m1-47h0m0 9h0m0 13h0m0 38h0m0 5h0m1-76h0m0 4h0m0 8h0m0 15h0m0 32h0m0 6h0m0 4h0m0 8h0m1-17h0m0 6h0m0 14h0m1-84h0m0 61h0m0 4h0m0 2h0m0 8h0m0 9h0m0 0h0m1-72h0m0 17h0m0 0h0m0 2h0m0 38h0m1-71h0m0 14h0m0 9h0m0 45h0m0 2h0m1-65h0m0 5h0m0 9h0m0 9h0m0 60h0m0 2h0m0 2h0m1-94h0m0 2h0m0 24h0m0 5h0m0 38h0m0 2h0m0 19h0m1-80h0m0 5h0m0 6h0m0 11h0m0 3h0m0 5h0m0 28h0m1-71h0m0 12h0m0 20h0m0 2h0m0 7h0m0 29h0m0 2h0m1 9h0m1-65h0m0 10h0m0 5h0m0 12h0m0 45h0m0 8h0m1-97h0m0 0h0m0 43h0m0 35h0m0 9h0m0 11h0m1-94h0m0 15h0m0 25h0m0 27h0m0 26h0m1-88h0m0 3h0m0 12h0m0 3h0m0 0h0m0 14h0m0 30h0m0 6h0m0 10h0m1-80h0m0 8h0m0 7h0m0 4h0m0 5h0m0 2h0m0 5h0m0 32h0m0 14h0m1-54h0m0 48h0m0 8h0m0 15h0m1-59h0m0 30h0m0 19h0m0 3h0m1-89h0m0 15h0m0 60h0m1-82h0m0 6h0m0 23h0m0 43h0m1-37h0m0 39h0m0 5h0m1-82h0m0 10h0m0 6h0m0 14h0m0 11h0m0 9h0m1-44h0m0 6h0m0 14h0m0 9h0m0 9h0m0 32h0m0 4h0m0 22h0m1-71h0m0 69h0m0 8h0m1-66h0m0 56h0m1-69h0m0 52h0m1-62h0m0 28h0m0 2h0m1 52h0m1-102h0m0 83h0m0 14h0m0 2h0m0 7h0m1 3h0m1-107h0m0 18h0m0 15h0m0 0h0m0 41h0m0 8h0m1-7h0m0 3h0m0 29h0m2-95h0m0 27h0m0 6h0m0 31h0m0 0h0m0 18h0m1-10h0m1-63h0m0 9h0m0 19h0m0 28h0m1-64h0m0 4h0m0 10h0m0 16h0m0 2h0m1-31h0m0 11h0m0 1h0m1-26h0m0 81h0m0 0h0m0 17h0m0 3h0m1-62h0m1-1h0m0 37h0m0 19h0m1-50h0m0 30h0m0 33h0m1-97h0m0 23h0m0 5h0m0 48h0m0 6h0m2-88h0m0 23h0m0 50h0m0 21h0m0 1h0m0 2h0m1-108h0m0 51h0m1-43h0m0 32h0m0 64h0m0 12h0m1-96h0m0 20h0m0 41h0m0 31h0m1-116h0m0 7h0m0 26h0m0 19h0m0 40h0m0 23h0m0 5h0m1-96h0m0 11h0m0 4h0m0 18h0m1-29h0m0 68h0m0 8h0m1-70h0m0 26h0m0 47h0m1-81h0m0 64h0m0 14h0m1-54h0m1 56h0m0 1h0m1-76h0m0 3h0m0 26h0m1-6h0m0 71h0m1-123h0m0 37h0m0 21h0m0 40h0m0 8h0m0 5h0m0 11h0m1-81h0m0 43h0m0 43h0m1-131h0m0 32h0m0 5h0m1 13h0m0 37h0m0 13h0m0 3h0m0 23h0m0 3h0m1-101h0m0 59h0m0 18h0m0 10h0m0 10h0m1-78h0m1-47h0m0 55h0m0 51h0m1-20h0m0 13h0m0 6h0m0 2h0m0 3h0m0 1h0m0 16h0m1-94h0m0 26h0m0 27h0m0 2h0m0 0h0m0 27h0m1-112h0m0 33h0m1 77h0m0 24h0m1-116h0m0 7h0m0 60h0m0 5h0m0 4h0m0 17h0m0 6h0m1-100h0m1 12h0m0 55h0m0 33h0m0 14h0m1-40h0m0 9h0m1-66h0m0 53h0m0 21h0m1-98h0m0 85h0m0 3h0m0 32h0m1-73h0m0 42h0m1-105h0m0 135h0m1-78h0m0 1h0m1-62h0m0 48h0m0 3h0m0 17h0m0 31h0m0 20h0m1-81h0m0 28h0m0 71h0m1-69h0m0 36h0m1-105h0m0 33h0m0 0h0m1-27h0m0 5h0m0 36h0m0 49h0m0 4h0m2-90h0m0 19h0m0 7h0m0 94h0m0 1h0m1-5h0m1-81h0m1-20h0m0 37h0m0 44h0m0 2h0m0 8h0m1-107h0m1 7h0m0 82h0m0 3h0m1-37h0m0 55h0m1-107h0m0 22h0m1 12h0m0 24h0m0 58h0m1-72h0m1-54h0m0 0h0m0 15h0m0 32h0m1 12h0m1-57h0m1 26h0m0 30h0m0 36h0m0 23h0m0 7h0m1-106h0m0 94h0m1-110h0m0 10h0m0 85h0m1-80h0m0 25h0m0 2h0m0 7h0m1-7h0m1-53h0m0 56h0m0 9h0m0 52h0m1-45h0m1-25h0m1 66h0m1-111h0m0 12h0m0 24h0m0 28h0m1-62h0m0 34h0m0 91h0m1-134h0m1 37h0m1 45h0m0 29h0m0 13h0m1-105h0m1 55h0m0 70h0m2-66h0m2-61h0m0 25h0m0 24h0m2-34h0m0 46h0m0 3h0m0 74h0m2-36h0m1 7h0m1-104h0m1 105h0m1-98h0m0 83h0m1 16h0m2-124h0m0 60h0m0 79h0m1 0h0m0 37h0m2-173h0m0 116h0m1-78h0m2 30h0m2-42h0m2 8h0m1 12h0m0 75h0m0 41h0m2-38h0m0 41h0m1-40h0m3 28h0m1 110h0m2-130h0m1-62h0m2-70h0m0 150h0m0 10h0m1-169h0m1 57h0m0 5h0m1 94h0m5-15h0m1-126h0m7 13h0m2-41h0m4 181h0m1-186h0m5-2h0m1 149h0m2-80h0m2 95h0m2-131h0m1 40h0m1-68h0m1 77h0m1-86h0m0 73h0m1-95h0m1 73h0m4 15h0m17 144h0m7-192h0m8-5h0m8 28h0m10 24h0m3 24h0m6-99h0m16 49h0m28-55h0m0 73h0m1 16h0m2-6h0m2-11h0m10 4h0m4-12h0m41 187h0" stroke="#2158f6" stroke-width="4.6" stroke-linecap="round" fill="none"/>
<path transform="scale(0.5)" d="M0 0m133 872h0m0 0h0m0 5h0m0 23h0m0 27h0m0 5h0m0 1h0m1-47h0m0 3h0m0 12h0m0 24h0m0 6h0m0 1h0m1-46h0m0 7h0m0 1h0m0 34h0m0 8h0m0 10h0m1-80h0m0 19h0m0 3h0m0 3h0m0 35h0m0 15h0m1-76h0m0 4h0m0 23h0m0 7h0m0 27h0m0 6h0m0 10h0m1-61h0m0 46h0m0 5h0m0 15h0m1-81h0m0 4h0m0 0h0m0 9h0m0 2h0m0 6h0m0 7h0m1-26h0m0 59h0m1-60h0m0 8h0m0 7h0m0 1h0m0 16h0m0 1h0m0 29h0m1-67h0m0 4h0m0 3h0m0 13h0m0 12h0m0 39h0m0 9h0m1-77h0m0 9h0m1 65h0m0 3h0m0 4h0m0 3h0m1-72h0m0 7h0m0 6h0m0 11h0m0 29h0m0 2h0m0 3h0m0 14h0m1-84h0m0 13h0m0 6h0m0 17h0m0 0h0m0 25h0m0 11h0m0 5h0m0 6h0m0 0h0m0 2h0m1-78h0m0 24h0m0 5h0m0 34h0m1-52h0m0 52h0m0 19h0m1-55h0m0 38h0m1-77h0m0 25h0m0 15h0m0 54h0m1-88h0m0 85h0m1-85h0m0 1h0m0 62h0m0 3h0m0 2h0m0 12h0m1 1h0m0 6h0m1-92h0m0 13h0m0 19h0m0 2h0m0 37h0m0 4h0m0 18h0m1-84h0m0 1h0m0 24h0m0 3h0m0 43h0m0 14h0m1-96h0m0 3h0m0 35h0m0 29h0m0 12h0m0 2h0m0 2h0m0 12h0m1-97h0m0 37h0m0 2h0m0 4h0m0 0h0m0 1h0m0 28h0m0 4h0m0 10h0m1-77h0m0 2h0m0 22h0m0 37h0m0 2h0m1-38h0m0 39h0m0 2h0m1-80h0m0 29h0m0 15h0m0 4h0m0 27h0m0 20h0m1-69h0m0 5h0m0 6h0m0 4h0m0 7h0m0 34h0m0 3h0m0 0h0m1-11h0m0 0h0m0 11h0m0 3h0m0 2h0m0 11h0m1-99h0m0 24h0m0 2h0m0 66h0m1-68h0m0 20h0m0 45h0m1-79h0m0 7h0m0 29h0m0 36h0m0 15h0m1-66h0m0 10h0m0 1h0m0 0h0m0 33h0m1-61h0m0 10h0m0 6h0m0 8h0m0 57h0m0 3h0m0 2h0m1-68h0m0 2h0m0 1h0m0 10h0m0 28h0m0 16h0m1-71h0m0 8h0m0 6h0m0 60h0m1-47h0m0 27h0m0 31h0m0 1h0m1-110h0m0 7h0m0 38h0m0 4h0m0 49h0m0 5h0m0 6h0m1-101h0m0 9h0m0 6h0m0 1h0m0 57h0m0 3h0m1-60h0m0 2h0m0 3h0m0 15h0m0 5h0m0 39h0m0 0h0m0 12h0m1-96h0m0 47h0m0 26h0m0 1h0m0 12h0m0 4h0m0 1h0m0 12h0m1-77h0m0 59h0m0 10h0m1-91h0m0 25h0m1 0h0m0 73h0m0 7h0m1-108h0m0 25h0m0 49h0m0 8h0m0 27h0m1-114h0m0 1h0m0 2h0m0 11h0m0 23h0m0 7h0m0 37h0m0 8h0m0 6h0m0 3h0m0 9h0m1-82h0m0 26h0m1 29h0m0 9h0m0 26h0m1-102h0m0 23h0m0 57h0m1-87h0m0 44h0m0 0h0m0 46h0m0 2h0m1-96h0m0 15h0m0 36h0m0 51h0m1-70h0m1-10h0m0 28h0m0 25h0m0 4h0m0 9h0m0 12h0m1-64h0m0 42h0m0 4h0m1 11h0m0 3h0m1-3h0m1-8h0m1-1h0m1-84h0m0 10h0m0 1h0m0 8h0m1-16h0m0 31h0m1-26h0m0 87h0m1-105h0m0 49h0m0 37h0m1-87h0m0 35h0m0 24h0m0 42h0m0 10h0m1-97h0m0 34h0m0 5h0m0 40h0m1-83h0m0 104h0m1-82h0m0 23h0m0 7h0m0 32h0m1-96h0m0 9h0m0 85h0m0 16h0m0 1h0m0 6h0m0 2h0m1-11h0m0 16h0m0 5h0m1-98h0m0 94h0m1-65h0m0 55h0m0 3h0m0 3h0m0 2h0m0 2h0m1-88h0m0 58h0m0 10h0m1-89h0m0 18h0m0 1h0m0 15h0m0 43h0m0 25h0m0 8h0m0 0h0m1-97h0m0 72h0m0 3h0m0 5h0m1-102h0m0 9h0m0 30h0m0 73h0m1-111h0m0 8h0m0 41h0m0 81h0m1-141h0m0 45h0m1 17h0m0 63h0m1-95h0m0 36h0m0 55h0m1-117h0m0 34h0m0 2h0m0 56h0m0 0h0m0 30h0m1-19h0m1-84h0m0 42h0m0 27h0m0 30h0m0 1h0m1-79h0m0 23h0m1-39h0m0 103h0m0 3h0m1-92h0m0 56h0m1 30h0m1-26h0m1-91h0m0 22h0m0 26h0m0 38h0m0 8h0m0 19h0m0 6h0m0 3h0m1-128h0m0 5h0m0 25h0m0 78h0m1-99h0m0 30h0m0 97h0m1-98h0m0 8h0m0 64h0m1-122h0m0 48h0m0 69h0m1-108h0m0 9h0m0 44h0m1-53h0m0 10h0m0 46h0m1-62h0m0 66h0m0 47h0m0 2h0m0 24h0m0 15h0m1-106h0m0 22h0m0 55h0m0 10h0m1-118h0m0 29h0m1 11h0m0 42h0m1-84h0m0 32h0m1-35h0m1 3h0m0 124h0m1-87h0m0 83h0m1-130h0m0 37h0m0 3h0m1 26h0m0 49h0m1 10h0m1-92h0m1-4h0m2-26h0m0 55h0m1-56h0m0 45h0m1-16h0m5-37h0m0 134h0m1-150h0m0 21h0m0 21h0m1-39h0m0 61h0m0 96h0m1-128h0m0 18h0m0 76h0m1-86h0m0 80h0m1-6h0m1-82h0m0 50h0m2 41h0m0 45h0m1-33h0m1-8h0m1 25h0m1-128h0m0 0h0m0 13h0m0 112h0m0 16h0m1-151h0m0 54h0m4-22h0m0 82h0m1-125h0m3 199h0m1-149h0m7 122h0m1-146h0m7 49h0m0 99h0m1-144h0m1 15h0m1-50h0m2 6h0m1 42h0m8 137h0m2-243h0m4 80h0m1 23h0m3-44h0m0 67h0m0 86h0m3-171h0m2 49h0m4 5h0m3 166h0m1-149h0m0 1h0m1 21h0m1-74h0m4 18h0m4-71h0m1 116h0m4 131h0m3-147h0m5-50h0m10 187h0m34-170h0m29 52h0m1-44h0m3 14h0m29-9h0m3 5h0m5 32h0" stroke="#ffffff" stroke-width="5.8" stroke-linecap="round" fill="none" stroke-opacity="0.4"/>
<path transform="scale(0.5)" d="M0 0m133 872h0m0 0h0m0 5h0m0 23h0m0 27h0m0 5h0m0 1h0m1-47h0m0 3h0m0 12h0m0 24h0m0 6h0m0 1h0m1-46h0m0 7h0m0 1h0m0 34h0m0 8h0m0 10h0m1-80h0m0 19h0m0 3h0m0 3h0m0 35h0m0 15h0m1-76h0m0 4h0m0 23h0m0 7h0m0 27h0m0 6h0m0 10h0m1-61h0m0 46h0m0 5h0m0 15h0m1-81h0m0 4h0m0 0h0m0 9h0m0 2h0m0 6h0m0 7h0m1-26h0m0 59h0m1-60h0m0 8h0m0 7h0m0 1h0m0 16h0m0 1h0m0 29h0m1-67h0m0 4h0m0 3h0m0 13h0m0 12h0m0 39h0m0 9h0m1-77h0m0 9h0m1 65h0m0 3h0m0 4h0m0 3h0m1-72h0m0 7h0m0 6h0m0 11h0m0 29h0m0 2h0m0 3h0m0 14h0m1-84h0m0 13h0m0 6h0m0 17h0m0 0h0m0 25h0m0 11h0m0 5h0m0 6h0m0 0h0m0 2h0m1-78h0m0 24h0m0 5h0m0 34h0m1-52h0m0 52h0m0 19h0m1-55h0m0 38h0m1-77h0m0 25h0m0 15h0m0 54h0m1-88h0m0 85h0m1-85h0m0 1h0m0 62h0m0 3h0m0 2h0m0 12h0m1 1h0m0 6h0m1-92h0m0 13h0m0 19h0m0 2h0m0 37h0m0 4h0m0 18h0m1-84h0m0 1h0m0 24h0m0 3h0m0 43h0m0 14h0m1-96h0m0 3h0m0 35h0m0 29h0m0 12h0m0 2h0m0 2h0m0 12h0m1-97h0m0 37h0m0 2h0m0 4h0m0 0h0m0 1h0m0 28h0m0 4h0m0 10h0m1-77h0m0 2h0m0 22h0m0 37h0m0 2h0m1-38h0m0 39h0m0 2h0m1-80h0m0 29h0m0 15h0m0 4h0m0 27h0m0 20h0m1-69h0m0 5h0m0 6h0m0 4h0m0 7h0m0 34h0m0 3h0m0 0h0m1-11h0m0 0h0m0 11h0m0 3h0m0 2h0m0 11h0m1-99h0m0 24h0m0 2h0m0 66h0m1-68h0m0 20h0m0 45h0m1-79h0m0 7h0m0 29h0m0 36h0m0 15h0m1-66h0m0 10h0m0 1h0m0 0h0m0 33h0m1-61h0m0 10h0m0 6h0m0 8h0m0 57h0m0 3h0m0 2h0m1-68h0m0 2h0m0 1h0m0 10h0m0 28h0m0 16h0m1-71h0m0 8h0m0 6h0m0 60h0m1-47h0m0 27h0m0 31h0m0 1h0m1-110h0m0 7h0m0 38h0m0 4h0m0 49h0m0 5h0m0 6h0m1-101h0m0 9h0m0 6h0m0 1h0m0 57h0m0 3h0m1-60h0m0 2h0m0 3h0m0 15h0m0 5h0m0 39h0m0 0h0m0 12h0m1-96h0m0 47h0m0 26h0m0 1h0m0 12h0m0 4h0m0 1h0m0 12h0m1-77h0m0 59h0m0 10h0m1-91h0m0 25h0m1 0h0m0 73h0m0 7h0m1-108h0m0 25h0m0 49h0m0 8h0m0 27h0m1-114h0m0 1h0m0 2h0m0 11h0m0 23h0m0 7h0m0 37h0m0 8h0m0 6h0m0 3h0m0 9h0m1-82h0m0 26h0m1 29h0m0 9h0m0 26h0m1-102h0m0 23h0m0 57h0m1-87h0m0 44h0m0 0h0m0 46h0m0 2h0m1-96h0m0 15h0m0 36h0m0 51h0m1-70h0m1-10h0m0 28h0m0 25h0m0 4h0m0 9h0m0 12h0m1-64h0m0 42h0m0 4h0m1 11h0m0 3h0m1-3h0m1-8h0m1-1h0m1-84h0m0 10h0m0 1h0m0 8h0m1-16h0m0 31h0m1-26h0m0 87h0m1-105h0m0 49h0m0 37h0m1-87h0m0 35h0m0 24h0m0 42h0m0 10h0m1-97h0m0 34h0m0 5h0m0 40h0m1-83h0m0 104h0m1-82h0m0 23h0m0 7h0m0 32h0m1-96h0m0 9h0m0 85h0m0 16h0m0 1h0m0 6h0m0 2h0m1-11h0m0 16h0m0 5h0m1-98h0m0 94h0m1-65h0m0 55h0m0 3h0m0 3h0m0 2h0m0 2h0m1-88h0m0 58h0m0 10h0m1-89h0m0 18h0m0 1h0m0 15h0m0 43h0m0 25h0m0 8h0m0 0h0m1-97h0m0 72h0m0 3h0m0 5h0m1-102h0m0 9h0m0 30h0m0 73h0m1-111h0m0 8h0m0 41h0m0 81h0m1-141h0m0 45h0m1 17h0m0 63h0m1-95h0m0 36h0m0 55h0m1-117h0m0 34h0m0 2h0m0 56h0m0 0h0m0 30h0m1-19h0m1-84h0m0 42h0m0 27h0m0 30h0m0 1h0m1-79h0m0 23h0m1-39h0m0 103h0m0 3h0m1-92h0m0 56h0m1 30h0m1-26h0m1-91h0m0 22h0m0 26h0m0 38h0m0 8h0m0 19h0m0 6h0m0 3h0m1-128h0m0 5h0m0 25h0m0 78h0m1-99h0m0 30h0m0 97h0m1-98h0m0 8h0m0 64h0m1-122h0m0 48h0m0 69h0m1-108h0m0 9h0m0 44h0m1-53h0m0 10h0m0 46h0m1-62h0m0 66h0m0 47h0m0 2h0m0 24h0m0 15h0m1-106h0m0 22h0m0 55h0m0 10h0m1-118h0m0 29h0m1 11h0m0 42h0m1-84h0m0 32h0m1-35h0m1 3h0m0 124h0m1-87h0m0 83h0m1-130h0m0 37h0m0 3h0m1 26h0m0 49h0m1 10h0m1-92h0m1-4h0m2-26h0m0 55h0m1-56h0m0 45h0m1-16h0m5-37h0m0 134h0m1-150h0m0 21h0m0 21h0m1-39h0m0 61h0m0 96h0m1-128h0m0 18h0m0 76h0m1-86h0m0 80h0m1-6h0m1-82h0m0 50h0m2 41h0m0 45h0m1-33h0m1-8h0m1 25h0m1-128h0m0 0h0m0 13h0m0 112h0m0 16h0m1-151h0m0 54h0m4-22h0m0 82h0m1-125h0m3 199h0m1-149h0m7 122h0m1-146h0m7 49h0m0 99h0m1-144h0m1 15h0m1-50h0m2 6h0m1 42h0m8 137h0m2-243h0m4 80h0m1 23h0m3-44h0m0 67h0m0 86h0m3-171h0m2 49h0m4 5h0m3 166h0m1-149h0m0 1h0m1 21h0m1-74h0m4 18h0m4-71h0m1 116h0m4 131h0m3-147h0m5-50h0m10 187h0m34-170h0m29 52h0m1-44h0m3 14h0m29-9h0m3 5h0m5 32h0" stroke="#2158f6" stroke-width="4.6" stroke-linecap="round" fill="none"/>
<path transform="scale(0.5)" d="M0 0m133 894h0m0 7h0m0 31h0m0 1h0m0 13h0m1-80h0m0 9h0m0 50h0m0 11h0m1-66h0m0 4h0m0 56h0m1-59h0m0 57h0m1-62h0m0 3h0m0 26h0m0 33h0m0 17h0m1-82h0m0 6h0m0 1h0m0 13h0m0 4h0m0 7h0m0 1h0m0 2h0m0 37h0m0 11h0m1-70h0m0 25h0m0 1h0m0 36h0m0 4h0m1-72h0m0 12h0m0 19h0m0 40h0m0 2h0m0 2h0m1-76h0m0 3h0m0 17h0m0 2h0m0 5h0m1-25h0m0 19h0m0 39h0m0 8h0m0 2h0m0 10h0m1-76h0m0 8h0m0 15h0m1-34h0m0 7h0m0 59h0m2-67h0m0 1h0m0 8h0m0 25h0m0 2h0m0 5h0m0 29h0m0 10h0m0 5h0m0 3h0m1-69h0m0 3h0m0 44h0m0 6h0m0 10h0m1-69h0m0 8h0m0 7h0m0 57h0m1-46h0m0 33h0m0 12h0m0 7h0m1-83h0m0 11h0m0 19h0m0 37h0m0 2h0m0 1h0m0 2h0m1-48h0m0 8h0m1-28h0m0 5h0m0 19h0m0 42h0m0 17h0m1-66h0m0 10h0m0 27h0m0 15h0m1-72h0m0 7h0m0 20h0m0 1h0m0 36h0m0 16h0m0 3h0m1-71h0m0 2h0m0 5h0m0 4h0m0 2h0m0 0h0m0 4h0m0 46h0m0 10h0m1-96h0m0 13h0m0 15h0m0 57h0m1-83h0m0 6h0m0 15h0m0 4h0m0 41h0m0 17h0m0 4h0m0 4h0m0 6h0m1-98h0m0 19h0m0 6h0m0 43h0m0 11h0m1-76h0m0 34h0m0 1h0m0 32h0m1 8h0m0 1h0m0 10h0m0 1h0m0 0h0m0 5h0m1-100h0m0 17h0m0 8h0m0 65h0m1-64h0m0 5h0m0 45h0m0 10h0m1-82h0m0 1h0m0 6h0m0 35h0m0 41h0m0 6h0m0 10h0m1-105h0m0 13h0m0 24h0m0 47h0m0 3h0m0 4h0m0 11h0m1-76h0m0 47h0m0 14h0m0 1h0m0 0h0m0 6h0m1-21h0m0 1h0m0 17h0m0 7h0m1-98h0m0 4h0m0 32h0m0 37h0m0 3h0m0 17h0m0 4h0m1-79h0m0 31h0m1-54h0m0 30h0m0 8h0m0 6h0m0 6h0m1-49h0m0 94h0m1-65h0m0 49h0m1-71h0m0 11h0m0 17h0m0 51h0m0 9h0m1-65h0m0 7h0m0 51h0m1-75h0m0 12h0m1-10h0m0 3h0m0 2h0m0 16h0m0 2h0m0 43h0m1 3h0m0 11h0m1-71h0m0 60h0m0 27h0m1-98h0m1-4h0m0 36h0m0 50h0m1-92h0m0 18h0m0 3h0m0 10h0m0 48h0m0 0h0m0 2h0m0 29h0m1-103h0m0 14h0m0 53h0m0 1h0m1-77h0m0 45h0m0 64h0m1-85h0m0 3h0m0 9h0m0 6h0m0 60h0m0 13h0m1-110h0m0 14h0m0 2h0m0 59h0m0 15h0m1-65h0m0 3h0m0 3h0m0 1h0m0 40h0m1 1h0m1 4h0m0 8h0m1-54h0m0 12h0m0 4h0m0 54h0m1-93h0m0 1h0m0 4h0m0 66h0m1-34h0m0 34h0m1-94h0m0 8h0m0 12h0m0 68h0m0 8h0m0 0h0m0 3h0m0 21h0m0 2h0m1-82h0m0 16h0m0 69h0m1-96h0m0 22h0m0 35h0m1 7h0m1-68h0m0 64h0m0 10h0m0 6h0m2-83h0m0 18h0m0 76h0m1-59h0m0 71h0m2-113h0m0 12h0m0 0h0m0 17h0m0 47h0m0 12h0m0 1h0m0 2h0m0 11h0m1-78h0m0 49h0m0 7h0m0 32h0m1-86h0m0 7h0m0 62h0m0 2h0m0 6h0m0 2h0m0 9h0m0 5h0m1-127h0m0 42h0m0 54h0m0 16h0m1-178h0m0 103h0m1-22h0m0 68h0m0 16h0m0 7h0m1-103h0m0 33h0m0 11h0m0 34h0m0 15h0m0 30h0m1-134h0m0 36h0m0 20h0m0 47h0m0 23h0m2-123h0m0 12h0m0 3h0m0 41h0m0 54h0m1-85h0m0 84h0m1-115h0m0 107h0m0 28h0m1-107h0m0 12h0m0 74h0m1-55h0m0 5h0m0 43h0m0 23h0m0 10h0m1-134h0m1-4h0m0 107h0m1-80h0m0 63h0m0 1h0m0 45h0m0 6h0m1-48h0m0 37h0m0 2h0m1-8h0m1-63h0m0 65h0m1-122h0m0 4h0m0 15h0m0 3h0m0 2h0m0 26h0m0 2h0m0 0h0m1-59h0m0 2h0m0 6h0m1-3h0m0 5h0m0 2h0m1-10h0m0 90h0m0 28h0m1-119h0m0 15h0m0 44h0m0 68h0m1-121h0m1 44h0m0 45h0m0 0h0m0 16h0m1-109h0m0 35h0m1 71h0m0 3h0m0 38h0m1-155h0m0 49h0m1-35h0m0 14h0m0 32h0m0 76h0m1-99h0m0 1h0m0 57h0m0 25h0m0 21h0m0 2h0m1-124h0m0 81h0m0 41h0m1-121h0m0 19h0m0 29h0m0 68h0m1-99h0m0 15h0m2-37h0m1 29h0m0 3h0m0 14h0m2 50h0m0 29h0m0 29h0m1-30h0m1-116h0m1 42h0m0 30h0m1-84h0m1 38h0m0 16h0m0 52h0m1-64h0m0 46h0m0 42h0m1-73h0m0 59h0m1-124h0m1 126h0m3-75h0m0 2h0m1-11h0m0 90h0m1-17h0m1-107h0m0 32h0m1 17h0m2-27h0m0 7h0m0 68h0m1-1h0m0 18h0m1-104h0m0 19h0m0 57h0m1-95h0m0 1h0m2 20h0m0 41h0m0 2h0m1 37h0m0 35h0m1-152h0m0 110h0m0 10h0m1-67h0m0 18h0m2-47h0m0 16h0m1 33h0m1-27h0m1 24h0m0 40h0m0 54h0m4-177h0m0 216h0m2-25h0m1-103h0m3-29h0m3 133h0m3-102h0m0 39h0m2 12h0m0 13h0m2-18h0m5 6h0m3 37h0m2-35h0m2-106h0m2-20h0m0 8h0m4 46h0m4-17h0m1-5h0m0 0h0m0 33h0m0 119h0m1-62h0m0 5h0m1-91h0m3-61h0m0 50h0m0 20h0m2 28h0m12-128h0m5 242h0m18-1h0m4-152h0m0 137h0m3-183h0m1 178h0m10-106h0m2-25h0m3 14h0m2-2h0m3 15h0m23-67h0m19 17h0m6 9h0m1 17h0" stroke="#ffffff" stroke-width="5.8" stroke-linecap="round" fill="none" stroke-opacity="0.4"/>
<path transform="scale(0.5)" d="M0 0m133 894h0m0 7h0m0 31h0m0 1h0m0 13h0m1-80h0m0 9h0m0 50h0m0 11h0m1-66h0m0 4h0m0 56h0m1-59h0m0 57h0m1-62h0m0 3h0m0 26h0m0 33h0m0 17h0m1-82h0m0 6h0m0 1h0m0 13h0m0 4h0m0 7h0m0 1h0m0 2h0m0 37h0m0 11h0m1-70h0m0 25h0m0 1h0m0 36h0m0 4h0m1-72h0m0 12h0m0 19h0m0 40h0m0 2h0m0 2h0m1-76h0m0 3h0m0 17h0m0 2h0m0 5h0m1-25h0m0 19h0m0 39h0m0 8h0m0 2h0m0 10h0m1-76h0m0 8h0m0 15h0m1-34h0m0 7h0m0 59h0m2-67h0m0 1h0m0 8h0m0 25h0m0 2h0m0 5h0m0 29h0m0 10h0m0 5h0m0 3h0m1-69h0m0 3h0m0 44h0m0 6h0m0 10h0m1-69h0m0 8h0m0 7h0m0 57h0m1-46h0m0 33h0m0 12h0m0 7h0m1-83h0m0 11h0m0 19h0m0 37h0m0 2h0m0 1h0m0 2h0m1-48h0m0 8h0m1-28h0m0 5h0m0 19h0m0 42h0m0 17h0m1-66h0m0 10h0m0 27h0m0 15h0m1-72h0m0 7h0m0 20h0m0 1h0m0 36h0m0 16h0m0 3h0m1-71h0m0 2h0m0 5h0m0 4h0m0 2h0m0 0h0m0 4h0m0 46h0m0 10h0m1-96h0m0 13h0m0 15h0m0 57h0m1-83h0m0 6h0m0 15h0m0 4h0m0 41h0m0 17h0m0 4h0m0 4h0m0 6h0m1-98h0m0 19h0m0 6h0m0 43h0m0 11h0m1-76h0m0 34h0m0 1h0m0 32h0m1 8h0m0 1h0m0 10h0m0 1h0m0 0h0m0 5h0m1-100h0m0 17h0m0 8h0m0 65h0m1-64h0m0 5h0m0 45h0m0 10h0m1-82h0m0 1h0m0 6h0m0 35h0m0 41h0m0 6h0m0 10h0m1-105h0m0 13h0m0 24h0m0 47h0m0 3h0m0 4h0m0 11h0m1-76h0m0 47h0m0 14h0m0 1h0m0 0h0m0 6h0m1-21h0m0 1h0m0 17h0m0 7h0m1-98h0m0 4h0m0 32h0m0 37h0m0 3h0m0 17h0m0 4h0m1-79h0m0 31h0m1-54h0m0 30h0m0 8h0m0 6h0m0 6h0m1-49h0m0 94h0m1-65h0m0 49h0m1-71h0m0 11h0m0 17h0m0 51h0m0 9h0m1-65h0m0 7h0m0 51h0m1-75h0m0 12h0m1-10h0m0 3h0m0 2h0m0 16h0m0 2h0m0 43h0m1 3h0m0 11h0m1-71h0m0 60h0m0 27h0m1-98h0m1-4h0m0 36h0m0 50h0m1-92h0m0 18h0m0 3h0m0 10h0m0 48h0m0 0h0m0 2h0m0 29h0m1-103h0m0 14h0m0 53h0m0 1h0m1-77h0m0 45h0m0 64h0m1-85h0m0 3h0m0 9h0m0 6h0m0 60h0m0 13h0m1-110h0m0 14h0m0 2h0m0 59h0m0 15h0m1-65h0m0 3h0m0 3h0m0 1h0m0 40h0m1 1h0m1 4h0m0 8h0m1-54h0m0 12h0m0 4h0m0 54h0m1-93h0m0 1h0m0 4h0m0 66h0m1-34h0m0 34h0m1-94h0m0 8h0m0 12h0m0 68h0m0 8h0m0 0h0m0 3h0m0 21h0m0 2h0m1-82h0m0 16h0m0 69h0m1-96h0m0 22h0m0 35h0m1 7h0m1-68h0m0 64h0m0 10h0m0 6h0m2-83h0m0 18h0m0 76h0m1-59h0m0 71h0m2-113h0m0 12h0m0 0h0m0 17h0m0 47h0m0 12h0m0 1h0m0 2h0m0 11h0m1-78h0m0 49h0m0 7h0m0 32h0m1-86h0m0 7h0m0 62h0m0 2h0m0 6h0m0 2h0m0 9h0m0 5h0m1-127h0m0 42h0m0 54h0m0 16h0m1-178h0m0 103h0m1-22h0m0 68h0m0 16h0m0 7h0m1-103h0m0 33h0m0 11h0m0 34h0m0 15h0m0 30h0m1-134h0m0 36h0m0 20h0m0 47h0m0 23h0m2-123h0m0 12h0m0 3h0m0 41h0m0 54h0m1-85h0m0 84h0m1-115h0m0 107h0m0 28h0m1-107h0m0 12h0m0 74h0m1-55h0m0 5h0m0 43h0m0 23h0m0 10h0m1-134h0m1-4h0m0 107h0m1-80h0m0 63h0m0 1h0m0 45h0m0 6h0m1-48h0m0 37h0m0 2h0m1-8h0m1-63h0m0 65h0m1-122h0m0 4h0m0 15h0m0 3h0m0 2h0m0 26h0m0 2h0m0 0h0m1-59h0m0 2h0m0 6h0m1-3h0m0 5h0m0 2h0m1-10h0m0 90h0m0 28h0m1-119h0m0 15h0m0 44h0m0 68h0m1-121h0m1 44h0m0 45h0m0 0h0m0 16h0m1-109h0m0 35h0m1 71h0m0 3h0m0 38h0m1-155h0m0 49h0m1-35h0m0 14h0m0 32h0m0 76h0m1-99h0m0 1h0m0 57h0m0 25h0m0 21h0m0 2h0m1-124h0m0 81h0m0 41h0m1-121h0m0 19h0m0 29h0m0 68h0m1-99h0m0 15h0m2-37h0m1 29h0m0 3h0m0 14h0m2 50h0m0 29h0m0 29h0m1-30h0m1-116h0m1 42h0m0 30h0m1-84h0m1 38h0m0 16h0m0 52h0m1-64h0m0 46h0m0 42h0m1-73h0m0 59h0m1-124h0m1 126h0m3-75h0m0 2h0m1-11h0m0 90h0m1-17h0m1-107h0m0 32h0m1 17h0m2-27h0m0 7h0m0 68h0m1-1h0m0 18h0m1-104h0m0 19h0m0 57h0m1-95h0m0 1h0m2 20h0m0 41h0m0 2h0m1 37h0m0 35h0m1-152h0m0 110h0m0 10h0m1-67h0m0 18h0m2-47h0m0 16h0m1 33h0m1-27h0m1 24h0m0 40h0m0 54h0m4-177h0m0 216h0m2-25h0m1-103h0m3-29h0m3 133h0m3-102h0m0 39h0m2 12h0m0 13h0m2-18h0m5 6h0m3 37h0m2-35h0m2-106h0m2-20h0m0 8h0m4 46h0m4-17h0m1-5h0m0 0h0m0 33h0m0 119h0m1-62h0m0 5h0m1-91h0m3-61h0m0 50h0m0 20h0m2 28h0m12-128h0m5 242h0m18-1h0m4-152h0m0 137h0m3-183h0m1 178h0m10-106h0m2-25h0m3 14h0m2-2h0m3 15h0m23-67h0m19 17h0m6 9h0m1 17h0" stroke="#2158f6" stroke-width="4.6" stroke-linecap="round" fill="none"/>
<path transform="scale(0.5)" d="M0 0m133 884h0m0 5h0m0 3h0m0 8h0m0 1h0m0 27h0m0 1h0m0 11h0m1-39h0m0 27h0m0 0h0m0 8h0m0 8h0m1-59h0m0 45h0m0 2h0m0 16h0m1-72h0m0 21h0m0 51h0m1-76h0m0 7h0m0 22h0m0 35h0m0 3h0m0 6h0m0 1h0m1-82h0m0 4h0m0 26h0m0 2h0m0 0h0m0 44h0m1-12h0m0 2h0m0 21h0m1-75h0m0 8h0m0 9h0m0 44h0m0 3h0m1-72h0m0 20h0m0 49h0m0 12h0m1-82h0m0 3h0m0 12h0m0 58h0m0 5h0m0 8h0m1-74h0m0 48h0m0 1h0m0 3h0m0 6h0m0 4h0m0 7h0m1-22h0m0 20h0m1-70h0m0 15h0m1-13h0m0 5h0m0 0h0m0 5h0m0 12h0m0 1h0m0 24h0m0 9h0m1-67h0m0 4h0m0 54h0m1-54h0m0 7h0m0 16h0m0 1h0m0 2h0m0 2h0m0 1h0m0 37h0m1-62h0m0 19h0m0 38h0m0 16h0m1-68h0m0 46h0m0 5h0m0 16h0m0 3h0m1-90h0m0 10h0m0 18h0m0 8h0m0 59h0m1-65h0m0 42h0m0 15h0m1-74h0m0 14h0m0 11h0m0 37h0m1-72h0m1 32h0m0 6h0m0 24h0m0 4h0m0 4h0m0 7h0m1-77h0m0 29h0m0 36h0m0 4h0m1-63h0m0 14h0m0 61h0m1-64h0m0 2h0m0 11h0m0 1h0m0 5h0m0 38h0m1-75h0m0 22h0m0 4h0m0 11h0m0 44h0m1-91h0m0 15h0m0 8h0m0 9h0m0 56h0m0 13h0m1-96h0m0 15h0m0 29h0m0 0h0m0 52h0m1-102h0m0 25h0m0 52h0m0 16h0m1-76h0m0 4h0m0 7h0m0 8h0m0 11h0m0 29h0m0 1h0m0 10h0m0 5h0m1-42h0m0 52h0m1-72h0m0 46h0m1-32h0m0 59h0m1-97h0m0 1h0m0 22h0m0 13h0m0 40h0m1-77h0m0 7h0m0 4h0m0 2h0m0 26h0m0 34h0m1 22h0m1-84h0m0 8h0m0 9h0m0 52h0m0 5h0m0 2h0m1-96h0m0 28h0m0 19h0m0 34h0m0 27h0m1-62h0m0 5h0m0 29h0m0 11h0m0 15h0m1-104h0m0 80h0m0 13h0m0 0h0m0 19h0m1-80h0m0 19h0m0 33h0m0 27h0m1-69h0m0 5h0m0 43h0m0 17h0m1-108h0m0 19h0m0 25h0m0 41h0m0 14h0m2-85h0m0 29h0m0 8h0m0 28h0m1-74h0m0 88h0m0 5h0m0 2h0m0 1h0m1-67h0m0 18h0m0 42h0m1-57h0m0 12h0m0 56h0m1-98h0m0 33h0m0 0h0m0 61h0m1-76h0m0 25h0m0 1h0m0 2h0m0 37h0m0 2h0m0 4h0m1-76h0m0 22h0m0 9h0m0 32h0m0 5h0m0 5h0m0 0h0m1-95h0m0 20h0m0 23h0m0 38h0m1-66h0m0 17h0m0 11h0m0 71h0m2-94h0m0 15h0m0 11h0m0 8h0m0 41h0m1-43h0m0 32h0m0 22h0m1-102h0m0 12h0m0 37h0m0 53h0m0 12h0m1-110h0m0 75h0m0 20h0m1-88h0m0 32h0m0 39h0m0 4h0m0 12h0m0 6h0m1-116h0m0 11h0m0 19h0m0 32h0m0 34h0m0 12h0m1-102h0m0 81h0m0 21h0m0 0h0m0 9h0m1-82h0m1 57h0m0 10h0m1-87h0m0 39h0m0 37h0m1-86h0m0 29h0m0 3h0m0 18h0m0 61h0m0 4h0m1-111h0m0 9h0m0 9h0m0 7h0m0 59h0m1-70h0m0 20h0m0 7h0m0 5h0m0 2h0m0 33h0m0 29h0m0 0h0m0 3h0m1-24h0m0 14h0m0 0h0m0 2h0m0 7h0m1-122h0m0 115h0m1-67h0m0 44h0m0 38h0m1-124h0m0 36h0m0 76h0m1-104h0m0 44h0m0 43h0m0 16h0m1-112h0m0 28h0m0 58h0m0 39h0m1-98h0m0 3h0m0 28h0m0 47h0m1-56h0m0 61h0m1-52h0m0 26h0m1 34h0m0 8h0m1-127h0m0 2h0m0 38h0m0 5h0m0 42h0m2-96h0m0 118h0m1-75h0m0 51h0m0 12h0m0 8h0m1-81h0m0 35h0m0 1h0m0 25h0m0 40h0m1-108h0m0 15h0m0 9h0m1-15h0m0 34h0m0 44h0m1-107h0m0 2h0m0 2h0m0 3h0m0 30h0m0 94h0m2-139h0m0 7h0m0 28h0m0 13h0m0 3h0m0 56h0m0 7h0m1-103h0m0 21h0m0 12h0m0 27h0m0 65h0m1-124h0m0 33h0m0 68h0m0 21h0m1-96h0m0 62h0m0 5h0m1-66h0m0 82h0m1-124h0m0 17h0m0 90h0m0 1h0m2-102h0m0 5h0m1 28h0m1-19h0m0 82h0m0 41h0m1-103h0m1 102h0m1-82h0m1-27h0m0 21h0m0 10h0m0 3h0m0 2h0m1-37h0m0 21h0m0 2h0m0 44h0m0 8h0m0 12h0m1-90h0m0 1h0m0 26h0m0 77h0m1-96h0m0 18h0m0 15h0m3 37h0m1-59h0m0 0h0m0 74h0m1-62h0m0 1h0m0 85h0m1-145h0m0 15h0m0 23h0m0 13h0m0 91h0m1-78h0m1 8h0m1-34h0m1-37h0m0 99h0m0 3h0m1-52h0m0 48h0m1-103h0m1 48h0m1-2h0m0 68h0m1-99h0m0 111h0m1 28h0m1-53h0m1 54h0m1-107h0m3 14h0m0 48h0m0 39h0m0 3h0m1-80h0m1-82h0m0 18h0m1 29h0m0 17h0m0 68h0m2-68h0m1-13h0m0 191h0m1-125h0m0 0h0m0 33h0m1-1h0m0 46h0m1-185h0m0 110h0m0 27h0m0 8h0m3-191h0m0 186h0m1-107h0m1-39h0m1 168h0m2-103h0m0 81h0m1-101h0m0 126h0m3-127h0m0 31h0m0 132h0m1-173h0m1-25h0m1 44h0m1-65h0m0 56h0m0 105h0m2-119h0m2 178h0m2-28h0m2-21h0m1-189h0m0 187h0m2 34h0m1-137h0m1 15h0m0 139h0m2-24h0m1-144h0m2 84h0m2-64h0m1-22h0m5 35h0m0 66h0m5-141h0m4-52h0m0 96h0m2-21h0m0 45h0m0 5h0m1-65h0m8 113h0m1-69h0m3-32h0m4 12h0m0 139h0m4-159h0m2 175h0m21-190h0m6 134h0m11-91h0m21 13h0m11 3h0m9-33h0m5 23h0m1 15h0m2-17h0m9-15h0" stroke="#ffffff" stroke-width="5.8" stroke-linecap="round" fill="none" stroke-opacity="0.4"/>
<path transform="scale(0.5)" d="M0 0m133 884h0m0 5h0m0 3h0m0 8h0m0 1h0m0 27h0m0 1h0m0 11h0m1-39h0m0 27h0m0 0h0m0 8h0m0 8h0m1-59h0m0 45h0m0 2h0m0 16h0m1-72h0m0 21h0m0 51h0m1-76h0m0 7h0m0 22h0m0 35h0m0 3h0m0 6h0m0 1h0m1-82h0m0 4h0m0 26h0m0 2h0m0 0h0m0 44h0m1-12h0m0 2h0m0 21h0m1-75h0m0 8h0m0 9h0m0 44h0m0 3h0m1-72h0m0 20h0m0 49h0m0 12h0m1-82h0m0 3h0m0 12h0m0 58h0m0 5h0m0 8h0m1-74h0m0 48h0m0 1h0m0 3h0m0 6h0m0 4h0m0 7h0m1-22h0m0 20h0m1-70h0m0 15h0m1-13h0m0 5h0m0 0h0m0 5h0m0 12h0m0 1h0m0 24h0m0 9h0m1-67h0m0 4h0m0 54h0m1-54h0m0 7h0m0 16h0m0 1h0m0 2h0m0 2h0m0 1h0m0 37h0m1-62h0m0 19h0m0 38h0m0 16h0m1-68h0m0 46h0m0 5h0m0 16h0m0 3h0m1-90h0m0 10h0m0 18h0m0 8h0m0 59h0m1-65h0m0 42h0m0 15h0m1-74h0m0 14h0m0 11h0m0 37h0m1-72h0m1 32h0m0 6h0m0 24h0m0 4h0m0 4h0m0 7h0m1-77h0m0 29h0m0 36h0m0 4h0m1-63h0m0 14h0m0 61h0m1-64h0m0 2h0m0 11h0m0 1h0m0 5h0m0 38h0m1-75h0m0 22h0m0 4h0m0 11h0m0 44h0m1-91h0m0 15h0m0 8h0m0 9h0m0 56h0m0 13h0m1-96h0m0 15h0m0 29h0m0 0h0m0 52h0m1-102h0m0 25h0m0 52h0m0 16h0m1-76h0m0 4h0m0 7h0m0 8h0m0 11h0m0 29h0m0 1h0m0 10h0m0 5h0m1-42h0m0 52h0m1-72h0m0 46h0m1-32h0m0 59h0m1-97h0m0 1h0m0 22h0m0 13h0m0 40h0m1-77h0m0 7h0m0 4h0m0 2h0m0 26h0m0 34h0m1 22h0m1-84h0m0 8h0m0 9h0m0 52h0m0 5h0m0 2h0m1-96h0m0 28h0m0 19h0m0 34h0m0 27h0m1-62h0m0 5h0m0 29h0m0 11h0m0 15h0m1-104h0m0 80h0m0 13h0m0 0h0m0 19h0m1-80h0m0 19h0m0 33h0m0 27h0m1-69h0m0 5h0m0 43h0m0 17h0m1-108h0m0 19h0m0 25h0m0 41h0m0 14h0m2-85h0m0 29h0m0 8h0m0 28h0m1-74h0m0 88h0m0 5h0m0 2h0m0 1h0m1-67h0m0 18h0m0 42h0m1-57h0m0 12h0m0 56h0m1-98h0m0 33h0m0 0h0m0 61h0m1-76h0m0 25h0m0 1h0m0 2h0m0 37h0m0 2h0m0 4h0m1-76h0m0 22h0m0 9h0m0 32h0m0 5h0m0 5h0m0 0h0m1-95h0m0 20h0m0 23h0m0 38h0m1-66h0m0 17h0m0 11h0m0 71h0m2-94h0m0 15h0m0 11h0m0 8h0m0 41h0m1-43h0m0 32h0m0 22h0m1-102h0m0 12h0m0 37h0m0 53h0m0 12h0m1-110h0m0 75h0m0 20h0m1-88h0m0 32h0m0 39h0m0 4h0m0 12h0m0 6h0m1-116h0m0 11h0m0 19h0m0 32h0m0 34h0m0 12h0m1-102h0m0 81h0m0 21h0m0 0h0m0 9h0m1-82h0m1 57h0m0 10h0m1-87h0m0 39h0m0 37h0m1-86h0m0 29h0m0 3h0m0 18h0m0 61h0m0 4h0m1-111h0m0 9h0m0 9h0m0 7h0m0 59h0m1-70h0m0 20h0m0 7h0m0 5h0m0 2h0m0 33h0m0 29h0m0 0h0m0 3h0m1-24h0m0 14h0m0 0h0m0 2h0m0 7h0m1-122h0m0 115h0m1-67h0m0 44h0m0 38h0m1-124h0m0 36h0m0 76h0m1-104h0m0 44h0m0 43h0m0 16h0m1-112h0m0 28h0m0 58h0m0 39h0m1-98h0m0 3h0m0 28h0m0 47h0m1-56h0m0 61h0m1-52h0m0 26h0m1 34h0m0 8h0m1-127h0m0 2h0m0 38h0m0 5h0m0 42h0m2-96h0m0 118h0m1-75h0m0 51h0m0 12h0m0 8h0m1-81h0m0 35h0m0 1h0m0 25h0m0 40h0m1-108h0m0 15h0m0 9h0m1-15h0m0 34h0m0 44h0m1-107h0m0 2h0m0 2h0m0 3h0m0 30h0m0 94h0m2-139h0m0 7h0m0 28h0m0 13h0m0 3h0m0 56h0m0 7h0m1-103h0m0 21h0m0 12h0m0 27h0m0 65h0m1-124h0m0 33h0m0 68h0m0 21h0m1-96h0m0 62h0m0 5h0m1-66h0m0 82h0m1-124h0m0 17h0m0 90h0m0 1h0m2-102h0m0 5h0m1 28h0m1-19h0m0 82h0m0 41h0m1-103h0m1 102h0m1-82h0m1-27h0m0 21h0m0 10h0m0 3h0m0 2h0m1-37h0m0 21h0m0 2h0m0 44h0m0 8h0m0 12h0m1-90h0m0 1h0m0 26h0m0 77h0m1-96h0m0 18h0m0 15h0m3 37h0m1-59h0m0 0h0m0 74h0m1-62h0m0 1h0m0 85h0m1-145h0m0 15h0m0 23h0m0 13h0m0 91h0m1-78h0m1 8h0m1-34h0m1-37h0m0 99h0m0 3h0m1-52h0m0 48h0m1-103h0m1 48h0m1-2h0m0 68h0m1-99h0m0 111h0m1 28h0m1-53h0m1 54h0m1-107h0m3 14h0m0 48h0m0 39h0m0 3h0m1-80h0m1-82h0m0 18h0m1 29h0m0 17h0m0 68h0m2-68h0m1-13h0m0 191h0m1-125h0m0 0h0m0 33h0m1-1h0m0 46h0m1-185h0m0 110h0m0 27h0m0 8h0m3-191h0m0 186h0m1-107h0m1-39h0m1 168h0m2-103h0m0 81h0m1-101h0m0 126h0m3-127h0m0 31h0m0 132h0m1-173h0m1-25h0m1 44h0m1-65h0m0 56h0m0 105h0m2-119h0m2 178h0m2-28h0m2-21h0m1-189h0m0 187h0m2 34h0m1-137h0m1 15h0m0 139h0m2-24h0m1-144h0m2 84h0m2-64h0m1-22h0m5 35h0m0 66h0m5-141h0m4-52h0m0 96h0m2-21h0m0 45h0m0 5h0m1-65h0m8 113h0m1-69h0m3-32h0m4 12h0m0 139h0m4-159h0m2 175h0m21-190h0m6 134h0m11-91h0m21 13h0m11 3h0m9-33h0m5 23h0m1 15h0m2-17h0m9-15h0" stroke="#2158f6" stroke-width="4.6" stroke-linecap="round" fill="none"/>
<line x1="43.90" y1="457.20" x2="299.50" y2="436.40" stroke="#e8645a" stroke-width="1.0"/>
<line x1="362.00" y1="575.30" x2="616.80" y2="575.30" stroke="#e8e8e8" stroke-width="0.6" stroke-dasharray="1,1"/>
<line x1="362.00" y1="556.90" x2="616.80" y2="556.90" stroke="#e8e8e8" stroke-width="0.6" stroke-dasharray="1,1"/>
<line x1="362.00" y1="538.50" x2="616.80" y2="538.50" stroke="#e8e8e8" stroke-width="0.6" stroke-dasharray="1,1"/>
<line x1="362.00" y1="520.10" x2="616.80" y2="520.10" stroke="#e8e8e8" stroke-width="0.6" stroke-dasharray="1,1"/>
<line x1="362.00" y1="501.70" x2="616.80" y2="501.70" stroke="#e8e8e8" stroke-width="0.6" stroke-dasharray="1,1"/>
<line x1="362.00" y1="483.30" x2="616.80" y2="483.30" stroke="#e8e8e8" stroke-width="0.6" stroke-dasharray="1,1"/>
<line x1="362.00" y1="464.90" x2="616.80" y2="464.90" stroke="#e8e8e8" stroke-width="0.6" stroke-dasharray="1,1"/>
<line x1="362.00" y1="446.50" x2="616.80" y2="446.50" stroke="#e8e8e8" stroke-width="0.6" stroke-dasharray="1,1"/>
<line x1="362.00" y1="428.10" x2="616.80" y2="428.10" stroke="#e8e8e8" stroke-width="0.6" stroke-dasharray="1,1"/>
<line x1="362.00" y1="409.70" x2="616.80" y2="409.70" stroke="#e8e8e8" stroke-width="0.6" stroke-dasharray="1,1"/>
<line x1="362.00" y1="391.30" x2="616.80" y2="391.30" stroke="#e8e8e8" stroke-width="0.6" stroke-dasharray="1,1"/>
<line x1="362.00" y1="372.90" x2="616.80" y2="372.90" stroke="#e8e8e8" stroke-width="0.6" stroke-dasharray="1,1"/>
<line x1="362.00" y1="354.50" x2="616.80" y2="354.50" stroke="#e8e8e8" stroke-width="0.6" stroke-dasharray="1,1"/>
<line x1="365.30" y1="336.60" x2="365.30" y2="577.00" stroke="#e8e8e8" stroke-width="0.6" stroke-dasharray="1,1"/>
<line x1="394.70" y1="336.60" x2="394.70" y2="577.00" stroke="#e8e8e8" stroke-width="0.6" stroke-dasharray="1,1"/>
<line x1="424.10" y1="336.60" x2="424.10" y2="577.00" stroke="#e8e8e8" stroke-width="0.6" stroke-dasharray="1,1"/>
<line x1="453.50" y1="336.60" x2="453.50" y2="577.00" stroke="#e8e8e8" stroke-width="0.6" stroke-dasharray="1,1"/>
<line x1="482.90" y1="336.60" x2="482.90" y2="577.00" stroke="#e8e8e8" stroke-width="0.6" stroke-dasharray="1,1"/>
<line x1="512.30" y1="336.60" x2="512.30" y2="577.00" stroke="#e8e8e8" stroke-width="0.6" stroke-dasharray="1,1"/>
<line x1="541.70" y1="336.60" x2="541.70" y2="577.00" stroke="#e8e8e8" stroke-width="0.6" stroke-dasharray="1,1"/>
<line x1="571.10" y1="336.60" x2="571.10" y2="577.00" stroke="#e8e8e8" stroke-width="0.6" stroke-dasharray="1,1"/>
<line x1="600.50" y1="336.60" x2="600.50" y2="577.00" stroke="#e8e8e8" stroke-width="0.6" stroke-dasharray="1,1"/>
<text transform="translate(383.80,346.80) scale(1,1)" font-size="12" font-weight="bold" fill="#111">MR - SCZ</text>
<text transform="translate(361.40,578.50) scale(1,1)" font-size="8.8" text-anchor="end" fill="#555">−0.3</text>
<line x1="362.60" y1="575.30" x2="364.60" y2="575.30" stroke="#666" stroke-width="0.7"/>
<text transform="translate(361.40,541.70) scale(1,1)" font-size="8.8" text-anchor="end" fill="#555">−0.2</text>
<line x1="362.60" y1="538.50" x2="364.60" y2="538.50" stroke="#666" stroke-width="0.7"/>
<text transform="translate(361.40,504.90) scale(1,1)" font-size="8.8" text-anchor="end" fill="#555">−0.1</text>
<line x1="362.60" y1="501.70" x2="364.60" y2="501.70" stroke="#666" stroke-width="0.7"/>
<text transform="translate(361.40,468.10) scale(1,1)" font-size="8.8" text-anchor="end" fill="#555">0.0</text>
<line x1="362.60" y1="464.90" x2="364.60" y2="464.90" stroke="#666" stroke-width="0.7"/>
<text transform="translate(361.40,431.30) scale(1,1)" font-size="8.8" text-anchor="end" fill="#555">0.1</text>
<line x1="362.60" y1="428.10" x2="364.60" y2="428.10" stroke="#666" stroke-width="0.7"/>
<text transform="translate(361.40,394.50) scale(1,1)" font-size="8.8" text-anchor="end" fill="#555">0.2</text>
<line x1="362.60" y1="391.30" x2="364.60" y2="391.30" stroke="#666" stroke-width="0.7"/>
<text transform="translate(361.40,357.70) scale(1,1)" font-size="8.8" text-anchor="end" fill="#555">0.3</text>
<line x1="362.60" y1="354.50" x2="364.60" y2="354.50" stroke="#666" stroke-width="0.7"/>
<line x1="365.30" y1="578.20" x2="365.30" y2="579.80" stroke="#666" stroke-width="0.6"/>
<text transform="translate(368.30,586.20) scale(1,1)" font-size="8.8" text-anchor="middle" fill="#555">0.00</text>
<line x1="424.10" y1="578.20" x2="424.10" y2="579.80" stroke="#666" stroke-width="0.6"/>
<text transform="translate(427.10,586.20) scale(1,1)" font-size="8.8" text-anchor="middle" fill="#555">0.05</text>
<line x1="482.90" y1="578.20" x2="482.90" y2="579.80" stroke="#666" stroke-width="0.6"/>
<text transform="translate(485.90,586.20) scale(1,1)" font-size="8.8" text-anchor="middle" fill="#555">0.10</text>
<line x1="541.70" y1="578.20" x2="541.70" y2="579.80" stroke="#666" stroke-width="0.6"/>
<text transform="translate(544.70,586.20) scale(1,1)" font-size="8.8" text-anchor="middle" fill="#555">0.15</text>
<line x1="600.50" y1="578.20" x2="600.50" y2="579.80" stroke="#666" stroke-width="0.6"/>
<text transform="translate(603.50,586.20) scale(1,1)" font-size="8.8" text-anchor="middle" fill="#555">0.20</text>
<text transform="translate(493.70,605.30) scale(1,1)" font-size="12.2" text-anchor="middle" fill="#222">SNP effect on SCZ</text>
<text transform="translate(339.20,464.50) rotate(-90) scale(1,1)" font-size="12.2" text-anchor="middle" fill="#222">SNP effect on ASD</text>
<path d="M372 453H382M377 451V456M370 477H386M378 475V479M373 477H383M378 476V478M372 452H387M379 450V455M376 478H385M380 475V481M373 477H388M380 474V480M377 476H385M381 473V479M377 478H385M381 477V480M376 450H388M382 448V452M379 453H385M382 450V456M375 450H390M382 447V453M375 475H391M383 474V476M377 478H389M383 475V480M380 449H386M383 447V451M377 450H391M384 448V452M381 449H387M384 446V452M376 479H392M384 477V481M378 478H391M385 476V480M377 449H393M385 448V451M372 451H399M386 445V458M382 473H390M386 466V479M372 471H400M386 468V474M378 455H395M386 451V459M379 479H394M386 476V481M371 450H401M386 448V453M379 472H393M386 468V476M378 477H394M386 471V484M378 449H395M387 442V455M383 446H390M387 441V450M375 443H399M387 438V448M380 453H394M387 450V455M375 450H401M388 444V457M383 450H393M388 445V454M377 479H399M388 474V484M378 479H398M388 473V485M381 480H395M388 475V486M374 458H402M388 452V463M380 479H397M388 476V482M379 453H398M389 447V459M379 475H399M389 470V480M386 455H392M389 451V460M378 457H399M389 453V461M384 481H393M389 478V484M381 447H396M389 445V450M385 479H392M389 475V483M385 473H393M389 469V476M375 472H403M389 467V477M374 472H404M389 469V474M377 477H401M389 470V484M378 471H400M389 465V477M375 444H403M389 441V446M379 449H400M389 444V455M376 453H404M390 449V458M385 457H395M390 451V463M385 473H395M390 468V478M381 471H399M390 469V473M381 471H400M390 466V476M376 447H405M390 444V451M385 442H396M390 439V446M382 449H400M391 446V452M376 472H405M391 467V476M384 445H397M391 440V449M388 474H394M391 469V479M382 477H400M391 474V480M384 474H399M391 470V478M377 473H405M391 469V477M387 444H396M391 439V449M380 455H402M391 448V461M378 476H405M391 472V480M382 455H401M392 451V459M382 475H402M392 470V480M377 451H406M392 447V455M380 450H403M392 447V454M385 478H400M392 476V481M388 454H396M392 450V457M383 473H402M392 468V477M386 436H399M392 433V439M382 456H403M392 453V459M378 442H407M392 439V445M380 450H406M393 445V455M380 478H407M394 476V481M379 478H408M394 474V483M383 478H405M394 472V484M389 472H399M394 470V475M381 478H407M394 474V482M390 450H399M394 447V453M390 457H399M395 451V462M381 482H408M395 478V485M383 449H407M395 444V454M382 457H407M395 450V463M385 479H405M395 476V482M384 454H406M395 449V459M385 458H406M395 454V463M385 472H406M396 468V476M384 480H407M396 474V485M382 480H410M396 474V487M389 447H403M396 440V453M389 480H404M396 473V486M384 443H408M396 440V446M384 472H408M396 469V474M386 480H407M396 475V484M390 457H403M396 452V462M393 477H401M397 473V481M389 447H406M397 443V451M389 476H405M397 470V483M393 444H402M397 438V451M389 472H406M397 465V479M394 439H401M397 433V445M394 471H401M398 466V477M388 458H408M398 452V465M395 457H401M398 450V463M389 476H407M398 469V482M393 444H403M398 438V451M384 436H413M398 433V438M389 448H408M398 442V454M385 447H412M398 442V452M394 474H403M399 467V481M386 456H411M399 451V462M394 458H403M399 452V465M390 487H407M399 481V493M386 454H411M399 452V457M392 476H407M399 473V479M389 477H410M399 473V480M396 433H403M399 430V436M385 439H414M399 432V445M396 456H404M400 454V459M394 439H407M400 436V441M394 437H407M400 434V440M394 443H406M400 440V446M391 458H410M400 455V461M394 471H407M400 466V477M394 482H408M401 475V489M387 452H416M401 447V456M393 453H410M402 450V456M398 487H406M402 483V490M398 473H406M402 466V480M388 483H416M402 480V486M393 446H410M402 442V450M398 446H406M402 442V451M397 456H407M402 453V460M391 488H413M402 483V492M388 444H417M403 441V448M397 444H408M403 438V451M395 476H410M403 469V483M399 441H406M403 437V444M391 474H414M403 467V481M394 485H412M403 481V488M392 438H414M403 431V444M391 454H416M403 448V460M390 433H418M404 430V435M389 479H418M404 473V486M393 444H415M404 441V448M400 454H408M404 451V457M393 476H415M404 474V479M392 479H417M404 476V481M395 456H414M404 453V460M391 448H418M404 443V454M392 454H418M405 450V459M398 479H412M405 474V484M392 489H417M405 485V493M402 452H409M405 449V455M398 482H413M405 476V489M396 483H416M406 479V488M398 443H415M406 440V446M397 437H416M406 432V442M400 453H414M407 446V459M404 474H411M407 467V481M398 452H417M407 445V459M403 442H413M408 439V445M405 485H412M408 478V492M403 444H414M409 439V449M404 471H413M409 469V473M402 474H415M409 467V480M399 437H420M409 435V439M404 493H414M409 488V498M406 493H413M409 487V499M395 452H425M410 448V457M396 488H424M410 484V492M407 434H414M411 429V438M402 489H419M411 483V495M403 453H419M411 449V457M400 456H422M411 449V462M396 478H426M411 474V483M403 449H420M412 444V453M407 449H416M412 445V452M409 458H415M412 454V462M407 491H417M412 486V496M409 435H416M412 432V439M398 432H427M413 429V436M402 448H424M413 445V451M409 480H417M413 475V485M401 433H426M413 429V438M405 480H422M414 473V486M407 441H420M414 435V447M404 450H424M414 446V455M400 485H429M415 482V489M405 437H425M415 430V444M407 492H424M415 487V498M409 446H422M415 440V452M409 434H423M416 431V436M410 441H422M416 437V445M402 457H430M416 450V464M407 438H425M416 432V445M402 445H431M416 440V451M411 435H424M417 429V441M410 452H426M418 448V455M415 456H421M418 449V463M406 454H430M418 449V460M407 448H429M418 445V451M400 491H436M418 481V502M402 479H435M418 467V490M380 490H456M418 468V511M415 439H422M419 436V443M403 494H437M420 472V515M411 455H429M420 453V458M382 440H458M420 414V466M402 449H438M420 437V460M382 499H458M420 491V507M410 450H432M421 447V452M409 479H433M421 474V484M411 421H432M421 411V430M411 439H432M422 434V444M411 423H432M422 418V428M417 445H427M422 441V448M417 447H427M422 441V453M411 449H433M422 443V455M418 492H427M422 490V494M385 422H460M422 406V437M417 481H428M423 476V486M394 448H452M423 437V459M418 441H428M423 439V443M393 453H454M424 441V464M418 471H430M424 465V478M410 489H439M424 483V494M400 452H449M425 443V460M419 438H430M425 432V445M411 458H439M425 453V463M413 491H437M425 485V498M392 422H458M425 410V435M403 457H448M425 446V467M413 473H439M426 468V479M413 497H440M426 493V502M414 489H439M426 486V491M414 477H439M426 473V481M387 451H467M427 430V472M413 436H441M427 432V439M419 491H435M427 486V496M413 456H442M427 451V462M419 442H437M428 439V445M415 443H441M428 421V465M420 420H436M428 415V424M418 458H438M428 455V460M424 441H433M428 436V446M418 493H440M429 488V498M413 429H444M429 407V451M416 471H442M429 467V475M401 423H459M430 399V447M425 429H435M430 423V434M426 455H434M430 448V462M421 421H439M430 415V427M421 491H439M430 488V494M406 416H454M430 391V441M416 451H445M430 447V456M420 434H442M431 432V436M423 482H439M431 478V486M428 481H435M432 475V486M419 471H445M432 466V477M406 492H459M432 468V516M411 475H454M432 465V485M406 450H460M433 439V462M411 498H455M433 480V516M404 481H462M433 457V506M400 422H466M433 404V441M422 430H445M434 425V436M407 443H462M434 422V463M426 457H443M434 451V462M426 444H444M435 441V448M421 452H450M436 446V458M400 507H472M436 483V531M416 445H456M436 435V454M429 502H444M437 499V506M430 416H444M437 412V420M426 419H448M437 416V422M428 430H446M437 428V432M427 415H448M438 411V419M435 473H442M439 470V476M431 499H448M439 495V503M428 506H451M440 486V525M415 408H468M441 387V429M428 408H457M442 391V424M424 438H460M442 424V452M438 412H448M443 409V415M418 495H471M445 475V514M430 500H461M445 487V514M440 456H453M447 450V462M425 431H468M447 416V445M429 507H467M448 493V521M419 475H478M448 460V489M431 445H471M451 434V456M424 503H482M453 492V513M435 511H474M454 497V526M433 412H489M461 390V433M452 499H472M462 483V515M440 441H485M463 433V449M441 500H484M463 490V511M450 429H479M464 404V454M446 423H485M465 418V429M441 430H493M467 420V439M434 400H500M467 385V415M457 518H480M468 506V531M454 447H483M469 423V471M452 426H488M470 417V435M448 434H493M470 419V449M455 415H487M471 399V432M459 456H498M479 447V465M450 449H513M482 433V464M470 511H498M484 495V527M463 482H505M484 464V500M472 392H500M486 378V406M473 441H503M488 415V467M464 502H529M497 495V508M477 401H533M505 379V423M487 425H525M506 412V437M500 424H526M513 403V445M492 418H564M528 402V434" stroke="#4d78ff" stroke-width="1" stroke-opacity="0.06" fill="none"/>
<path d="M373 453H382M377 450V455M374 477H381M377 474V479M371 453H384M378 450V456M372 477H384M378 474V480M373 477H383M378 475V478M370 478H387M378 476V479M372 451H388M380 448V453M372 478H389M380 476V480M376 476H386M381 474V478M375 451H387M381 449V452M377 450H388M383 447V452M378 480H390M384 478V482M380 479H389M384 477V481M381 479H389M385 477V481M380 477H391M386 474V479M371 457H400M386 453V461M380 473H392M386 467V479M373 458H399M386 454V463M371 441H400M386 438V443M379 457H394M387 455V459M372 472H402M387 469V476M375 457H399M387 453V461M373 456H401M387 453V459M381 476H394M387 471V480M383 446H392M387 441V451M379 471H396M387 469V474M380 444H396M388 442V446M384 476H391M388 471V480M375 449H401M388 442V455M382 446H394M388 443V450M381 473H395M388 469V478M378 457H398M388 452V462M380 453H397M388 447V460M377 471H399M388 466V477M385 447H392M389 440V453M385 478H393M389 474V482M383 458H394M389 456V460M386 481H392M389 475V488M382 441H396M389 436V447M375 445H403M389 442V448M380 474H398M389 472V477M386 481H392M389 478V485M384 456H394M389 453V458M378 476H400M389 471V481M384 475H395M389 468V482M385 442H393M389 440V445M379 454H401M390 447V460M381 474H399M390 468V481M379 456H402M390 450V461M376 480H404M390 475V486M379 478H402M390 476V481M379 453H403M391 447V460M383 447H399M391 444V449M387 458H395M391 453V463M388 457H394M391 451V463M378 474H404M391 469V479M385 481H397M391 478V485M388 471H395M391 468V475M379 474H404M391 470V477M382 471H401M392 468V474M378 457H406M392 452V462M385 475H398M392 468V481M378 481H407M392 477V485M388 476H396M392 472V480M389 474H396M392 471V476M382 452H403M392 446V457M378 457H407M392 455V459M383 452H402M392 448V455M380 477H405M393 472V482M382 481H404M393 477V484M388 437H397M393 432V442M390 478H396M393 474V482M383 483H403M393 479V488M390 450H397M393 447V452M386 474H401M394 469V479M380 454H407M394 449V458M387 479H401M394 473V484M384 452H404M394 449V456M383 456H405M394 453V460M390 444H398M394 441V447M391 437H397M394 433V441M383 475H405M394 468V481M388 447H400M394 442V451M385 484H404M394 478V490M389 442H400M395 440V444M391 458H398M395 453V464M382 484H408M395 482V486M382 476H408M395 473V480M381 450H410M395 445V455M390 481H400M395 478V483M390 450H400M395 447V452M382 474H409M395 469V479M390 479H401M395 474V484M389 473H402M396 468V479M384 484H408M396 477V491M391 446H401M396 440V453M387 472H406M396 468V477M390 472H403M396 465V479M388 445H406M397 440V449M385 451H408M397 447V454M386 484H407M397 482V486M391 454H403M397 452V456M387 477H407M397 470V484M393 441H401M397 434V448M394 472H400M397 469V476M389 484H405M397 480V489M384 457H411M398 450V464M384 451H412M398 448V454M394 479H403M398 474V484M390 471H407M398 468V474M391 480H405M398 473V487M385 472H412M399 469V474M395 473H402M399 467V478M392 479H405M399 474V484M391 457H407M399 452V462M388 449H410M399 443V456M391 434H408M399 431V437M390 486H409M399 479V492M388 446H411M399 440V453M393 479H406M400 477V482M386 478H414M400 473V483M389 458H411M400 455V462M387 456H413M400 451V461M393 487H408M401 482V491M393 448H409M401 446V450M397 452H405M401 449V454M388 437H414M401 435V439M397 474H406M401 468V481M391 457H412M401 452V462M392 443H411M402 436V450M388 433H416M402 428V439M388 430H416M402 426V434M392 471H412M402 468V474M389 476H415M402 471V481M398 430H407M403 423V437M398 454H408M403 447V460M400 452H407M403 446V459M397 471H410M403 465V476M391 438H416M403 431V444M396 448H411M403 443V453M399 457H408M404 454V460M391 457H416M404 454V459M400 482H407M404 477V486M394 476H413M404 470V482M395 482H413M404 477V488M401 472H408M404 469V475M392 450H416M404 444V457M395 483H415M405 478V488M391 430H419M405 428V432M395 476H416M405 472V480M400 491H412M406 486V497M400 456H412M406 452V460M397 444H416M407 438V450M401 482H413M407 478V486M402 435H412M407 430V440M400 435H414M407 430V440M392 433H422M407 429V437M394 448H421M407 445V450M403 434H412M408 430V437M401 442H414M408 437V447M398 455H418M408 452V457M396 450H420M408 447V453M405 488H412M409 485V490M403 458H415M409 454V463M397 442H420M409 437V447M406 445H414M410 442V448M404 456H416M410 449V462M400 429H421M411 425V434M406 437H415M411 431V443M402 454H421M411 447V461M401 490H422M411 487V492M407 458H416M411 454V462M404 433H419M411 431V435M403 428H421M412 426V430M408 480H416M412 478V482M406 490H418M412 485V495M401 441H425M413 438V443M401 472H426M413 468V477M409 456H418M414 452V460M403 486H424M414 484V488M401 441H426M414 436V446M402 452H426M414 448V455M411 492H417M414 490V494M407 425H421M414 420V429M408 450H420M414 446V453M411 448H418M415 445V451M411 480H419M415 475V486M409 436H421M415 429V442M405 446H425M415 439V452M406 479H425M416 474V484M412 455H420M416 448V462M410 456H423M417 449V462M407 444H427M417 438V451M403 448H430M417 445V451M403 447H430M417 444V449M409 433H426M417 426V439M414 452H421M417 447V457M403 487H432M418 483V491M401 475H435M418 450V499M410 428H426M418 424V431M411 484H426M418 482V487M405 452H431M418 446V457M410 478H427M418 474V481M384 487H453M419 467V506M404 497H433M419 490V503M396 493H442M419 478V508M407 429H430M419 424V435M405 486H432M419 479V492M405 475H433M419 472V478M409 473H429M419 466V480M415 440H424M420 433V447M410 450H429M420 447V454M411 437H429M420 435V439M416 440H423M420 438V443M415 447H424M420 441V453M407 477H433M420 474V479M393 422H447M420 397V446M390 452H450M420 432V471M387 442H454M420 416V467M388 482H452M420 458V507M405 432H435M420 412V453M416 432H424M420 428V435M416 472H424M420 467V477M410 429H431M421 405V453M413 490H428M421 485V495M408 491H433M421 488V494M408 485H435M421 483V488M412 457H431M421 443V471M416 433H427M422 429V438M407 486H436M422 483V488M392 428H452M422 407V449M412 427H432M422 421V433M409 474H435M422 468V481M409 419H436M422 405V434M390 449H456M423 441V457M417 421H428M423 418V424M411 458H435M423 455V462M419 482H427M423 476V489M420 445H427M423 438V452M412 423H435M424 418V428M416 471H432M424 467V475M412 444H435M424 438V450M411 422H438M424 417V428M415 479H433M424 476V482M389 499H460M424 488V511M411 435H438M425 430V441M411 449H439M425 446V451M412 477H438M425 472V482M418 490H432M425 484V496M389 445H462M425 419V471M418 436H434M426 434V439M419 472H434M427 470V475M419 432H434M427 430V435M419 472H435M427 467V478M415 481H440M428 477V485M407 431H450M428 410V451M424 440H433M428 434V445M418 448H439M429 444V452M421 431H437M429 428V434M423 433H435M429 427V438M418 442H442M430 440V444M420 484H439M430 481V486M394 483H467M431 463V503M422 486H440M431 476V495M423 455H441M432 450V459M413 507H452M432 497V517M428 449H436M432 443V456M422 424H443M432 418V430M423 419H443M433 414V423M426 482H441M433 478V486M423 417H444M433 410V424M428 500H440M434 488V512M424 435H446M435 431V439M431 432H438M435 428V436M430 458H440M435 454V462M427 431H443M435 425V436M398 489H473M435 482V496M421 496H449M435 474V519M424 421H448M436 416V426M427 490H445M436 484V495M430 421H442M436 416V426M433 456H440M437 450V461M430 414H443M437 411V417M428 427H447M437 420V433M424 487H451M437 484V490M426 419H449M438 413V425M425 474H452M439 471V477M433 450H446M439 444V456M414 472H465M440 454V490M426 445H455M440 438V451M419 503H462M441 494V513M436 429H446M441 425V433M418 442H464M441 434V449M431 472H452M441 462V481M437 414H447M442 409V419M431 451H455M443 447V455M429 420H457M443 413V427M431 423H458M444 412V434M436 421H454M445 415V428M435 421H458M447 398V444M420 430H479M449 421V440M428 402H472M450 394V410M431 450H469M450 430V469M442 402H461M452 395V408M442 438H466M454 423V453M430 426H478M454 415V436M447 438H464M456 420V456M449 370H473M461 345V395M444 448H479M462 440V456M437 414H490M464 391V437M454 430H477M465 421V438M452 480H482M467 468V492M448 444H489M469 429V458M465 448H486M476 440V456M465 415H490M478 395V435M446 396H511M479 371V420M472 481H490M481 456V506M449 482H515M482 463V501M469 515H496M483 501V529M459 479H533M496 467V492M488 405H508M498 395V415M483 446H524M504 433V459M469 421H541M505 409V432M472 439H551M512 427V452M511 489H571M541 469V509" stroke="#4d78ff" stroke-width="1" stroke-opacity="0.06" fill="none"/>
<path d="M371 476H384M377 475V478M370 453H385M378 450V456M373 452H383M378 450V454M372 451H386M379 448V454M374 451H386M380 449V452M372 478H388M380 477V480M377 480H388M383 477V482M378 478H390M384 476V481M377 477H391M384 474V480M379 451H389M384 449V453M380 448H390M385 446V449M376 477H394M385 474V480M380 450H391M385 448V451M373 476H399M386 474V479M374 454H397M386 448V461M376 479H396M386 475V484M379 480H393M386 474V486M376 443H397M387 439V447M376 471H398M387 466V476M377 473H397M387 470V476M381 450H393M387 446V455M380 440H394M387 435V444M375 472H399M387 469V475M373 457H402M387 451V462M379 441H395M387 439V444M380 458H395M388 455V460M382 451H394M388 448V454M377 454H399M388 448V461M374 452H402M388 446V459M379 454H397M388 448V460M382 447H395M388 442V452M378 442H399M388 437V448M384 454H393M388 449V458M384 446H393M388 443V449M381 477H396M389 473V481M382 476H396M389 471V481M378 451H399M389 445V457M380 458H397M389 453V463M378 475H400M389 472V477M375 478H403M389 475V480M379 452H399M389 449V455M382 458H396M389 453V464M380 458H399M389 452V465M377 471H402M389 467V475M386 475H393M389 473V478M384 458H396M390 454V461M378 477H401M390 473V480M382 472H398M390 469V474M379 479H401M390 473V486M378 471H402M390 466V477M380 453H400M390 448V457M382 454H400M391 450V459M379 471H402M391 468V474M384 474H397M391 468V480M387 446H395M391 441V452M387 478H395M391 472V485M376 458H406M391 454V462M387 472H396M392 468V476M380 482H403M392 479V485M379 442H406M392 439V445M385 479H399M392 472V485M388 455H397M392 453V457M380 475H405M393 470V481M382 482H403M393 476V487M384 444H401M393 441V447M382 444H405M393 441V448M378 472H408M393 467V477M383 471H403M393 465V477M386 445H401M393 441V448M380 481H407M394 479V484M384 458H403M394 455V462M384 441H404M394 434V448M386 457H403M394 453V462M383 458H406M394 456V460M384 458H405M395 454V462M390 454H400M395 450V457M383 474H406M395 469V480M391 448H399M395 444V453M381 452H409M395 448V455M387 482H403M395 476V488M390 435H401M395 433V438M387 480H403M395 477V484M390 446H401M395 442V449M388 485H403M396 481V488M390 458H402M396 454V462M383 454H409M396 449V458M386 442H406M396 436V449M391 458H401M396 454V463M390 435H403M396 431V439M393 442H400M396 436V448M389 449H404M396 443V454M384 471H409M397 469V473M391 458H402M397 455V461M386 454H407M397 447V460M384 449H410M397 446V452M383 444H411M397 442V447M385 477H409M397 472V483M390 484H405M397 481V486M390 433H405M397 427V440M394 476H401M397 472V480M391 443H404M398 440V446M390 473H406M398 470V476M386 475H410M398 471V478M393 478H404M398 471V485M389 484H408M399 481V486M384 454H413M399 448V460M390 479H408M399 475V483M388 442H410M399 437V446M395 454H403M399 452V456M387 479H411M399 477V481M395 458H403M399 451V464M389 479H410M399 474V484M391 475H409M400 472V479M387 440H413M400 434V446M389 457H411M400 452V462M394 472H407M400 468V476M388 485H413M400 482V488M389 458H411M400 451V464M393 458H408M400 456V461M392 473H409M401 468V479M394 483H407M401 478V487M389 455H412M401 452V459M393 432H408M401 428V435M392 475H409M401 468V482M392 475H410M401 471V479M390 449H413M401 444V454M393 487H410M401 484V490M388 454H415M401 448V460M390 452H414M402 447V457M389 448H415M402 445V452M398 472H405M402 466V479M389 446H415M402 441V452M396 473H408M402 466V479M390 448H414M402 442V455M392 436H413M403 430V443M396 456H409M403 452V460M391 449H414M403 446V452M390 452H415M403 446V458M390 444H416M403 441V447M398 472H408M403 469V474M394 442H412M403 438V446M398 475H408M403 472V477M389 449H417M403 444V454M397 473H410M403 471V475M391 484H416M404 482V487M393 450H414M404 445V455M395 451H412M404 445V458M391 440H416M404 434V446M396 457H412M404 454V461M393 433H414M404 429V437M400 446H408M404 440V451M401 473H408M404 466V479M397 430H412M404 425V435M390 431H420M405 424V438M398 489H411M405 485V493M392 456H417M405 450V463M398 437H412M405 434V441M400 430H411M405 426V434M391 455H421M406 450V460M394 478H419M406 474V483M394 453H419M406 450V456M403 457H410M407 451V464M397 491H417M407 485V497M404 482H410M407 479V485M402 446H411M407 443V449M395 453H419M407 450V455M398 478H417M407 475V481M397 477H418M407 471V484M404 445H411M407 442V448M399 485H416M408 479V491M398 431H417M408 426V436M400 431H417M409 427V434M402 482H416M409 477V487M395 489H423M409 483V496M395 483H424M409 480V487M406 484H413M410 477V491M399 440H421M410 434V445M406 472H414M410 466V479M397 490H426M411 485V494M408 442H415M411 437V447M399 485H425M412 481V489M400 431H425M412 427V434M401 430H424M412 424V437M402 474H423M412 472V476M398 447H427M413 445V449M408 481H417M413 474V487M401 434H425M413 432V436M403 427H424M414 424V430M403 478H424M414 475V482M406 477H422M414 474V480M407 443H422M414 440V446M410 427H418M414 422V432M405 475H423M414 472V479M402 438H427M415 433V443M408 443H421M415 441V445M400 445H429M415 441V449M401 434H428M415 427V440M402 443H429M415 437V450M404 452H427M416 447V457M407 434H425M416 428V441M411 496H423M417 493V500M381 476H455M418 450V502M409 472H427M418 448V495M393 489H443M418 476V501M406 491H431M418 485V496M390 494H447M418 477V511M410 480H428M419 476V485M414 433H424M419 427V439M416 425H422M419 418V431M411 472H428M419 470V475M407 472H432M419 469V476M399 477H440M419 457V497M385 496H454M419 483V510M409 497H430M420 484V510M383 499H456M420 479V518M382 478H457M420 469V486M411 434H429M420 431V437M390 474H450M420 462V487M406 441H433M420 437V445M411 456H428M420 452V460M383 427H457M420 407V447M411 422H429M420 415V430M381 428H460M420 406V450M412 494H431M421 491V498M415 428H428M421 425V431M410 452H432M421 434V470M414 442H429M422 435V448M413 444H431M422 437V451M404 447H440M422 434V459M409 431H435M422 429V433M402 478H442M422 462V493M414 425H430M422 419V432M413 483H432M422 480V486M409 445H436M423 440V449M392 417H455M423 393V441M403 453H444M423 446V459M411 445H436M424 440V450M413 455H434M424 451V459M417 423H432M424 416V430M412 496H437M425 493V499M412 491H438M425 484V497M416 495H434M425 488V501M420 481H430M425 477V484M413 454H437M425 447V460M420 438H431M425 434V441M417 442H435M426 435V449M414 456H438M426 452V459M413 477H438M426 474V479M422 438H429M426 431V445M415 497H436M426 491V504M414 455H438M426 448V462M421 471H431M426 466V476M421 455H431M426 448V462M413 457H439M426 434V479M399 456H455M427 444V469M388 420H466M427 397V443M415 472H441M428 469V476M422 449H435M429 444V454M423 476H435M429 473V479M423 435H435M429 430V439M421 431H437M429 429V434M415 449H444M429 446V453M418 428H441M430 422V433M424 426H436M430 419V432M418 489H446M432 486V492M429 476H437M433 471V482M427 424H439M433 420V428M423 503H444M433 500V506M419 424H448M433 418V429M419 450H449M434 447V453M426 449H443M434 425V474M424 479H445M435 475V482M429 457H441M435 455V460M426 436H444M435 429V442M427 441H444M435 435V448M429 443H442M436 436V449M423 448H449M436 443V453M411 474H463M437 464V484M430 447H444M437 442V453M427 504H449M438 500V508M399 490H476M438 483V496M431 504H445M438 499V509M434 490H442M438 485V495M431 504H446M438 490V517M430 452H447M439 445V458M428 496H451M440 481V510M435 420H446M441 414V426M413 455H469M441 441V469M428 433H455M441 426V440M432 443H451M442 440V447M415 423H469M442 412V434M438 456H448M443 449V462M432 455H459M446 449V461M437 433H456M446 422V445M424 483H470M447 468V498M418 477H477M447 466V488M439 504H456M448 490V519M431 406H465M448 390V422M415 487H490M452 471V503M416 426H489M453 408V444M424 426H483M454 418V433M446 432H462M454 413V451M439 447H475M457 430V463M448 423H469M458 414V431M425 496H494M459 476V517M430 513H495M463 499V527M443 516H483M463 507V526M459 414H475M467 407V420M446 432H492M469 417V446M436 504H503M469 497V512M458 538H482M470 524V554M452 400H492M472 385V414M465 436H482M473 426V447M440 449H509M474 428V470M447 432H504M476 426V439M459 489H493M476 465V512M467 419H487M477 411V428M467 478H502M485 462V494M478 521H498M488 509V533M485 514H510M498 489V539M466 433H542M504 407V459M476 444H540M508 429V459M477 442H542M509 430V455M493 437H554M523 413V461" stroke="#4d78ff" stroke-width="1" stroke-opacity="0.06" fill="none"/>
<path d="M371 477H383M377 474V479M372 453H382M377 451V454M370 476H385M377 475V478M374 452H381M377 450V454M369 477H386M378 475V479M374 476H382M378 474V479M370 452H387M378 450V454M372 478H385M379 476V480M371 477H386M379 475V478M373 451H386M379 448V453M373 451H386M379 449V453M376 453H383M380 452V454M373 478H387M380 477V480M373 451H387M380 449V454M372 451H388M380 449V453M377 452H383M380 450V453M374 450H388M381 448V453M378 450H385M381 448V453M375 450H389M382 447V452M380 449H386M383 446V452M376 453H391M384 451V454M378 480H390M384 478V481M379 449H391M385 448V451M377 448H394M385 446V450M373 449H398M386 444V454M374 479H397M386 474V485M382 473H390M386 468V478M375 477H397M386 470V484M377 450H395M386 445V455M380 472H392M386 466V478M379 474H393M386 471V477M378 445H394M386 438V451M381 471H392M387 467V474M377 471H396M387 465V478M382 451H392M387 448V455M372 474H402M387 469V480M372 455H402M387 450V461M382 476H393M388 469V483M381 444H395M388 437V450M378 458H398M388 452V464M377 481H399M388 479V484M375 477H401M388 475V480M381 477H396M388 471V484M383 456H394M388 450V462M374 454H403M389 450V457M377 477H400M389 474V479M376 471H401M389 466V476M375 458H403M389 453V462M381 479H397M389 473V485M379 476H400M390 473V480M378 446H401M390 441V452M386 471H393M390 469V473M382 447H397M390 442V453M376 455H403M390 451V459M378 472H402M390 469V475M376 473H403M390 467V478M383 443H397M390 438V448M376 475H404M390 469V481M375 480H405M390 476V484M382 472H398M390 469V475M378 458H402M390 453V463M381 473H400M390 468V477M382 457H399M391 455V459M381 474H401M391 471V478M380 450H401M391 444V455M376 449H406M391 443V454M384 480H398M391 474V486M387 478H395M391 473V483M379 475H404M391 470V480M379 446H404M391 443V449M378 477H405M391 474V480M382 482H401M391 476V489M379 448H405M392 444V452M385 473H400M393 470V477M387 448H398M393 442V454M386 477H399M393 474V480M387 480H398M393 475V485M385 474H401M393 468V481M388 475H398M393 469V481M389 451H397M393 448V454M383 444H404M393 441V446M383 483H404M394 479V487M379 457H408M394 452V462M383 445H404M394 443V448M388 480H400M394 477V482M391 475H397M394 470V480M389 437H400M394 433V441M385 473H403M394 469V476M385 453H403M394 450V456M386 452H403M395 447V457M387 445H403M395 440V450M386 449H404M395 446V451M386 478H404M395 476V481M389 443H401M395 441V446M385 475H405M395 470V480M382 478H410M396 473V483M387 440H405M396 437V443M388 475H404M396 473V478M382 452H409M396 449V455M388 440H404M396 437V443M382 446H410M396 440V451M392 439H400M396 434V444M393 438H400M396 432V445M386 446H407M397 441V451M386 480H407M397 477V484M387 451H407M397 446V456M393 478H401M397 475V482M383 449H410M397 446V452M387 456H407M397 452V460M387 482H408M397 478V485M383 478H411M397 475V482M390 458H404M397 454V462M392 455H403M397 453V458M387 454H408M398 449V459M387 441H409M398 438V444M384 442H413M398 436V447M387 455H409M398 450V459M391 480H409M400 474V487M388 443H411M400 437V450M388 483H412M400 481V485M391 478H408M400 473V482M391 453H409M400 447V458M392 437H408M400 435V440M387 450H413M400 447V453M389 488H412M400 485V490M390 484H410M400 478V490M391 439H411M401 434V445M395 458H407M401 454V462M389 450H412M401 445V456M392 485H410M401 478V492M398 484H405M402 479V489M391 436H413M402 432V440M398 472H405M402 469V475M399 475H405M402 469V482M387 450H417M402 443V456M394 455H410M402 450V460M393 453H412M402 446V460M398 472H407M402 467V476M395 476H409M402 471V482M389 480H417M403 476V484M395 479H411M403 473V485M393 474H413M403 470V477M397 477H410M403 473V481M398 472H410M404 467V477M392 455H415M404 451V459M399 438H408M404 433V443M396 440H412M404 433V446M396 451H413M404 446V456M399 481H411M405 475V488M398 444H411M405 438V450M392 490H417M405 485V494M394 446H416M405 441V451M393 432H418M405 429V436M398 440H412M405 435V446M401 443H411M406 439V447M402 442H409M406 436V447M391 482H420M406 479V485M401 486H411M406 483V490M395 457H417M406 451V464M397 475H417M407 468V482M393 433H421M407 430V436M401 485H413M407 479V491M395 453H419M407 449V457M401 445H414M407 439V451M396 482H420M408 477V487M404 456H414M409 451V462M397 490H421M409 484V496M404 428H414M409 424V432M403 451H415M409 447V456M404 483H415M409 479V488M406 438H413M410 433V443M402 484H420M411 480V487M406 432H416M411 427V436M398 438H425M411 432V443M408 437H415M411 434V439M399 445H426M412 438V451M408 455H418M413 450V459M404 453H422M413 448V458M409 456H419M414 452V460M408 471H421M414 466V476M409 484H420M415 482V487M408 471H423M415 466V476M407 447H424M415 441V453M402 454H429M416 448V460M401 453H431M416 450V456M401 447H431M416 442V452M405 457H429M417 452V463M414 444H420M417 440V447M407 439H427M417 436V442M408 457H427M417 454V459M411 472H424M417 465V478M409 481H426M418 477V484M408 448H428M418 442V454M407 481H429M418 462V501M415 430H421M418 427V434M385 494H452M418 478V511M395 488H442M418 480V497M382 497H455M418 474V520M409 472H429M419 469V476M410 487H428M419 484V490M408 472H430M419 465V478M413 442H425M419 438V445M410 453H428M419 448V457M415 426H424M419 420V432M413 434H426M420 431V436M408 450H431M420 448V453M399 495H441M420 478V512M415 477H425M420 471V482M404 438H436M420 414V462M381 437H459M420 426V448M394 425H447M420 402V449M408 489H432M420 486V492M384 438H457M420 424V453M408 455H434M421 451V460M407 485H435M421 478V491M413 495H430M421 491V499M415 439H428M422 436V443M418 436H425M422 430V441M411 446H433M422 440V451M405 426H439M422 412V439M419 424H426M422 421V426M403 450H442M422 427V473M411 475H434M423 470V480M386 472H459M423 461V483M410 490H436M423 484V496M409 441H437M423 437V444M409 471H438M423 465V477M419 450H427M423 446V454M417 457H429M423 451V463M410 492H436M423 487V498M416 449H431M424 443V455M419 449H428M424 447V452M415 491H433M424 487V494M420 474H428M424 468V479M410 474H438M424 467V480M412 473H437M424 470V475M413 443H437M425 437V449M418 480H432M425 474V485M415 448H435M425 445V450M416 442H434M425 439V445M412 494H439M425 488V499M417 449H434M425 438V460M418 476H434M426 473V479M422 441H430M426 437V445M413 421H441M427 417V424M423 483H431M427 477V489M421 499H433M427 493V505M416 472H439M428 469V476M417 444H439M428 439V450M414 426H444M429 405V447M416 482H442M429 480V484M420 495H438M429 492V497M398 429H461M429 414V445M424 417H435M430 414V420M427 477H433M430 471V484M419 433H441M430 430V436M426 431H434M430 425V436M399 443H461M430 429V457M426 474H435M430 471V477M425 477H436M431 473V481M426 429H436M431 424V434M418 454H445M431 451V458M418 482H446M432 480V484M425 450H440M433 448V453M420 436H446M433 433V439M430 433H437M433 428V439M420 486H447M433 479V493M430 439H437M433 434V444M426 474H442M434 467V482M420 441H448M434 437V446M407 499H461M434 487V511M430 437H439M435 433V441M420 433H449M435 429V436M412 409H458M435 388V430M421 478H451M436 469V486M415 509H458M436 494V523M402 473H473M438 461V484M425 440H451M438 434V446M428 499H448M438 492V505M425 424H451M438 422V426M404 490H473M439 473V507M426 447H452M439 440V453M436 453H443M439 450V455M426 431H452M439 425V438M405 445H475M440 435V455M418 442H463M440 426V458M428 438H453M441 432V445M432 429H450M441 423V435M428 440H455M441 434V446M422 504H463M443 494V514M434 428H451M443 426V431M435 428H451M443 421V435M437 436H450M444 433V438M436 435H463M450 426V444M431 398H471M451 381V415M443 430H461M452 418V443M441 452H463M452 446V458M434 506H470M452 489V522M437 416H472M454 408V425M422 437H491M457 419V455M431 443H482M457 428V458M426 409H488M457 399V420M440 484H475M458 476V492M451 487H470M460 471V503M434 481H494M464 464V498M452 427H476M464 418V435M439 436H491M465 416V456M451 397H480M465 373V420M460 417H474M467 402V431M446 480H490M468 469V491M461 502H491M476 495V508M465 417H487M476 404V430M454 422H500M477 408V437M453 416H501M477 400V432M464 420H491M478 413V426M465 390H492M479 383V398M476 449H499M488 427V471M458 394H518M488 374V414M472 489H518M495 476V501M480 395H522M501 369V420M487 410H517M502 397V423M471 435H543M507 412V458M480 400H536M508 375V426M503 420H552M528 408V432" stroke="#4d78ff" stroke-width="1" stroke-opacity="0.06" fill="none"/>
<path d="M373 454H383M378 452V456M370 453H388M379 450V456M375 453H386M380 450V456M374 476H390M382 474V478M375 476H389M382 475V477M379 479H386M382 476V481M379 450H386M382 448V452M379 449H387M383 448V450M379 478H388M384 476V480M377 453H392M384 450V456M378 447H393M386 442V451M382 479H389M386 472V486M380 471H391M386 468V475M377 471H396M386 468V474M371 442H401M386 439V445M378 473H395M386 468V477M377 471H395M386 468V475M379 472H394M386 470V474M381 457H392M387 454V460M383 476H391M387 471V480M376 441H398M387 435V447M374 479H401M387 475V484M382 475H393M387 471V479M376 472H399M388 466V478M375 480H401M388 473V486M379 476H396M388 471V480M373 457H403M388 452V463M374 458H402M388 453V462M384 478H392M388 473V484M379 456H397M388 450V463M381 480H395M388 477V483M385 476H392M388 473V480M376 442H401M388 435V449M376 447H401M388 442V452M377 476H401M389 470V483M383 478H394M389 474V482M374 453H403M389 451V455M376 456H401M389 451V460M384 476H394M389 472V480M384 438H394M389 435V440M385 457H393M389 454V460M378 458H400M389 451V465M378 452H400M389 447V458M380 456H400M390 450V463M377 455H403M390 450V460M384 440H395M390 436V445M377 453H403M390 446V459M379 477H401M390 472V483M377 438H404M390 434V443M384 456H396M390 449V462M386 481H395M391 478V483M380 478H401M391 476V480M386 442H395M391 438V446M385 437H396M391 431V442M380 457H402M391 453V461M380 441H402M391 437V445M380 473H402M391 470V475M380 473H402M391 468V478M381 480H401M391 476V485M377 451H405M391 449V454M383 482H399M391 479V485M384 455H398M391 452V457M385 479H398M391 475V482M388 454H395M391 451V457M377 439H406M392 435V443M377 451H406M392 447V455M385 452H398M392 450V454M380 450H404M392 448V452M385 482H399M392 475V488M379 472H405M392 467V476M386 450H398M392 445V454M387 458H398M393 456V461M389 455H397M393 448V461M384 451H402M393 449V453M383 439H404M393 434V444M383 444H404M393 442V447M386 480H401M394 474V487M381 443H407M394 439V448M383 481H404M394 479V483M388 480H400M394 477V483M391 449H397M394 442V455M386 457H402M394 455V459M380 438H408M394 434V443M389 437H400M394 430V444M383 474H405M394 468V481M389 477H400M395 471V483M384 472H405M395 466V477M386 473H404M395 470V477M389 447H401M395 441V453M387 475H404M395 472V478M388 441H403M395 435V447M392 474H398M395 467V481M388 450H403M395 445V455M387 480H404M395 476V484M391 450H400M396 444V456M387 441H405M396 438V444M392 449H400M396 443V454M384 445H408M396 441V448M385 478H407M396 476V480M388 447H405M396 443V451M391 439H402M396 434V444M385 472H408M396 466V479M389 441H404M397 439V444M382 456H411M397 450V461M393 458H400M397 451V465M389 455H405M397 449V461M392 483H402M397 478V488M387 437H408M397 431V444M389 446H407M398 443V449M386 473H410M398 468V478M389 487H408M398 481V492M388 440H408M398 437V443M393 454H404M398 448V460M387 475H410M398 472V478M392 454H405M399 449V459M390 433H408M399 429V437M389 444H410M399 438V449M394 432H405M399 426V439M388 434H411M399 428V439M389 456H410M399 451V461M389 475H410M400 469V480M388 448H411M400 443V454M388 476H412M400 473V479M389 488H411M400 485V490M386 443H414M400 439V447M389 475H411M400 473V477M393 474H408M400 472V476M394 454H407M400 451V457M395 471H406M401 467V474M398 477H404M401 472V481M394 456H410M402 450V463M393 454H411M402 448V461M394 480H411M402 474V486M388 455H416M402 451V460M392 442H413M403 437V447M399 434H407M403 431V437M390 433H417M403 428V437M392 452H416M404 447V458M393 458H414M404 454V463M399 431H408M404 426V437M398 475H410M404 469V482M395 478H413M404 476V481M400 448H410M405 443V453M399 471H411M405 468V475M393 479H417M405 474V483M394 458H416M405 451V464M391 479H419M405 475V483M395 490H416M406 486V494M393 475H418M406 469V480M398 480H414M406 473V486M393 471H420M406 466V477M401 480H412M407 477V483M397 429H417M407 426V431M395 449H419M407 447V451M397 450H417M407 444V457M399 450H416M407 447V454M398 428H417M408 424V431M404 471H411M408 466V476M403 471H413M408 465V477M398 455H417M408 450V459M393 487H423M408 481V493M400 476H417M409 473V479M395 471H422M409 465V477M402 445H415M409 439V451M402 476H416M409 473V480M395 484H423M409 477V490M395 454H423M409 449V458M398 452H420M409 448V456M406 474H413M409 470V477M403 480H415M409 478V482M396 458H423M409 451V464M402 477H417M409 471V482M398 442H422M410 438V446M396 453H423M410 449V457M400 491H420M410 488V495M398 471H422M410 467V475M395 428H425M410 422V435M404 490H417M410 487V494M407 436H414M410 430V442M399 487H422M411 485V490M397 451H425M411 447V455M399 445H423M411 441V450M407 494H415M411 488V499M406 477H416M411 472V482M404 482H419M412 478V487M403 458H421M412 454V462M405 478H420M413 472V484M401 443H425M413 436V449M403 484H424M413 477V490M407 477H420M414 470V483M406 485H422M414 481V489M401 493H427M414 488V498M403 476H426M414 470V482M401 447H428M415 444V449M408 443H421M415 440V446M407 458H422M415 454V462M405 457H425M415 451V462M401 488H429M415 485V491M411 432H420M415 429V436M403 451H427M415 447V456M406 458H425M416 455V461M403 494H429M416 489V500M406 449H427M416 446V452M413 425H421M417 419V431M403 450H431M417 447V454M405 496H430M418 491V502M409 447H426M418 442V453M409 456H426M418 450V461M406 443H429M418 438V448M399 477H437M418 460V493M408 492H428M418 488V496M413 439H424M418 434V443M404 485H433M419 479V491M392 477H445M419 460V493M387 497H451M419 471V522M411 481H427M419 472V490M407 444H432M419 439V448M407 491H432M420 484V498M388 451H452M420 430V472M384 421H456M420 409V433M410 431H430M420 412V450M415 496H426M420 494V499M410 423H431M420 421V425M389 424H451M420 415V433M414 478H427M420 475V481M383 458H459M421 432V483M415 452H427M421 449V455M409 421H433M421 416V426M413 473H429M421 470V476M407 495H435M421 490V501M391 445H452M422 425V465M416 452H428M422 448V456M410 472H433M422 468V477M412 431H432M422 425V437M413 455H431M422 453V457M411 455H434M422 449V461M418 487H427M423 485V490M414 484H432M423 479V488M420 485H427M424 479V491M410 433H438M424 411V456M417 426H431M424 424V428M420 456H428M424 450V463M408 472H440M424 450V493M397 421H452M424 408V435M418 439H430M424 437V442M395 496H454M425 470V521M418 455H432M425 452V458M415 452H436M426 446V459M420 456H432M426 450V461M415 492H437M426 486V497M414 425H438M426 420V431M399 449H455M427 441V456M413 494H442M427 491V496M418 430H438M428 425V435M397 499H460M428 487V511M415 482H442M429 465V498M419 446H438M429 442V451M421 455H437M429 452V459M418 493H439M429 487V499M426 420H433M429 416V425M425 456H434M429 449V462M407 432H452M429 406V457M426 458H434M430 454V463M426 433H435M430 429V437M426 440H435M430 436V445M420 438H442M431 434V442M426 429H438M432 423V435M394 507H470M432 491V523M423 435H442M433 432V438M424 442H443M434 440V444M429 497H441M435 494V499M426 443H443M435 440V446M421 480H449M435 474V486M411 445H459M435 431V458M414 489H457M436 481V497M427 440H444M436 421V458M430 441H443M436 435V447M424 451H449M437 445V457M433 458H441M437 454V461M423 495H452M437 490V501M427 493H449M438 487V499M434 454H443M438 452V456M436 443H443M440 440V447M404 434H476M440 423V445M412 496H468M440 480V512M419 447H461M440 433V461M430 411H453M441 409V414M419 453H465M442 439V468M429 441H458M444 436V445M437 431H454M445 427V436M438 431H456M447 426V437M437 446H458M448 444V448M435 449H461M448 444V453M444 458H453M448 454V461M420 437H479M449 429V445M443 474H459M451 468V481M427 399H475M451 378V420M424 451H481M453 428V473M438 481H468M453 466V496M416 501H491M453 493V510M445 536H465M455 520V550M437 504H474M455 483V525M440 443H471M456 437V448M425 396H488M457 371V421M439 420H475M457 405V435M441 505H473M457 492V518M446 435H473M460 420V450M445 412H484M464 398V426M458 388H482M470 374V402M432 415H510M471 392V439M449 477H504M477 460V494M466 509H496M481 492V526M460 491H506M483 474V508M458 435H509M484 429V442M480 396H500M490 386V406M479 483H507M493 458V507M466 437H533M499 411V462M490 542H510M500 528V558M483 422H520M502 412V431M481 427H525M503 403V450M479 497H529M504 472V522M495 513H515M505 501V525M484 409H542M513 383V435M521 424H551M536 414V434" stroke="#4d78ff" stroke-width="1" stroke-opacity="0.06" fill="none"/>
<path d="M372 454H383M377 451V456M369 477H386M378 474V480M371 476H385M378 474V477M374 451H383M379 449V454M374 475H385M379 474V476M376 477H384M380 474V480M373 476H388M380 474V477M376 479H385M381 477V481M375 453H387M381 451V455M375 479H390M382 476V482M375 450H390M383 449V451M374 454H392M383 452V455M377 478H392M385 476V481M379 452H390M385 450V453M379 447H391M385 445V450M371 455H400M386 449V461M380 454H391M386 451V457M378 445H394M386 440V450M377 471H395M386 465V477M380 450H392M386 443V457M382 471H390M386 469V474M378 445H394M386 440V450M376 474H397M386 472V477M374 476H399M386 472V479M374 451H399M387 449V454M376 473H397M387 469V477M372 444H402M387 439V449M377 474H398M387 471V478M383 452H392M387 446V458M375 452H401M388 448V456M384 453H392M388 449V457M380 439H396M388 434V443M380 481H396M388 476V485M380 454H396M388 448V460M379 452H398M388 448V456M379 474H398M389 471V478M377 456H401M389 450V462M374 450H404M389 446V455M377 441H401M389 436V446M376 443H402M389 441V445M381 473H397M389 471V476M375 449H403M389 443V456M379 458H400M389 453V463M384 480H395M389 475V485M385 480H394M389 477V483M385 454H394M390 448V459M378 456H401M390 454V458M385 477H395M390 471V483M380 440H400M390 436V444M381 477H399M390 471V482M376 472H405M390 469V475M381 476H399M390 472V480M378 472H403M390 467V476M385 439H396M390 436V442M384 481H397M391 475V487M384 476H398M391 469V482M379 438H402M391 431V444M380 472H401M391 466V479M385 455H396M391 453V458M381 458H401M391 455V462M380 458H402M391 455V462M386 471H397M391 469V473M379 481H403M391 477V485M383 479H399M391 473V485M386 453H397M391 450V456M388 458H395M391 452V465M380 478H403M392 472V484M387 439H396M392 434V443M384 449H400M392 444V453M384 479H400M392 476V482M381 478H403M392 474V481M380 476H404M392 471V480M387 472H397M392 469V476M380 458H405M393 452V465M379 476H406M393 470V483M386 449H399M393 446V452M385 454H400M393 451V456M381 457H405M393 450V463M381 476H405M393 472V480M385 472H400M393 465V479M380 482H406M393 475V489M387 474H400M394 469V479M385 446H403M394 441V451M381 450H407M394 444V456M391 452H398M395 446V457M380 484H410M395 481V486M392 452H398M395 449V454M380 452H410M395 447V458M381 484H410M395 481V487M389 472H401M395 469V474M383 476H408M395 474V478M389 478H402M396 473V483M387 452H405M396 449V455M386 446H405M396 443V449M386 449H407M396 443V456M384 458H409M396 454V463M388 453H406M397 448V458M391 481H404M397 478V483M388 479H407M398 474V484M386 454H409M398 448V460M393 480H402M398 473V486M392 473H403M398 468V478M389 440H407M398 434V445M395 471H401M398 465V477M390 480H407M399 476V484M388 442H409M399 440V444M389 472H409M399 466V478M389 448H409M399 441V455M392 442H407M399 436V448M396 473H403M400 467V479M389 458H410M400 456V461M386 450H413M400 448V453M394 449H405M400 446V452M388 443H412M400 440V446M396 471H404M400 469V473M396 433H404M400 430V437M389 456H411M400 454V459M385 436H415M400 433V439M392 434H409M400 428V440M392 438H409M400 433V443M392 444H409M401 437V450M396 458H406M401 453V463M387 458H415M401 452V464M391 472H411M401 469V474M387 449H416M402 447V452M387 431H417M402 428V434M389 488H415M402 484V493M391 472H414M402 466V478M399 447H407M403 444V451M392 472H413M403 465V478M393 441H413M403 437V445M397 477H410M403 471V484M389 479H418M403 474V484M394 440H412M403 436V444M389 431H418M403 429V433M399 445H408M404 439V451M392 439H415M404 433V446M393 490H415M404 485V496M401 446H408M405 444V449M397 491H413M405 485V497M399 444H410M405 440V448M396 448H414M405 444V452M400 451H410M405 446V456M396 432H415M405 427V437M395 455H417M406 451V458M391 491H420M406 489V493M393 479H419M406 474V484M400 458H412M406 451V465M400 450H413M406 443V456M397 490H415M406 484V496M393 488H420M406 485V491M397 447H416M406 444V450M394 487H420M407 482V492M392 449H421M407 446V453M400 439H414M407 434V444M402 474H412M407 471V476M392 457H422M407 452V462M402 478H412M407 472V484M395 453H420M407 449V456M403 454H412M407 447V460M397 472H418M408 467V477M395 484H421M408 477V490M393 490H423M408 483V496M395 439H422M408 433V444M402 489H414M408 485V492M398 492H420M409 490V494M401 480H417M409 476V483M401 443H417M409 436V449M403 440H416M409 434V446M395 474H424M409 471V476M404 473H415M410 469V477M398 476H421M410 471V481M397 484H422M410 479V489M402 451H417M410 447V454M407 485H413M410 481V489M396 445H424M410 441V449M396 451H424M410 444V458M402 485H419M411 481V490M407 485H414M411 482V487M400 445H421M411 441V448M398 437H424M411 432V442M406 452H417M411 450V455M408 437H416M412 435V440M397 439H426M412 437V442M399 488H425M412 485V491M404 485H419M412 478V492M403 440H421M412 434V447M406 457H417M412 452V462M404 456H421M413 451V461M405 440H421M413 436V443M399 429H427M413 424V434M399 439H429M414 435V442M405 436H423M414 431V440M408 453H420M414 446V459M412 472H419M415 468V476M410 473H421M416 466V479M402 477H430M416 475V480M403 486H428M416 483V489M411 453H421M416 450V456M405 449H427M416 446V452M411 448H422M416 444V452M414 476H420M417 472V479M408 446H426M417 442V450M409 446H426M417 442V451M411 447H424M418 440V453M415 446H421M418 444V448M405 430H431M418 425V436M410 443H427M418 439V446M409 426H428M419 422V430M410 434H427M419 430V437M410 446H429M419 443V449M411 427H429M420 422V433M416 451H424M420 445V457M415 488H425M420 483V492M394 445H446M420 421V470M403 454H438M420 432V476M416 449H424M420 444V454M417 489H425M421 482V496M395 446H446M421 424V468M415 448H427M421 446V451M418 454H424M421 450V458M411 447H431M421 443V451M383 486H461M422 470V501M413 443H432M423 441V445M413 474H433M423 468V479M412 458H435M423 453V464M394 452H453M423 433V472M416 486H433M424 483V489M419 433H430M425 430V435M421 442H428M425 439V445M413 493H438M425 487V500M422 455H429M425 453V457M392 432H459M426 413V450M412 480H440M426 478V483M407 446H445M426 425V467M420 477H435M427 471V483M415 449H441M428 423V474M424 500H432M428 495V505M415 444H442M429 441V447M425 452H433M429 448V457M424 496H434M429 493V499M422 441H437M429 438V443M396 442H463M430 420V463M404 426H456M430 418V435M418 434H443M430 429V438M423 436H438M431 431V441M426 442H436M431 439V445M425 449H438M431 444V454M426 436H437M431 431V441M428 478H434M431 474V481M400 431H463M432 417V445M400 505H463M432 487V523M428 497H435M432 493V501M419 491H444M432 487V494M422 518H442M432 508V528M424 438H440M432 433V443M426 479H438M432 475V484M424 488H440M432 486V491M417 490H448M432 484V497M424 478H440M432 474V482M421 424H445M433 421V427M399 491H467M433 476V506M415 490H453M434 478V503M423 495H445M434 490V499M426 454H443M434 447V461M430 484H440M435 479V489M431 478H438M435 471V485M397 505H473M435 496V515M429 499H441M435 492V506M421 497H450M435 493V501M422 454H450M436 449V459M428 499H444M436 496V502M422 458H450M436 453V462M427 456H447M437 451V461M424 488H452M438 485V491M433 435H442M438 432V438M416 486H460M438 476V496M435 473H442M439 470V476M408 415H470M439 407V422M410 506H468M439 487V525M425 491H454M439 484V498M416 430H465M440 412V448M426 430H455M441 417V444M420 455H463M441 445V466M422 499H465M444 474V525M426 453H462M444 445V460M434 448H454M444 444V452M432 423H456M444 419V427M423 477H466M444 472V482M424 405H467M445 384V426M425 473H469M447 456V490M421 427H474M448 412V442M408 429H488M448 409V448M420 503H479M449 488V517M436 453H463M450 448V458M430 453H473M452 442V464M439 409H464M452 400V417M437 431H469M453 423V439M427 511H479M453 504V517M445 518H461M453 498V538M428 483H481M455 464V501M444 438H474M459 426V451M439 430H481M460 407V454M451 506H472M462 491V521M448 433H479M464 427V438M442 446H487M465 430V463M449 443H484M466 426V460M459 400H483M471 386V414M457 444H494M475 433V455M468 393H488M478 381V405M466 445H494M480 423V468M452 415H516M484 395V435M454 398H517M485 387V410M481 423H504M492 401V444M484 526H504M494 516V536M468 481H526M497 456V505M466 408H531M498 387V429M470 491H530M500 479V502M482 510H520M501 489V531M472 428H536M504 405V450M480 420H529M504 400V440M487 407H550M518 397V416M489 442H566M527 417V468M516 450H556M536 440V460" stroke="#4d78ff" stroke-width="1" stroke-opacity="0.06" fill="none"/>
<path d="M376.8 454.1L376.8 451.2L379.5 449.0L382.5 447.5L386.0 446.6L386.0 454.1Z" fill="#2a5ef6"/>
<path d="M376.8 475.3L376.8 478.2L379.5 480.3L382.5 481.3L386.0 481.9L386.0 475.3Z" fill="#2a5ef6"/>
<path transform="scale(0.5)" d="M0 0m771 943h0m0 10h0m1-69h0m0 17h0m0 42h0m0 2h0m0 0h0m0 15h0m1-62h0m0 45h0m0 1h0m0 7h0m1-68h0m0 3h0m0 15h0m0 4h0m0 37h0m1-59h0m0 16h0m0 2h0m0 14h0m0 44h0m1-56h0m0 6h0m0 4h0m0 2h0m0 42h0m0 1h0m0 3h0m1-76h0m0 7h0m0 10h0m0 9h0m0 3h0m0 2h0m0 34h0m0 3h0m1-78h0m0 20h0m0 16h0m0 4h0m0 2h0m0 25h0m0 1h0m0 2h0m0 4h0m0 6h0m1-50h0m0 2h0m0 8h0m0 35h0m0 4h0m1-49h0m0 5h0m0 4h0m0 28h0m1-58h0m0 14h0m0 11h0m0 5h0m0 29h0m1-40h0m0 42h0m0 3h0m0 0h0m0 9h0m0 3h0m1-72h0m0 12h0m0 5h0m0 3h0m0 56h0m1-79h0m0 16h0m0 1h0m0 54h0m1-73h0m0 16h0m0 8h0m0 10h0m0 26h0m0 2h0m0 18h0m1-84h0m0 24h0m1 39h0m0 2h0m0 13h0m0 0h0m0 4h0m1-84h0m0 5h0m0 5h0m0 27h0m0 31h0m0 11h0m0 4h0m1-53h0m0 6h0m0 2h0m0 1h0m0 33h0m0 0h0m0 14h0m1-92h0m0 11h0m0 16h0m0 5h0m0 5h0m0 39h0m0 11h0m1-58h0m0 17h0m0 31h0m0 11h0m1-76h0m0 11h0m0 49h0m0 16h0m1-81h0m0 64h0m0 3h0m1-47h0m0 9h0m0 2h0m0 45h0m0 13h0m1-92h0m0 3h0m0 65h0m0 23h0m1-80h0m0 6h0m0 57h0m0 2h0m0 23h0m1-80h0m0 2h0m0 13h0m0 40h0m0 7h0m0 18h0m1-66h0m0 0h0m0 45h0m0 5h0m1-92h0m0 1h0m0 21h0m0 62h0m1-73h0m0 3h0m0 6h0m0 27h0m0 1h0m0 3h0m0 33h0m0 25h0m1-60h0m0 2h0m1-19h0m0 52h0m0 3h0m1-47h0m0 69h0m1-78h0m0 16h0m0 32h0m0 0h0m0 0h0m1-72h0m0 11h0m0 5h0m0 0h0m0 22h0m0 1h0m0 36h0m0 4h0m1-87h0m0 22h0m0 56h0m1-78h0m0 32h0m0 3h0m0 3h0m0 2h0m0 44h0m0 10h0m1-93h0m0 14h0m0 28h0m0 7h0m0 1h0m0 35h0m0 6h0m1-97h0m0 2h0m0 35h0m0 48h0m0 33h0m1-103h0m0 21h0m0 62h0m0 20h0m1-118h0m0 55h0m0 43h0m1-9h0m0 7h0m1-82h0m0 32h0m0 37h0m0 18h0m1-63h0m0 7h0m0 51h0m0 9h0m1-110h0m0 35h0m0 10h0m0 1h0m0 3h0m0 44h0m0 7h0m1-45h0m0 32h0m1-59h0m0 59h0m0 28h0m1-80h0m0 14h0m0 49h0m0 14h0m0 11h0m1-104h0m0 41h0m0 32h0m0 40h0m1-82h0m0 1h0m0 36h0m0 40h0m1-114h0m1 38h0m0 5h0m0 76h0m1-103h0m0 13h0m0 57h0m1-93h0m0 1h0m1 2h0m0 7h0m0 22h0m0 63h0m1 4h0m1-78h0m0 71h0m1-99h0m0 0h0m0 100h0m0 17h0m0 15h0m1-34h0m1-85h0m0 46h0m0 58h0m1-106h0m0 22h0m0 16h0m0 13h0m0 69h0m1-103h0m0 107h0m1-112h0m0 20h0m2-27h0m0 16h0m0 17h0m1-26h0m0 19h0m0 16h0m0 71h0m0 1h0m1-105h0m0 92h0m0 10h0m1 13h0m1-49h0m0 10h0m0 40h0m1-150h0m0 8h0m0 9h0m0 20h0m0 15h0m0 14h0m0 1h0m0 86h0m1-152h0m0 110h0m1-115h0m0 74h0m0 76h0m1-108h0m0 10h0m0 11h0m0 1h0m0 40h0m1-95h0m0 39h0m0 9h0m0 58h0m1 6h0m0 3h0m1-70h0m1-61h0m0 56h0m0 53h0m1-33h0m0 33h0m1-100h0m0 3h0m0 33h0m0 114h0m1-116h0m0 33h0m0 52h0m0 19h0m1-70h0m0 2h0m0 40h0m1-102h0m0 25h0m0 34h0m0 85h0m0 0h0m1-41h0m1-114h0m0 73h0m0 74h0m1-74h0m1-74h0m0 20h0m0 57h0m0 29h0m1 18h0m0 35h0m1-140h0m0 5h0m0 89h0m0 34h0m0 0h0m1-75h0m1 6h0m1-74h0m0 139h0m1-106h0m2-19h0m0 94h0m0 32h0m0 31h0m1-61h0m1-105h0m0 22h0m0 30h0m1-53h0m0 13h0m0 24h0m0 16h0m0 105h0m2-120h0m0 28h0m0 44h0m1-68h0m0 0h0m0 71h0m1-75h0m1 11h0m0 8h0m0 110h0m1-125h0m0 14h0m1 102h0m1-175h0m0 161h0m0 17h0m1-29h0m0 8h0m0 21h0m1-99h0m0 36h0m0 35h0m0 27h0m2 4h0m1-143h0m0 124h0m2-82h0m1-93h0m0 48h0m0 22h0m1-41h0m1-31h0m1 96h0m4 78h0m1-126h0m0 47h0m0 91h0m3-139h0m0 104h0m1-69h0m0 57h0m1-142h0m0 202h0m1-99h0m2-41h0m2 16h0m2-92h0m2 104h0m0 72h0m1 28h0m2-150h0m0 11h0m6-22h0m0 52h0m0 116h0m3-164h0m3 25h0m2-47h0m2 175h0m1 28h0m1-25h0m0 32h0m2-209h0m0 35h0m6 1h0m1-33h0m2 67h0m3-42h0m1 16h0m1-37h0m0 0h0m2-32h0m2 74h0m3 25h0m2-33h0m1 112h0m2-23h0m4-42h0m8 70h0m2-111h0m0 151h0m1-58h0m7-82h0m10 83h0m8 38h0m1 25h0m4-155h0m11-70h0m6 85h0m40-52h0m16 12h0" stroke="#ffffff" stroke-width="5.8" stroke-linecap="round" fill="none" stroke-opacity="0.4"/>
<path transform="scale(0.5)" d="M0 0m771 943h0m0 10h0m1-69h0m0 17h0m0 42h0m0 2h0m0 0h0m0 15h0m1-62h0m0 45h0m0 1h0m0 7h0m1-68h0m0 3h0m0 15h0m0 4h0m0 37h0m1-59h0m0 16h0m0 2h0m0 14h0m0 44h0m1-56h0m0 6h0m0 4h0m0 2h0m0 42h0m0 1h0m0 3h0m1-76h0m0 7h0m0 10h0m0 9h0m0 3h0m0 2h0m0 34h0m0 3h0m1-78h0m0 20h0m0 16h0m0 4h0m0 2h0m0 25h0m0 1h0m0 2h0m0 4h0m0 6h0m1-50h0m0 2h0m0 8h0m0 35h0m0 4h0m1-49h0m0 5h0m0 4h0m0 28h0m1-58h0m0 14h0m0 11h0m0 5h0m0 29h0m1-40h0m0 42h0m0 3h0m0 0h0m0 9h0m0 3h0m1-72h0m0 12h0m0 5h0m0 3h0m0 56h0m1-79h0m0 16h0m0 1h0m0 54h0m1-73h0m0 16h0m0 8h0m0 10h0m0 26h0m0 2h0m0 18h0m1-84h0m0 24h0m1 39h0m0 2h0m0 13h0m0 0h0m0 4h0m1-84h0m0 5h0m0 5h0m0 27h0m0 31h0m0 11h0m0 4h0m1-53h0m0 6h0m0 2h0m0 1h0m0 33h0m0 0h0m0 14h0m1-92h0m0 11h0m0 16h0m0 5h0m0 5h0m0 39h0m0 11h0m1-58h0m0 17h0m0 31h0m0 11h0m1-76h0m0 11h0m0 49h0m0 16h0m1-81h0m0 64h0m0 3h0m1-47h0m0 9h0m0 2h0m0 45h0m0 13h0m1-92h0m0 3h0m0 65h0m0 23h0m1-80h0m0 6h0m0 57h0m0 2h0m0 23h0m1-80h0m0 2h0m0 13h0m0 40h0m0 7h0m0 18h0m1-66h0m0 0h0m0 45h0m0 5h0m1-92h0m0 1h0m0 21h0m0 62h0m1-73h0m0 3h0m0 6h0m0 27h0m0 1h0m0 3h0m0 33h0m0 25h0m1-60h0m0 2h0m1-19h0m0 52h0m0 3h0m1-47h0m0 69h0m1-78h0m0 16h0m0 32h0m0 0h0m0 0h0m1-72h0m0 11h0m0 5h0m0 0h0m0 22h0m0 1h0m0 36h0m0 4h0m1-87h0m0 22h0m0 56h0m1-78h0m0 32h0m0 3h0m0 3h0m0 2h0m0 44h0m0 10h0m1-93h0m0 14h0m0 28h0m0 7h0m0 1h0m0 35h0m0 6h0m1-97h0m0 2h0m0 35h0m0 48h0m0 33h0m1-103h0m0 21h0m0 62h0m0 20h0m1-118h0m0 55h0m0 43h0m1-9h0m0 7h0m1-82h0m0 32h0m0 37h0m0 18h0m1-63h0m0 7h0m0 51h0m0 9h0m1-110h0m0 35h0m0 10h0m0 1h0m0 3h0m0 44h0m0 7h0m1-45h0m0 32h0m1-59h0m0 59h0m0 28h0m1-80h0m0 14h0m0 49h0m0 14h0m0 11h0m1-104h0m0 41h0m0 32h0m0 40h0m1-82h0m0 1h0m0 36h0m0 40h0m1-114h0m1 38h0m0 5h0m0 76h0m1-103h0m0 13h0m0 57h0m1-93h0m0 1h0m1 2h0m0 7h0m0 22h0m0 63h0m1 4h0m1-78h0m0 71h0m1-99h0m0 0h0m0 100h0m0 17h0m0 15h0m1-34h0m1-85h0m0 46h0m0 58h0m1-106h0m0 22h0m0 16h0m0 13h0m0 69h0m1-103h0m0 107h0m1-112h0m0 20h0m2-27h0m0 16h0m0 17h0m1-26h0m0 19h0m0 16h0m0 71h0m0 1h0m1-105h0m0 92h0m0 10h0m1 13h0m1-49h0m0 10h0m0 40h0m1-150h0m0 8h0m0 9h0m0 20h0m0 15h0m0 14h0m0 1h0m0 86h0m1-152h0m0 110h0m1-115h0m0 74h0m0 76h0m1-108h0m0 10h0m0 11h0m0 1h0m0 40h0m1-95h0m0 39h0m0 9h0m0 58h0m1 6h0m0 3h0m1-70h0m1-61h0m0 56h0m0 53h0m1-33h0m0 33h0m1-100h0m0 3h0m0 33h0m0 114h0m1-116h0m0 33h0m0 52h0m0 19h0m1-70h0m0 2h0m0 40h0m1-102h0m0 25h0m0 34h0m0 85h0m0 0h0m1-41h0m1-114h0m0 73h0m0 74h0m1-74h0m1-74h0m0 20h0m0 57h0m0 29h0m1 18h0m0 35h0m1-140h0m0 5h0m0 89h0m0 34h0m0 0h0m1-75h0m1 6h0m1-74h0m0 139h0m1-106h0m2-19h0m0 94h0m0 32h0m0 31h0m1-61h0m1-105h0m0 22h0m0 30h0m1-53h0m0 13h0m0 24h0m0 16h0m0 105h0m2-120h0m0 28h0m0 44h0m1-68h0m0 0h0m0 71h0m1-75h0m1 11h0m0 8h0m0 110h0m1-125h0m0 14h0m1 102h0m1-175h0m0 161h0m0 17h0m1-29h0m0 8h0m0 21h0m1-99h0m0 36h0m0 35h0m0 27h0m2 4h0m1-143h0m0 124h0m2-82h0m1-93h0m0 48h0m0 22h0m1-41h0m1-31h0m1 96h0m4 78h0m1-126h0m0 47h0m0 91h0m3-139h0m0 104h0m1-69h0m0 57h0m1-142h0m0 202h0m1-99h0m2-41h0m2 16h0m2-92h0m2 104h0m0 72h0m1 28h0m2-150h0m0 11h0m6-22h0m0 52h0m0 116h0m3-164h0m3 25h0m2-47h0m2 175h0m1 28h0m1-25h0m0 32h0m2-209h0m0 35h0m6 1h0m1-33h0m2 67h0m3-42h0m1 16h0m1-37h0m0 0h0m2-32h0m2 74h0m3 25h0m2-33h0m1 112h0m2-23h0m4-42h0m8 70h0m2-111h0m0 151h0m1-58h0m7-82h0m10 83h0m8 38h0m1 25h0m4-155h0m11-70h0m6 85h0m40-52h0m16 12h0" stroke="#2158f6" stroke-width="4.6" stroke-linecap="round" fill="none"/>
<path transform="scale(0.5)" d="M0 0m771 898h0m0 16h0m0 39h0m0 5h0m1-77h0m0 19h0m0 0h0m0 16h0m0 28h0m0 2h0m0 0h0m1-56h0m0 13h0m0 39h0m0 0h0m0 7h0m1-61h0m0 26h0m1-17h0m0 7h0m0 38h0m0 7h0m0 2h0m1-63h0m0 4h0m0 15h0m0 7h0m0 33h0m0 7h0m1-42h0m0 30h0m0 1h0m1-43h0m0 12h0m0 3h0m0 1h0m0 31h0m0 6h0m0 9h0m1-78h0m0 9h0m0 14h0m0 5h0m0 5h0m0 26h0m0 10h0m1-72h0m0 63h0m0 5h0m0 3h0m0 2h0m0 0h0m1-78h0m0 2h0m0 21h0m0 15h0m0 30h0m0 1h0m0 12h0m0 3h0m1-67h0m0 4h0m0 20h0m0 0h0m0 25h0m0 8h0m0 13h0m0 0h0m1-72h0m0 26h0m0 25h0m0 5h0m0 7h0m0 3h0m0 8h0m1-16h0m0 2h0m0 5h0m1-60h0m0 11h0m0 6h0m0 33h0m0 8h0m1-79h0m0 27h0m0 42h0m0 5h0m0 1h0m0 7h0m0 4h0m0 6h0m1-53h0m0 34h0m1-74h0m0 14h0m0 3h0m0 0h0m0 9h0m0 5h0m0 8h0m0 37h0m0 9h0m1-74h0m0 19h0m0 2h0m0 10h0m0 52h0m1-65h0m0 1h0m0 39h0m0 7h0m0 11h0m1-62h0m0 5h0m0 46h0m0 2h0m0 3h0m1-64h0m0 1h0m0 76h0m1-90h0m0 12h0m0 12h0m0 15h0m0 50h0m1-68h0m0 3h0m0 9h0m0 5h0m0 40h0m0 7h0m0 6h0m1-61h0m0 0h0m0 5h0m0 46h0m1-77h0m0 60h0m0 16h0m1-43h0m0 28h0m0 2h0m0 15h0m0 0h0m1-92h0m1 16h0m0 3h0m0 9h0m0 2h0m0 18h0m0 40h0m0 3h0m1-59h0m0 17h0m0 49h0m1-89h0m0 2h0m0 9h0m0 12h0m0 13h0m0 60h0m1-100h0m0 24h0m0 19h0m1-53h0m0 9h0m0 71h0m0 27h0m1-109h0m0 49h0m0 32h0m0 9h0m1-91h0m0 83h0m0 1h0m0 8h0m0 1h0m1-73h0m0 62h0m0 5h0m0 11h0m0 0h0m1-96h0m0 49h0m0 3h0m0 0h0m0 30h0m0 10h0m1-10h0m0 8h0m0 11h0m1-70h0m0 72h0m1-105h0m0 28h0m0 4h0m0 10h0m0 79h0m1-118h0m1 21h0m0 2h0m0 26h0m0 2h0m0 1h0m0 43h0m1-70h0m0 6h0m0 4h0m0 66h0m0 10h0m0 3h0m1-111h0m0 0h0m0 41h0m0 7h0m0 56h0m1-86h0m0 11h0m1 14h0m0 58h0m0 12h0m1-79h0m0 75h0m0 2h0m1-122h0m0 25h0m0 4h0m0 76h0m0 6h0m1-20h0m0 2h0m0 4h0m1-77h0m0 15h0m0 11h0m1-42h0m0 43h0m0 68h0m0 1h0m2-104h0m0 8h0m0 0h0m0 4h0m0 26h0m1-49h0m0 120h0m0 4h0m1-68h0m1-55h0m1 21h0m0 27h0m0 7h0m0 59h0m1-122h0m0 33h0m0 21h0m0 9h0m1-16h0m0 46h0m1-71h0m0 23h0m0 48h0m1 3h0m0 13h0m1-52h0m0 48h0m0 17h0m2-84h0m0 6h0m1 0h0m0 0h0m0 20h0m0 49h0m1-70h0m0 4h0m0 54h0m0 39h0m1-131h0m0 86h0m0 11h0m0 14h0m0 4h0m0 2h0m0 11h0m1-103h0m0 22h0m1-31h0m0 26h0m0 1h0m1-36h0m0 9h0m0 2h0m0 5h0m0 17h0m0 4h0m0 2h0m0 50h0m0 11h0m0 11h0m0 14h0m1-139h0m0 41h0m1 2h0m0 14h0m0 3h0m0 71h0m1 8h0m1-119h0m0 20h0m1-52h0m0 47h0m0 14h0m0 44h0m0 5h0m0 1h0m1-108h0m0 40h0m0 18h0m0 17h0m0 25h0m1-44h0m0 19h0m0 25h0m1-43h0m0 48h0m1-102h0m0 126h0m0 27h0m1-128h0m0 110h0m1-81h0m1 53h0m1-111h0m0 104h0m2 0h0m0 0h0m2-83h0m0 17h0m1-17h0m0 3h0m0 39h0m0 86h0m0 2h0m1-158h0m0 49h0m0 0h0m1-30h0m0 8h0m0 26h0m2-28h0m0 25h0m0 81h0m1-103h0m0 11h0m0 25h0m0 11h0m0 47h0m0 8h0m1-88h0m0 33h0m0 72h0m1-132h0m0 107h0m1-118h0m1-3h0m0 31h0m0 12h0m0 70h0m0 33h0m1 8h0m2-128h0m0 3h0m0 52h0m0 41h0m0 35h0m0 19h0m1-103h0m1 7h0m0 65h0m0 18h0m1-170h0m0 13h0m0 70h0m2-73h0m0 15h0m0 17h0m0 76h0m0 28h0m1-126h0m0 149h0m1-51h0m1 66h0m1-112h0m0 83h0m1-92h0m1-30h0m0 145h0m1-148h0m1 22h0m0 63h0m2 66h0m1-107h0m1-31h0m0 127h0m1-92h0m1-60h0m4 100h0m2-92h0m4 7h0m0 45h0m0 99h0m1-201h0m0 66h0m0 29h0m2-103h0m1 8h0m1 100h0m0 108h0m2-150h0m0 159h0m0 16h0m2-204h0m0 42h0m1 91h0m4-92h0m1 13h0m1 81h0m3-92h0m1-15h0m3-121h0m1 156h0m7-4h0m7-5h0m0 73h0m16-126h0m1-1h0m0 12h0m2-6h0m1-58h0m0 10h0m3 100h0m6 139h0m5-233h0m4 101h0m1-110h0m8 57h0m4 207h0m2-74h0m2-20h0m2 3h0m2-151h0m6 209h0m3-198h0m2 72h0m1-53h0m2 2h0m4 28h0m9 9h0m31 6h0m17 15h0m11 77h0" stroke="#ffffff" stroke-width="5.8" stroke-linecap="round" fill="none" stroke-opacity="0.4"/>
<path transform="scale(0.5)" d="M0 0m771 898h0m0 16h0m0 39h0m0 5h0m1-77h0m0 19h0m0 0h0m0 16h0m0 28h0m0 2h0m0 0h0m1-56h0m0 13h0m0 39h0m0 0h0m0 7h0m1-61h0m0 26h0m1-17h0m0 7h0m0 38h0m0 7h0m0 2h0m1-63h0m0 4h0m0 15h0m0 7h0m0 33h0m0 7h0m1-42h0m0 30h0m0 1h0m1-43h0m0 12h0m0 3h0m0 1h0m0 31h0m0 6h0m0 9h0m1-78h0m0 9h0m0 14h0m0 5h0m0 5h0m0 26h0m0 10h0m1-72h0m0 63h0m0 5h0m0 3h0m0 2h0m0 0h0m1-78h0m0 2h0m0 21h0m0 15h0m0 30h0m0 1h0m0 12h0m0 3h0m1-67h0m0 4h0m0 20h0m0 0h0m0 25h0m0 8h0m0 13h0m0 0h0m1-72h0m0 26h0m0 25h0m0 5h0m0 7h0m0 3h0m0 8h0m1-16h0m0 2h0m0 5h0m1-60h0m0 11h0m0 6h0m0 33h0m0 8h0m1-79h0m0 27h0m0 42h0m0 5h0m0 1h0m0 7h0m0 4h0m0 6h0m1-53h0m0 34h0m1-74h0m0 14h0m0 3h0m0 0h0m0 9h0m0 5h0m0 8h0m0 37h0m0 9h0m1-74h0m0 19h0m0 2h0m0 10h0m0 52h0m1-65h0m0 1h0m0 39h0m0 7h0m0 11h0m1-62h0m0 5h0m0 46h0m0 2h0m0 3h0m1-64h0m0 1h0m0 76h0m1-90h0m0 12h0m0 12h0m0 15h0m0 50h0m1-68h0m0 3h0m0 9h0m0 5h0m0 40h0m0 7h0m0 6h0m1-61h0m0 0h0m0 5h0m0 46h0m1-77h0m0 60h0m0 16h0m1-43h0m0 28h0m0 2h0m0 15h0m0 0h0m1-92h0m1 16h0m0 3h0m0 9h0m0 2h0m0 18h0m0 40h0m0 3h0m1-59h0m0 17h0m0 49h0m1-89h0m0 2h0m0 9h0m0 12h0m0 13h0m0 60h0m1-100h0m0 24h0m0 19h0m1-53h0m0 9h0m0 71h0m0 27h0m1-109h0m0 49h0m0 32h0m0 9h0m1-91h0m0 83h0m0 1h0m0 8h0m0 1h0m1-73h0m0 62h0m0 5h0m0 11h0m0 0h0m1-96h0m0 49h0m0 3h0m0 0h0m0 30h0m0 10h0m1-10h0m0 8h0m0 11h0m1-70h0m0 72h0m1-105h0m0 28h0m0 4h0m0 10h0m0 79h0m1-118h0m1 21h0m0 2h0m0 26h0m0 2h0m0 1h0m0 43h0m1-70h0m0 6h0m0 4h0m0 66h0m0 10h0m0 3h0m1-111h0m0 0h0m0 41h0m0 7h0m0 56h0m1-86h0m0 11h0m1 14h0m0 58h0m0 12h0m1-79h0m0 75h0m0 2h0m1-122h0m0 25h0m0 4h0m0 76h0m0 6h0m1-20h0m0 2h0m0 4h0m1-77h0m0 15h0m0 11h0m1-42h0m0 43h0m0 68h0m0 1h0m2-104h0m0 8h0m0 0h0m0 4h0m0 26h0m1-49h0m0 120h0m0 4h0m1-68h0m1-55h0m1 21h0m0 27h0m0 7h0m0 59h0m1-122h0m0 33h0m0 21h0m0 9h0m1-16h0m0 46h0m1-71h0m0 23h0m0 48h0m1 3h0m0 13h0m1-52h0m0 48h0m0 17h0m2-84h0m0 6h0m1 0h0m0 0h0m0 20h0m0 49h0m1-70h0m0 4h0m0 54h0m0 39h0m1-131h0m0 86h0m0 11h0m0 14h0m0 4h0m0 2h0m0 11h0m1-103h0m0 22h0m1-31h0m0 26h0m0 1h0m1-36h0m0 9h0m0 2h0m0 5h0m0 17h0m0 4h0m0 2h0m0 50h0m0 11h0m0 11h0m0 14h0m1-139h0m0 41h0m1 2h0m0 14h0m0 3h0m0 71h0m1 8h0m1-119h0m0 20h0m1-52h0m0 47h0m0 14h0m0 44h0m0 5h0m0 1h0m1-108h0m0 40h0m0 18h0m0 17h0m0 25h0m1-44h0m0 19h0m0 25h0m1-43h0m0 48h0m1-102h0m0 126h0m0 27h0m1-128h0m0 110h0m1-81h0m1 53h0m1-111h0m0 104h0m2 0h0m0 0h0m2-83h0m0 17h0m1-17h0m0 3h0m0 39h0m0 86h0m0 2h0m1-158h0m0 49h0m0 0h0m1-30h0m0 8h0m0 26h0m2-28h0m0 25h0m0 81h0m1-103h0m0 11h0m0 25h0m0 11h0m0 47h0m0 8h0m1-88h0m0 33h0m0 72h0m1-132h0m0 107h0m1-118h0m1-3h0m0 31h0m0 12h0m0 70h0m0 33h0m1 8h0m2-128h0m0 3h0m0 52h0m0 41h0m0 35h0m0 19h0m1-103h0m1 7h0m0 65h0m0 18h0m1-170h0m0 13h0m0 70h0m2-73h0m0 15h0m0 17h0m0 76h0m0 28h0m1-126h0m0 149h0m1-51h0m1 66h0m1-112h0m0 83h0m1-92h0m1-30h0m0 145h0m1-148h0m1 22h0m0 63h0m2 66h0m1-107h0m1-31h0m0 127h0m1-92h0m1-60h0m4 100h0m2-92h0m4 7h0m0 45h0m0 99h0m1-201h0m0 66h0m0 29h0m2-103h0m1 8h0m1 100h0m0 108h0m2-150h0m0 159h0m0 16h0m2-204h0m0 42h0m1 91h0m4-92h0m1 13h0m1 81h0m3-92h0m1-15h0m3-121h0m1 156h0m7-4h0m7-5h0m0 73h0m16-126h0m1-1h0m0 12h0m2-6h0m1-58h0m0 10h0m3 100h0m6 139h0m5-233h0m4 101h0m1-110h0m8 57h0m4 207h0m2-74h0m2-20h0m2 3h0m2-151h0m6 209h0m3-198h0m2 72h0m1-53h0m2 2h0m4 28h0m9 9h0m31 6h0m17 15h0m11 77h0" stroke="#2158f6" stroke-width="4.6" stroke-linecap="round" fill="none"/>
<path transform="scale(0.5)" d="M0 0m771 894h0m0 9h0m0 6h0m0 49h0m1-48h0m0 32h0m0 3h0m0 10h0m0 3h0m0 1h0m1-73h0m0 5h0m0 23h0m1-34h0m0 63h0m0 3h0m1-33h0m0 30h0m0 7h0m0 1h0m0 8h0m1-54h0m0 3h0m0 6h0m0 1h0m0 38h0m0 5h0m0 2h0m1-76h0m0 9h0m0 1h0m0 12h0m0 1h0m0 44h0m0 4h0m0 3h0m0 4h0m1-58h0m0 2h0m0 9h0m0 2h0m0 26h0m0 9h0m0 2h0m0 2h0m0 3h0m1-72h0m0 12h0m0 43h0m1-66h0m0 4h0m0 26h0m0 7h0m0 29h0m0 1h0m0 0h0m0 3h0m0 9h0m0 4h0m1-85h0m0 10h0m0 6h0m0 4h0m0 17h0m0 32h0m0 5h0m0 7h0m0 7h0m1-80h0m0 11h0m0 23h0m0 30h0m0 0h0m0 8h0m1-75h0m0 23h0m0 7h0m0 0h0m0 1h0m0 40h0m0 2h0m0 5h0m1-12h0m0 12h0m0 6h0m0 2h0m1-93h0m0 28h0m0 10h0m0 2h0m0 38h0m1-63h0m0 1h0m0 21h0m1-21h0m0 2h0m0 26h0m0 47h0m1-65h0m0 58h0m0 7h0m1-90h0m0 27h0m0 16h0m0 37h0m1-59h0m0 3h0m0 16h0m0 30h0m0 6h0m0 12h0m0 3h0m1-73h0m0 10h0m0 44h0m0 25h0m1-99h0m0 13h0m0 1h0m0 1h0m0 3h0m0 8h0m0 10h0m0 9h0m0 1h0m0 39h0m0 4h0m0 1h0m1-78h0m0 11h0m0 3h0m0 14h0m0 4h0m0 1h0m0 43h0m1-92h0m0 22h0m0 5h0m0 22h0m0 37h0m0 2h0m1-67h0m0 56h0m0 8h0m1-71h0m0 8h0m0 24h0m0 4h0m0 28h0m0 1h0m1-75h0m0 37h0m0 0h0m0 5h0m0 3h0m0 34h0m0 8h0m0 9h0m1-101h0m0 18h0m0 67h0m1-87h0m0 13h0m0 20h0m0 15h0m0 4h0m0 37h0m0 6h0m1-85h0m0 12h0m0 64h0m1-41h0m0 1h0m0 32h0m0 1h0m0 1h0m0 2h0m0 1h0m0 18h0m0 5h0m1-106h0m0 87h0m0 13h0m1-60h0m0 0h0m0 4h0m0 65h0m1-81h0m0 1h0m0 0h0m0 4h0m0 12h0m0 4h0m0 47h0m0 6h0m0 10h0m1-95h0m0 18h0m0 6h0m1-37h0m0 7h0m0 9h0m0 85h0m1-61h0m0 38h0m0 23h0m1-107h0m0 26h0m0 3h0m0 22h0m0 40h0m0 4h0m2-53h0m0 5h0m0 3h0m0 31h0m0 15h0m1 7h0m0 15h0m1-94h0m0 24h0m0 49h0m0 7h0m1-51h0m1-57h0m0 34h0m0 14h0m0 76h0m1-121h0m0 81h0m0 28h0m1 4h0m1-112h0m0 26h0m0 59h0m0 4h0m1-44h0m0 35h0m0 21h0m1-10h0m0 7h0m0 7h0m0 1h0m0 18h0m1-129h0m0 22h0m0 6h0m0 90h0m1-103h0m0 72h0m0 37h0m1-90h0m0 10h0m0 56h0m0 18h0m0 3h0m1-81h0m0 68h0m0 14h0m1-63h0m0 0h0m0 53h0m1-21h0m0 14h0m0 20h0m1-113h0m0 17h0m0 10h0m1-29h0m0 92h0m0 8h0m1-81h0m0 65h0m0 6h0m1-81h0m0 10h0m0 0h0m0 4h0m0 3h0m0 8h0m0 15h0m1-43h0m0 103h0m1-84h0m0 12h0m1-37h0m0 2h0m0 46h0m1-66h0m0 42h0m0 10h0m1 92h0m1-98h0m0 16h0m0 82h0m1-85h0m0 35h0m0 9h0m0 2h0m0 3h0m0 20h0m1-24h0m0 8h0m0 18h0m0 10h0m1-140h0m0 16h0m0 96h0m1-74h0m0 58h0m0 9h0m0 38h0m0 6h0m1-156h0m0 26h0m0 11h0m0 23h0m0 47h0m0 33h0m0 6h0m0 5h0m1-145h0m0 8h0m1 0h0m0 43h0m0 5h0m0 42h0m0 12h0m0 30h0m1-147h0m0 21h0m0 17h0m0 9h0m0 2h0m1-43h0m0 15h0m0 31h0m0 16h0m1-66h0m0 47h0m0 21h0m0 73h0m1-102h0m0 85h0m0 8h0m1-70h0m0 1h0m0 64h0m1-119h0m0 16h0m0 46h0m1 65h0m0 13h0m1-146h0m0 30h0m0 28h0m0 4h0m0 10h0m0 65h0m0 7h0m1-105h0m0 21h0m1 5h0m0 1h0m0 31h0m0 5h0m0 30h0m0 7h0m1-71h0m1-42h0m0 26h0m0 5h0m1 80h0m1-97h0m0 1h0m1-4h0m0 11h0m0 4h0m0 13h0m1-40h0m1-29h0m0 14h0m0 8h0m0 36h0m0 43h0m1-96h0m0 5h0m0 7h0m1-26h0m0 34h0m0 15h0m0 22h0m0 7h0m1-42h0m0 96h0m1-3h0m1-19h0m1 36h0m1-133h0m0 118h0m0 33h0m3-98h0m1-27h0m0 12h0m0 3h0m0 29h0m0 78h0m1-114h0m0 99h0m2-96h0m1-50h0m0 6h0m0 77h0m0 32h0m1-87h0m0 35h0m2 9h0m2-17h0m0 111h0m1-103h0m0 97h0m1-152h0m2-17h0m1 84h0m1-31h0m2-52h0m0 57h0m6-14h0m0 46h0m1-52h0m1 31h0m0 117h0m2-60h0m5 0h0m3-98h0m1 112h0m0 42h0m3 18h0m1-15h0m0 63h0m1-186h0m2-94h0m6 202h0m6-111h0m6-36h0m3-46h0m3 237h0m1-174h0m1 146h0m1-233h0m0 301h0m13-238h0m9 180h0m1-122h0m6 59h0m3-172h0m4 258h0m4-250h0m21 293h0m3-242h0m2 10h0m2 13h0m0 127h0m2 33h0m2-177h0m7 36h0m7-67h0m0 30h0m21 26h0" stroke="#ffffff" stroke-width="5.8" stroke-linecap="round" fill="none" stroke-opacity="0.4"/>
<path transform="scale(0.5)" d="M0 0m771 894h0m0 9h0m0 6h0m0 49h0m1-48h0m0 32h0m0 3h0m0 10h0m0 3h0m0 1h0m1-73h0m0 5h0m0 23h0m1-34h0m0 63h0m0 3h0m1-33h0m0 30h0m0 7h0m0 1h0m0 8h0m1-54h0m0 3h0m0 6h0m0 1h0m0 38h0m0 5h0m0 2h0m1-76h0m0 9h0m0 1h0m0 12h0m0 1h0m0 44h0m0 4h0m0 3h0m0 4h0m1-58h0m0 2h0m0 9h0m0 2h0m0 26h0m0 9h0m0 2h0m0 2h0m0 3h0m1-72h0m0 12h0m0 43h0m1-66h0m0 4h0m0 26h0m0 7h0m0 29h0m0 1h0m0 0h0m0 3h0m0 9h0m0 4h0m1-85h0m0 10h0m0 6h0m0 4h0m0 17h0m0 32h0m0 5h0m0 7h0m0 7h0m1-80h0m0 11h0m0 23h0m0 30h0m0 0h0m0 8h0m1-75h0m0 23h0m0 7h0m0 0h0m0 1h0m0 40h0m0 2h0m0 5h0m1-12h0m0 12h0m0 6h0m0 2h0m1-93h0m0 28h0m0 10h0m0 2h0m0 38h0m1-63h0m0 1h0m0 21h0m1-21h0m0 2h0m0 26h0m0 47h0m1-65h0m0 58h0m0 7h0m1-90h0m0 27h0m0 16h0m0 37h0m1-59h0m0 3h0m0 16h0m0 30h0m0 6h0m0 12h0m0 3h0m1-73h0m0 10h0m0 44h0m0 25h0m1-99h0m0 13h0m0 1h0m0 1h0m0 3h0m0 8h0m0 10h0m0 9h0m0 1h0m0 39h0m0 4h0m0 1h0m1-78h0m0 11h0m0 3h0m0 14h0m0 4h0m0 1h0m0 43h0m1-92h0m0 22h0m0 5h0m0 22h0m0 37h0m0 2h0m1-67h0m0 56h0m0 8h0m1-71h0m0 8h0m0 24h0m0 4h0m0 28h0m0 1h0m1-75h0m0 37h0m0 0h0m0 5h0m0 3h0m0 34h0m0 8h0m0 9h0m1-101h0m0 18h0m0 67h0m1-87h0m0 13h0m0 20h0m0 15h0m0 4h0m0 37h0m0 6h0m1-85h0m0 12h0m0 64h0m1-41h0m0 1h0m0 32h0m0 1h0m0 1h0m0 2h0m0 1h0m0 18h0m0 5h0m1-106h0m0 87h0m0 13h0m1-60h0m0 0h0m0 4h0m0 65h0m1-81h0m0 1h0m0 0h0m0 4h0m0 12h0m0 4h0m0 47h0m0 6h0m0 10h0m1-95h0m0 18h0m0 6h0m1-37h0m0 7h0m0 9h0m0 85h0m1-61h0m0 38h0m0 23h0m1-107h0m0 26h0m0 3h0m0 22h0m0 40h0m0 4h0m2-53h0m0 5h0m0 3h0m0 31h0m0 15h0m1 7h0m0 15h0m1-94h0m0 24h0m0 49h0m0 7h0m1-51h0m1-57h0m0 34h0m0 14h0m0 76h0m1-121h0m0 81h0m0 28h0m1 4h0m1-112h0m0 26h0m0 59h0m0 4h0m1-44h0m0 35h0m0 21h0m1-10h0m0 7h0m0 7h0m0 1h0m0 18h0m1-129h0m0 22h0m0 6h0m0 90h0m1-103h0m0 72h0m0 37h0m1-90h0m0 10h0m0 56h0m0 18h0m0 3h0m1-81h0m0 68h0m0 14h0m1-63h0m0 0h0m0 53h0m1-21h0m0 14h0m0 20h0m1-113h0m0 17h0m0 10h0m1-29h0m0 92h0m0 8h0m1-81h0m0 65h0m0 6h0m1-81h0m0 10h0m0 0h0m0 4h0m0 3h0m0 8h0m0 15h0m1-43h0m0 103h0m1-84h0m0 12h0m1-37h0m0 2h0m0 46h0m1-66h0m0 42h0m0 10h0m1 92h0m1-98h0m0 16h0m0 82h0m1-85h0m0 35h0m0 9h0m0 2h0m0 3h0m0 20h0m1-24h0m0 8h0m0 18h0m0 10h0m1-140h0m0 16h0m0 96h0m1-74h0m0 58h0m0 9h0m0 38h0m0 6h0m1-156h0m0 26h0m0 11h0m0 23h0m0 47h0m0 33h0m0 6h0m0 5h0m1-145h0m0 8h0m1 0h0m0 43h0m0 5h0m0 42h0m0 12h0m0 30h0m1-147h0m0 21h0m0 17h0m0 9h0m0 2h0m1-43h0m0 15h0m0 31h0m0 16h0m1-66h0m0 47h0m0 21h0m0 73h0m1-102h0m0 85h0m0 8h0m1-70h0m0 1h0m0 64h0m1-119h0m0 16h0m0 46h0m1 65h0m0 13h0m1-146h0m0 30h0m0 28h0m0 4h0m0 10h0m0 65h0m0 7h0m1-105h0m0 21h0m1 5h0m0 1h0m0 31h0m0 5h0m0 30h0m0 7h0m1-71h0m1-42h0m0 26h0m0 5h0m1 80h0m1-97h0m0 1h0m1-4h0m0 11h0m0 4h0m0 13h0m1-40h0m1-29h0m0 14h0m0 8h0m0 36h0m0 43h0m1-96h0m0 5h0m0 7h0m1-26h0m0 34h0m0 15h0m0 22h0m0 7h0m1-42h0m0 96h0m1-3h0m1-19h0m1 36h0m1-133h0m0 118h0m0 33h0m3-98h0m1-27h0m0 12h0m0 3h0m0 29h0m0 78h0m1-114h0m0 99h0m2-96h0m1-50h0m0 6h0m0 77h0m0 32h0m1-87h0m0 35h0m2 9h0m2-17h0m0 111h0m1-103h0m0 97h0m1-152h0m2-17h0m1 84h0m1-31h0m2-52h0m0 57h0m6-14h0m0 46h0m1-52h0m1 31h0m0 117h0m2-60h0m5 0h0m3-98h0m1 112h0m0 42h0m3 18h0m1-15h0m0 63h0m1-186h0m2-94h0m6 202h0m6-111h0m6-36h0m3-46h0m3 237h0m1-174h0m1 146h0m1-233h0m0 301h0m13-238h0m9 180h0m1-122h0m6 59h0m3-172h0m4 258h0m4-250h0m21 293h0m3-242h0m2 10h0m2 13h0m0 127h0m2 33h0m2-177h0m7 36h0m7-67h0m0 30h0m21 26h0" stroke="#2158f6" stroke-width="4.6" stroke-linecap="round" fill="none"/>
<path transform="scale(0.5)" d="M0 0m771 909h0m0 1h0m1-21h0m0 1h0m0 52h0m0 0h0m0 11h0m1-51h0m0 12h0m0 30h0m0 1h0m0 2h0m0 4h0m1-40h0m0 1h0m0 36h0m1-60h0m0 4h0m0 12h0m0 47h0m0 0h0m1-74h0m0 39h0m0 39h0m0 6h0m0 1h0m1-58h0m0 2h0m0 2h0m0 0h0m0 40h0m0 5h0m1-71h0m0 0h0m0 4h0m0 3h0m0 5h0m0 18h0m0 37h0m0 7h0m0 2h0m0 4h0m1-67h0m0 4h0m0 9h0m0 2h0m0 32h0m0 3h0m0 4h0m0 11h0m0 0h0m1-74h0m0 25h0m0 33h0m0 5h0m0 12h0m1-54h0m0 9h0m0 29h0m0 4h0m0 2h0m0 11h0m1-52h0m0 4h0m0 3h0m0 31h0m0 8h0m0 5h0m1-54h0m0 7h0m0 29h0m0 14h0m1-80h0m0 20h0m0 48h0m0 7h0m0 6h0m0 4h0m1-66h0m0 2h0m0 5h0m0 1h0m0 10h0m0 3h0m0 30h0m0 6h0m1-1h0m0 2h0m0 6h0m0 4h0m1-77h0m0 12h0m0 8h0m0 41h0m0 18h0m1-91h0m0 18h0m0 52h0m0 4h0m0 8h0m2-70h0m0 3h0m0 7h0m0 4h0m0 4h0m0 48h0m0 3h0m0 11h0m0 1h0m0 0h0m1-88h0m0 66h0m0 2h0m0 8h0m0 3h0m1-79h0m0 11h0m0 13h0m1-27h0m0 15h0m0 6h0m0 46h0m0 1h0m0 16h0m1-79h0m0 25h0m0 0h0m0 4h0m0 34h0m0 8h0m0 3h0m1 2h0m0 3h0m1-82h0m0 4h0m0 19h0m0 45h0m1-64h0m0 27h0m0 32h0m0 16h0m1-60h0m1-5h0m0 8h0m0 43h0m0 2h0m0 15h0m0 11h0m1-105h0m0 8h0m0 11h0m0 19h0m0 7h0m0 30h0m0 13h0m0 20h0m1-107h0m0 4h0m0 43h0m0 53h0m1-65h0m0 13h0m1-18h0m0 15h0m0 31h0m0 5h0m0 19h0m1-101h0m0 19h0m0 13h0m0 78h0m1-82h0m0 11h0m0 38h0m1-61h0m0 22h0m0 2h0m0 48h0m0 4h0m1-84h0m0 4h0m0 11h0m0 6h0m1-19h0m0 2h0m0 22h0m0 64h0m0 16h0m1-93h0m0 14h0m0 61h0m1-66h0m0 82h0m1-115h0m0 17h0m0 28h0m0 43h0m0 31h0m1-84h0m0 65h0m0 9h0m0 8h0m1-1h0m1-111h0m0 1h0m0 8h0m0 27h0m0 1h0m0 41h0m0 3h0m0 6h0m1-89h0m0 23h0m0 54h0m0 20h0m2-87h0m0 107h0m1-99h0m0 18h0m0 10h0m0 4h0m0 63h0m1-90h0m0 78h0m1-56h0m0 58h0m1-96h0m0 15h0m1-26h0m0 11h0m0 34h0m0 59h0m0 13h0m1-107h0m0 43h0m1-35h0m0 33h0m0 45h0m0 11h0m1-89h0m0 9h0m1-11h0m0 30h0m1 35h0m1-73h0m0 34h0m0 80h0m1-86h0m1-8h0m0 70h0m0 8h0m1-25h0m1-49h0m0 3h0m0 8h0m0 3h0m0 1h0m1-21h0m0 7h0m0 0h0m0 15h0m1-46h0m0 13h0m0 36h0m0 37h0m1-59h0m0 12h0m0 39h0m0 31h0m1-118h0m0 4h0m0 1h0m0 102h0m0 13h0m1-124h0m0 15h0m0 19h0m0 17h0m0 40h0m0 28h0m0 22h0m0 0h0m1-47h0m0 3h0m1-96h0m0 2h0m0 12h0m0 13h0m0 12h0m1-49h0m0 20h0m0 21h0m0 6h0m0 4h0m0 14h0m0 45h0m1-94h0m0 18h0m0 67h0m0 34h0m0 0h0m0 3h0m1-84h0m0 72h0m1-102h0m0 12h0m0 35h0m0 56h0m1-119h0m0 3h0m0 2h0m0 115h0m0 1h0m1-125h0m0 52h0m1 15h0m0 34h0m0 32h0m1-134h0m0 45h0m0 14h0m0 60h0m0 20h0m1-97h0m0 57h0m0 2h0m0 34h0m1-116h0m0 19h0m0 2h0m0 72h0m1-73h0m0 11h0m0 1h0m0 57h0m0 5h0m1-96h0m0 26h0m0 21h0m0 76h0m0 1h0m1-114h0m0 8h0m0 12h0m0 68h0m1-96h0m1 89h0m0 12h0m0 32h0m1-36h0m1-73h0m0 8h0m0 104h0m1-114h0m0 9h0m1-44h0m0 112h0m1-105h0m0 22h0m1-15h0m0 89h0m0 12h0m1-100h0m0 5h0m0 76h0m0 7h0m1 16h0m2-13h0m0 19h0m0 4h0m0 12h0m0 17h0m0 26h0m1-137h0m0 2h0m0 113h0m1-166h0m0 23h0m0 111h0m1-18h0m0 8h0m1-89h0m0 115h0m0 2h0m1-135h0m0 8h0m0 36h0m1-91h0m0 52h0m0 98h0m0 10h0m0 16h0m0 4h0m2-156h0m0 113h0m1 62h0m1-104h0m1-33h0m0 93h0m0 3h0m2-28h0m0 32h0m1-151h0m0 64h0m0 13h0m1-43h0m1 81h0m1-84h0m0 24h0m0 5h0m1-32h0m0 20h0m0 6h0m1 28h0m1-83h0m2 11h0m0 17h0m0 1h0m2-11h0m0 50h0m1 57h0m1-144h0m1 34h0m2-1h0m3 15h0m7 49h0m1-89h0m0 44h0m5-10h0m2 24h0m3-56h0m7 155h0m2 39h0m4-185h0m0 26h0m0 11h0m0 97h0m3-168h0m0 78h0m1-13h0m2 27h0m1-53h0m0 127h0m8-160h0m9 88h0m1 9h0m0 107h0m3-175h0m1-43h0m6 176h0m2 2h0m4-134h0m29-14h0m3 165h0m2-192h0m6 66h0m8-55h0m21 13h0m18 27h0" stroke="#ffffff" stroke-width="5.8" stroke-linecap="round" fill="none" stroke-opacity="0.4"/>
<path transform="scale(0.5)" d="M0 0m771 909h0m0 1h0m1-21h0m0 1h0m0 52h0m0 0h0m0 11h0m1-51h0m0 12h0m0 30h0m0 1h0m0 2h0m0 4h0m1-40h0m0 1h0m0 36h0m1-60h0m0 4h0m0 12h0m0 47h0m0 0h0m1-74h0m0 39h0m0 39h0m0 6h0m0 1h0m1-58h0m0 2h0m0 2h0m0 0h0m0 40h0m0 5h0m1-71h0m0 0h0m0 4h0m0 3h0m0 5h0m0 18h0m0 37h0m0 7h0m0 2h0m0 4h0m1-67h0m0 4h0m0 9h0m0 2h0m0 32h0m0 3h0m0 4h0m0 11h0m0 0h0m1-74h0m0 25h0m0 33h0m0 5h0m0 12h0m1-54h0m0 9h0m0 29h0m0 4h0m0 2h0m0 11h0m1-52h0m0 4h0m0 3h0m0 31h0m0 8h0m0 5h0m1-54h0m0 7h0m0 29h0m0 14h0m1-80h0m0 20h0m0 48h0m0 7h0m0 6h0m0 4h0m1-66h0m0 2h0m0 5h0m0 1h0m0 10h0m0 3h0m0 30h0m0 6h0m1-1h0m0 2h0m0 6h0m0 4h0m1-77h0m0 12h0m0 8h0m0 41h0m0 18h0m1-91h0m0 18h0m0 52h0m0 4h0m0 8h0m2-70h0m0 3h0m0 7h0m0 4h0m0 4h0m0 48h0m0 3h0m0 11h0m0 1h0m0 0h0m1-88h0m0 66h0m0 2h0m0 8h0m0 3h0m1-79h0m0 11h0m0 13h0m1-27h0m0 15h0m0 6h0m0 46h0m0 1h0m0 16h0m1-79h0m0 25h0m0 0h0m0 4h0m0 34h0m0 8h0m0 3h0m1 2h0m0 3h0m1-82h0m0 4h0m0 19h0m0 45h0m1-64h0m0 27h0m0 32h0m0 16h0m1-60h0m1-5h0m0 8h0m0 43h0m0 2h0m0 15h0m0 11h0m1-105h0m0 8h0m0 11h0m0 19h0m0 7h0m0 30h0m0 13h0m0 20h0m1-107h0m0 4h0m0 43h0m0 53h0m1-65h0m0 13h0m1-18h0m0 15h0m0 31h0m0 5h0m0 19h0m1-101h0m0 19h0m0 13h0m0 78h0m1-82h0m0 11h0m0 38h0m1-61h0m0 22h0m0 2h0m0 48h0m0 4h0m1-84h0m0 4h0m0 11h0m0 6h0m1-19h0m0 2h0m0 22h0m0 64h0m0 16h0m1-93h0m0 14h0m0 61h0m1-66h0m0 82h0m1-115h0m0 17h0m0 28h0m0 43h0m0 31h0m1-84h0m0 65h0m0 9h0m0 8h0m1-1h0m1-111h0m0 1h0m0 8h0m0 27h0m0 1h0m0 41h0m0 3h0m0 6h0m1-89h0m0 23h0m0 54h0m0 20h0m2-87h0m0 107h0m1-99h0m0 18h0m0 10h0m0 4h0m0 63h0m1-90h0m0 78h0m1-56h0m0 58h0m1-96h0m0 15h0m1-26h0m0 11h0m0 34h0m0 59h0m0 13h0m1-107h0m0 43h0m1-35h0m0 33h0m0 45h0m0 11h0m1-89h0m0 9h0m1-11h0m0 30h0m1 35h0m1-73h0m0 34h0m0 80h0m1-86h0m1-8h0m0 70h0m0 8h0m1-25h0m1-49h0m0 3h0m0 8h0m0 3h0m0 1h0m1-21h0m0 7h0m0 0h0m0 15h0m1-46h0m0 13h0m0 36h0m0 37h0m1-59h0m0 12h0m0 39h0m0 31h0m1-118h0m0 4h0m0 1h0m0 102h0m0 13h0m1-124h0m0 15h0m0 19h0m0 17h0m0 40h0m0 28h0m0 22h0m0 0h0m1-47h0m0 3h0m1-96h0m0 2h0m0 12h0m0 13h0m0 12h0m1-49h0m0 20h0m0 21h0m0 6h0m0 4h0m0 14h0m0 45h0m1-94h0m0 18h0m0 67h0m0 34h0m0 0h0m0 3h0m1-84h0m0 72h0m1-102h0m0 12h0m0 35h0m0 56h0m1-119h0m0 3h0m0 2h0m0 115h0m0 1h0m1-125h0m0 52h0m1 15h0m0 34h0m0 32h0m1-134h0m0 45h0m0 14h0m0 60h0m0 20h0m1-97h0m0 57h0m0 2h0m0 34h0m1-116h0m0 19h0m0 2h0m0 72h0m1-73h0m0 11h0m0 1h0m0 57h0m0 5h0m1-96h0m0 26h0m0 21h0m0 76h0m0 1h0m1-114h0m0 8h0m0 12h0m0 68h0m1-96h0m1 89h0m0 12h0m0 32h0m1-36h0m1-73h0m0 8h0m0 104h0m1-114h0m0 9h0m1-44h0m0 112h0m1-105h0m0 22h0m1-15h0m0 89h0m0 12h0m1-100h0m0 5h0m0 76h0m0 7h0m1 16h0m2-13h0m0 19h0m0 4h0m0 12h0m0 17h0m0 26h0m1-137h0m0 2h0m0 113h0m1-166h0m0 23h0m0 111h0m1-18h0m0 8h0m1-89h0m0 115h0m0 2h0m1-135h0m0 8h0m0 36h0m1-91h0m0 52h0m0 98h0m0 10h0m0 16h0m0 4h0m2-156h0m0 113h0m1 62h0m1-104h0m1-33h0m0 93h0m0 3h0m2-28h0m0 32h0m1-151h0m0 64h0m0 13h0m1-43h0m1 81h0m1-84h0m0 24h0m0 5h0m1-32h0m0 20h0m0 6h0m1 28h0m1-83h0m2 11h0m0 17h0m0 1h0m2-11h0m0 50h0m1 57h0m1-144h0m1 34h0m2-1h0m3 15h0m7 49h0m1-89h0m0 44h0m5-10h0m2 24h0m3-56h0m7 155h0m2 39h0m4-185h0m0 26h0m0 11h0m0 97h0m3-168h0m0 78h0m1-13h0m2 27h0m1-53h0m0 127h0m8-160h0m9 88h0m1 9h0m0 107h0m3-175h0m1-43h0m6 176h0m2 2h0m4-134h0m29-14h0m3 165h0m2-192h0m6 66h0m8-55h0m21 13h0m18 27h0" stroke="#2158f6" stroke-width="4.6" stroke-linecap="round" fill="none"/>
<line x1="365.30" y1="464.90" x2="616.90" y2="433.20" stroke="#e8645a" stroke-width="1.0"/>
<text transform="translate(622.00,433.70) scale(1,1)" font-size="12.3" fill="#111">MR test</text>
<rect x="621.5" y="442.5" width="26" height="25" fill="#ffffff" stroke="#e4e4e4" stroke-width="0.6"/>
<line x1="623.90" y1="464.70" x2="644.90" y2="444.70" stroke="#e0473f" stroke-width="1.7"/>
<text transform="translate(649.80,444.70) scale(1,1)" font-size="8.5" fill="#111">Inverse</text>
<text transform="translate(649.80,456.60) scale(1,1)" font-size="8.5" fill="#111">variance</text>
<text transform="translate(649.80,468.50) scale(1,1)" font-size="8.5" fill="#111">weighted</text>
<rect x="29.00" y="628.70" width="473.80" height="15.60" fill="#86eeee"/>
<clipPath id="cb0"><rect x="29.0" y="628.7" width="473.8" height="15.6"/></clipPath>
<text transform="translate(31.20,639.60) scale(1,1)" font-size="10.65" fill="#1a1a1a">Synaptic Exocytosis in Dementia</text>
<rect x="29.00" y="648.30" width="461.90" height="15.60" fill="#6ddfdf"/>
<clipPath id="cb1"><rect x="29.0" y="648.3" width="461.9" height="15.6"/></clipPath>
<text transform="translate(30.85,659.20) scale(1,1)" font-size="10.65" fill="#1a1a1a">Proteins Involved in Frontotemporal Dementia</text>
<rect x="29.00" y="667.90" width="439.70" height="15.60" fill="#74cfcf"/>
<clipPath id="cb2"><rect x="29.0" y="667.9" width="439.7" height="15.6"/></clipPath>
<text transform="translate(31.20,678.80) scale(1,1)" font-size="10.65" fill="#1a1a1a">Ca2+ Toxicity in Neurons</text>
<rect x="29.00" y="687.50" width="181.10" height="15.60" fill="#196e69"/>
<clipPath id="cb3"><rect x="29.0" y="687.5" width="181.1" height="15.6"/></clipPath>
<text transform="translate(31.40,698.40) scale(1,1)" font-size="10.65" fill="#1a1a1a">Alzheimer's Disease</text>
<g clip-path="url(#cb3)">
<text transform="translate(31.40,698.40) scale(1,1)" font-size="10.65" fill="#ffffff">Alzheimer's Disease</text>
</g>
<rect x="29.00" y="707.10" width="113.70" height="15.60" fill="#1c5c58"/>
<clipPath id="cb4"><rect x="29.0" y="707.1" width="113.7" height="15.6"/></clipPath>
<text transform="translate(32.75,718.00) scale(1,1)" font-size="10.65" fill="#1a1a1a">Mast-Cell Activation without Degranulation through CRHR1 Signaling</text>
<g clip-path="url(#cb4)">
<text transform="translate(32.75,718.00) scale(1,1)" font-size="10.65" fill="#ffffff">Mast-Cell Activation without Degranulation through CRHR1 Signaling</text>
</g>
<rect x="29.00" y="726.70" width="113.70" height="15.60" fill="#1d5b58"/>
<clipPath id="cb5"><rect x="29.0" y="726.7" width="113.7" height="15.6"/></clipPath>
<text transform="translate(30.10,737.60) scale(1,1)" font-size="10.65" fill="#1a1a1a">ARRB1/ARRB2 and GPCRs Internalization</text>
<g clip-path="url(#cb5)">
<text transform="translate(30.10,737.60) scale(1,1)" font-size="10.65" fill="#ffffff">ARRB1/ARRB2 and GPCRs Internalization</text>
</g>
<rect x="29.00" y="746.30" width="87.30" height="15.60" fill="#1f4f4e"/>
<clipPath id="cb6"><rect x="29.0" y="746.3" width="87.3" height="15.6"/></clipPath>
<text transform="translate(29.65,757.20) scale(1,1)" font-size="10.65" fill="#1a1a1a">Proteins Involved in alpha 1-Antitrypsin Deficiency</text>
<g clip-path="url(#cb6)">
<text transform="translate(29.65,757.20) scale(1,1)" font-size="10.65" fill="#ffffff">Proteins Involved in alpha 1-Antitrypsin Deficiency</text>
</g>
<rect x="29.00" y="765.80" width="88.00" height="15.60" fill="#1f4f4e"/>
<clipPath id="cb7"><rect x="29.0" y="765.8" width="88.0" height="15.6"/></clipPath>
<text transform="translate(30.50,776.70) scale(1,1)" font-size="10.65" fill="#1a1a1a">Genes with Mutations Associated with Frontotemporal Dementia</text>
<g clip-path="url(#cb7)">
<text transform="translate(30.50,776.70) scale(1,1)" font-size="10.65" fill="#ffffff">Genes with Mutations Associated with Frontotemporal Dementia</text>
</g>
<rect x="29.00" y="785.40" width="76.10" height="15.60" fill="#1b4545"/>
<clipPath id="cb8"><rect x="29.0" y="785.4" width="76.1" height="15.6"/></clipPath>
<text transform="translate(29.05,796.30) scale(1,1)" font-size="10.65" fill="#1a1a1a">Proteins Involved in Parkinson's Disease</text>
<g clip-path="url(#cb8)">
<text transform="translate(29.05,796.30) scale(1,1)" font-size="10.65" fill="#ffffff">Proteins Involved in Parkinson's Disease</text>
</g>
<rect x="29.00" y="805.00" width="47.20" height="15.60" fill="#152d2e"/>
<clipPath id="cb9"><rect x="29.0" y="805.0" width="47.2" height="15.6"/></clipPath>
<text transform="translate(29.05,815.90) scale(1,1)" font-size="10.65" fill="#1a1a1a">Microtubule Organization Dysregulation (Hypothesis)</text>
<g clip-path="url(#cb9)">
<text transform="translate(29.05,815.90) scale(1,1)" font-size="10.65" fill="#ffffff">Microtubule Organization Dysregulation (Hypothesis)</text>
</g>
<linearGradient id="pg" x1="0" y1="0" x2="0" y2="1"><stop offset="0" stop-color="#86eeee"/><stop offset="0.35" stop-color="#5ab3b3"/><stop offset="0.7" stop-color="#2e6a6a"/><stop offset="1" stop-color="#132829"/></linearGradient>
<text transform="translate(591.20,669.50) scale(1,1)" font-size="10.9" fill="#222">p-value</text>
<rect x="591.20" y="674.00" width="19.00" height="59.60" fill="url(#pg)"/>
<line x1="610.20" y1="677.60" x2="612.60" y2="677.60" stroke="#888" stroke-width="0.7"/>
<line x1="610.20" y1="732.20" x2="612.60" y2="732.20" stroke="#888" stroke-width="0.7"/>
<text transform="translate(615.50,681.30) scale(1,1)" font-size="11.2" fill="#222">0.0006</text>
<text transform="translate(615.50,732.50) scale(1,1)" font-size="11.2" fill="#222">0.01</text>
<rect x="33.6" y="841.1" width="508.0" height="172.5" fill="none" stroke="#e2e2e2" stroke-width="0.8"/>
<line x1="33.60" y1="937.80" x2="541.60" y2="937.80" stroke="#cfcfcf" stroke-width="0.9"/>
<line x1="33.60" y1="905.20" x2="541.60" y2="905.20" stroke="#f07a6a" stroke-width="0.9" stroke-dasharray="3,2"/>
<text transform="translate(33.20,1009.75) scale(1,1)" font-size="9.6" text-anchor="end" fill="#222">0</text>
<text transform="translate(33.20,964.55) scale(1,1)" font-size="9.6" text-anchor="end" fill="#222">2</text>
<text transform="translate(33.20,919.35) scale(1,1)" font-size="9.6" text-anchor="end" fill="#222">4</text>
<text transform="translate(33.20,874.15) scale(1,1)" font-size="9.6" text-anchor="end" fill="#222">6</text>
<text transform="translate(21.60,930.70) rotate(-90) scale(1,1)" font-size="9.3" text-anchor="middle" fill="#222">-log10(p)</text>
<text transform="translate(53.8,1020.4) rotate(45)" font-size="10.5" fill="#222">Cardiovascular</text>
<text transform="translate(98.4,1020.4) rotate(45)" font-size="10.5" fill="#222">Digestive</text>
<text transform="translate(141.7,1020.4) rotate(45)" font-size="10.5" fill="#222">Endocrine</text>
<text transform="translate(178.4,1020.4) rotate(45)" font-size="10.5" fill="#222">Integumentary</text>
<text transform="translate(225.3,1020.4) rotate(45)" font-size="10.5" fill="#222">Lymphatic</text>
<text transform="translate(265.9,1020.4) rotate(45)" font-size="10.5" fill="#222">Muscular</text>
<text transform="translate(304.7,1020.4) rotate(45)" font-size="10.5" fill="#222">Nervous</text>
<text transform="translate(346.9,1020.4) rotate(45)" font-size="10.5" fill="#222">Reproductive</text>
<text transform="translate(389.8,1020.4) rotate(45)" font-size="10.5" fill="#222">Respiratory</text>
<text transform="translate(432.7,1020.4) rotate(45)" font-size="10.5" fill="#222">Sensory</text>
<text transform="translate(473.6,1020.4) rotate(45)" font-size="10.5" fill="#222">Skeletal</text>
<text transform="translate(514.5,1020.4) rotate(45)" font-size="10.5" fill="#222">Urinary</text>
<text transform="translate(320.00,1080.00) scale(1,1)" font-size="12" font-weight="bold" text-anchor="middle" fill="#111">Organ system</text>
<g fill="#f47a72" stroke="#fff" stroke-width="0.45" stroke-opacity="0.55"><circle cx="54.3" cy="920.5" r="2.45"/><circle cx="42.4" cy="963.1" r="2.45"/><circle cx="60.4" cy="963.1" r="2.45"/><circle cx="74.5" cy="962.3" r="2.45"/><circle cx="48.2" cy="971.5" r="2.45"/><circle cx="61.0" cy="976.6" r="2.45"/><circle cx="43.1" cy="978.5" r="2.45"/><circle cx="48.2" cy="979.2" r="2.45"/><circle cx="61.7" cy="978.8" r="2.45"/><circle cx="74.5" cy="978.5" r="2.45"/><circle cx="43.7" cy="991.4" r="2.45"/><circle cx="45.6" cy="991.8" r="2.45"/><circle cx="48.2" cy="991.6" r="2.45"/><circle cx="50.8" cy="991.9" r="2.45"/><circle cx="53.3" cy="991.4" r="2.45"/><circle cx="56.6" cy="991.8" r="2.45"/><circle cx="59.8" cy="991.6" r="2.45"/><circle cx="68.8" cy="990.6" r="2.45"/><circle cx="42.4" cy="1000.4" r="2.45"/><circle cx="45.0" cy="1000.6" r="2.45"/><circle cx="48.2" cy="1000.4" r="2.45"/><circle cx="55.3" cy="1000.6" r="2.45"/><circle cx="57.8" cy="1000.2" r="2.45"/><circle cx="60.4" cy="1000.6" r="2.45"/><circle cx="63.0" cy="999.6" r="2.45"/><circle cx="64.3" cy="1000.6" r="2.45"/><circle cx="71.3" cy="1000.4" r="2.45"/><circle cx="74.5" cy="1000.0" r="2.45"/><circle cx="42.4" cy="1006.2" r="2.45"/><circle cx="44.4" cy="1006.0" r="2.45"/><circle cx="54.0" cy="1006.2" r="2.45"/><circle cx="56.6" cy="1006.3" r="2.45"/><circle cx="59.1" cy="1006.2" r="2.45"/><circle cx="61.7" cy="1006.1" r="2.45"/><circle cx="64.9" cy="1006.2" r="2.45"/><circle cx="67.5" cy="1006.3" r="2.45"/><circle cx="70.7" cy="1006.2" r="2.45"/></g>
<g fill="#df8a17" stroke="#fff" stroke-width="0.45" stroke-opacity="0.55"><circle cx="81.8" cy="1006.4" r="2.45"/><circle cx="85.1" cy="1006.2" r="2.45"/><circle cx="87.4" cy="1006.6" r="2.45"/><circle cx="90.9" cy="1006.2" r="2.45"/><circle cx="93.3" cy="1005.9" r="2.45"/><circle cx="95.4" cy="1006.0" r="2.45"/><circle cx="98.9" cy="1005.7" r="2.45"/><circle cx="101.9" cy="1005.9" r="2.45"/><circle cx="104.0" cy="1005.7" r="2.45"/><circle cx="107.7" cy="1006.5" r="2.45"/><circle cx="110.3" cy="1006.3" r="2.45"/><circle cx="112.1" cy="1006.0" r="2.45"/><circle cx="115.4" cy="1005.7" r="2.45"/><circle cx="118.7" cy="1006.0" r="2.45"/><circle cx="81.8" cy="1001.0" r="2.45"/><circle cx="84.5" cy="1001.1" r="2.45"/><circle cx="87.7" cy="1000.7" r="2.45"/><circle cx="90.3" cy="1000.6" r="2.45"/><circle cx="92.9" cy="1000.0" r="2.45"/><circle cx="96.5" cy="1000.3" r="2.45"/><circle cx="99.2" cy="1000.3" r="2.45"/><circle cx="102.1" cy="1001.1" r="2.45"/><circle cx="104.7" cy="1000.9" r="2.45"/><circle cx="107.2" cy="1000.9" r="2.45"/><circle cx="109.4" cy="1000.6" r="2.45"/><circle cx="113.1" cy="1000.2" r="2.45"/><circle cx="115.9" cy="1001.1" r="2.45"/><circle cx="118.1" cy="1000.4" r="2.45"/><circle cx="82.1" cy="992.4" r="2.45"/><circle cx="85.6" cy="992.4" r="2.45"/><circle cx="87.2" cy="992.0" r="2.45"/><circle cx="90.8" cy="993.1" r="2.45"/><circle cx="93.3" cy="992.5" r="2.45"/><circle cx="96.1" cy="992.8" r="2.45"/><circle cx="98.5" cy="992.6" r="2.45"/><circle cx="101.7" cy="992.6" r="2.45"/><circle cx="104.0" cy="992.1" r="2.45"/><circle cx="106.9" cy="993.0" r="2.45"/><circle cx="109.7" cy="992.6" r="2.45"/><circle cx="112.4" cy="992.0" r="2.45"/><circle cx="114.9" cy="992.9" r="2.45"/><circle cx="118.5" cy="992.3" r="2.45"/><circle cx="85.4" cy="989.7" r="2.45"/><circle cx="90.0" cy="990.0" r="2.45"/><circle cx="93.7" cy="990.1" r="2.45"/><circle cx="98.6" cy="989.6" r="2.45"/><circle cx="102.8" cy="989.5" r="2.45"/><circle cx="106.5" cy="989.2" r="2.45"/><circle cx="111.4" cy="989.1" r="2.45"/><circle cx="114.7" cy="989.9" r="2.45"/><circle cx="82.5" cy="980.0" r="2.45"/><circle cx="85.6" cy="979.5" r="2.45"/><circle cx="87.9" cy="979.7" r="2.45"/><circle cx="91.1" cy="979.6" r="2.45"/><circle cx="93.7" cy="979.8" r="2.45"/><circle cx="97.7" cy="980.6" r="2.45"/><circle cx="100.5" cy="980.0" r="2.45"/><circle cx="102.9" cy="980.6" r="2.45"/><circle cx="106.2" cy="980.3" r="2.45"/><circle cx="108.6" cy="979.7" r="2.45"/><circle cx="112.6" cy="980.4" r="2.45"/><circle cx="115.7" cy="980.1" r="2.45"/><circle cx="118.1" cy="980.1" r="2.45"/><circle cx="86.6" cy="975.8" r="2.45"/><circle cx="93.2" cy="975.7" r="2.45"/><circle cx="100.5" cy="975.4" r="2.45"/><circle cx="107.4" cy="976.5" r="2.45"/><circle cx="113.6" cy="976.1" r="2.45"/><circle cx="87.4" cy="965.4" r="2.45"/><circle cx="92.1" cy="964.7" r="2.45"/><circle cx="96.8" cy="965.6" r="2.45"/><circle cx="102.2" cy="964.6" r="2.45"/><circle cx="106.0" cy="964.5" r="2.45"/><circle cx="110.8" cy="964.9" r="2.45"/><circle cx="115.8" cy="965.4" r="2.45"/><circle cx="95.4" cy="959.1" r="2.45"/><circle cx="116.2" cy="959.3" r="2.45"/><circle cx="105.7" cy="944.7" r="2.45"/><circle cx="108.8" cy="944.6" r="2.45"/><circle cx="112.6" cy="945.3" r="2.45"/><circle cx="116.3" cy="944.5" r="2.45"/><circle cx="94.2" cy="880.0" r="2.45"/><circle cx="88.0" cy="941.9" r="2.45"/><circle cx="88.7" cy="947.7" r="2.45"/></g>
<g fill="#b39c1f" stroke="#fff" stroke-width="0.45" stroke-opacity="0.55"><circle cx="125.3" cy="1006.6" r="2.45"/><circle cx="129.3" cy="1006.5" r="2.45"/><circle cx="132.4" cy="1006.2" r="2.45"/><circle cx="136.5" cy="1006.5" r="2.45"/><circle cx="140.6" cy="1006.5" r="2.45"/><circle cx="144.7" cy="1006.4" r="2.45"/><circle cx="148.8" cy="1005.7" r="2.45"/><circle cx="152.9" cy="1006.0" r="2.45"/><circle cx="157.5" cy="1006.0" r="2.45"/><circle cx="127.0" cy="1000.7" r="2.45"/><circle cx="130.7" cy="1000.1" r="2.45"/><circle cx="133.5" cy="1000.6" r="2.45"/><circle cx="136.9" cy="1001.2" r="2.45"/><circle cx="139.6" cy="1000.8" r="2.45"/><circle cx="143.0" cy="1000.7" r="2.45"/><circle cx="145.7" cy="1001.0" r="2.45"/><circle cx="150.0" cy="1000.4" r="2.45"/><circle cx="152.4" cy="1001.2" r="2.45"/><circle cx="155.3" cy="1000.1" r="2.45"/><circle cx="158.5" cy="1001.0" r="2.45"/><circle cx="128.3" cy="991.4" r="2.45"/><circle cx="132.0" cy="990.9" r="2.45"/><circle cx="135.8" cy="991.4" r="2.45"/><circle cx="139.5" cy="991.4" r="2.45"/><circle cx="143.2" cy="991.2" r="2.45"/><circle cx="146.6" cy="991.4" r="2.45"/><circle cx="150.7" cy="991.7" r="2.45"/><circle cx="129.2" cy="926.8" r="2.45"/><circle cx="131.3" cy="963.8" r="2.45"/><circle cx="146.6" cy="959.3" r="2.45"/><circle cx="145.0" cy="978.5" r="2.45"/><circle cx="152.0" cy="976.2" r="2.45"/><circle cx="152.8" cy="980.2" r="2.45"/></g>
<g fill="#7dae22" stroke="#fff" stroke-width="0.45" stroke-opacity="0.55"><circle cx="169.2" cy="1006.5" r="2.45"/><circle cx="173.2" cy="1005.9" r="2.45"/><circle cx="177.5" cy="1006.2" r="2.45"/><circle cx="182.2" cy="1006.8" r="2.45"/><circle cx="186.0" cy="1006.2" r="2.45"/><circle cx="190.9" cy="1006.5" r="2.45"/><circle cx="195.8" cy="1006.5" r="2.45"/><circle cx="200.0" cy="1006.5" r="2.45"/><circle cx="169.0" cy="1001.0" r="2.45"/><circle cx="173.0" cy="1000.8" r="2.45"/><circle cx="176.5" cy="1001.1" r="2.45"/><circle cx="180.7" cy="1000.7" r="2.45"/><circle cx="185.2" cy="1001.2" r="2.45"/><circle cx="189.4" cy="1000.0" r="2.45"/><circle cx="192.6" cy="1000.4" r="2.45"/><circle cx="196.7" cy="1000.2" r="2.45"/><circle cx="166.9" cy="991.0" r="2.45"/><circle cx="170.9" cy="992.0" r="2.45"/><circle cx="175.8" cy="991.5" r="2.45"/><circle cx="179.3" cy="992.0" r="2.45"/><circle cx="184.4" cy="991.1" r="2.45"/><circle cx="188.3" cy="991.7" r="2.45"/><circle cx="193.0" cy="991.2" r="2.45"/><circle cx="172.0" cy="963.8" r="2.45"/><circle cx="197.0" cy="963.8" r="2.45"/><circle cx="187.0" cy="975.5" r="2.45"/><circle cx="186.0" cy="980.0" r="2.45"/><circle cx="200.0" cy="980.0" r="2.45"/></g>
<g fill="#3c9a55" stroke="#fff" stroke-width="0.45" stroke-opacity="0.55"><circle cx="209.1" cy="1006.0" r="2.45"/><circle cx="212.2" cy="1006.6" r="2.45"/><circle cx="216.0" cy="1006.4" r="2.45"/><circle cx="219.9" cy="1006.3" r="2.45"/><circle cx="223.9" cy="1006.1" r="2.45"/><circle cx="228.6" cy="1006.2" r="2.45"/><circle cx="231.9" cy="1006.3" r="2.45"/><circle cx="235.6" cy="1005.8" r="2.45"/><circle cx="239.6" cy="1005.9" r="2.45"/><circle cx="243.2" cy="1006.8" r="2.45"/><circle cx="208.0" cy="1001.0" r="2.45"/><circle cx="213.0" cy="1000.8" r="2.45"/><circle cx="215.8" cy="1000.6" r="2.45"/><circle cx="219.7" cy="1000.7" r="2.45"/><circle cx="224.4" cy="1000.3" r="2.45"/><circle cx="227.5" cy="1000.7" r="2.45"/><circle cx="231.4" cy="1000.4" r="2.45"/><circle cx="235.8" cy="1001.1" r="2.45"/><circle cx="239.6" cy="1000.2" r="2.45"/><circle cx="244.0" cy="1001.0" r="2.45"/><circle cx="207.6" cy="991.5" r="2.45"/><circle cx="211.2" cy="991.9" r="2.45"/><circle cx="215.7" cy="991.7" r="2.45"/><circle cx="220.0" cy="992.4" r="2.45"/><circle cx="224.1" cy="992.5" r="2.45"/><circle cx="227.0" cy="992.1" r="2.45"/><circle cx="231.1" cy="992.5" r="2.45"/><circle cx="235.9" cy="992.3" r="2.45"/><circle cx="239.2" cy="991.5" r="2.45"/><circle cx="244.0" cy="992.1" r="2.45"/><circle cx="210.7" cy="988.5" r="2.45"/><circle cx="216.4" cy="988.3" r="2.45"/><circle cx="221.1" cy="988.3" r="2.45"/><circle cx="226.6" cy="988.7" r="2.45"/><circle cx="232.7" cy="988.0" r="2.45"/><circle cx="237.1" cy="988.5" r="2.45"/><circle cx="209.8" cy="978.6" r="2.45"/><circle cx="213.9" cy="978.5" r="2.45"/><circle cx="218.2" cy="979.0" r="2.45"/><circle cx="223.5" cy="979.2" r="2.45"/><circle cx="227.5" cy="978.5" r="2.45"/><circle cx="233.0" cy="979.0" r="2.45"/><circle cx="236.9" cy="979.2" r="2.45"/><circle cx="241.9" cy="979.0" r="2.45"/><circle cx="208.1" cy="964.4" r="2.45"/><circle cx="212.5" cy="963.4" r="2.45"/><circle cx="217.0" cy="964.0" r="2.45"/><circle cx="221.6" cy="963.6" r="2.45"/><circle cx="226.0" cy="964.0" r="2.45"/><circle cx="229.6" cy="964.4" r="2.45"/><circle cx="234.7" cy="964.5" r="2.45"/><circle cx="238.8" cy="963.7" r="2.45"/><circle cx="225.3" cy="900.8" r="2.45"/><circle cx="230.0" cy="920.4" r="2.45"/><circle cx="229.9" cy="926.8" r="2.45"/><circle cx="217.9" cy="944.9" r="2.45"/><circle cx="228.8" cy="944.9" r="2.45"/><circle cx="238.4" cy="947.5" r="2.45"/></g>
<g fill="#1bbf8c" stroke="#fff" stroke-width="0.45" stroke-opacity="0.55"><circle cx="264.4" cy="959.4" r="2.45"/><circle cx="272.1" cy="947.5" r="2.45"/><circle cx="254.6" cy="1006.2" r="2.45"/><circle cx="258.3" cy="1006.2" r="2.45"/><circle cx="264.5" cy="1006.2" r="2.45"/><circle cx="272.0" cy="1006.2" r="2.45"/><circle cx="281.9" cy="1006.2" r="2.45"/><circle cx="255.8" cy="1001.2" r="2.45"/><circle cx="259.6" cy="1001.2" r="2.45"/><circle cx="263.3" cy="1001.2" r="2.45"/><circle cx="270.8" cy="1001.2" r="2.45"/><circle cx="274.5" cy="1001.2" r="2.45"/><circle cx="257.0" cy="991.5" r="2.45"/><circle cx="260.8" cy="991.5" r="2.45"/><circle cx="267.0" cy="991.0" r="2.45"/><circle cx="270.8" cy="991.5" r="2.45"/><circle cx="274.5" cy="991.0" r="2.45"/><circle cx="279.0" cy="991.8" r="2.45"/><circle cx="256.5" cy="993.5" r="2.45"/><circle cx="263.3" cy="980.6" r="2.45"/><circle cx="266.5" cy="980.6" r="2.45"/><circle cx="277.4" cy="980.6" r="2.45"/></g>
<g fill="#1abcc5" stroke="#fff" stroke-width="0.45" stroke-opacity="0.55"><circle cx="294.5" cy="1006.7" r="2.45"/><circle cx="297.7" cy="1006.7" r="2.45"/><circle cx="301.6" cy="1006.1" r="2.45"/><circle cx="305.0" cy="1006.7" r="2.45"/><circle cx="308.3" cy="1005.6" r="2.45"/><circle cx="311.2" cy="1006.3" r="2.45"/><circle cx="314.9" cy="1006.5" r="2.45"/><circle cx="318.4" cy="1005.8" r="2.45"/><circle cx="293.7" cy="1000.6" r="2.45"/><circle cx="297.0" cy="1000.2" r="2.45"/><circle cx="300.4" cy="1000.7" r="2.45"/><circle cx="303.4" cy="1000.9" r="2.45"/><circle cx="306.9" cy="1000.4" r="2.45"/><circle cx="309.2" cy="1000.5" r="2.45"/><circle cx="312.6" cy="1000.6" r="2.45"/><circle cx="316.7" cy="1000.4" r="2.45"/><circle cx="319.2" cy="1000.0" r="2.45"/><circle cx="322.8" cy="1000.7" r="2.45"/><circle cx="325.6" cy="1000.8" r="2.45"/><circle cx="290.9" cy="991.0" r="2.45"/><circle cx="295.2" cy="991.5" r="2.45"/><circle cx="298.7" cy="991.5" r="2.45"/><circle cx="301.2" cy="991.2" r="2.45"/><circle cx="305.1" cy="991.7" r="2.45"/><circle cx="309.0" cy="991.8" r="2.45"/><circle cx="312.4" cy="991.2" r="2.45"/><circle cx="315.6" cy="991.4" r="2.45"/><circle cx="319.2" cy="991.2" r="2.45"/><circle cx="296.2" cy="979.0" r="2.45"/><circle cx="300.8" cy="979.4" r="2.45"/><circle cx="306.7" cy="979.4" r="2.45"/><circle cx="312.1" cy="979.3" r="2.45"/><circle cx="317.6" cy="978.9" r="2.45"/><circle cx="322.1" cy="978.4" r="2.45"/><circle cx="316.9" cy="875.6" r="2.45"/><circle cx="313.1" cy="900.7" r="2.45"/><circle cx="318.4" cy="916.8" r="2.45"/><circle cx="324.8" cy="916.8" r="2.45"/><circle cx="298.5" cy="923.8" r="2.45"/><circle cx="302.5" cy="923.8" r="2.45"/><circle cx="306.3" cy="923.8" r="2.45"/><circle cx="310.2" cy="923.8" r="2.45"/><circle cx="302.3" cy="938.7" r="2.45"/><circle cx="320.4" cy="938.7" r="2.45"/><circle cx="291.8" cy="945.0" r="2.45"/><circle cx="299.8" cy="945.0" r="2.45"/><circle cx="306.7" cy="945.0" r="2.45"/><circle cx="316.7" cy="945.0" r="2.45"/><circle cx="321.6" cy="945.0" r="2.45"/><circle cx="301.5" cy="941.0" r="2.45"/><circle cx="319.5" cy="941.0" r="2.45"/><circle cx="304.8" cy="959.7" r="2.45"/><circle cx="315.0" cy="961.6" r="2.45"/><circle cx="318.9" cy="963.5" r="2.45"/><circle cx="325.2" cy="959.7" r="2.45"/><circle cx="304.5" cy="976.0" r="2.45"/></g>
<g fill="#2a95c2" stroke="#fff" stroke-width="0.45" stroke-opacity="0.55"><circle cx="335.2" cy="1006.3" r="2.45"/><circle cx="338.6" cy="1006.8" r="2.45"/><circle cx="341.7" cy="1005.9" r="2.45"/><circle cx="345.9" cy="1006.6" r="2.45"/><circle cx="349.2" cy="1005.7" r="2.45"/><circle cx="352.6" cy="1006.6" r="2.45"/><circle cx="356.3" cy="1006.2" r="2.45"/><circle cx="359.8" cy="1006.4" r="2.45"/><circle cx="363.6" cy="1006.4" r="2.45"/><circle cx="367.4" cy="1006.5" r="2.45"/><circle cx="333.8" cy="1000.3" r="2.45"/><circle cx="337.7" cy="1001.0" r="2.45"/><circle cx="341.3" cy="1000.2" r="2.45"/><circle cx="344.6" cy="1001.1" r="2.45"/><circle cx="347.1" cy="1000.4" r="2.45"/><circle cx="351.2" cy="1000.2" r="2.45"/><circle cx="354.8" cy="1000.3" r="2.45"/><circle cx="358.0" cy="1000.4" r="2.45"/><circle cx="360.9" cy="1000.2" r="2.45"/><circle cx="364.6" cy="1000.9" r="2.45"/><circle cx="367.7" cy="1000.8" r="2.45"/><circle cx="334.8" cy="991.7" r="2.45"/><circle cx="338.3" cy="991.1" r="2.45"/><circle cx="341.5" cy="991.0" r="2.45"/><circle cx="345.6" cy="991.4" r="2.45"/><circle cx="348.3" cy="992.0" r="2.45"/><circle cx="352.4" cy="990.9" r="2.45"/><circle cx="355.9" cy="991.6" r="2.45"/><circle cx="359.0" cy="991.5" r="2.45"/><circle cx="363.1" cy="991.3" r="2.45"/><circle cx="366.2" cy="991.7" r="2.45"/><circle cx="350.8" cy="988.3" r="2.45"/><circle cx="354.6" cy="988.7" r="2.45"/><circle cx="357.6" cy="988.5" r="2.45"/><circle cx="360.7" cy="988.8" r="2.45"/><circle cx="345.4" cy="979.2" r="2.45"/><circle cx="350.1" cy="978.7" r="2.45"/><circle cx="354.5" cy="979.1" r="2.45"/><circle cx="358.1" cy="979.0" r="2.45"/><circle cx="362.4" cy="979.4" r="2.45"/><circle cx="366.8" cy="978.8" r="2.45"/><circle cx="352.2" cy="947.5" r="2.45"/><circle cx="365.1" cy="973.2" r="2.45"/><circle cx="359.3" cy="963.5" r="2.45"/><circle cx="361.8" cy="965.5" r="2.45"/><circle cx="334.2" cy="973.2" r="2.45"/><circle cx="334.2" cy="976.4" r="2.45"/></g>
<g fill="#5e9cf6" stroke="#fff" stroke-width="0.45" stroke-opacity="0.55"><circle cx="380.5" cy="1005.4" r="2.45"/><circle cx="383.5" cy="1005.5" r="2.45"/><circle cx="387.2" cy="1006.3" r="2.45"/><circle cx="389.8" cy="1005.4" r="2.45"/><circle cx="393.3" cy="1005.4" r="2.45"/><circle cx="396.2" cy="1006.2" r="2.45"/><circle cx="399.1" cy="1006.1" r="2.45"/><circle cx="402.6" cy="1005.4" r="2.45"/><circle cx="405.4" cy="1006.0" r="2.45"/><circle cx="408.3" cy="1005.5" r="2.45"/><circle cx="375.9" cy="1000.7" r="2.45"/><circle cx="378.8" cy="1000.5" r="2.45"/><circle cx="381.2" cy="1000.1" r="2.45"/><circle cx="384.6" cy="1000.8" r="2.45"/><circle cx="387.6" cy="1000.6" r="2.45"/><circle cx="390.2" cy="1000.3" r="2.45"/><circle cx="394.3" cy="1000.6" r="2.45"/><circle cx="396.9" cy="999.9" r="2.45"/><circle cx="400.3" cy="999.8" r="2.45"/><circle cx="403.4" cy="1000.6" r="2.45"/><circle cx="406.1" cy="1000.3" r="2.45"/><circle cx="408.4" cy="1000.1" r="2.45"/><circle cx="376.0" cy="991.0" r="2.45"/><circle cx="379.0" cy="991.2" r="2.45"/><circle cx="381.9" cy="990.5" r="2.45"/><circle cx="385.2" cy="990.6" r="2.45"/><circle cx="389.4" cy="991.1" r="2.45"/><circle cx="391.9" cy="990.6" r="2.45"/><circle cx="395.1" cy="991.0" r="2.45"/><circle cx="398.8" cy="990.5" r="2.45"/><circle cx="402.0" cy="991.2" r="2.45"/><circle cx="405.4" cy="991.0" r="2.45"/><circle cx="409.0" cy="990.8" r="2.45"/><circle cx="400.7" cy="900.7" r="2.45"/><circle cx="387.9" cy="942.0" r="2.45"/><circle cx="395.5" cy="942.0" r="2.45"/><circle cx="387.9" cy="963.2" r="2.45"/><circle cx="396.3" cy="963.2" r="2.45"/><circle cx="384.1" cy="978.8" r="2.45"/><circle cx="387.9" cy="978.8" r="2.45"/><circle cx="392.5" cy="978.8" r="2.45"/><circle cx="398.1" cy="978.8" r="2.45"/><circle cx="400.7" cy="978.0" r="2.45"/><circle cx="402.7" cy="978.8" r="2.45"/></g>
<g fill="#c67cf2" stroke="#fff" stroke-width="0.45" stroke-opacity="0.55"><circle cx="420.7" cy="1005.7" r="2.45"/><circle cx="424.1" cy="1005.9" r="2.45"/><circle cx="428.1" cy="1005.7" r="2.45"/><circle cx="431.8" cy="1006.4" r="2.45"/><circle cx="435.9" cy="1005.5" r="2.45"/><circle cx="439.3" cy="1005.6" r="2.45"/><circle cx="444.2" cy="1005.7" r="2.45"/><circle cx="447.8" cy="1005.6" r="2.45"/><circle cx="418.8" cy="1000.9" r="2.45"/><circle cx="422.4" cy="1001.0" r="2.45"/><circle cx="425.6" cy="1000.7" r="2.45"/><circle cx="429.4" cy="1001.4" r="2.45"/><circle cx="433.1" cy="1001.0" r="2.45"/><circle cx="436.2" cy="1001.5" r="2.45"/><circle cx="440.3" cy="1000.6" r="2.45"/><circle cx="443.7" cy="1001.3" r="2.45"/><circle cx="447.3" cy="1001.6" r="2.45"/><circle cx="451.1" cy="1000.7" r="2.45"/><circle cx="420.0" cy="904.2" r="2.45"/><circle cx="425.0" cy="904.2" r="2.45"/><circle cx="430.8" cy="942.0" r="2.45"/><circle cx="420.3" cy="961.2" r="2.45"/><circle cx="419.3" cy="965.0" r="2.45"/><circle cx="426.7" cy="965.0" r="2.45"/><circle cx="430.0" cy="961.2" r="2.45"/><circle cx="435.1" cy="965.0" r="2.45"/><circle cx="436.9" cy="961.2" r="2.45"/><circle cx="440.8" cy="956.8" r="2.45"/><circle cx="445.1" cy="965.0" r="2.45"/><circle cx="418.0" cy="977.5" r="2.45"/><circle cx="421.9" cy="979.8" r="2.45"/><circle cx="435.1" cy="977.5" r="2.45"/><circle cx="436.4" cy="980.3" r="2.45"/><circle cx="442.8" cy="977.5" r="2.45"/><circle cx="446.6" cy="979.1" r="2.45"/><circle cx="444.0" cy="980.3" r="2.45"/><circle cx="416.8" cy="991.3" r="2.45"/><circle cx="419.0" cy="992.0" r="2.45"/><circle cx="421.1" cy="991.3" r="2.45"/><circle cx="431.3" cy="991.3" r="2.45"/><circle cx="435.5" cy="991.6" r="2.45"/><circle cx="439.5" cy="991.3" r="2.45"/><circle cx="443.5" cy="991.8" r="2.45"/><circle cx="447.5" cy="991.3" r="2.45"/><circle cx="451.8" cy="991.6" r="2.45"/></g>
<g fill="#a5489f" stroke="#fff" stroke-width="0.45" stroke-opacity="0.55"><circle cx="460.7" cy="988.8" r="2.45"/><circle cx="465.0" cy="999.7" r="2.45"/><circle cx="469.6" cy="999.7" r="2.45"/><circle cx="479.9" cy="999.7" r="2.45"/><circle cx="486.2" cy="999.7" r="2.45"/><circle cx="464.5" cy="1006.1" r="2.45"/><circle cx="474.0" cy="1006.1" r="2.45"/><circle cx="481.1" cy="1006.1" r="2.45"/></g>
<g fill="#f23b90" stroke="#fff" stroke-width="0.45" stroke-opacity="0.55"><circle cx="503.8" cy="1005.7" r="2.45"/><circle cx="506.2" cy="1006.5" r="2.45"/><circle cx="509.0" cy="1005.8" r="2.45"/><circle cx="512.7" cy="1005.6" r="2.45"/><circle cx="515.4" cy="1006.3" r="2.45"/><circle cx="518.9" cy="1006.2" r="2.45"/><circle cx="522.2" cy="1006.3" r="2.45"/><circle cx="525.5" cy="1006.3" r="2.45"/><circle cx="528.7" cy="1005.9" r="2.45"/><circle cx="531.4" cy="1005.9" r="2.45"/><circle cx="502.8" cy="999.9" r="2.45"/><circle cx="505.1" cy="999.9" r="2.45"/><circle cx="508.0" cy="999.3" r="2.45"/><circle cx="511.1" cy="999.3" r="2.45"/><circle cx="513.6" cy="999.2" r="2.45"/><circle cx="517.1" cy="1000.0" r="2.45"/><circle cx="519.7" cy="999.9" r="2.45"/><circle cx="522.7" cy="999.7" r="2.45"/><circle cx="526.0" cy="999.6" r="2.45"/><circle cx="529.5" cy="999.6" r="2.45"/><circle cx="532.1" cy="1000.0" r="2.45"/><circle cx="534.7" cy="999.5" r="2.45"/><circle cx="514.9" cy="958.9" r="2.45"/><circle cx="514.4" cy="961.9" r="2.45"/><circle cx="528.4" cy="963.2" r="2.45"/><circle cx="501.1" cy="976.5" r="2.45"/><circle cx="507.2" cy="979.1" r="2.45"/><circle cx="510.5" cy="977.8" r="2.45"/><circle cx="515.6" cy="975.2" r="2.45"/><circle cx="519.5" cy="979.1" r="2.45"/><circle cx="531.5" cy="974.7" r="2.45"/><circle cx="530.4" cy="979.1" r="2.45"/><circle cx="500.8" cy="989.5" r="2.45"/><circle cx="511.8" cy="992.1" r="2.45"/><circle cx="521.3" cy="989.5" r="2.45"/><circle cx="527.1" cy="989.5" r="2.45"/><circle cx="528.4" cy="992.1" r="2.45"/><circle cx="502.5" cy="990.5" r="2.45"/></g>
<text transform="translate(115.80,868.20) scale(1,1)" font-size="8.7" text-anchor="middle" fill="#d98e25">intestinal</text>
<text transform="translate(115.80,873.90) scale(1,1)" font-size="8.7" text-anchor="middle" fill="#d98e25">enteroendocrine cell</text>
<text transform="translate(223.00,890.00) scale(1,1)" font-size="8.7" text-anchor="middle" fill="#3c9a55">classical</text>
<text transform="translate(223.00,895.70) scale(1,1)" font-size="8.7" text-anchor="middle" fill="#3c9a55">monocyte</text>
<text transform="translate(299.50,867.70) scale(1,1)" font-size="8.7" text-anchor="middle" fill="#1ab8c2">Excitatory</text>
<text transform="translate(299.50,873.10) scale(1,1)" font-size="8.7" text-anchor="middle" fill="#1ab8c2">neuron</text>
<text transform="translate(320.60,894.60) scale(1,1)" font-size="8.7" text-anchor="middle" fill="#1ab8c2">Purkinje</text>
<text transform="translate(320.60,899.90) scale(1,1)" font-size="8.7" text-anchor="middle" fill="#1ab8c2">cell</text>
<text transform="translate(386.80,889.60) scale(1,1)" font-size="8.7" text-anchor="middle" fill="#5e9cf6">type ii</text>
<text transform="translate(386.80,895.50) scale(1,1)" font-size="8.7" text-anchor="middle" fill="#5e9cf6">pneumocyte</text>
<text transform="translate(426.80,894.30) scale(1,1)" font-size="8.7" text-anchor="middle" fill="#c67cf2">muller</text>
<text transform="translate(426.80,899.50) scale(1,1)" font-size="8.7" text-anchor="middle" fill="#c67cf2">cell</text>
<text transform="translate(440.60,913.30) scale(1,1)" font-size="8.7" text-anchor="middle" fill="#c67cf2">retinal</text>
<text transform="translate(440.60,918.60) scale(1,1)" font-size="8.7" text-anchor="middle" fill="#c67cf2">bipolar</text>
<text transform="translate(440.60,923.90) scale(1,1)" font-size="8.7" text-anchor="middle" fill="#c67cf2">neuron</text>
<text transform="translate(591.00,911.80) scale(1,1)" font-size="12.3" text-anchor="middle" fill="#222">Significance</text>
<text transform="translate(591.20,921.00) scale(1,1)" font-size="12.3" text-anchor="middle" fill="#222">threshold</text>
<rect x="551.4" y="930.0" width="14.1" height="14.3" fill="#ffffff" stroke="#dcdcdc" stroke-width="0.6"/>
<line x1="554.60" y1="937.30" x2="562.90" y2="937.30" stroke="#d63a30" stroke-width="1.5"/>
<text transform="translate(568.30,940.60) scale(1,1)" font-size="12.1" fill="#222">p.adj = 0.05</text>
</svg></body></html>
